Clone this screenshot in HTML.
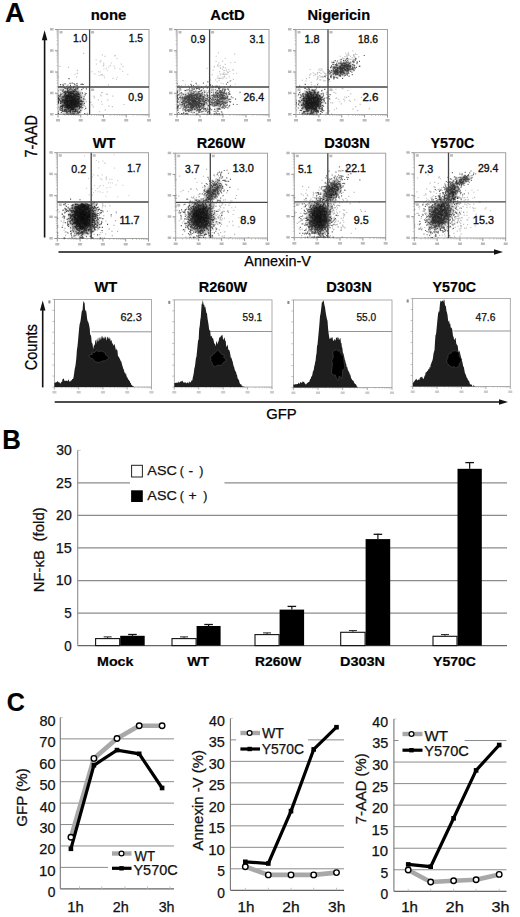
<!DOCTYPE html>
<html><head><meta charset="utf-8"><style>
html,body{margin:0;padding:0;background:#fff;}
body{width:520px;height:917px;overflow:hidden;}
svg{display:block;font-family:"Liberation Sans", sans-serif;}
</style></head><body>
<svg width="520" height="917" viewBox="0 0 520 917">
<defs><radialGradient id="cg"><stop offset="0" stop-color="#000" stop-opacity="1"/><stop offset="0.5" stop-color="#000" stop-opacity="0.85"/><stop offset="0.78" stop-color="#000" stop-opacity="0.35"/><stop offset="1" stop-color="#000" stop-opacity="0"/></radialGradient><clipPath id="c0"><rect x="58" y="29.5" width="91" height="85"/></clipPath><clipPath id="c1"><rect x="177" y="29.5" width="92" height="85"/></clipPath><clipPath id="c2"><rect x="296" y="29.5" width="91.5" height="85"/></clipPath><clipPath id="c3"><rect x="57.3" y="152.7" width="91.2" height="85.8"/></clipPath><clipPath id="c4"><rect x="57.3" y="203.5" width="91.2" height="35"/></clipPath><clipPath id="c5"><rect x="175.7" y="153.2" width="91.8" height="84.8"/></clipPath><clipPath id="c6"><rect x="294.3" y="153.2" width="91.4" height="84.4"/></clipPath><clipPath id="c7"><rect x="414.3" y="152.7" width="91.4" height="85.3"/></clipPath></defs>
<rect width="520" height="917" fill="#fff"/>
<text x="5.12" y="21.7" font-size="27.03" font-weight="bold" stroke="#000" stroke-width="0.2" fill="#000" textLength="19.59" lengthAdjust="spacingAndGlyphs">A</text>
<line x1="55" y1="114.5" x2="58" y2="114.5" stroke="#777" stroke-width="0.8"/>
<rect x="50" y="113" width="3.5" height="2.5" fill="#bbb"/>
<line x1="56.5" y1="108.1" x2="58" y2="108.1" stroke="#aaa" stroke-width="0.6"/>
<line x1="56.5" y1="104.36" x2="58" y2="104.36" stroke="#aaa" stroke-width="0.6"/>
<line x1="56.5" y1="101.71" x2="58" y2="101.71" stroke="#aaa" stroke-width="0.6"/>
<line x1="56.5" y1="99.65" x2="58" y2="99.65" stroke="#aaa" stroke-width="0.6"/>
<line x1="56.5" y1="97.96" x2="58" y2="97.96" stroke="#aaa" stroke-width="0.6"/>
<line x1="56.5" y1="96.54" x2="58" y2="96.54" stroke="#aaa" stroke-width="0.6"/>
<line x1="56.5" y1="95.31" x2="58" y2="95.31" stroke="#aaa" stroke-width="0.6"/>
<line x1="56.5" y1="94.22" x2="58" y2="94.22" stroke="#aaa" stroke-width="0.6"/>
<line x1="55" y1="93.25" x2="58" y2="93.25" stroke="#777" stroke-width="0.8"/>
<rect x="50" y="91.75" width="3.5" height="2.5" fill="#bbb"/>
<line x1="56.5" y1="86.85" x2="58" y2="86.85" stroke="#aaa" stroke-width="0.6"/>
<line x1="56.5" y1="83.11" x2="58" y2="83.11" stroke="#aaa" stroke-width="0.6"/>
<line x1="56.5" y1="80.46" x2="58" y2="80.46" stroke="#aaa" stroke-width="0.6"/>
<line x1="56.5" y1="78.4" x2="58" y2="78.4" stroke="#aaa" stroke-width="0.6"/>
<line x1="56.5" y1="76.71" x2="58" y2="76.71" stroke="#aaa" stroke-width="0.6"/>
<line x1="56.5" y1="75.29" x2="58" y2="75.29" stroke="#aaa" stroke-width="0.6"/>
<line x1="56.5" y1="74.06" x2="58" y2="74.06" stroke="#aaa" stroke-width="0.6"/>
<line x1="56.5" y1="72.97" x2="58" y2="72.97" stroke="#aaa" stroke-width="0.6"/>
<line x1="55" y1="72" x2="58" y2="72" stroke="#777" stroke-width="0.8"/>
<rect x="50" y="70.5" width="3.5" height="2.5" fill="#bbb"/>
<line x1="56.5" y1="65.6" x2="58" y2="65.6" stroke="#aaa" stroke-width="0.6"/>
<line x1="56.5" y1="61.86" x2="58" y2="61.86" stroke="#aaa" stroke-width="0.6"/>
<line x1="56.5" y1="59.21" x2="58" y2="59.21" stroke="#aaa" stroke-width="0.6"/>
<line x1="56.5" y1="57.15" x2="58" y2="57.15" stroke="#aaa" stroke-width="0.6"/>
<line x1="56.5" y1="55.46" x2="58" y2="55.46" stroke="#aaa" stroke-width="0.6"/>
<line x1="56.5" y1="54.04" x2="58" y2="54.04" stroke="#aaa" stroke-width="0.6"/>
<line x1="56.5" y1="52.81" x2="58" y2="52.81" stroke="#aaa" stroke-width="0.6"/>
<line x1="56.5" y1="51.72" x2="58" y2="51.72" stroke="#aaa" stroke-width="0.6"/>
<line x1="55" y1="50.75" x2="58" y2="50.75" stroke="#777" stroke-width="0.8"/>
<rect x="50" y="49.25" width="3.5" height="2.5" fill="#bbb"/>
<line x1="56.5" y1="44.35" x2="58" y2="44.35" stroke="#aaa" stroke-width="0.6"/>
<line x1="56.5" y1="40.61" x2="58" y2="40.61" stroke="#aaa" stroke-width="0.6"/>
<line x1="56.5" y1="37.96" x2="58" y2="37.96" stroke="#aaa" stroke-width="0.6"/>
<line x1="56.5" y1="35.9" x2="58" y2="35.9" stroke="#aaa" stroke-width="0.6"/>
<line x1="56.5" y1="34.21" x2="58" y2="34.21" stroke="#aaa" stroke-width="0.6"/>
<line x1="56.5" y1="32.79" x2="58" y2="32.79" stroke="#aaa" stroke-width="0.6"/>
<line x1="56.5" y1="31.56" x2="58" y2="31.56" stroke="#aaa" stroke-width="0.6"/>
<line x1="56.5" y1="30.47" x2="58" y2="30.47" stroke="#aaa" stroke-width="0.6"/>
<line x1="55" y1="29.5" x2="58" y2="29.5" stroke="#777" stroke-width="0.8"/>
<rect x="50" y="28" width="3.5" height="2.5" fill="#bbb"/>
<line x1="58" y1="114.5" x2="58" y2="117.5" stroke="#777" stroke-width="0.8"/>
<rect x="56" y="119" width="4" height="2.5" fill="#bbb"/>
<line x1="64.85" y1="114.5" x2="64.85" y2="116" stroke="#aaa" stroke-width="0.6"/>
<line x1="68.85" y1="114.5" x2="68.85" y2="116" stroke="#aaa" stroke-width="0.6"/>
<line x1="71.7" y1="114.5" x2="71.7" y2="116" stroke="#aaa" stroke-width="0.6"/>
<line x1="73.9" y1="114.5" x2="73.9" y2="116" stroke="#aaa" stroke-width="0.6"/>
<line x1="75.7" y1="114.5" x2="75.7" y2="116" stroke="#aaa" stroke-width="0.6"/>
<line x1="77.23" y1="114.5" x2="77.23" y2="116" stroke="#aaa" stroke-width="0.6"/>
<line x1="78.55" y1="114.5" x2="78.55" y2="116" stroke="#aaa" stroke-width="0.6"/>
<line x1="79.71" y1="114.5" x2="79.71" y2="116" stroke="#aaa" stroke-width="0.6"/>
<line x1="80.75" y1="114.5" x2="80.75" y2="117.5" stroke="#777" stroke-width="0.8"/>
<rect x="78.75" y="119" width="4" height="2.5" fill="#bbb"/>
<line x1="87.6" y1="114.5" x2="87.6" y2="116" stroke="#aaa" stroke-width="0.6"/>
<line x1="91.6" y1="114.5" x2="91.6" y2="116" stroke="#aaa" stroke-width="0.6"/>
<line x1="94.45" y1="114.5" x2="94.45" y2="116" stroke="#aaa" stroke-width="0.6"/>
<line x1="96.65" y1="114.5" x2="96.65" y2="116" stroke="#aaa" stroke-width="0.6"/>
<line x1="98.45" y1="114.5" x2="98.45" y2="116" stroke="#aaa" stroke-width="0.6"/>
<line x1="99.98" y1="114.5" x2="99.98" y2="116" stroke="#aaa" stroke-width="0.6"/>
<line x1="101.3" y1="114.5" x2="101.3" y2="116" stroke="#aaa" stroke-width="0.6"/>
<line x1="102.46" y1="114.5" x2="102.46" y2="116" stroke="#aaa" stroke-width="0.6"/>
<line x1="103.5" y1="114.5" x2="103.5" y2="117.5" stroke="#777" stroke-width="0.8"/>
<rect x="101.5" y="119" width="4" height="2.5" fill="#bbb"/>
<line x1="110.35" y1="114.5" x2="110.35" y2="116" stroke="#aaa" stroke-width="0.6"/>
<line x1="114.35" y1="114.5" x2="114.35" y2="116" stroke="#aaa" stroke-width="0.6"/>
<line x1="117.2" y1="114.5" x2="117.2" y2="116" stroke="#aaa" stroke-width="0.6"/>
<line x1="119.4" y1="114.5" x2="119.4" y2="116" stroke="#aaa" stroke-width="0.6"/>
<line x1="121.2" y1="114.5" x2="121.2" y2="116" stroke="#aaa" stroke-width="0.6"/>
<line x1="122.73" y1="114.5" x2="122.73" y2="116" stroke="#aaa" stroke-width="0.6"/>
<line x1="124.05" y1="114.5" x2="124.05" y2="116" stroke="#aaa" stroke-width="0.6"/>
<line x1="125.21" y1="114.5" x2="125.21" y2="116" stroke="#aaa" stroke-width="0.6"/>
<line x1="126.25" y1="114.5" x2="126.25" y2="117.5" stroke="#777" stroke-width="0.8"/>
<rect x="124.25" y="119" width="4" height="2.5" fill="#bbb"/>
<line x1="133.1" y1="114.5" x2="133.1" y2="116" stroke="#aaa" stroke-width="0.6"/>
<line x1="137.1" y1="114.5" x2="137.1" y2="116" stroke="#aaa" stroke-width="0.6"/>
<line x1="139.95" y1="114.5" x2="139.95" y2="116" stroke="#aaa" stroke-width="0.6"/>
<line x1="142.15" y1="114.5" x2="142.15" y2="116" stroke="#aaa" stroke-width="0.6"/>
<line x1="143.95" y1="114.5" x2="143.95" y2="116" stroke="#aaa" stroke-width="0.6"/>
<line x1="145.48" y1="114.5" x2="145.48" y2="116" stroke="#aaa" stroke-width="0.6"/>
<line x1="146.8" y1="114.5" x2="146.8" y2="116" stroke="#aaa" stroke-width="0.6"/>
<line x1="147.96" y1="114.5" x2="147.96" y2="116" stroke="#aaa" stroke-width="0.6"/>
<line x1="149" y1="114.5" x2="149" y2="117.5" stroke="#777" stroke-width="0.8"/>
<rect x="147" y="119" width="4" height="2.5" fill="#bbb"/>
<rect x="58" y="29.5" width="91" height="85" fill="none" stroke="#a2a2a2" stroke-width="1"/>
<ellipse cx="71.5" cy="101.5" rx="14" ry="16" transform="rotate(0 71.5 101.5)" fill="url(#cg)" opacity="0.722" clip-path="url(#c0)"/>
<path d="M69.0 104.3h1.15M69.2 99.0h1.15M65.3 99.6h1.15M76.5 103.8h1.15M76.1 102.6h1.15M72.6 102.2h1.15M61.3 106.6h1.15M73.2 104.2h1.15M61.1 89.7h1.15M65.5 98.0h1.15M72.1 100.7h1.15M73.3 96.8h1.15M72.1 103.6h1.15M66.8 112.2h1.15M73.5 108.8h1.15M67.0 96.2h1.15M68.5 100.3h1.15M73.9 102.6h1.15M68.0 94.8h1.15M67.6 108.9h1.15M66.0 102.6h1.15M72.8 91.3h1.15M70.7 109.5h1.15M59.3 98.9h1.15M69.8 95.7h1.15M73.2 100.6h1.15M62.4 106.4h1.15M74.1 107.1h1.15M78.3 103.4h1.15M71.1 92.6h1.15M73.8 97.0h1.15M67.9 92.8h1.15M65.1 97.5h1.15M77.5 87.8h1.15M62.4 102.6h1.15M78.4 104.8h1.15M60.0 84.6h1.15M72.4 96.2h1.15M64.3 107.4h1.15M76.5 102.0h1.15M71.8 103.8h1.15M79.2 105.0h1.15M73.3 104.6h1.15M61.8 109.3h1.15M75.7 104.4h1.15M59.6 96.9h1.15M75.1 89.2h1.15M69.4 107.6h1.15M63.2 111.5h1.15M73.5 100.0h1.15M72.2 105.2h1.15M71.1 108.4h1.15M66.8 98.3h1.15M76.2 101.2h1.15M65.6 107.2h1.15M78.5 98.1h1.15M62.8 100.1h1.15M69.6 99.1h1.15M78.2 94.3h1.15M77.4 92.8h1.15M66.1 105.1h1.15M76.6 106.6h1.15M72.3 101.9h1.15M71.3 104.7h1.15M69.5 102.8h1.15M73.6 101.0h1.15M74.6 104.7h1.15M81.5 103.1h1.15M68.1 98.6h1.15M70.4 107.0h1.15M68.6 103.5h1.15M80.5 84.3h1.15M64.2 102.6h1.15M72.6 102.6h1.15M68.1 105.3h1.15M72.0 97.6h1.15M83.8 103.3h1.15M67.4 100.4h1.15M69.2 100.6h1.15M57.9 97.8h1.15M76.0 93.4h1.15M70.1 107.2h1.15M75.1 110.7h1.15M61.1 98.7h1.15M68.5 105.1h1.15M76.4 83.6h1.15M76.4 91.6h1.15M74.2 91.3h1.15M71.4 108.8h1.15M69.6 102.2h1.15M74.8 101.9h1.15M69.9 111.0h1.15M76.2 99.1h1.15M85.5 93.5h1.15M75.5 99.3h1.15M71.2 105.6h1.15M71.6 105.2h1.15M62.0 91.2h1.15M73.8 94.7h1.15M64.8 91.4h1.15M77.4 105.9h1.15M78.5 94.9h1.15M70.4 93.6h1.15M74.6 111.3h1.15M65.5 111.1h1.15M75.9 99.8h1.15M59.6 110.1h1.15M69.9 97.1h1.15M72.6 103.7h1.15M78.7 94.4h1.15M76.7 110.7h1.15M78.4 99.8h1.15M66.3 107.6h1.15M71.1 101.8h1.15M78.3 99.3h1.15M57.9 98.5h1.15M60.2 106.3h1.15M72.2 97.0h1.15M70.4 106.4h1.15M70.9 109.6h1.15M70.1 107.8h1.15M78.6 111.5h1.15M66.7 106.7h1.15M60.1 94.0h1.15M59.6 107.9h1.15M63.6 100.9h1.15M69.4 100.8h1.15M67.2 102.5h1.15M80.3 101.3h1.15M73.3 107.5h1.15M69.3 92.8h1.15M67.4 108.0h1.15M61.4 97.1h1.15M76.0 106.2h1.15M70.5 106.2h1.15M71.3 93.3h1.15M61.8 96.8h1.15M75.5 97.3h1.15M65.5 96.0h1.15M62.0 100.2h1.15M63.9 103.4h1.15M57.9 103.1h1.15M66.9 88.4h1.15M74.4 99.2h1.15M58.2 95.3h1.15M72.0 98.0h1.15M74.7 105.9h1.15M74.1 103.1h1.15M77.8 105.3h1.15M72.9 87.5h1.15M75.4 109.5h1.15M68.8 97.9h1.15M81.1 89.6h1.15M73.0 114.0h1.15M65.3 105.5h1.15M80.8 100.2h1.15M73.5 106.9h1.15M65.4 100.4h1.15M72.0 106.4h1.15M70.2 99.7h1.15M64.8 98.7h1.15M75.3 101.7h1.15M65.7 95.5h1.15M85.1 108.4h1.15M73.9 84.1h1.15M73.8 104.1h1.15M79.7 103.8h1.15M70.1 104.4h1.15M59.7 107.7h1.15M72.2 96.4h1.15M77.7 112.8h1.15M62.7 96.7h1.15M72.0 102.2h1.15M68.2 94.7h1.15M82.1 107.7h1.15M63.9 92.3h1.15M79.8 107.4h1.15M80.4 106.3h1.15M65.6 102.7h1.15M58.5 96.1h1.15M70.1 104.4h1.15M66.4 100.2h1.15M72.9 103.4h1.15M73.9 102.4h1.15M68.6 106.1h1.15M70.7 95.6h1.15M67.0 101.0h1.15M69.8 102.0h1.15M70.4 102.1h1.15M69.7 92.8h1.15M72.7 107.8h1.15M72.8 99.8h1.15M72.9 94.7h1.15M60.0 101.4h1.15M65.3 105.8h1.15M64.5 83.9h1.15M64.7 111.3h1.15M68.3 92.1h1.15M66.2 104.4h1.15M73.2 102.1h1.15M78.6 105.6h1.15M70.3 104.9h1.15M79.5 107.3h1.15M76.1 94.0h1.15M69.6 105.7h1.15M68.8 107.9h1.15M73.7 106.9h1.15M69.3 114.0h1.15M77.2 99.6h1.15M70.9 114.0h1.15M68.5 106.7h1.15M75.8 101.0h1.15M64.0 102.2h1.15M72.4 108.3h1.15M74.7 101.2h1.15M75.1 104.5h1.15M71.6 101.4h1.15M69.1 105.5h1.15M64.6 96.9h1.15M70.5 91.5h1.15M68.0 87.9h1.15M66.7 104.7h1.15M73.5 100.6h1.15M69.1 91.8h1.15M80.5 104.4h1.15M76.4 95.3h1.15M69.4 89.2h1.15M74.7 107.1h1.15M60.0 100.7h1.15M73.9 89.5h1.15M60.4 94.1h1.15M67.0 91.9h1.15M70.6 102.6h1.15M73.9 105.6h1.15M78.7 108.6h1.15M63.2 97.7h1.15M64.6 94.0h1.15M70.0 101.0h1.15M73.1 90.7h1.15M63.6 100.8h1.15M69.3 99.0h1.15M70.1 96.1h1.15M74.3 103.3h1.15M69.9 96.6h1.15M69.5 83.3h1.15M65.0 101.2h1.15M62.2 102.3h1.15M71.2 92.0h1.15M69.0 99.0h1.15M73.0 105.0h1.15M70.2 95.5h1.15M69.6 100.6h1.15M74.5 102.9h1.15M66.5 92.2h1.15M68.4 96.2h1.15M64.3 100.2h1.15M67.7 101.7h1.15M73.3 98.3h1.15M83.2 98.9h1.15M76.5 101.8h1.15M76.6 85.6h1.15M66.3 102.6h1.15M73.7 114.0h1.15M72.2 109.3h1.15M74.6 107.2h1.15M73.2 100.0h1.15M73.2 94.0h1.15M76.9 94.4h1.15M71.8 114.0h1.15M69.2 101.1h1.15M76.8 101.2h1.15M66.0 102.7h1.15M73.6 105.6h1.15M66.2 112.4h1.15M79.6 101.1h1.15M71.9 98.2h1.15M78.2 96.4h1.15M74.1 97.9h1.15M66.6 105.7h1.15M77.8 100.9h1.15M66.7 106.3h1.15M70.2 103.0h1.15M78.8 108.4h1.15M67.6 114.0h1.15M70.4 106.1h1.15M66.9 100.7h1.15M60.8 112.6h1.15M77.9 93.1h1.15M62.1 90.5h1.15M76.9 98.0h1.15M70.1 99.0h1.15M69.8 93.9h1.15M70.6 91.7h1.15M70.0 103.0h1.15M73.0 99.5h1.15M65.5 102.0h1.15M67.8 111.2h1.15M74.6 100.3h1.15M67.8 96.4h1.15M65.3 98.7h1.15M72.0 104.4h1.15M73.6 114.0h1.15M66.5 101.1h1.15M85.8 88.9h1.15M67.6 102.1h1.15M71.3 103.7h1.15M69.1 103.4h1.15M70.7 106.0h1.15M60.0 95.2h1.15M70.4 94.3h1.15M64.7 105.1h1.15M66.9 105.1h1.15M74.5 103.0h1.15M73.2 100.3h1.15M62.7 100.8h1.15M72.9 97.6h1.15M69.9 105.9h1.15M65.6 105.2h1.15M80.7 97.4h1.15M71.2 100.0h1.15M78.9 103.1h1.15M75.4 96.5h1.15M70.3 100.9h1.15M60.7 110.4h1.15M75.4 89.6h1.15M74.5 100.1h1.15M72.9 103.4h1.15M62.2 99.6h1.15M78.6 97.3h1.15M64.8 92.2h1.15M63.7 103.2h1.15M79.7 103.8h1.15M71.8 114.0h1.15M67.6 96.6h1.15M73.3 104.6h1.15M64.8 93.4h1.15M72.0 102.6h1.15M63.2 99.7h1.15M67.4 104.0h1.15M69.8 100.4h1.15M68.5 107.8h1.15M78.1 98.6h1.15M75.1 96.1h1.15M70.8 105.9h1.15M78.8 98.5h1.15M70.0 102.3h1.15M62.2 101.1h1.15M66.7 103.4h1.15M64.2 88.2h1.15M70.6 102.7h1.15M67.4 106.8h1.15M68.9 97.1h1.15M73.1 90.8h1.15M66.7 100.9h1.15M75.1 99.9h1.15M72.1 96.7h1.15M72.1 111.8h1.15M66.6 114.0h1.15M66.9 101.1h1.15M71.4 107.7h1.15M63.6 87.3h1.15M73.8 106.2h1.15M73.9 114.0h1.15M71.6 102.7h1.15M75.5 103.4h1.15M79.6 93.0h1.15M68.4 78.6h1.15M74.9 98.6h1.15M75.5 114.0h1.15M70.4 99.3h1.15M67.7 95.6h1.15M67.0 105.2h1.15M70.6 101.4h1.15M69.5 106.9h1.15M73.1 100.1h1.15M74.1 100.0h1.15M64.1 110.5h1.15M73.0 94.8h1.15M76.4 103.2h1.15M61.8 111.5h1.15M72.3 106.8h1.15M71.5 100.0h1.15M61.9 107.3h1.15M70.6 99.1h1.15M72.4 101.5h1.15M74.1 98.6h1.15M70.2 87.1h1.15M68.1 105.4h1.15M77.8 98.6h1.15M69.8 111.3h1.15M68.6 105.8h1.15M79.7 101.3h1.15M77.2 96.4h1.15M71.6 100.5h1.15M71.1 108.3h1.15M83.6 96.7h1.15M67.3 104.2h1.15M64.6 104.2h1.15M73.6 99.2h1.15M73.3 90.9h1.15M74.6 91.0h1.15M66.6 97.4h1.15M68.2 106.6h1.15M70.9 98.4h1.15M73.4 111.3h1.15M70.5 103.4h1.15M77.2 102.7h1.15M63.4 114.0h1.15M82.6 88.1h1.15M70.2 103.7h1.15M75.7 105.3h1.15M68.9 94.2h1.15M71.0 107.7h1.15M64.4 94.3h1.15M70.3 88.4h1.15M69.0 98.2h1.15M72.9 96.4h1.15M65.6 98.4h1.15M70.2 96.7h1.15M70.5 105.9h1.15M76.9 112.1h1.15M66.1 98.3h1.15M57.9 113.3h1.15M66.4 100.8h1.15M73.3 92.2h1.15M73.0 100.8h1.15M60.4 102.9h1.15M77.0 88.9h1.15M74.9 102.4h1.15M73.0 103.9h1.15M77.6 99.5h1.15M75.2 98.3h1.15M74.4 95.7h1.15M69.8 112.3h1.15M72.9 100.0h1.15M64.1 95.9h1.15M71.5 107.1h1.15M72.8 104.4h1.15M70.2 109.8h1.15M68.3 97.4h1.15M75.3 101.4h1.15M68.9 97.3h1.15M69.0 105.1h1.15M72.4 93.1h1.15M72.8 102.2h1.15M64.9 106.0h1.15M68.9 98.8h1.15M74.8 109.6h1.15M66.6 103.8h1.15M65.6 114.0h1.15M67.7 108.8h1.15M66.9 106.3h1.15M82.6 84.5h1.15M68.0 104.3h1.15M69.9 96.7h1.15M82.3 101.5h1.15M61.4 106.6h1.15M61.0 108.5h1.15M67.2 101.9h1.15M77.4 101.8h1.15M62.8 90.0h1.15M76.9 105.8h1.15M65.9 106.6h1.15M73.2 105.2h1.15M58.0 99.0h1.15M75.4 105.8h1.15M75.3 85.0h1.15M71.4 104.2h1.15M84.5 94.8h1.15M68.6 101.2h1.15M75.3 98.1h1.15M76.7 95.9h1.15M71.9 97.6h1.15M71.3 96.5h1.15M61.6 108.1h1.15M72.1 97.4h1.15M71.5 107.4h1.15M65.0 100.3h1.15M73.4 104.4h1.15M68.6 87.3h1.15M77.3 103.1h1.15M70.5 99.2h1.15M71.9 98.2h1.15M64.8 96.2h1.15M67.1 97.0h1.15M64.1 105.1h1.15M63.2 105.3h1.15M64.8 103.3h1.15M78.0 102.3h1.15M66.4 101.3h1.15M71.2 89.7h1.15M67.1 102.1h1.15M67.8 101.5h1.15M74.5 106.0h1.15M75.4 104.8h1.15M68.8 100.9h1.15M68.9 99.0h1.15M69.4 89.8h1.15M68.6 100.8h1.15M65.1 100.8h1.15M73.3 99.9h1.15M81.8 84.1h1.15M69.3 89.1h1.15M75.8 114.0h1.15M57.9 101.8h1.15M73.3 99.0h1.15M73.5 86.4h1.15M75.1 103.4h1.15M70.6 97.2h1.15M73.9 97.8h1.15M71.7 97.7h1.15M58.1 100.8h1.15M71.5 105.9h1.15M65.6 100.8h1.15M73.8 101.9h1.15M77.3 113.9h1.15M65.4 88.5h1.15M75.1 110.9h1.15M75.5 106.3h1.15M67.0 96.4h1.15M75.3 95.1h1.15M60.5 94.5h1.15M84.1 113.5h1.15M66.6 96.3h1.15M71.7 96.1h1.15M77.6 100.5h1.15M64.5 109.5h1.15M67.2 102.4h1.15M70.4 99.0h1.15M72.2 96.5h1.15M60.3 86.6h1.15M63.5 96.1h1.15M70.3 101.4h1.15M73.5 101.8h1.15M66.1 96.4h1.15M58.8 99.9h1.15M73.1 104.4h1.15M69.8 99.9h1.15M75.6 101.1h1.15M74.5 104.8h1.15M71.6 109.5h1.15M67.3 98.7h1.15M66.0 95.8h1.15M79.0 112.4h1.15M70.6 104.7h1.15M76.9 106.2h1.15M77.1 92.8h1.15M66.9 103.9h1.15M78.3 101.7h1.15M65.7 98.7h1.15M66.8 95.4h1.15M78.7 96.9h1.15M70.5 114.0h1.15M76.9 103.2h1.15M67.1 103.7h1.15M79.3 105.0h1.15M77.4 101.6h1.15M73.3 99.7h1.15M72.8 109.5h1.15M62.6 100.6h1.15M71.7 97.3h1.15M68.7 106.1h1.15M81.4 105.1h1.15M72.2 90.9h1.15M81.0 101.5h1.15M70.2 93.7h1.15M70.1 93.9h1.15M70.8 104.0h1.15M70.6 102.8h1.15M65.7 110.3h1.15M66.8 89.2h1.15M69.4 96.0h1.15M64.9 98.7h1.15M72.0 93.3h1.15M69.7 110.3h1.15M74.2 100.0h1.15M71.1 100.2h1.15M70.2 105.8h1.15M69.9 85.4h1.15M70.3 95.2h1.15M74.0 97.0h1.15M71.2 114.0h1.15M64.7 93.7h1.15M62.7 85.4h1.15M60.1 103.4h1.15M66.9 88.9h1.15M62.3 105.0h1.15M66.2 98.6h1.15M72.2 109.8h1.15M81.1 107.7h1.15M71.2 102.2h1.15M80.3 110.3h1.15M68.7 104.0h1.15M72.0 101.3h1.15M67.7 92.4h1.15M67.5 91.0h1.15M77.2 104.5h1.15M63.8 110.1h1.15M75.3 88.6h1.15M80.6 106.3h1.15M81.8 93.0h1.15M73.3 103.8h1.15M71.5 102.1h1.15M76.2 91.3h1.15M63.6 91.9h1.15M67.4 97.1h1.15M72.4 102.7h1.15M70.6 96.6h1.15M68.0 107.2h1.15M74.6 101.7h1.15M68.7 111.1h1.15M67.2 105.2h1.15M76.8 99.3h1.15M75.0 93.7h1.15M76.0 102.3h1.15M61.7 105.4h1.15M65.5 109.3h1.15M66.7 99.9h1.15M72.0 98.8h1.15M71.9 97.4h1.15M74.1 101.0h1.15M71.6 83.1h1.15M76.8 101.2h1.15M60.6 101.6h1.15M73.0 108.0h1.15M64.5 111.1h1.15M69.5 114.0h1.15M69.6 105.4h1.15M68.4 93.7h1.15M76.5 106.9h1.15M78.9 106.6h1.15M67.3 90.2h1.15M66.8 96.6h1.15M65.9 104.8h1.15M72.2 99.2h1.15M71.4 100.1h1.15M71.6 105.9h1.15M75.7 96.5h1.15M62.1 110.3h1.15M71.1 108.2h1.15M61.4 98.9h1.15M70.6 91.6h1.15M67.6 105.7h1.15M76.4 111.4h1.15M65.7 91.9h1.15M73.3 107.1h1.15M71.5 92.5h1.15M74.7 106.2h1.15M73.5 97.8h1.15M72.1 106.1h1.15" stroke="#000" stroke-width="1.15" stroke-opacity="0.67" fill="none"/>
<path d="M66.0 86.3h1.15M73.1 104.8h1.15M70.5 108.1h1.15M65.7 100.3h1.15M68.0 105.6h1.15M83.2 99.0h1.15M86.9 113.2h1.15M76.8 105.7h1.15M84.6 99.6h1.15M69.5 92.5h1.15M74.2 111.8h1.15M74.7 104.4h1.15M68.8 102.4h1.15M59.0 109.4h1.15M67.1 92.2h1.15M64.4 94.4h1.15M77.3 109.5h1.15M59.6 108.4h1.15M77.5 96.4h1.15M58.5 95.0h1.15M65.4 103.7h1.15M67.6 84.8h1.15M72.3 88.7h1.15M77.7 91.3h1.15M64.9 94.2h1.15M66.1 111.4h1.15M77.2 105.8h1.15M73.0 88.6h1.15M66.3 96.6h1.15M62.6 105.1h1.15M64.5 95.3h1.15M62.1 84.5h1.15M75.2 111.6h1.15M71.8 93.2h1.15M57.9 102.4h1.15M80.2 103.4h1.15M77.8 112.8h1.15M79.4 97.5h1.15M78.8 107.2h1.15M58.1 97.8h1.15M59.0 100.1h1.15M75.1 92.5h1.15M57.9 111.4h1.15M73.4 112.8h1.15M59.8 109.5h1.15M87.0 114.0h1.15M68.7 103.2h1.15M69.2 109.0h1.15M78.7 101.7h1.15M59.6 106.9h1.15M66.7 106.0h1.15M72.5 114.0h1.15M79.5 97.4h1.15M73.2 114.0h1.15M66.1 104.5h1.15M80.0 111.1h1.15M74.6 90.4h1.15M60.3 103.0h1.15M73.5 114.0h1.15M63.5 110.1h1.15M76.6 87.6h1.15M63.9 102.3h1.15M66.5 99.8h1.15M74.2 94.5h1.15M74.2 95.9h1.15M66.1 105.3h1.15M65.8 103.3h1.15M83.2 101.2h1.15M69.3 106.9h1.15M67.5 109.7h1.15M60.2 105.9h1.15M66.3 94.6h1.15M84.6 94.2h1.15M84.5 106.3h1.15M82.0 93.2h1.15M80.0 112.7h1.15M69.5 100.0h1.15M90.1 102.4h1.15M67.0 96.0h1.15M74.0 103.6h1.15M71.8 114.0h1.15M67.8 104.8h1.15M82.1 93.0h1.15M78.7 114.0h1.15M59.6 92.2h1.15M62.1 86.2h1.15M74.0 86.2h1.15M74.4 112.6h1.15M57.9 98.5h1.15M57.9 107.2h1.15M64.5 98.9h1.15M70.9 105.4h1.15M67.7 101.1h1.15M66.1 101.9h1.15M61.0 101.5h1.15M57.9 97.1h1.15M85.7 101.6h1.15M60.3 103.1h1.15M62.6 87.8h1.15M64.5 106.9h1.15M73.5 100.2h1.15M63.0 92.4h1.15M81.2 103.0h1.15M62.8 84.1h1.15M59.5 114.0h1.15M61.2 100.4h1.15M72.1 99.7h1.15M68.2 90.0h1.15M62.0 114.0h1.15M64.4 107.8h1.15M57.9 98.8h1.15M72.5 109.3h1.15M61.4 105.8h1.15M73.5 95.1h1.15M74.2 93.8h1.15M64.1 100.8h1.15M57.9 100.1h1.15M62.4 89.3h1.15M67.0 107.1h1.15M67.2 111.1h1.15M61.1 90.5h1.15M82.8 104.2h1.15M78.0 94.4h1.15M76.9 103.1h1.15M75.6 101.2h1.15M80.1 95.8h1.15M62.7 89.2h1.15M79.7 95.1h1.15M62.1 93.5h1.15M66.9 90.8h1.15M68.1 96.0h1.15M66.0 93.3h1.15M70.7 97.3h1.15M71.3 103.0h1.15M73.1 83.5h1.15M66.1 94.6h1.15M76.6 88.4h1.15M64.7 98.6h1.15M67.7 108.9h1.15M66.9 108.7h1.15M58.7 86.5h1.15M80.2 104.5h1.15M74.3 102.0h1.15M74.3 91.3h1.15M78.0 96.7h1.15M78.3 101.7h1.15M57.9 90.7h1.15M79.4 99.9h1.15M67.3 102.9h1.15M67.0 96.6h1.15M71.2 102.2h1.15M82.6 101.4h1.15M85.5 114.0h1.15M84.2 109.5h1.15M71.5 102.1h1.15M69.3 95.2h1.15M69.9 95.9h1.15M83.5 105.3h1.15M66.9 85.7h1.15M70.0 97.7h1.15" stroke="#000" stroke-width="1.15" stroke-opacity="0.3" fill="none"/>
<path d="M100.3 60.6h1.15M91.5 71.7h1.15M107.9 84.8h1.15M108.2 67.0h1.15M119.3 68.9h1.15M109.7 65.6h1.15M103.9 77.7h1.15M115.9 79.2h1.15M105.8 68.2h1.15M101.8 74.3h1.15M98.0 71.7h1.15M116.6 77.2h1.15M101.4 75.1h1.15M103.1 63.1h1.15M98.5 75.5h1.15M120.8 64.1h1.15M102.7 65.8h1.15M127.2 74.5h1.15M104.4 56.3h1.15M103.4 75.7h1.15M122.4 66.3h1.15M103.2 64.7h1.15M94.3 73.9h1.15M100.3 74.9h1.15M95.6 59.7h1.15M110.6 63.0h1.15M114.3 68.1h1.15M99.6 72.0h1.15M114.7 55.6h1.15M122.1 71.2h1.15M114.1 55.9h1.15M103.0 65.7h1.15M116.5 58.5h1.15M101.8 54.8h1.15M106.6 70.2h1.15M95.8 64.2h1.15M112.3 78.3h1.15M113.4 66.0h1.15M99.6 61.9h1.15M103.4 69.0h1.15" stroke="#000" stroke-width="1.15" stroke-opacity="0.22" fill="none"/>
<path d="M99.0 111.7h1.15M101.7 92.5h1.15M111.8 106.6h1.15M100.2 95.0h1.15M84.5 92.8h1.15M106.7 94.4h1.15M88.9 101.4h1.15M101.4 104.2h1.15M104.7 109.9h1.15M92.7 106.9h1.15M91.5 104.9h1.15M100.9 101.7h1.15M107.2 99.9h1.15M108.3 106.1h1.15M100.5 96.0h1.15M93.4 96.3h1.15M97.8 99.8h1.15M123.3 104.5h1.15M105.6 94.0h1.15M93.7 97.8h1.15M101.0 92.7h1.15M112.3 96.1h1.15" stroke="#000" stroke-width="1.15" stroke-opacity="0.25" fill="none"/>
<path d="M83.1 53.3h1.15M74.4 74.2h1.15M76.0 76.8h1.15M76.7 73.3h1.15M59.3 66.3h1.15M57.9 77.0h1.15M76.9 70.4h1.15M67.9 67.3h1.15" stroke="#000" stroke-width="1.15" stroke-opacity="0.25" fill="none"/>
<line x1="89.6" y1="29.5" x2="89.6" y2="114.5" stroke="#454545" stroke-width="1.3"/>
<line x1="58" y1="87" x2="149" y2="87" stroke="#454545" stroke-width="1.3"/>
<rect x="59.5" y="31" width="3" height="2.5" fill="#bbb"/>
<rect x="91.1" y="31" width="3" height="2.5" fill="#bbb"/>
<rect x="59.5" y="88.5" width="3" height="2.5" fill="#bbb"/>
<rect x="91.1" y="88.5" width="3" height="2.5" fill="#bbb"/>
<text x="90.72" y="20.1" font-size="14.53" font-weight="bold" stroke="#000" stroke-width="0.2" fill="#000" textLength="35.59" lengthAdjust="spacingAndGlyphs">none</text>
<text x="72.96" y="42.4" font-size="10.32" stroke="#111" stroke-width="0.35" fill="#111" textLength="14.45" lengthAdjust="spacingAndGlyphs">1.0</text>
<text x="128.72" y="42.4" font-size="10.32" stroke="#111" stroke-width="0.35" fill="#111" textLength="14.21" lengthAdjust="spacingAndGlyphs">1.5</text>
<text x="128.39" y="101.1" font-size="10.32" stroke="#111" stroke-width="0.35" fill="#111" textLength="14.61" lengthAdjust="spacingAndGlyphs">0.9</text>
<line x1="174" y1="114.5" x2="177" y2="114.5" stroke="#777" stroke-width="0.8"/>
<rect x="169" y="113" width="3.5" height="2.5" fill="#bbb"/>
<line x1="175.5" y1="108.1" x2="177" y2="108.1" stroke="#aaa" stroke-width="0.6"/>
<line x1="175.5" y1="104.36" x2="177" y2="104.36" stroke="#aaa" stroke-width="0.6"/>
<line x1="175.5" y1="101.71" x2="177" y2="101.71" stroke="#aaa" stroke-width="0.6"/>
<line x1="175.5" y1="99.65" x2="177" y2="99.65" stroke="#aaa" stroke-width="0.6"/>
<line x1="175.5" y1="97.96" x2="177" y2="97.96" stroke="#aaa" stroke-width="0.6"/>
<line x1="175.5" y1="96.54" x2="177" y2="96.54" stroke="#aaa" stroke-width="0.6"/>
<line x1="175.5" y1="95.31" x2="177" y2="95.31" stroke="#aaa" stroke-width="0.6"/>
<line x1="175.5" y1="94.22" x2="177" y2="94.22" stroke="#aaa" stroke-width="0.6"/>
<line x1="174" y1="93.25" x2="177" y2="93.25" stroke="#777" stroke-width="0.8"/>
<rect x="169" y="91.75" width="3.5" height="2.5" fill="#bbb"/>
<line x1="175.5" y1="86.85" x2="177" y2="86.85" stroke="#aaa" stroke-width="0.6"/>
<line x1="175.5" y1="83.11" x2="177" y2="83.11" stroke="#aaa" stroke-width="0.6"/>
<line x1="175.5" y1="80.46" x2="177" y2="80.46" stroke="#aaa" stroke-width="0.6"/>
<line x1="175.5" y1="78.4" x2="177" y2="78.4" stroke="#aaa" stroke-width="0.6"/>
<line x1="175.5" y1="76.71" x2="177" y2="76.71" stroke="#aaa" stroke-width="0.6"/>
<line x1="175.5" y1="75.29" x2="177" y2="75.29" stroke="#aaa" stroke-width="0.6"/>
<line x1="175.5" y1="74.06" x2="177" y2="74.06" stroke="#aaa" stroke-width="0.6"/>
<line x1="175.5" y1="72.97" x2="177" y2="72.97" stroke="#aaa" stroke-width="0.6"/>
<line x1="174" y1="72" x2="177" y2="72" stroke="#777" stroke-width="0.8"/>
<rect x="169" y="70.5" width="3.5" height="2.5" fill="#bbb"/>
<line x1="175.5" y1="65.6" x2="177" y2="65.6" stroke="#aaa" stroke-width="0.6"/>
<line x1="175.5" y1="61.86" x2="177" y2="61.86" stroke="#aaa" stroke-width="0.6"/>
<line x1="175.5" y1="59.21" x2="177" y2="59.21" stroke="#aaa" stroke-width="0.6"/>
<line x1="175.5" y1="57.15" x2="177" y2="57.15" stroke="#aaa" stroke-width="0.6"/>
<line x1="175.5" y1="55.46" x2="177" y2="55.46" stroke="#aaa" stroke-width="0.6"/>
<line x1="175.5" y1="54.04" x2="177" y2="54.04" stroke="#aaa" stroke-width="0.6"/>
<line x1="175.5" y1="52.81" x2="177" y2="52.81" stroke="#aaa" stroke-width="0.6"/>
<line x1="175.5" y1="51.72" x2="177" y2="51.72" stroke="#aaa" stroke-width="0.6"/>
<line x1="174" y1="50.75" x2="177" y2="50.75" stroke="#777" stroke-width="0.8"/>
<rect x="169" y="49.25" width="3.5" height="2.5" fill="#bbb"/>
<line x1="175.5" y1="44.35" x2="177" y2="44.35" stroke="#aaa" stroke-width="0.6"/>
<line x1="175.5" y1="40.61" x2="177" y2="40.61" stroke="#aaa" stroke-width="0.6"/>
<line x1="175.5" y1="37.96" x2="177" y2="37.96" stroke="#aaa" stroke-width="0.6"/>
<line x1="175.5" y1="35.9" x2="177" y2="35.9" stroke="#aaa" stroke-width="0.6"/>
<line x1="175.5" y1="34.21" x2="177" y2="34.21" stroke="#aaa" stroke-width="0.6"/>
<line x1="175.5" y1="32.79" x2="177" y2="32.79" stroke="#aaa" stroke-width="0.6"/>
<line x1="175.5" y1="31.56" x2="177" y2="31.56" stroke="#aaa" stroke-width="0.6"/>
<line x1="175.5" y1="30.47" x2="177" y2="30.47" stroke="#aaa" stroke-width="0.6"/>
<line x1="174" y1="29.5" x2="177" y2="29.5" stroke="#777" stroke-width="0.8"/>
<rect x="169" y="28" width="3.5" height="2.5" fill="#bbb"/>
<line x1="177" y1="114.5" x2="177" y2="117.5" stroke="#777" stroke-width="0.8"/>
<rect x="175" y="119" width="4" height="2.5" fill="#bbb"/>
<line x1="183.92" y1="114.5" x2="183.92" y2="116" stroke="#aaa" stroke-width="0.6"/>
<line x1="187.97" y1="114.5" x2="187.97" y2="116" stroke="#aaa" stroke-width="0.6"/>
<line x1="190.85" y1="114.5" x2="190.85" y2="116" stroke="#aaa" stroke-width="0.6"/>
<line x1="193.08" y1="114.5" x2="193.08" y2="116" stroke="#aaa" stroke-width="0.6"/>
<line x1="194.9" y1="114.5" x2="194.9" y2="116" stroke="#aaa" stroke-width="0.6"/>
<line x1="196.44" y1="114.5" x2="196.44" y2="116" stroke="#aaa" stroke-width="0.6"/>
<line x1="197.77" y1="114.5" x2="197.77" y2="116" stroke="#aaa" stroke-width="0.6"/>
<line x1="198.95" y1="114.5" x2="198.95" y2="116" stroke="#aaa" stroke-width="0.6"/>
<line x1="200" y1="114.5" x2="200" y2="117.5" stroke="#777" stroke-width="0.8"/>
<rect x="198" y="119" width="4" height="2.5" fill="#bbb"/>
<line x1="206.92" y1="114.5" x2="206.92" y2="116" stroke="#aaa" stroke-width="0.6"/>
<line x1="210.97" y1="114.5" x2="210.97" y2="116" stroke="#aaa" stroke-width="0.6"/>
<line x1="213.85" y1="114.5" x2="213.85" y2="116" stroke="#aaa" stroke-width="0.6"/>
<line x1="216.08" y1="114.5" x2="216.08" y2="116" stroke="#aaa" stroke-width="0.6"/>
<line x1="217.9" y1="114.5" x2="217.9" y2="116" stroke="#aaa" stroke-width="0.6"/>
<line x1="219.44" y1="114.5" x2="219.44" y2="116" stroke="#aaa" stroke-width="0.6"/>
<line x1="220.77" y1="114.5" x2="220.77" y2="116" stroke="#aaa" stroke-width="0.6"/>
<line x1="221.95" y1="114.5" x2="221.95" y2="116" stroke="#aaa" stroke-width="0.6"/>
<line x1="223" y1="114.5" x2="223" y2="117.5" stroke="#777" stroke-width="0.8"/>
<rect x="221" y="119" width="4" height="2.5" fill="#bbb"/>
<line x1="229.92" y1="114.5" x2="229.92" y2="116" stroke="#aaa" stroke-width="0.6"/>
<line x1="233.97" y1="114.5" x2="233.97" y2="116" stroke="#aaa" stroke-width="0.6"/>
<line x1="236.85" y1="114.5" x2="236.85" y2="116" stroke="#aaa" stroke-width="0.6"/>
<line x1="239.08" y1="114.5" x2="239.08" y2="116" stroke="#aaa" stroke-width="0.6"/>
<line x1="240.9" y1="114.5" x2="240.9" y2="116" stroke="#aaa" stroke-width="0.6"/>
<line x1="242.44" y1="114.5" x2="242.44" y2="116" stroke="#aaa" stroke-width="0.6"/>
<line x1="243.77" y1="114.5" x2="243.77" y2="116" stroke="#aaa" stroke-width="0.6"/>
<line x1="244.95" y1="114.5" x2="244.95" y2="116" stroke="#aaa" stroke-width="0.6"/>
<line x1="246" y1="114.5" x2="246" y2="117.5" stroke="#777" stroke-width="0.8"/>
<rect x="244" y="119" width="4" height="2.5" fill="#bbb"/>
<line x1="252.92" y1="114.5" x2="252.92" y2="116" stroke="#aaa" stroke-width="0.6"/>
<line x1="256.97" y1="114.5" x2="256.97" y2="116" stroke="#aaa" stroke-width="0.6"/>
<line x1="259.85" y1="114.5" x2="259.85" y2="116" stroke="#aaa" stroke-width="0.6"/>
<line x1="262.08" y1="114.5" x2="262.08" y2="116" stroke="#aaa" stroke-width="0.6"/>
<line x1="263.9" y1="114.5" x2="263.9" y2="116" stroke="#aaa" stroke-width="0.6"/>
<line x1="265.44" y1="114.5" x2="265.44" y2="116" stroke="#aaa" stroke-width="0.6"/>
<line x1="266.77" y1="114.5" x2="266.77" y2="116" stroke="#aaa" stroke-width="0.6"/>
<line x1="267.95" y1="114.5" x2="267.95" y2="116" stroke="#aaa" stroke-width="0.6"/>
<line x1="269" y1="114.5" x2="269" y2="117.5" stroke="#777" stroke-width="0.8"/>
<rect x="267" y="119" width="4" height="2.5" fill="#bbb"/>
<rect x="177" y="29.5" width="92" height="85" fill="none" stroke="#a2a2a2" stroke-width="1"/>
<ellipse cx="193.5" cy="101.5" rx="16" ry="12" transform="rotate(0 193.5 101.5)" fill="url(#cg)" opacity="0.425" clip-path="url(#c1)"/>
<ellipse cx="220" cy="99" rx="9.5" ry="11.5" transform="rotate(15 220 99)" fill="url(#cg)" opacity="0.323" clip-path="url(#c1)"/>
<path d="M207.2 112.3h1.15M192.0 109.4h1.15M179.7 88.4h1.15M188.6 95.3h1.15M188.0 102.2h1.15M216.6 96.7h1.15M192.8 102.8h1.15M192.2 107.1h1.15M206.6 92.9h1.15M193.7 99.3h1.15M195.3 91.0h1.15M178.4 85.9h1.15M196.6 102.2h1.15M193.0 85.6h1.15M189.4 96.1h1.15M181.1 95.0h1.15M198.0 104.5h1.15M192.2 104.3h1.15M187.6 101.5h1.15M192.7 104.6h1.15M191.9 100.1h1.15M191.3 96.8h1.15M210.3 104.3h1.15M195.9 114.0h1.15M203.6 90.9h1.15M198.0 106.4h1.15M207.5 109.6h1.15M198.6 93.3h1.15M185.5 102.7h1.15M196.5 94.4h1.15M189.3 98.4h1.15M192.9 103.2h1.15M190.1 93.0h1.15M202.4 111.4h1.15M191.6 107.7h1.15M196.0 105.3h1.15M196.3 96.0h1.15M197.0 107.6h1.15M185.3 113.8h1.15M209.1 112.8h1.15M208.3 105.8h1.15M189.7 97.1h1.15M185.9 101.8h1.15M192.2 105.4h1.15M176.9 114.0h1.15M210.6 100.8h1.15M197.8 104.1h1.15M194.6 99.6h1.15M191.4 95.6h1.15M193.9 100.8h1.15M195.0 95.4h1.15M192.7 101.3h1.15M197.3 94.1h1.15M195.8 107.4h1.15M197.2 98.6h1.15M188.5 99.5h1.15M198.3 111.1h1.15M191.2 96.8h1.15M195.4 102.3h1.15M185.2 96.2h1.15M191.6 105.4h1.15M182.9 94.4h1.15M196.4 93.0h1.15M193.3 103.3h1.15M191.5 94.4h1.15M191.9 98.8h1.15M195.1 95.5h1.15M201.2 90.1h1.15M191.0 101.1h1.15M200.1 97.0h1.15M196.8 97.3h1.15M198.3 112.3h1.15M189.2 103.9h1.15M185.0 107.3h1.15M202.1 101.2h1.15M183.3 103.6h1.15M201.6 108.1h1.15M198.9 89.1h1.15M187.0 110.2h1.15M182.6 108.4h1.15M207.5 106.0h1.15M201.4 98.8h1.15M182.6 100.3h1.15M190.8 100.7h1.15M198.0 100.1h1.15M194.0 103.8h1.15M192.4 113.0h1.15M196.0 101.5h1.15M190.8 96.9h1.15M203.2 102.0h1.15M183.8 97.3h1.15M191.3 98.1h1.15M201.1 93.4h1.15M196.4 101.9h1.15M183.0 101.3h1.15M191.7 104.3h1.15M188.8 103.0h1.15M179.1 94.0h1.15M198.7 107.8h1.15M192.3 97.1h1.15M201.1 87.4h1.15M186.0 105.4h1.15M197.6 94.3h1.15M177.3 110.4h1.15M193.6 95.2h1.15M192.9 106.9h1.15M176.9 108.2h1.15M198.3 87.5h1.15M198.6 89.4h1.15M201.5 103.6h1.15M210.4 97.0h1.15M192.5 107.8h1.15M187.3 96.4h1.15M189.5 100.5h1.15M183.8 104.1h1.15M196.8 101.5h1.15M206.0 98.9h1.15M202.9 97.4h1.15M198.5 88.4h1.15M194.0 99.9h1.15M188.5 97.0h1.15M189.6 96.3h1.15M176.9 97.1h1.15M188.0 97.6h1.15M184.0 100.1h1.15M198.7 99.4h1.15M188.5 109.8h1.15M200.2 107.0h1.15M201.7 98.9h1.15M191.4 108.2h1.15M188.0 100.2h1.15M195.4 103.4h1.15M190.2 107.4h1.15M191.0 105.7h1.15M201.0 105.3h1.15M198.3 93.5h1.15M181.9 97.0h1.15M196.2 110.8h1.15M182.6 103.0h1.15M185.6 96.2h1.15M190.2 105.5h1.15M194.1 108.7h1.15M184.5 106.8h1.15M199.9 101.5h1.15M196.2 97.3h1.15M183.7 98.4h1.15M187.3 114.0h1.15M188.5 111.7h1.15M194.0 103.0h1.15M198.4 95.9h1.15M199.8 103.4h1.15M180.3 104.9h1.15M196.8 103.9h1.15M205.1 98.3h1.15M196.5 105.9h1.15M185.2 108.8h1.15M180.8 92.5h1.15M196.6 93.9h1.15M191.5 90.3h1.15M193.0 93.6h1.15M195.2 91.0h1.15M196.0 99.3h1.15M192.9 100.6h1.15M193.5 92.4h1.15M176.9 101.2h1.15M184.9 98.0h1.15M195.8 88.1h1.15M186.3 97.0h1.15M184.0 103.1h1.15M191.3 95.7h1.15M184.5 106.2h1.15M187.1 104.8h1.15M196.0 88.7h1.15M183.8 101.0h1.15M195.2 106.1h1.15M198.8 107.7h1.15M189.4 99.6h1.15M198.6 98.2h1.15M200.9 90.7h1.15M197.7 99.9h1.15M176.9 107.4h1.15M194.9 101.1h1.15M183.8 98.0h1.15M204.5 95.6h1.15M176.9 95.4h1.15M182.8 100.1h1.15M189.3 95.1h1.15M185.7 107.8h1.15M180.9 113.7h1.15M188.1 93.9h1.15M198.7 104.7h1.15M184.1 105.9h1.15M177.7 95.0h1.15M201.4 99.3h1.15M182.0 104.3h1.15M199.8 100.9h1.15M178.0 98.7h1.15M195.8 106.0h1.15M207.2 99.4h1.15M188.6 100.8h1.15M202.1 94.9h1.15M202.9 83.1h1.15M198.8 96.6h1.15M196.1 105.5h1.15M183.0 100.4h1.15M194.4 104.8h1.15M185.0 94.6h1.15M177.0 114.0h1.15M190.9 99.6h1.15M180.5 107.0h1.15M188.1 110.3h1.15M199.2 101.1h1.15M198.2 93.8h1.15M189.8 97.3h1.15M182.3 101.1h1.15M191.3 110.3h1.15M176.9 96.6h1.15M185.1 98.0h1.15M195.8 103.6h1.15M192.7 97.9h1.15M196.4 103.3h1.15M177.7 99.3h1.15M181.4 93.3h1.15M193.6 101.4h1.15M193.3 95.3h1.15M190.8 95.1h1.15M195.5 105.5h1.15M206.5 109.2h1.15M186.0 98.0h1.15M184.9 103.0h1.15M208.3 105.6h1.15M176.9 92.8h1.15M182.1 104.3h1.15M192.4 102.9h1.15M206.7 95.6h1.15M185.6 113.8h1.15M195.2 95.9h1.15M176.9 91.1h1.15M176.9 101.4h1.15M192.8 107.5h1.15M191.3 96.5h1.15M186.5 113.4h1.15M178.3 102.1h1.15M192.6 105.0h1.15M189.2 104.2h1.15M198.9 100.0h1.15M188.8 99.8h1.15M184.7 99.6h1.15M190.0 102.4h1.15M203.1 109.5h1.15M188.9 104.9h1.15M194.8 106.0h1.15M192.6 102.7h1.15M188.7 95.9h1.15M199.4 109.4h1.15M197.7 103.8h1.15M194.6 98.1h1.15M178.2 105.3h1.15M194.0 97.4h1.15M184.7 109.3h1.15M178.0 112.5h1.15M197.5 114.0h1.15M186.7 100.9h1.15M188.4 102.0h1.15M190.7 96.1h1.15M201.0 95.9h1.15M188.4 104.6h1.15M188.1 98.2h1.15M195.3 98.6h1.15M182.5 100.3h1.15M190.7 112.1h1.15M183.6 107.3h1.15M186.1 98.7h1.15M189.8 102.8h1.15M199.3 112.4h1.15M187.3 109.6h1.15M200.4 106.3h1.15M186.4 106.9h1.15M191.6 103.3h1.15M190.3 105.3h1.15M201.3 108.4h1.15M190.8 107.5h1.15M204.0 94.9h1.15M204.2 92.3h1.15M196.8 104.9h1.15M204.3 102.8h1.15M188.6 95.8h1.15M182.4 106.0h1.15M190.5 96.3h1.15M196.7 96.0h1.15M188.9 98.0h1.15M205.7 110.5h1.15M191.2 90.8h1.15M194.6 101.5h1.15M195.2 104.7h1.15M189.9 107.0h1.15M199.1 102.4h1.15M189.2 97.9h1.15M198.0 93.9h1.15M191.1 96.1h1.15M181.3 104.9h1.15M192.2 101.2h1.15M199.4 91.3h1.15M191.9 102.9h1.15M199.1 93.9h1.15M198.2 102.4h1.15M203.3 108.4h1.15M196.8 114.0h1.15M192.4 98.2h1.15M189.7 94.9h1.15M192.2 88.8h1.15M191.7 103.8h1.15M200.4 98.7h1.15M203.5 96.8h1.15M191.3 88.8h1.15M186.3 95.9h1.15M204.1 104.4h1.15M183.8 104.4h1.15M196.2 99.5h1.15M192.6 99.1h1.15M188.2 89.7h1.15M191.7 109.2h1.15M203.6 99.2h1.15M186.6 99.7h1.15M199.4 103.2h1.15M187.9 103.3h1.15M190.8 104.3h1.15M189.2 91.7h1.15M192.9 105.8h1.15M183.8 100.3h1.15M199.3 98.6h1.15M187.3 113.9h1.15M198.9 107.5h1.15M185.1 111.3h1.15M179.5 97.7h1.15M198.2 109.4h1.15M185.2 96.8h1.15M194.0 88.8h1.15M197.4 104.5h1.15M188.9 104.4h1.15M198.5 103.0h1.15M196.5 110.6h1.15M188.7 102.0h1.15M188.4 107.5h1.15M189.3 104.0h1.15M193.5 101.4h1.15M205.7 100.5h1.15M203.4 106.2h1.15M202.6 100.0h1.15M199.6 105.8h1.15M187.7 102.7h1.15M191.4 100.8h1.15M202.5 96.5h1.15M179.4 90.1h1.15M188.9 97.0h1.15M192.5 104.6h1.15M206.0 102.9h1.15M196.0 96.4h1.15M196.9 109.5h1.15M202.8 88.7h1.15M199.3 110.9h1.15M198.8 91.6h1.15M190.1 104.7h1.15M195.6 95.9h1.15M185.6 107.0h1.15M182.1 110.0h1.15M192.6 102.9h1.15M182.2 97.3h1.15M197.7 91.8h1.15M208.4 92.2h1.15M183.0 101.3h1.15M196.1 105.6h1.15M189.6 99.7h1.15M190.6 97.4h1.15M176.9 107.0h1.15M194.4 102.0h1.15M187.6 102.6h1.15M192.3 100.5h1.15M200.9 90.2h1.15M194.4 94.3h1.15M190.0 110.4h1.15M184.1 100.4h1.15M187.9 106.9h1.15M184.9 90.5h1.15M196.4 98.8h1.15M190.0 107.7h1.15M185.6 98.7h1.15M193.6 103.6h1.15M188.5 107.5h1.15M209.6 98.4h1.15M206.8 87.8h1.15M203.2 98.9h1.15M193.5 98.9h1.15M187.5 93.0h1.15M189.4 109.1h1.15M201.2 98.8h1.15M188.4 96.6h1.15M183.2 112.3h1.15M197.5 101.7h1.15M188.7 94.6h1.15M202.5 105.9h1.15M185.1 107.2h1.15M183.9 105.0h1.15M185.0 98.4h1.15M196.2 103.7h1.15M200.2 95.8h1.15M204.6 109.4h1.15M192.3 103.9h1.15M186.4 100.0h1.15M182.3 101.6h1.15M194.0 109.4h1.15M199.7 106.1h1.15M189.6 99.6h1.15M189.8 102.4h1.15M177.6 105.8h1.15M180.4 97.8h1.15M192.6 97.8h1.15M205.2 100.4h1.15M204.5 108.3h1.15M188.6 103.5h1.15M202.4 98.9h1.15M193.1 97.5h1.15M192.9 98.8h1.15M193.1 107.3h1.15M203.1 101.8h1.15M194.0 106.3h1.15M190.2 94.4h1.15M201.0 95.2h1.15M199.6 95.0h1.15M206.5 94.5h1.15M198.9 110.4h1.15M185.0 110.3h1.15M186.1 90.0h1.15M198.0 105.4h1.15M190.9 85.2h1.15M192.0 99.1h1.15M189.5 99.2h1.15M178.7 97.5h1.15M206.2 110.7h1.15M189.6 96.6h1.15M195.5 107.6h1.15M198.0 93.7h1.15M193.7 101.9h1.15M203.5 108.5h1.15M196.4 108.6h1.15M189.4 110.6h1.15M189.2 103.5h1.15M199.5 95.3h1.15M187.0 90.0h1.15M193.7 100.7h1.15M189.9 104.1h1.15M176.9 100.9h1.15M193.1 99.3h1.15M198.5 111.9h1.15M189.0 95.1h1.15M187.8 101.6h1.15M196.9 95.6h1.15M200.1 94.6h1.15M198.8 103.7h1.15M196.0 114.0h1.15M190.4 100.0h1.15M196.1 106.4h1.15M182.1 102.7h1.15M186.7 104.9h1.15M202.9 101.3h1.15M191.6 102.1h1.15M176.9 105.8h1.15M196.7 102.0h1.15M189.4 96.4h1.15M191.0 108.6h1.15M191.6 109.4h1.15M176.9 98.1h1.15M194.5 100.9h1.15M179.7 96.9h1.15M202.0 92.9h1.15M184.8 94.2h1.15M188.2 105.0h1.15M197.0 88.3h1.15M203.6 97.3h1.15M187.9 111.4h1.15M191.8 93.3h1.15M187.5 96.5h1.15M184.7 98.9h1.15M199.2 103.2h1.15M181.8 114.0h1.15M184.8 101.7h1.15M192.7 105.8h1.15M189.9 103.8h1.15M208.6 101.6h1.15M184.1 103.0h1.15M186.3 98.7h1.15M193.9 103.1h1.15M190.2 106.3h1.15M190.9 92.9h1.15M199.2 98.7h1.15M201.7 96.9h1.15M196.8 103.0h1.15M176.9 91.7h1.15M183.8 109.8h1.15M177.9 106.7h1.15M200.8 104.1h1.15M197.6 97.9h1.15M192.3 102.4h1.15M195.7 105.4h1.15M190.8 96.6h1.15M188.1 103.6h1.15M179.7 93.2h1.15M189.3 97.5h1.15M190.3 84.4h1.15M189.8 99.4h1.15M198.4 88.6h1.15M190.1 104.0h1.15M196.2 108.5h1.15M200.5 94.4h1.15M197.3 98.9h1.15M186.3 110.6h1.15M187.6 95.7h1.15M189.3 95.7h1.15M200.2 103.4h1.15M203.2 103.6h1.15M187.7 107.5h1.15M187.4 98.1h1.15M191.1 101.2h1.15M201.6 97.2h1.15M195.1 100.8h1.15M182.7 94.2h1.15M190.7 103.5h1.15M194.9 104.0h1.15M192.8 98.2h1.15M195.7 94.7h1.15M182.1 98.9h1.15M181.4 97.8h1.15M186.7 97.5h1.15M192.1 96.0h1.15M189.2 90.3h1.15M193.5 95.5h1.15M195.5 83.3h1.15M186.2 102.5h1.15M176.9 98.7h1.15M193.2 101.6h1.15M180.9 102.4h1.15M193.6 94.9h1.15M198.2 100.7h1.15M192.6 98.2h1.15M196.7 101.6h1.15M201.2 103.8h1.15M187.7 99.6h1.15M199.5 98.7h1.15M195.4 104.3h1.15M191.0 86.4h1.15M193.4 102.3h1.15M193.5 96.2h1.15M201.8 100.2h1.15M187.6 96.5h1.15M195.2 94.1h1.15M184.7 113.6h1.15M202.6 107.6h1.15M203.0 104.7h1.15M179.4 108.5h1.15M202.0 104.1h1.15M177.3 108.8h1.15M203.0 97.9h1.15M193.4 105.9h1.15M191.8 107.9h1.15M193.1 105.4h1.15M193.1 91.7h1.15M184.7 114.0h1.15M194.6 109.3h1.15M201.2 111.8h1.15M196.7 97.2h1.15M192.6 88.9h1.15M191.0 106.7h1.15M176.9 102.2h1.15M198.8 109.4h1.15M185.2 96.9h1.15M177.9 94.6h1.15M196.6 114.0h1.15M183.5 109.7h1.15M195.7 97.9h1.15M209.5 85.1h1.15M191.9 102.4h1.15M209.0 112.3h1.15M210.0 101.8h1.15M200.0 109.6h1.15M196.4 103.3h1.15M191.0 98.4h1.15M182.9 113.3h1.15M189.0 87.9h1.15M194.5 100.8h1.15M193.8 112.5h1.15M191.6 99.3h1.15M186.6 100.9h1.15M189.0 102.3h1.15M216.7 103.5h1.15M185.8 113.2h1.15M199.1 106.2h1.15M198.0 106.2h1.15M197.7 109.9h1.15M200.3 109.5h1.15M188.5 101.0h1.15" stroke="#000" stroke-width="1.15" stroke-opacity="0.5700000000000001" fill="none"/>
<path d="M213.5 104.6h1.15M225.0 97.0h1.15M217.8 114.0h1.15M228.5 93.0h1.15M217.7 103.3h1.15M218.5 101.7h1.15M225.5 103.1h1.15M211.9 102.4h1.15M218.7 99.7h1.15M218.8 88.4h1.15M213.1 94.6h1.15M218.5 78.2h1.15M228.1 92.5h1.15M214.3 101.7h1.15M203.3 104.8h1.15M213.8 102.5h1.15M216.1 100.4h1.15M220.0 99.2h1.15M211.9 85.9h1.15M216.5 108.9h1.15M215.3 101.9h1.15M219.4 102.7h1.15M227.9 89.9h1.15M221.3 98.2h1.15M219.3 92.5h1.15M216.9 90.5h1.15M208.5 114.0h1.15M229.0 101.6h1.15M225.5 93.2h1.15M207.2 81.9h1.15M217.5 109.4h1.15M221.1 91.9h1.15M219.9 91.6h1.15M212.0 95.3h1.15M218.7 92.7h1.15M216.2 91.1h1.15M218.1 109.2h1.15M214.0 114.0h1.15M209.8 98.5h1.15M213.2 96.1h1.15M218.9 103.1h1.15M226.9 96.8h1.15M212.8 95.8h1.15M222.4 94.5h1.15M221.3 112.2h1.15M210.7 99.4h1.15M228.8 87.0h1.15M221.0 97.7h1.15M208.9 106.1h1.15M221.6 95.9h1.15M220.7 104.2h1.15M222.7 104.3h1.15M224.0 91.3h1.15M216.8 99.3h1.15M199.8 109.9h1.15M219.3 91.0h1.15M208.7 98.0h1.15M220.7 94.9h1.15M218.8 92.1h1.15M215.4 97.2h1.15M214.5 102.8h1.15M218.4 99.7h1.15M219.3 108.6h1.15M222.4 101.5h1.15M220.0 93.1h1.15M216.2 103.3h1.15M221.4 96.6h1.15M214.8 86.2h1.15M219.3 106.7h1.15M224.1 89.9h1.15M217.8 100.2h1.15M213.6 100.1h1.15M219.9 92.8h1.15M210.9 102.8h1.15M223.1 93.3h1.15M212.0 103.7h1.15M223.4 97.8h1.15M229.0 99.4h1.15M211.4 105.1h1.15M217.7 101.2h1.15M221.5 92.0h1.15M213.1 95.8h1.15M229.3 94.0h1.15M226.7 102.6h1.15M212.6 99.2h1.15M224.3 93.5h1.15M206.7 98.3h1.15M212.3 100.4h1.15M208.9 95.1h1.15M217.7 87.3h1.15M217.7 99.8h1.15M218.5 89.8h1.15M223.9 87.0h1.15M221.5 103.3h1.15M227.2 107.8h1.15M220.9 101.4h1.15M222.1 89.7h1.15M226.7 104.9h1.15M220.0 90.5h1.15M226.8 105.0h1.15M211.5 101.9h1.15M230.1 101.7h1.15M222.5 96.7h1.15M213.9 105.6h1.15M236.5 104.5h1.15M217.2 104.4h1.15M216.3 103.7h1.15M226.0 93.1h1.15M213.5 96.9h1.15M223.6 102.2h1.15M229.0 91.2h1.15M223.4 95.4h1.15M219.4 101.4h1.15M214.4 95.9h1.15M212.4 99.1h1.15M215.6 94.2h1.15M221.9 94.7h1.15M227.1 96.3h1.15M223.7 102.3h1.15M214.0 95.9h1.15M215.4 95.2h1.15M214.5 111.4h1.15M214.1 109.4h1.15M224.4 90.5h1.15M205.2 100.3h1.15M206.9 101.0h1.15M224.5 103.3h1.15M218.7 96.9h1.15M221.5 97.3h1.15M217.1 95.6h1.15M227.2 96.4h1.15M223.7 91.5h1.15M218.0 88.3h1.15M217.0 103.5h1.15M222.1 96.0h1.15M223.5 97.5h1.15M221.0 101.5h1.15M227.1 82.4h1.15M210.7 102.5h1.15M214.6 114.0h1.15M219.1 94.8h1.15M226.8 105.1h1.15M229.1 105.4h1.15M216.9 103.8h1.15M215.8 94.7h1.15M216.7 96.6h1.15M224.7 96.8h1.15M222.2 96.0h1.15M229.6 81.0h1.15M217.9 99.9h1.15M211.5 104.5h1.15M218.2 108.3h1.15M223.6 104.9h1.15M220.6 91.2h1.15M219.1 95.4h1.15M221.7 96.1h1.15M239.5 92.4h1.15M226.9 97.5h1.15M216.3 105.1h1.15M221.7 90.5h1.15M222.1 98.3h1.15M207.5 97.3h1.15M214.9 92.2h1.15M221.6 101.8h1.15M213.7 113.7h1.15M222.9 95.3h1.15M221.0 98.5h1.15M210.0 84.7h1.15M207.8 111.4h1.15M218.9 96.8h1.15M214.4 105.0h1.15M216.4 111.0h1.15M220.8 111.7h1.15M218.1 101.4h1.15M217.3 97.2h1.15M210.8 92.3h1.15M215.3 93.0h1.15M225.7 102.7h1.15M224.7 106.8h1.15M222.7 107.4h1.15M214.5 103.7h1.15M218.6 94.8h1.15M222.1 114.0h1.15M210.7 109.7h1.15M225.7 94.3h1.15M220.3 102.0h1.15M222.2 97.1h1.15M212.2 97.3h1.15M222.8 105.8h1.15M221.1 107.7h1.15M214.0 97.2h1.15M219.5 106.5h1.15M219.3 102.9h1.15M216.2 113.8h1.15M207.3 95.6h1.15M232.8 104.3h1.15M208.9 97.2h1.15M212.7 92.1h1.15M217.5 111.3h1.15M220.8 104.4h1.15M224.7 101.9h1.15M214.8 97.0h1.15M221.8 97.6h1.15M216.4 95.5h1.15M213.0 89.6h1.15M219.6 96.3h1.15M217.0 108.8h1.15M221.2 99.2h1.15M214.9 89.7h1.15M223.2 93.5h1.15M223.8 92.2h1.15M220.3 98.7h1.15M225.7 97.8h1.15M216.9 100.2h1.15M216.6 110.9h1.15M219.0 94.9h1.15M216.8 101.8h1.15M219.4 104.2h1.15M207.1 114.0h1.15M229.7 101.5h1.15M212.4 98.3h1.15M225.9 84.1h1.15M222.3 88.7h1.15M219.4 109.3h1.15M228.0 90.0h1.15M225.4 107.4h1.15M216.5 102.0h1.15M228.5 99.0h1.15M220.4 95.1h1.15M229.9 85.7h1.15M229.1 94.4h1.15M227.6 89.1h1.15M215.3 93.4h1.15M227.1 88.9h1.15M224.0 95.5h1.15M226.9 98.7h1.15M222.5 98.5h1.15M230.1 99.2h1.15M215.6 112.8h1.15M218.6 103.9h1.15M214.9 99.3h1.15M206.6 96.3h1.15M218.6 87.6h1.15M209.4 104.8h1.15M224.6 89.1h1.15M230.8 96.9h1.15M216.9 100.2h1.15M216.1 86.0h1.15M213.1 106.1h1.15M227.7 89.4h1.15M226.1 101.0h1.15M222.1 100.1h1.15M223.6 92.6h1.15M215.7 92.7h1.15M216.2 102.8h1.15M209.7 108.3h1.15M217.0 94.0h1.15M222.5 103.1h1.15M219.5 91.0h1.15M216.8 86.4h1.15M223.8 108.3h1.15M228.9 105.3h1.15M219.9 104.8h1.15M225.2 98.6h1.15M217.4 114.0h1.15M212.6 86.7h1.15M212.6 102.8h1.15M226.7 98.4h1.15M223.3 99.7h1.15M222.1 95.7h1.15M219.3 98.9h1.15M221.6 114.0h1.15M208.3 100.0h1.15M217.6 105.7h1.15M223.9 106.0h1.15M225.7 93.6h1.15M206.8 108.1h1.15M227.9 94.2h1.15M225.4 105.6h1.15M204.1 101.6h1.15M211.7 105.7h1.15M217.0 92.8h1.15M211.2 95.2h1.15M226.4 95.8h1.15M205.0 111.2h1.15M228.4 106.6h1.15M218.7 89.7h1.15M209.2 100.4h1.15M228.7 93.5h1.15M219.9 97.1h1.15M217.1 102.1h1.15M232.3 97.7h1.15M222.1 107.9h1.15M218.1 97.5h1.15M209.9 104.5h1.15M217.7 93.6h1.15M221.4 93.1h1.15M214.2 95.4h1.15M228.1 99.8h1.15M225.1 89.5h1.15M205.1 108.8h1.15M220.1 87.7h1.15M217.7 103.1h1.15M211.4 90.3h1.15M222.6 92.9h1.15M222.1 106.9h1.15M222.7 96.7h1.15M220.3 94.5h1.15M218.1 101.0h1.15M215.9 105.4h1.15M235.0 99.1h1.15M219.8 105.3h1.15M223.5 98.3h1.15M214.9 105.3h1.15M222.0 103.5h1.15M213.7 102.2h1.15M224.2 98.9h1.15M219.0 114.0h1.15M207.8 100.4h1.15M215.4 87.7h1.15" stroke="#000" stroke-width="1.15" stroke-opacity="0.5700000000000001" fill="none"/>
<path d="M196.2 104.2h1.15M200.1 91.0h1.15M180.0 95.7h1.15M199.6 93.6h1.15M179.1 113.6h1.15M188.1 98.8h1.15M192.0 95.5h1.15M200.0 97.7h1.15M207.8 90.8h1.15M179.3 114.0h1.15M198.4 105.9h1.15M215.4 104.3h1.15M199.9 88.0h1.15M177.7 107.6h1.15M208.6 104.4h1.15M176.9 83.5h1.15M185.1 90.8h1.15M201.6 92.1h1.15M220.9 95.2h1.15M191.8 106.7h1.15M203.9 93.0h1.15M210.6 114.0h1.15M182.8 98.1h1.15M184.8 84.9h1.15M207.9 105.4h1.15M212.7 103.3h1.15M176.9 99.8h1.15M190.3 90.9h1.15M184.4 105.9h1.15M195.4 114.0h1.15M205.8 85.2h1.15M211.6 109.7h1.15M199.9 90.6h1.15M223.5 89.8h1.15M198.3 85.2h1.15M182.4 86.8h1.15M214.3 109.2h1.15M193.9 89.4h1.15M198.6 102.9h1.15M178.6 91.0h1.15M198.0 105.5h1.15M200.4 103.5h1.15M182.4 80.6h1.15M203.7 92.8h1.15M197.7 97.1h1.15M206.0 94.0h1.15M219.1 100.2h1.15M206.6 104.9h1.15M213.6 103.2h1.15M176.9 95.1h1.15M224.9 103.7h1.15M207.1 103.7h1.15M190.7 94.7h1.15M190.6 109.1h1.15M204.4 113.9h1.15M206.2 114.0h1.15M205.7 90.7h1.15M223.3 102.6h1.15M215.8 101.7h1.15M194.9 101.3h1.15M184.0 90.6h1.15M187.2 95.9h1.15M180.8 99.2h1.15M203.6 114.0h1.15M224.7 99.6h1.15M211.6 98.3h1.15M204.8 99.7h1.15M192.0 100.6h1.15M179.1 103.5h1.15M195.4 91.5h1.15M194.5 104.4h1.15M190.1 103.7h1.15M207.3 112.3h1.15M184.5 99.1h1.15M206.5 111.8h1.15M203.0 105.9h1.15M179.2 95.4h1.15M222.3 97.8h1.15M229.2 94.3h1.15M195.6 87.4h1.15M208.2 102.1h1.15M227.3 101.3h1.15M196.0 88.9h1.15M198.3 107.5h1.15M209.6 109.7h1.15M211.4 99.6h1.15M207.8 101.4h1.15M181.0 113.5h1.15M204.6 91.7h1.15M204.8 102.3h1.15M213.2 111.4h1.15M176.9 104.4h1.15M220.6 92.5h1.15M176.9 102.2h1.15M204.1 102.8h1.15M184.1 96.3h1.15M202.1 105.9h1.15M229.8 102.3h1.15M191.1 81.3h1.15M214.3 99.0h1.15M197.9 92.2h1.15M209.6 85.8h1.15M200.9 101.0h1.15M203.6 110.3h1.15M198.1 100.7h1.15M211.3 87.7h1.15M195.4 100.5h1.15M212.7 93.6h1.15M210.6 103.1h1.15M178.8 88.3h1.15M179.5 101.1h1.15M202.3 105.7h1.15M210.8 95.6h1.15M214.3 106.5h1.15M206.0 103.8h1.15M181.5 102.9h1.15M185.1 90.5h1.15M194.6 101.1h1.15M198.7 97.4h1.15M185.5 101.5h1.15M189.1 88.8h1.15M200.7 111.6h1.15M193.8 91.6h1.15M218.7 113.6h1.15M195.3 98.3h1.15M202.4 114.0h1.15M201.3 107.9h1.15M205.6 85.5h1.15M184.1 90.2h1.15M205.5 100.8h1.15M224.4 97.8h1.15M203.7 100.6h1.15M201.4 114.0h1.15M203.4 111.7h1.15M217.5 95.2h1.15M209.0 97.0h1.15M201.0 101.3h1.15M199.7 96.3h1.15M221.1 97.9h1.15M209.2 113.4h1.15M208.2 108.2h1.15M218.8 108.7h1.15M223.4 88.6h1.15M226.8 100.2h1.15M176.9 94.9h1.15M180.0 99.8h1.15M178.6 92.0h1.15M203.6 101.3h1.15M188.3 98.1h1.15M198.0 100.6h1.15M199.3 98.2h1.15M211.7 87.2h1.15M192.5 101.1h1.15M193.8 95.6h1.15M193.3 101.7h1.15M216.8 98.5h1.15M195.7 102.8h1.15M196.0 84.5h1.15M203.2 97.0h1.15M191.4 105.0h1.15M200.0 95.5h1.15M176.9 86.2h1.15M199.6 99.1h1.15M205.6 101.8h1.15M192.7 89.9h1.15M184.1 98.9h1.15M183.4 106.0h1.15M180.9 85.7h1.15M196.7 85.8h1.15M222.2 92.1h1.15M198.7 98.0h1.15M187.9 85.9h1.15M176.9 106.9h1.15M213.7 114.0h1.15M179.0 104.5h1.15M199.2 106.8h1.15M192.2 105.8h1.15M212.0 104.9h1.15M219.7 98.6h1.15M221.0 94.4h1.15" stroke="#000" stroke-width="1.15" stroke-opacity="0.28" fill="none"/>
<path d="M234.1 54.1h1.15M222.5 66.8h1.15M222.4 78.7h1.15M227.5 72.6h1.15M234.3 62.4h1.15M216.7 81.8h1.15M224.7 58.5h1.15M224.8 64.3h1.15M232.8 79.4h1.15M218.6 80.4h1.15M216.6 78.0h1.15M226.5 71.2h1.15M212.5 70.2h1.15M206.4 68.3h1.15M209.5 79.9h1.15M215.7 56.2h1.15M226.5 74.4h1.15M218.9 85.8h1.15M227.8 72.4h1.15M217.9 52.8h1.15M225.8 78.2h1.15M218.3 62.8h1.15M222.1 61.1h1.15M222.5 77.0h1.15M233.0 73.7h1.15M223.8 76.9h1.15M232.2 69.9h1.15M213.8 66.9h1.15M213.6 66.2h1.15M221.6 74.2h1.15M223.5 72.5h1.15M219.9 74.8h1.15M228.6 76.9h1.15M232.9 70.1h1.15M220.7 83.0h1.15M223.8 74.7h1.15M220.1 78.3h1.15M219.6 65.5h1.15M222.0 69.1h1.15M228.3 69.5h1.15M223.3 70.6h1.15M224.8 67.9h1.15M230.2 62.7h1.15M219.7 67.4h1.15M227.0 72.3h1.15M225.8 69.9h1.15M217.4 64.7h1.15M220.1 68.5h1.15M224.4 74.3h1.15M229.3 71.3h1.15M217.2 65.1h1.15M222.9 74.3h1.15M236.1 73.2h1.15M234.7 84.2h1.15M215.1 79.9h1.15M230.4 80.7h1.15M222.4 78.2h1.15M219.1 71.5h1.15M222.6 83.6h1.15M220.9 78.2h1.15M222.9 67.4h1.15M224.1 76.3h1.15M217.4 76.1h1.15M217.4 66.3h1.15M224.0 70.5h1.15M215.5 61.4h1.15M222.6 73.6h1.15M219.2 73.2h1.15M211.7 74.6h1.15M225.3 73.8h1.15" stroke="#000" stroke-width="1.15" stroke-opacity="0.22" fill="none"/>
<line x1="209.6" y1="29.5" x2="209.6" y2="114.5" stroke="#454545" stroke-width="1.3"/>
<line x1="177" y1="87" x2="269" y2="87" stroke="#454545" stroke-width="1.3"/>
<rect x="178.5" y="31" width="3" height="2.5" fill="#bbb"/>
<rect x="211.1" y="31" width="3" height="2.5" fill="#bbb"/>
<rect x="178.5" y="88.5" width="3" height="2.5" fill="#bbb"/>
<rect x="211.1" y="88.5" width="3" height="2.5" fill="#bbb"/>
<text x="210.23" y="19.8" font-size="14.53" font-weight="bold" stroke="#000" stroke-width="0.2" fill="#000" textLength="34.49" lengthAdjust="spacingAndGlyphs">ActD</text>
<text x="190.79" y="42.5" font-size="10.32" stroke="#111" stroke-width="0.35" fill="#111" textLength="14.71" lengthAdjust="spacingAndGlyphs">0.9</text>
<text x="249.59" y="42.5" font-size="10.32" stroke="#111" stroke-width="0.35" fill="#111" textLength="14.83" lengthAdjust="spacingAndGlyphs">3.1</text>
<text x="243.47" y="101" font-size="10.32" stroke="#111" stroke-width="0.35" fill="#111" textLength="20.54" lengthAdjust="spacingAndGlyphs">26.4</text>
<line x1="293" y1="114.5" x2="296" y2="114.5" stroke="#777" stroke-width="0.8"/>
<rect x="288" y="113" width="3.5" height="2.5" fill="#bbb"/>
<line x1="294.5" y1="108.1" x2="296" y2="108.1" stroke="#aaa" stroke-width="0.6"/>
<line x1="294.5" y1="104.36" x2="296" y2="104.36" stroke="#aaa" stroke-width="0.6"/>
<line x1="294.5" y1="101.71" x2="296" y2="101.71" stroke="#aaa" stroke-width="0.6"/>
<line x1="294.5" y1="99.65" x2="296" y2="99.65" stroke="#aaa" stroke-width="0.6"/>
<line x1="294.5" y1="97.96" x2="296" y2="97.96" stroke="#aaa" stroke-width="0.6"/>
<line x1="294.5" y1="96.54" x2="296" y2="96.54" stroke="#aaa" stroke-width="0.6"/>
<line x1="294.5" y1="95.31" x2="296" y2="95.31" stroke="#aaa" stroke-width="0.6"/>
<line x1="294.5" y1="94.22" x2="296" y2="94.22" stroke="#aaa" stroke-width="0.6"/>
<line x1="293" y1="93.25" x2="296" y2="93.25" stroke="#777" stroke-width="0.8"/>
<rect x="288" y="91.75" width="3.5" height="2.5" fill="#bbb"/>
<line x1="294.5" y1="86.85" x2="296" y2="86.85" stroke="#aaa" stroke-width="0.6"/>
<line x1="294.5" y1="83.11" x2="296" y2="83.11" stroke="#aaa" stroke-width="0.6"/>
<line x1="294.5" y1="80.46" x2="296" y2="80.46" stroke="#aaa" stroke-width="0.6"/>
<line x1="294.5" y1="78.4" x2="296" y2="78.4" stroke="#aaa" stroke-width="0.6"/>
<line x1="294.5" y1="76.71" x2="296" y2="76.71" stroke="#aaa" stroke-width="0.6"/>
<line x1="294.5" y1="75.29" x2="296" y2="75.29" stroke="#aaa" stroke-width="0.6"/>
<line x1="294.5" y1="74.06" x2="296" y2="74.06" stroke="#aaa" stroke-width="0.6"/>
<line x1="294.5" y1="72.97" x2="296" y2="72.97" stroke="#aaa" stroke-width="0.6"/>
<line x1="293" y1="72" x2="296" y2="72" stroke="#777" stroke-width="0.8"/>
<rect x="288" y="70.5" width="3.5" height="2.5" fill="#bbb"/>
<line x1="294.5" y1="65.6" x2="296" y2="65.6" stroke="#aaa" stroke-width="0.6"/>
<line x1="294.5" y1="61.86" x2="296" y2="61.86" stroke="#aaa" stroke-width="0.6"/>
<line x1="294.5" y1="59.21" x2="296" y2="59.21" stroke="#aaa" stroke-width="0.6"/>
<line x1="294.5" y1="57.15" x2="296" y2="57.15" stroke="#aaa" stroke-width="0.6"/>
<line x1="294.5" y1="55.46" x2="296" y2="55.46" stroke="#aaa" stroke-width="0.6"/>
<line x1="294.5" y1="54.04" x2="296" y2="54.04" stroke="#aaa" stroke-width="0.6"/>
<line x1="294.5" y1="52.81" x2="296" y2="52.81" stroke="#aaa" stroke-width="0.6"/>
<line x1="294.5" y1="51.72" x2="296" y2="51.72" stroke="#aaa" stroke-width="0.6"/>
<line x1="293" y1="50.75" x2="296" y2="50.75" stroke="#777" stroke-width="0.8"/>
<rect x="288" y="49.25" width="3.5" height="2.5" fill="#bbb"/>
<line x1="294.5" y1="44.35" x2="296" y2="44.35" stroke="#aaa" stroke-width="0.6"/>
<line x1="294.5" y1="40.61" x2="296" y2="40.61" stroke="#aaa" stroke-width="0.6"/>
<line x1="294.5" y1="37.96" x2="296" y2="37.96" stroke="#aaa" stroke-width="0.6"/>
<line x1="294.5" y1="35.9" x2="296" y2="35.9" stroke="#aaa" stroke-width="0.6"/>
<line x1="294.5" y1="34.21" x2="296" y2="34.21" stroke="#aaa" stroke-width="0.6"/>
<line x1="294.5" y1="32.79" x2="296" y2="32.79" stroke="#aaa" stroke-width="0.6"/>
<line x1="294.5" y1="31.56" x2="296" y2="31.56" stroke="#aaa" stroke-width="0.6"/>
<line x1="294.5" y1="30.47" x2="296" y2="30.47" stroke="#aaa" stroke-width="0.6"/>
<line x1="293" y1="29.5" x2="296" y2="29.5" stroke="#777" stroke-width="0.8"/>
<rect x="288" y="28" width="3.5" height="2.5" fill="#bbb"/>
<line x1="296" y1="114.5" x2="296" y2="117.5" stroke="#777" stroke-width="0.8"/>
<rect x="294" y="119" width="4" height="2.5" fill="#bbb"/>
<line x1="302.89" y1="114.5" x2="302.89" y2="116" stroke="#aaa" stroke-width="0.6"/>
<line x1="306.91" y1="114.5" x2="306.91" y2="116" stroke="#aaa" stroke-width="0.6"/>
<line x1="309.77" y1="114.5" x2="309.77" y2="116" stroke="#aaa" stroke-width="0.6"/>
<line x1="311.99" y1="114.5" x2="311.99" y2="116" stroke="#aaa" stroke-width="0.6"/>
<line x1="313.8" y1="114.5" x2="313.8" y2="116" stroke="#aaa" stroke-width="0.6"/>
<line x1="315.33" y1="114.5" x2="315.33" y2="116" stroke="#aaa" stroke-width="0.6"/>
<line x1="316.66" y1="114.5" x2="316.66" y2="116" stroke="#aaa" stroke-width="0.6"/>
<line x1="317.83" y1="114.5" x2="317.83" y2="116" stroke="#aaa" stroke-width="0.6"/>
<line x1="318.88" y1="114.5" x2="318.88" y2="117.5" stroke="#777" stroke-width="0.8"/>
<rect x="316.88" y="119" width="4" height="2.5" fill="#bbb"/>
<line x1="325.76" y1="114.5" x2="325.76" y2="116" stroke="#aaa" stroke-width="0.6"/>
<line x1="329.79" y1="114.5" x2="329.79" y2="116" stroke="#aaa" stroke-width="0.6"/>
<line x1="332.65" y1="114.5" x2="332.65" y2="116" stroke="#aaa" stroke-width="0.6"/>
<line x1="334.86" y1="114.5" x2="334.86" y2="116" stroke="#aaa" stroke-width="0.6"/>
<line x1="336.68" y1="114.5" x2="336.68" y2="116" stroke="#aaa" stroke-width="0.6"/>
<line x1="338.21" y1="114.5" x2="338.21" y2="116" stroke="#aaa" stroke-width="0.6"/>
<line x1="339.53" y1="114.5" x2="339.53" y2="116" stroke="#aaa" stroke-width="0.6"/>
<line x1="340.7" y1="114.5" x2="340.7" y2="116" stroke="#aaa" stroke-width="0.6"/>
<line x1="341.75" y1="114.5" x2="341.75" y2="117.5" stroke="#777" stroke-width="0.8"/>
<rect x="339.75" y="119" width="4" height="2.5" fill="#bbb"/>
<line x1="348.64" y1="114.5" x2="348.64" y2="116" stroke="#aaa" stroke-width="0.6"/>
<line x1="352.66" y1="114.5" x2="352.66" y2="116" stroke="#aaa" stroke-width="0.6"/>
<line x1="355.52" y1="114.5" x2="355.52" y2="116" stroke="#aaa" stroke-width="0.6"/>
<line x1="357.74" y1="114.5" x2="357.74" y2="116" stroke="#aaa" stroke-width="0.6"/>
<line x1="359.55" y1="114.5" x2="359.55" y2="116" stroke="#aaa" stroke-width="0.6"/>
<line x1="361.08" y1="114.5" x2="361.08" y2="116" stroke="#aaa" stroke-width="0.6"/>
<line x1="362.41" y1="114.5" x2="362.41" y2="116" stroke="#aaa" stroke-width="0.6"/>
<line x1="363.58" y1="114.5" x2="363.58" y2="116" stroke="#aaa" stroke-width="0.6"/>
<line x1="364.62" y1="114.5" x2="364.62" y2="117.5" stroke="#777" stroke-width="0.8"/>
<rect x="362.62" y="119" width="4" height="2.5" fill="#bbb"/>
<line x1="371.51" y1="114.5" x2="371.51" y2="116" stroke="#aaa" stroke-width="0.6"/>
<line x1="375.54" y1="114.5" x2="375.54" y2="116" stroke="#aaa" stroke-width="0.6"/>
<line x1="378.4" y1="114.5" x2="378.4" y2="116" stroke="#aaa" stroke-width="0.6"/>
<line x1="380.61" y1="114.5" x2="380.61" y2="116" stroke="#aaa" stroke-width="0.6"/>
<line x1="382.43" y1="114.5" x2="382.43" y2="116" stroke="#aaa" stroke-width="0.6"/>
<line x1="383.96" y1="114.5" x2="383.96" y2="116" stroke="#aaa" stroke-width="0.6"/>
<line x1="385.28" y1="114.5" x2="385.28" y2="116" stroke="#aaa" stroke-width="0.6"/>
<line x1="386.45" y1="114.5" x2="386.45" y2="116" stroke="#aaa" stroke-width="0.6"/>
<line x1="387.5" y1="114.5" x2="387.5" y2="117.5" stroke="#777" stroke-width="0.8"/>
<rect x="385.5" y="119" width="4" height="2.5" fill="#bbb"/>
<rect x="296" y="29.5" width="91.5" height="85" fill="none" stroke="#a2a2a2" stroke-width="1"/>
<ellipse cx="311.5" cy="102" rx="13" ry="14" transform="rotate(0 311.5 102)" fill="url(#cg)" opacity="0.697" clip-path="url(#c2)"/>
<ellipse cx="342" cy="69" rx="14" ry="7.5" transform="rotate(-22 342 69)" fill="url(#cg)" opacity="0.468" clip-path="url(#c2)"/>
<path d="M308.1 102.5h1.15M312.1 108.4h1.15M312.9 103.5h1.15M307.4 107.2h1.15M317.9 99.0h1.15M314.9 103.8h1.15M311.2 94.3h1.15M321.1 90.8h1.15M313.1 99.7h1.15M317.7 99.5h1.15M311.6 105.7h1.15M313.9 98.9h1.15M315.2 104.3h1.15M316.9 98.9h1.15M311.2 99.7h1.15M306.8 103.5h1.15M313.7 110.5h1.15M309.6 104.3h1.15M317.7 101.3h1.15M311.8 102.8h1.15M307.6 96.1h1.15M317.6 103.0h1.15M311.0 94.6h1.15M312.1 109.0h1.15M305.1 96.7h1.15M317.5 110.6h1.15M319.9 98.7h1.15M314.7 97.5h1.15M314.3 99.8h1.15M312.5 110.0h1.15M313.3 100.6h1.15M311.7 103.6h1.15M308.6 103.2h1.15M314.7 111.3h1.15M300.1 94.9h1.15M304.7 107.2h1.15M324.8 103.2h1.15M312.1 108.8h1.15M298.1 100.9h1.15M295.9 102.9h1.15M308.6 99.1h1.15M313.3 98.5h1.15M317.5 102.0h1.15M313.5 114.0h1.15M309.0 107.5h1.15M306.9 109.4h1.15M316.7 102.8h1.15M316.8 111.6h1.15M318.9 102.0h1.15M311.1 108.6h1.15M303.4 98.4h1.15M314.1 105.4h1.15M321.6 112.5h1.15M313.2 104.6h1.15M304.2 100.9h1.15M312.8 100.7h1.15M311.8 105.6h1.15M306.2 98.6h1.15M301.7 108.8h1.15M305.7 91.9h1.15M315.6 100.7h1.15M316.7 99.8h1.15M323.0 106.2h1.15M312.2 102.7h1.15M310.3 106.8h1.15M322.3 99.5h1.15M305.5 105.5h1.15M317.2 93.1h1.15M307.7 96.1h1.15M314.5 105.0h1.15M307.4 95.3h1.15M315.1 89.8h1.15M314.9 101.1h1.15M321.9 107.9h1.15M308.3 100.4h1.15M309.9 97.7h1.15M311.9 107.7h1.15M303.2 100.7h1.15M319.5 106.4h1.15M307.0 97.2h1.15M306.8 92.5h1.15M317.7 102.4h1.15M307.6 93.5h1.15M309.3 99.0h1.15M320.8 99.3h1.15M312.1 108.3h1.15M315.0 100.9h1.15M299.6 110.3h1.15M314.7 99.4h1.15M310.9 96.4h1.15M306.6 93.2h1.15M314.1 105.1h1.15M312.4 106.6h1.15M314.3 102.7h1.15M306.6 105.5h1.15M317.8 105.7h1.15M318.2 99.2h1.15M306.1 109.4h1.15M308.3 103.4h1.15M310.4 102.1h1.15M310.0 98.8h1.15M301.8 113.2h1.15M312.5 90.7h1.15M306.5 95.4h1.15M307.4 87.0h1.15M314.5 111.7h1.15M310.1 106.4h1.15M314.7 94.7h1.15M318.0 92.1h1.15M308.3 99.9h1.15M318.2 102.7h1.15M310.8 97.3h1.15M311.9 102.2h1.15M315.4 110.2h1.15M315.4 102.1h1.15M310.6 111.4h1.15M312.5 101.9h1.15M321.1 111.2h1.15M314.5 101.4h1.15M308.0 108.3h1.15M309.0 107.6h1.15M307.2 102.6h1.15M313.6 102.9h1.15M312.7 104.2h1.15M305.4 95.5h1.15M310.6 112.6h1.15M310.8 96.6h1.15M307.9 102.2h1.15M317.8 98.7h1.15M314.4 103.1h1.15M309.5 96.5h1.15M310.6 97.8h1.15M314.3 91.7h1.15M317.5 106.4h1.15M314.5 110.8h1.15M314.7 92.0h1.15M311.7 104.6h1.15M307.8 95.4h1.15M313.8 105.0h1.15M309.1 100.6h1.15M308.7 98.7h1.15M311.1 108.3h1.15M302.8 100.0h1.15M320.1 103.9h1.15M312.3 106.9h1.15M306.0 94.9h1.15M302.5 93.5h1.15M312.8 107.0h1.15M309.2 98.0h1.15M313.6 105.6h1.15M312.8 90.9h1.15M308.5 87.2h1.15M312.7 97.0h1.15M307.9 110.8h1.15M318.5 104.8h1.15M312.9 103.0h1.15M308.3 101.7h1.15M321.7 96.9h1.15M307.9 102.9h1.15M316.2 106.9h1.15M306.2 101.2h1.15M310.0 94.8h1.15M311.8 99.2h1.15M316.3 104.5h1.15M307.3 102.5h1.15M309.5 98.3h1.15M308.8 108.2h1.15M309.2 92.0h1.15M307.3 106.7h1.15M322.9 95.9h1.15M309.5 100.1h1.15M303.9 104.3h1.15M311.2 103.6h1.15M323.4 100.4h1.15M315.7 106.9h1.15M308.0 98.5h1.15M319.8 106.2h1.15M312.2 95.6h1.15M316.1 105.1h1.15M323.2 110.6h1.15M315.7 103.6h1.15M311.8 98.8h1.15M313.1 103.4h1.15M314.9 108.3h1.15M313.1 98.8h1.15M315.7 111.1h1.15M307.0 104.5h1.15M314.4 105.1h1.15M314.1 101.5h1.15M310.9 111.8h1.15M320.7 93.8h1.15M297.9 104.6h1.15M307.8 99.0h1.15M302.9 104.1h1.15M311.1 98.9h1.15M316.2 114.0h1.15M319.3 108.8h1.15M309.2 105.8h1.15M311.2 108.7h1.15M314.5 101.8h1.15M314.4 97.8h1.15M315.7 110.8h1.15M309.5 105.2h1.15M302.5 107.5h1.15M316.1 96.1h1.15M320.7 102.7h1.15M302.2 94.0h1.15M316.1 100.4h1.15M317.3 93.0h1.15M310.9 107.7h1.15M307.8 106.0h1.15M309.5 104.0h1.15M313.2 114.0h1.15M304.8 106.5h1.15M318.4 95.4h1.15M311.9 114.0h1.15M317.0 84.7h1.15M310.2 92.0h1.15M313.0 97.8h1.15M308.4 97.1h1.15M313.0 99.3h1.15M306.6 100.7h1.15M313.6 97.0h1.15M317.4 92.3h1.15M313.6 99.7h1.15M319.8 98.3h1.15M307.9 94.2h1.15M322.0 105.6h1.15M305.6 100.0h1.15M306.3 110.9h1.15M313.7 90.1h1.15M312.5 107.3h1.15M311.4 104.8h1.15M310.8 103.2h1.15M312.6 97.9h1.15M313.3 103.0h1.15M311.2 98.0h1.15M306.0 103.4h1.15M315.8 87.9h1.15M308.6 109.9h1.15M316.3 97.8h1.15M318.7 96.2h1.15M307.2 113.3h1.15M309.1 100.7h1.15M302.6 96.1h1.15M305.1 101.2h1.15M301.6 108.2h1.15M309.5 98.5h1.15M308.0 106.3h1.15M319.6 99.6h1.15M320.1 111.4h1.15M318.6 103.7h1.15M303.5 105.9h1.15M309.2 103.1h1.15M301.3 100.4h1.15M312.7 96.5h1.15M313.0 111.8h1.15M312.7 98.0h1.15M324.2 89.4h1.15M306.5 104.4h1.15M308.3 88.6h1.15M312.8 106.9h1.15M307.2 110.6h1.15M314.1 109.0h1.15M303.3 102.0h1.15M320.0 113.8h1.15M318.5 102.0h1.15M312.4 98.3h1.15M317.3 97.9h1.15M312.1 89.9h1.15M303.4 112.4h1.15M311.7 103.3h1.15M299.7 101.8h1.15M322.5 93.3h1.15M298.7 101.1h1.15M308.6 100.8h1.15M304.7 94.1h1.15M304.8 105.8h1.15M311.2 106.8h1.15M305.6 105.5h1.15M309.1 102.5h1.15M316.4 102.2h1.15M309.5 92.2h1.15M311.8 106.6h1.15M308.0 101.6h1.15M301.9 94.2h1.15M313.6 109.6h1.15M309.8 92.2h1.15M309.4 92.8h1.15M309.9 113.3h1.15M313.0 101.1h1.15M317.0 99.8h1.15M313.2 103.2h1.15M313.8 93.4h1.15M315.3 107.2h1.15M299.1 86.0h1.15M306.6 110.8h1.15M311.5 106.0h1.15M314.4 107.2h1.15M308.0 98.6h1.15M313.5 105.6h1.15M314.5 104.0h1.15M308.8 108.5h1.15M314.0 108.3h1.15M297.7 108.0h1.15M298.2 103.2h1.15M307.8 102.7h1.15M308.8 100.2h1.15M312.5 104.0h1.15M307.1 87.1h1.15M307.2 105.2h1.15M306.9 104.5h1.15M309.4 96.4h1.15M317.8 111.8h1.15M310.9 101.7h1.15M316.6 94.1h1.15M306.7 108.7h1.15M316.3 99.1h1.15M307.2 104.1h1.15M303.8 99.0h1.15M310.2 87.4h1.15M314.6 106.5h1.15M317.2 93.5h1.15M304.4 97.2h1.15M304.3 114.0h1.15M306.1 100.1h1.15M312.5 104.7h1.15M319.3 95.5h1.15M316.2 102.9h1.15M305.0 102.9h1.15M303.8 111.6h1.15M307.4 108.0h1.15M318.5 98.3h1.15M306.5 102.8h1.15M305.7 107.4h1.15M312.4 97.5h1.15M307.7 106.3h1.15M303.5 112.1h1.15M307.1 100.8h1.15M306.4 111.7h1.15M315.9 109.8h1.15M315.0 102.5h1.15M320.7 106.0h1.15M313.8 105.4h1.15M315.5 103.7h1.15M310.5 92.5h1.15M322.7 94.2h1.15M299.6 97.7h1.15M322.0 109.3h1.15M308.1 103.6h1.15M311.3 90.1h1.15M309.6 103.7h1.15M317.8 94.8h1.15M299.1 92.6h1.15M313.2 102.5h1.15M312.2 102.9h1.15M309.4 93.8h1.15M313.9 104.3h1.15M314.6 109.5h1.15M304.6 88.0h1.15M301.6 114.0h1.15M306.4 104.4h1.15M311.3 106.4h1.15M329.1 98.9h1.15M310.5 98.4h1.15M312.8 105.1h1.15M306.1 109.9h1.15M317.7 104.7h1.15M310.8 100.6h1.15M302.4 105.9h1.15M306.1 99.0h1.15M316.9 96.5h1.15M308.6 107.1h1.15M321.6 97.9h1.15M317.5 98.1h1.15M313.6 104.9h1.15M305.2 108.2h1.15M321.3 102.3h1.15M312.9 95.0h1.15M321.3 102.4h1.15M304.4 106.6h1.15M303.4 97.9h1.15M299.7 110.3h1.15M323.6 98.2h1.15M307.8 98.5h1.15M308.3 105.3h1.15M319.4 96.0h1.15M313.8 91.2h1.15M319.8 101.5h1.15M307.6 111.2h1.15M310.8 110.2h1.15M317.3 111.9h1.15M307.0 102.3h1.15M313.5 100.8h1.15M319.8 97.7h1.15M316.9 110.2h1.15M300.7 96.2h1.15M306.5 98.7h1.15M313.6 101.0h1.15M311.9 99.2h1.15M311.0 104.9h1.15M315.5 97.3h1.15M310.8 97.4h1.15M310.4 93.4h1.15M316.7 106.0h1.15M310.8 97.9h1.15M308.9 98.0h1.15M302.9 111.8h1.15M329.5 94.6h1.15M305.0 105.5h1.15M314.8 92.6h1.15M300.9 105.3h1.15M300.5 110.5h1.15M308.7 102.5h1.15M311.4 98.6h1.15M310.6 100.2h1.15M318.3 101.4h1.15M311.2 98.8h1.15M307.9 97.6h1.15M311.5 113.0h1.15M317.6 103.4h1.15M320.6 108.1h1.15M312.6 101.0h1.15M305.4 103.5h1.15M309.7 92.5h1.15M304.4 113.6h1.15M312.6 105.0h1.15M312.5 99.2h1.15M314.0 108.5h1.15M309.7 105.1h1.15M317.1 99.1h1.15M312.4 97.6h1.15M314.7 99.8h1.15M317.7 97.4h1.15M320.7 100.1h1.15M306.8 96.6h1.15M315.1 96.9h1.15M321.3 109.7h1.15M314.3 93.5h1.15M311.3 97.6h1.15M301.5 104.6h1.15M323.5 98.8h1.15M315.9 109.7h1.15M306.1 100.0h1.15M312.9 104.8h1.15M305.1 103.3h1.15M310.8 107.7h1.15M302.6 98.6h1.15M308.7 100.1h1.15M315.4 98.2h1.15M326.5 97.8h1.15M316.0 108.1h1.15M316.7 100.8h1.15M306.9 100.5h1.15M315.1 102.7h1.15M314.6 105.4h1.15M306.6 96.4h1.15M319.4 99.1h1.15M302.7 113.2h1.15M306.8 96.4h1.15M316.7 95.2h1.15M306.6 108.3h1.15M306.9 114.0h1.15M312.0 114.0h1.15M312.1 102.3h1.15M307.9 100.7h1.15M308.7 101.9h1.15M315.7 94.4h1.15M306.4 89.4h1.15M319.7 101.6h1.15M311.3 101.7h1.15M316.9 103.9h1.15M316.1 101.0h1.15M310.8 101.7h1.15M301.2 108.5h1.15M302.7 96.0h1.15M315.1 102.3h1.15M315.9 112.2h1.15M321.7 110.3h1.15M310.2 114.0h1.15M306.6 101.5h1.15M316.9 100.7h1.15M310.8 99.9h1.15M318.9 87.2h1.15M318.4 108.4h1.15M311.0 105.4h1.15M306.1 108.7h1.15M328.3 96.5h1.15M319.1 101.7h1.15M309.6 99.1h1.15M310.4 94.5h1.15M304.0 112.0h1.15M311.3 105.3h1.15M313.1 104.9h1.15M303.0 96.3h1.15M314.9 108.0h1.15M305.1 98.5h1.15M305.5 105.9h1.15M313.3 102.2h1.15M307.9 104.1h1.15M311.6 97.5h1.15M313.3 98.0h1.15M316.7 105.8h1.15M307.6 105.5h1.15M311.8 97.8h1.15M306.4 92.0h1.15M305.2 104.1h1.15M318.1 98.2h1.15M312.3 104.1h1.15M315.7 104.7h1.15M318.2 106.6h1.15M307.2 104.4h1.15M298.5 100.9h1.15M311.5 105.5h1.15M309.8 107.0h1.15M318.7 97.0h1.15M308.4 103.6h1.15M314.1 102.9h1.15M316.0 94.9h1.15M315.7 109.0h1.15M317.5 104.6h1.15M310.1 104.4h1.15M311.0 92.5h1.15M308.1 101.8h1.15M308.6 96.4h1.15M310.1 99.8h1.15M311.8 101.7h1.15M312.4 108.0h1.15M312.2 104.4h1.15M304.7 84.3h1.15M309.2 106.1h1.15M309.6 98.3h1.15M304.6 107.4h1.15M308.5 103.5h1.15M317.6 105.2h1.15M323.8 101.2h1.15M316.7 106.2h1.15M307.8 102.3h1.15M308.3 95.9h1.15M313.1 97.4h1.15M320.7 97.6h1.15M308.4 102.5h1.15M308.6 102.3h1.15M308.1 93.5h1.15M298.2 94.3h1.15M319.8 104.7h1.15M312.3 99.2h1.15M310.6 103.8h1.15M303.8 97.2h1.15M306.5 109.6h1.15M305.6 109.0h1.15M308.9 114.0h1.15M311.0 102.2h1.15M318.9 107.2h1.15M316.6 95.6h1.15M317.7 112.1h1.15M310.9 99.1h1.15M305.4 108.1h1.15M313.0 102.0h1.15M304.6 111.7h1.15M316.2 101.9h1.15M319.5 96.3h1.15M316.3 96.0h1.15M319.2 100.3h1.15M318.2 99.5h1.15M313.6 108.9h1.15M306.5 102.6h1.15M306.8 107.1h1.15M308.1 99.8h1.15M310.3 109.0h1.15M305.7 101.8h1.15M309.6 98.7h1.15M307.1 101.0h1.15M312.5 92.7h1.15M312.7 94.9h1.15M311.5 114.0h1.15M306.1 101.6h1.15M310.0 107.9h1.15M308.8 91.3h1.15M302.6 103.1h1.15M312.8 108.4h1.15M308.5 106.0h1.15M305.6 109.8h1.15M311.0 97.9h1.15M312.4 112.5h1.15M306.8 94.6h1.15M305.8 95.1h1.15M311.1 104.1h1.15M310.5 103.2h1.15M317.9 100.3h1.15M304.5 88.3h1.15M312.8 97.9h1.15M310.1 104.5h1.15M314.0 92.6h1.15M306.2 102.4h1.15M310.6 108.9h1.15M308.7 89.6h1.15M317.9 92.2h1.15M306.1 104.3h1.15M305.6 114.0h1.15" stroke="#000" stroke-width="1.15" stroke-opacity="0.67" fill="none"/>
<path d="M313.6 105.3h1.15M307.5 114.0h1.15M316.3 95.3h1.15M322.7 87.5h1.15M306.1 103.3h1.15M312.7 93.3h1.15M325.6 112.8h1.15M303.0 104.0h1.15M305.7 97.5h1.15M320.3 102.0h1.15M310.4 101.8h1.15M300.9 110.8h1.15M304.7 111.5h1.15M307.3 97.4h1.15M324.8 102.5h1.15M305.7 96.7h1.15M316.9 114.0h1.15M316.9 97.9h1.15M301.3 95.6h1.15M310.4 103.0h1.15M305.5 111.2h1.15M302.8 95.3h1.15M315.9 104.8h1.15M307.9 108.7h1.15M298.8 114.0h1.15M331.1 114.0h1.15M312.5 114.0h1.15M311.9 111.6h1.15M309.6 102.6h1.15M316.1 87.0h1.15M309.6 114.0h1.15M295.9 104.1h1.15M319.7 103.6h1.15M313.2 112.1h1.15M314.4 85.9h1.15M302.9 98.6h1.15M312.7 97.4h1.15M310.5 114.0h1.15M295.9 110.2h1.15M319.9 105.8h1.15M311.6 101.5h1.15M314.7 102.9h1.15M304.9 107.2h1.15M304.0 100.7h1.15M308.2 91.8h1.15M316.9 100.4h1.15M300.9 100.4h1.15M299.0 112.5h1.15M316.1 114.0h1.15M306.3 106.6h1.15M302.7 94.2h1.15M310.6 104.3h1.15M319.7 98.9h1.15M321.3 108.7h1.15M303.6 99.6h1.15M303.2 114.0h1.15M306.5 108.1h1.15M319.6 99.0h1.15M307.1 103.7h1.15M304.5 90.9h1.15M302.8 103.7h1.15M313.1 114.0h1.15M295.9 105.0h1.15M301.1 110.2h1.15M317.7 102.0h1.15M324.6 98.0h1.15M306.7 92.6h1.15M305.5 101.9h1.15M317.5 111.2h1.15M309.0 95.2h1.15M308.4 97.6h1.15M307.2 97.8h1.15M303.6 100.6h1.15M306.8 99.7h1.15M299.0 102.2h1.15M316.5 106.1h1.15M306.5 91.9h1.15M299.8 91.7h1.15M305.7 98.5h1.15M295.9 106.3h1.15M297.7 95.6h1.15M305.0 107.6h1.15M327.9 98.2h1.15M309.0 97.9h1.15M309.6 99.7h1.15M333.5 92.4h1.15M310.5 94.7h1.15M314.6 96.9h1.15M316.6 92.4h1.15M330.3 102.7h1.15M295.9 106.5h1.15M307.2 91.9h1.15M315.4 96.9h1.15M318.0 96.7h1.15M319.5 102.2h1.15M314.6 102.2h1.15M308.2 98.1h1.15M315.5 106.6h1.15M307.8 114.0h1.15M326.5 91.9h1.15M321.1 100.4h1.15M313.5 94.8h1.15M326.1 94.5h1.15M310.7 95.3h1.15M328.6 110.9h1.15M299.7 97.5h1.15M314.7 97.6h1.15M308.3 92.5h1.15M313.7 92.4h1.15M318.8 114.0h1.15M308.5 114.0h1.15M314.7 95.7h1.15M308.4 93.4h1.15M312.4 106.5h1.15M319.7 98.8h1.15M300.8 100.4h1.15M326.3 103.2h1.15M310.9 84.7h1.15M307.6 105.3h1.15M303.0 111.6h1.15M306.4 94.2h1.15M306.3 100.3h1.15M320.3 96.6h1.15M295.9 100.4h1.15M316.1 113.1h1.15M301.5 112.7h1.15M317.4 104.6h1.15M304.6 94.1h1.15M303.0 108.3h1.15M313.4 109.4h1.15M327.5 101.2h1.15M311.0 114.0h1.15M299.9 97.5h1.15M308.2 98.1h1.15M312.7 94.4h1.15M321.7 90.3h1.15M304.2 87.8h1.15M299.0 105.6h1.15M317.0 99.5h1.15M318.9 105.9h1.15M306.3 100.7h1.15M314.7 114.0h1.15M307.5 103.9h1.15M316.3 110.6h1.15M315.2 109.4h1.15M302.0 99.0h1.15M295.9 100.6h1.15M332.1 102.9h1.15M312.2 103.1h1.15M312.7 90.7h1.15" stroke="#000" stroke-width="1.15" stroke-opacity="0.28" fill="none"/>
<path d="M336.1 70.4h1.15M341.4 65.4h1.15M339.6 66.7h1.15M330.8 70.5h1.15M336.8 74.4h1.15M352.1 67.2h1.15M339.1 67.6h1.15M329.2 71.7h1.15M354.5 68.6h1.15M342.7 67.5h1.15M342.1 70.5h1.15M342.0 70.6h1.15M335.9 71.5h1.15M340.5 74.0h1.15M334.3 77.4h1.15M340.1 67.5h1.15M341.8 69.4h1.15M340.4 71.2h1.15M334.7 64.6h1.15M346.5 66.9h1.15M354.1 65.5h1.15M328.7 79.4h1.15M337.2 73.0h1.15M359.2 66.4h1.15M333.3 71.9h1.15M330.7 76.2h1.15M344.0 63.7h1.15M346.1 71.1h1.15M346.3 64.2h1.15M334.8 67.0h1.15M332.5 74.0h1.15M343.6 73.6h1.15M343.0 67.1h1.15M333.3 78.8h1.15M342.6 68.4h1.15M332.6 68.2h1.15M344.6 63.7h1.15M346.6 69.6h1.15M336.3 64.3h1.15M346.5 72.9h1.15M333.6 66.9h1.15M349.6 66.3h1.15M338.7 75.3h1.15M340.1 71.5h1.15M337.4 67.5h1.15M341.8 65.3h1.15M327.7 72.3h1.15M352.0 69.4h1.15M358.7 66.2h1.15M353.6 65.2h1.15M338.9 72.0h1.15M335.6 74.5h1.15M338.6 71.3h1.15M335.0 71.1h1.15M348.3 65.4h1.15M336.9 72.0h1.15M347.6 65.8h1.15M330.7 66.9h1.15M333.2 76.8h1.15M341.5 71.0h1.15M349.7 66.9h1.15M344.2 65.8h1.15M330.6 76.0h1.15M341.6 71.4h1.15M333.5 71.7h1.15M354.9 60.1h1.15M344.1 73.5h1.15M339.9 70.2h1.15M327.1 78.1h1.15M340.1 75.0h1.15M340.2 68.0h1.15M344.3 66.9h1.15M339.9 76.1h1.15M348.7 66.5h1.15M348.5 69.6h1.15M345.7 67.5h1.15M342.6 70.3h1.15M346.1 68.7h1.15M337.3 70.4h1.15M343.4 64.2h1.15M342.5 71.8h1.15M342.3 67.5h1.15M340.6 67.4h1.15M348.0 64.8h1.15M327.6 69.6h1.15M343.9 68.9h1.15M336.1 65.8h1.15M339.2 66.5h1.15M336.7 71.0h1.15M336.3 72.4h1.15M335.4 69.6h1.15M341.9 74.9h1.15M354.3 67.8h1.15M336.1 71.2h1.15M349.2 69.2h1.15M329.5 73.6h1.15M337.2 73.9h1.15M345.3 65.3h1.15M356.6 61.8h1.15M358.9 61.3h1.15M343.6 76.0h1.15M336.9 68.9h1.15M352.1 64.6h1.15M343.1 63.2h1.15M355.8 67.3h1.15M345.1 70.5h1.15M337.1 68.8h1.15M330.6 75.0h1.15M351.7 68.5h1.15M349.1 68.9h1.15M332.9 67.1h1.15M346.3 67.8h1.15M348.2 65.2h1.15M335.7 73.2h1.15M335.1 64.9h1.15M335.8 67.7h1.15M332.6 70.4h1.15M351.7 74.6h1.15M353.4 62.5h1.15M349.6 65.5h1.15M343.4 65.5h1.15M338.5 63.3h1.15M353.4 61.1h1.15M344.9 65.3h1.15M341.7 64.1h1.15M340.0 73.4h1.15M343.0 60.5h1.15M345.8 61.9h1.15M344.3 70.1h1.15M336.3 69.8h1.15M340.2 71.2h1.15M350.0 71.2h1.15M346.7 75.1h1.15M337.1 78.1h1.15M340.6 72.5h1.15M340.7 69.7h1.15M335.3 73.1h1.15M356.4 63.6h1.15M341.3 69.1h1.15M346.3 66.3h1.15M341.7 69.8h1.15M352.3 68.6h1.15M332.9 69.9h1.15M342.8 72.0h1.15M348.2 65.5h1.15M356.7 62.2h1.15M353.7 70.0h1.15M353.3 65.1h1.15M343.5 62.0h1.15M327.7 72.1h1.15M348.2 70.7h1.15M342.2 73.0h1.15M347.8 72.7h1.15M328.7 70.8h1.15M333.0 68.2h1.15M352.1 61.0h1.15M334.9 70.1h1.15M347.2 64.8h1.15M347.6 68.8h1.15M333.4 62.6h1.15M333.0 67.4h1.15M352.3 61.7h1.15M334.2 73.5h1.15M340.5 65.6h1.15M350.7 69.1h1.15M342.4 65.6h1.15M332.2 64.4h1.15M344.8 69.3h1.15M334.8 71.8h1.15M363.7 55.5h1.15M329.9 76.2h1.15M337.6 68.6h1.15M345.8 66.8h1.15M349.4 67.9h1.15M350.1 66.1h1.15M327.7 80.2h1.15M330.6 77.7h1.15M341.3 63.4h1.15M343.2 72.0h1.15M334.1 72.2h1.15M334.6 67.7h1.15M338.8 75.4h1.15M346.4 66.9h1.15M341.0 69.7h1.15M343.8 68.9h1.15M330.3 77.3h1.15M331.5 62.4h1.15M344.8 62.7h1.15M340.3 69.1h1.15M337.9 72.7h1.15M339.1 68.9h1.15M334.1 70.9h1.15M334.0 72.2h1.15M352.5 68.7h1.15M342.6 63.0h1.15M350.3 69.3h1.15M353.2 55.0h1.15M341.1 67.8h1.15M347.8 62.0h1.15M342.0 78.3h1.15M345.8 59.1h1.15M343.5 73.8h1.15M337.8 73.0h1.15M340.1 63.6h1.15M338.5 74.9h1.15M349.2 63.4h1.15M348.6 63.2h1.15M343.2 68.2h1.15M332.8 73.8h1.15M334.7 60.5h1.15M334.2 68.5h1.15M334.0 68.0h1.15M332.9 62.4h1.15M348.0 66.7h1.15M342.9 67.3h1.15M341.5 67.9h1.15M331.3 66.9h1.15M343.4 72.4h1.15M345.5 74.0h1.15M331.1 72.1h1.15M338.7 75.2h1.15M353.1 62.2h1.15M346.4 66.0h1.15M334.0 71.6h1.15M336.1 77.6h1.15M347.4 71.5h1.15M340.6 59.4h1.15M347.4 67.0h1.15M324.2 76.4h1.15M351.3 72.1h1.15M335.1 74.8h1.15M343.6 67.4h1.15M340.1 71.7h1.15M346.6 69.7h1.15M336.6 65.5h1.15M352.9 69.7h1.15M337.3 70.6h1.15M344.8 60.4h1.15M348.5 76.1h1.15M342.4 65.7h1.15M356.4 63.0h1.15M342.4 66.9h1.15M340.2 62.1h1.15M330.0 67.6h1.15M347.9 66.0h1.15M346.9 58.4h1.15M339.1 76.0h1.15M333.0 64.7h1.15M335.5 70.0h1.15M343.2 73.7h1.15M353.4 70.6h1.15M344.9 65.5h1.15M335.7 65.2h1.15M352.5 69.7h1.15M340.8 65.6h1.15M347.1 68.8h1.15M340.9 64.4h1.15M342.4 66.3h1.15M347.7 69.0h1.15M344.0 66.2h1.15M353.6 67.3h1.15M351.9 68.3h1.15M346.8 68.4h1.15M331.0 65.7h1.15M335.5 73.9h1.15M348.3 67.0h1.15M344.7 75.3h1.15M336.0 63.8h1.15M329.7 72.4h1.15M347.6 69.6h1.15M341.0 72.6h1.15M340.0 66.6h1.15M339.8 72.8h1.15M346.8 62.2h1.15M334.4 72.3h1.15M355.2 58.6h1.15M332.9 74.2h1.15M344.3 65.3h1.15M341.9 70.8h1.15M328.7 74.0h1.15M347.1 70.5h1.15M349.8 65.3h1.15M332.9 78.0h1.15M346.1 64.5h1.15M350.5 69.7h1.15M337.0 61.0h1.15M336.9 67.7h1.15M335.2 71.2h1.15M334.1 73.6h1.15M353.5 59.2h1.15M348.2 64.1h1.15M345.2 67.0h1.15M349.7 62.7h1.15M345.6 64.1h1.15M343.1 68.3h1.15M347.1 60.2h1.15M333.6 77.9h1.15M346.7 73.9h1.15M334.2 72.8h1.15M348.3 73.5h1.15" stroke="#000" stroke-width="1.15" stroke-opacity="0.62" fill="none"/>
<path d="M346.2 58.2h1.15M351.7 57.5h1.15M344.3 65.5h1.15M333.5 61.1h1.15M354.9 53.9h1.15M346.2 62.6h1.15M355.5 59.0h1.15M340.3 60.3h1.15M353.7 56.4h1.15M345.3 65.6h1.15M358.9 66.1h1.15M339.3 60.0h1.15M343.8 63.5h1.15M346.7 66.2h1.15M332.7 72.0h1.15M342.9 60.7h1.15M351.4 59.2h1.15M344.2 69.4h1.15M350.0 56.2h1.15M346.5 54.6h1.15M339.2 62.2h1.15M349.9 59.4h1.15M339.8 56.2h1.15M340.3 71.8h1.15M348.1 55.5h1.15M355.9 58.9h1.15M343.6 58.5h1.15M355.1 58.1h1.15M358.3 56.9h1.15M342.6 59.1h1.15M343.6 63.1h1.15M350.2 61.9h1.15M348.1 54.1h1.15M344.3 56.5h1.15M347.7 52.9h1.15M342.1 57.9h1.15M343.1 60.7h1.15M356.3 54.5h1.15M337.9 62.8h1.15M353.2 60.2h1.15M352.9 68.0h1.15M354.5 57.2h1.15M352.2 50.7h1.15M344.6 56.7h1.15M351.8 66.5h1.15M347.6 68.4h1.15M344.0 69.1h1.15M335.2 61.2h1.15M353.4 56.7h1.15M348.3 59.5h1.15M348.2 58.7h1.15M340.8 61.6h1.15M346.3 55.8h1.15M353.9 66.3h1.15M336.2 62.4h1.15M345.7 60.9h1.15M346.5 56.6h1.15M347.2 60.1h1.15M350.0 66.9h1.15M345.2 53.2h1.15" stroke="#000" stroke-width="1.15" stroke-opacity="0.25" fill="none"/>
<path d="M308.8 77.3h1.15M317.1 72.6h1.15M310.2 73.8h1.15M318.8 72.4h1.15M317.0 78.4h1.15M324.8 77.1h1.15M318.2 69.8h1.15M324.7 80.7h1.15M328.1 79.5h1.15M321.3 76.4h1.15M319.3 79.8h1.15M317.6 83.2h1.15M324.7 73.8h1.15M319.4 68.8h1.15M314.4 73.8h1.15M336.1 71.9h1.15M325.7 75.3h1.15M317.4 77.4h1.15M305.9 78.6h1.15M332.6 76.1h1.15M319.0 75.6h1.15M323.9 73.1h1.15M320.2 76.9h1.15M317.1 76.5h1.15M321.7 77.7h1.15M312.7 72.9h1.15M316.5 79.6h1.15M321.1 68.7h1.15M310.7 82.4h1.15M321.7 70.0h1.15M313.2 75.5h1.15M329.1 81.2h1.15M316.9 73.9h1.15M332.5 71.2h1.15M330.1 76.3h1.15M320.1 79.9h1.15M322.7 71.8h1.15M309.1 75.1h1.15M322.9 80.2h1.15M301.7 80.2h1.15M323.6 80.8h1.15M324.8 75.8h1.15M322.4 76.5h1.15M315.2 74.6h1.15M320.3 73.3h1.15M309.5 69.5h1.15M322.9 77.0h1.15M320.2 70.5h1.15M325.2 73.5h1.15M305.3 81.0h1.15" stroke="#000" stroke-width="1.15" stroke-opacity="0.25" fill="none"/>
<path d="M326.4 114.0h1.15M344.1 97.0h1.15M318.9 95.3h1.15M352.4 109.1h1.15M341.7 88.5h1.15M336.1 98.1h1.15M343.5 99.2h1.15M342.4 89.0h1.15M333.8 109.7h1.15M326.7 106.2h1.15M359.6 104.4h1.15M327.3 108.4h1.15M323.2 102.3h1.15M335.9 108.3h1.15M349.7 101.3h1.15M355.1 106.6h1.15M335.2 93.4h1.15M360.9 97.3h1.15M343.0 99.2h1.15M335.3 89.2h1.15M338.2 99.2h1.15M348.0 96.5h1.15M325.8 92.8h1.15M339.1 101.7h1.15M345.8 97.4h1.15M344.1 101.0h1.15M354.2 99.6h1.15M340.7 103.8h1.15M350.1 93.8h1.15M335.3 98.2h1.15M320.8 108.8h1.15M348.8 100.2h1.15M368.8 108.6h1.15M357.1 110.6h1.15M347.3 90.5h1.15" stroke="#000" stroke-width="1.15" stroke-opacity="0.25" fill="none"/>
<line x1="328" y1="29.5" x2="328" y2="114.5" stroke="#454545" stroke-width="1.3"/>
<line x1="296" y1="87" x2="387.5" y2="87" stroke="#454545" stroke-width="1.3"/>
<rect x="297.5" y="31" width="3" height="2.5" fill="#bbb"/>
<rect x="329.5" y="31" width="3" height="2.5" fill="#bbb"/>
<rect x="297.5" y="88.5" width="3" height="2.5" fill="#bbb"/>
<rect x="329.5" y="88.5" width="3" height="2.5" fill="#bbb"/>
<text x="307.52" y="20" font-size="14.53" font-weight="bold" stroke="#000" stroke-width="0.2" fill="#000" textLength="62.59" lengthAdjust="spacingAndGlyphs">Nigericin</text>
<text x="304.57" y="42.5" font-size="10.32" stroke="#111" stroke-width="0.35" fill="#111" textLength="15.1" lengthAdjust="spacingAndGlyphs">1.8</text>
<text x="357.97" y="42.6" font-size="10.32" stroke="#111" stroke-width="0.35" fill="#111" textLength="19.98" lengthAdjust="spacingAndGlyphs">18.6</text>
<text x="362.42" y="101.1" font-size="10.32" stroke="#111" stroke-width="0.35" fill="#111" textLength="16.09" lengthAdjust="spacingAndGlyphs">2.6</text>
<line x1="54.3" y1="238.5" x2="57.3" y2="238.5" stroke="#777" stroke-width="0.8"/>
<rect x="49.3" y="237" width="3.5" height="2.5" fill="#bbb"/>
<line x1="55.8" y1="232.04" x2="57.3" y2="232.04" stroke="#aaa" stroke-width="0.6"/>
<line x1="55.8" y1="228.27" x2="57.3" y2="228.27" stroke="#aaa" stroke-width="0.6"/>
<line x1="55.8" y1="225.59" x2="57.3" y2="225.59" stroke="#aaa" stroke-width="0.6"/>
<line x1="55.8" y1="223.51" x2="57.3" y2="223.51" stroke="#aaa" stroke-width="0.6"/>
<line x1="55.8" y1="221.81" x2="57.3" y2="221.81" stroke="#aaa" stroke-width="0.6"/>
<line x1="55.8" y1="220.37" x2="57.3" y2="220.37" stroke="#aaa" stroke-width="0.6"/>
<line x1="55.8" y1="219.13" x2="57.3" y2="219.13" stroke="#aaa" stroke-width="0.6"/>
<line x1="55.8" y1="218.03" x2="57.3" y2="218.03" stroke="#aaa" stroke-width="0.6"/>
<line x1="54.3" y1="217.05" x2="57.3" y2="217.05" stroke="#777" stroke-width="0.8"/>
<rect x="49.3" y="215.55" width="3.5" height="2.5" fill="#bbb"/>
<line x1="55.8" y1="210.59" x2="57.3" y2="210.59" stroke="#aaa" stroke-width="0.6"/>
<line x1="55.8" y1="206.82" x2="57.3" y2="206.82" stroke="#aaa" stroke-width="0.6"/>
<line x1="55.8" y1="204.14" x2="57.3" y2="204.14" stroke="#aaa" stroke-width="0.6"/>
<line x1="55.8" y1="202.06" x2="57.3" y2="202.06" stroke="#aaa" stroke-width="0.6"/>
<line x1="55.8" y1="200.36" x2="57.3" y2="200.36" stroke="#aaa" stroke-width="0.6"/>
<line x1="55.8" y1="198.92" x2="57.3" y2="198.92" stroke="#aaa" stroke-width="0.6"/>
<line x1="55.8" y1="197.68" x2="57.3" y2="197.68" stroke="#aaa" stroke-width="0.6"/>
<line x1="55.8" y1="196.58" x2="57.3" y2="196.58" stroke="#aaa" stroke-width="0.6"/>
<line x1="54.3" y1="195.6" x2="57.3" y2="195.6" stroke="#777" stroke-width="0.8"/>
<rect x="49.3" y="194.1" width="3.5" height="2.5" fill="#bbb"/>
<line x1="55.8" y1="189.14" x2="57.3" y2="189.14" stroke="#aaa" stroke-width="0.6"/>
<line x1="55.8" y1="185.37" x2="57.3" y2="185.37" stroke="#aaa" stroke-width="0.6"/>
<line x1="55.8" y1="182.69" x2="57.3" y2="182.69" stroke="#aaa" stroke-width="0.6"/>
<line x1="55.8" y1="180.61" x2="57.3" y2="180.61" stroke="#aaa" stroke-width="0.6"/>
<line x1="55.8" y1="178.91" x2="57.3" y2="178.91" stroke="#aaa" stroke-width="0.6"/>
<line x1="55.8" y1="177.47" x2="57.3" y2="177.47" stroke="#aaa" stroke-width="0.6"/>
<line x1="55.8" y1="176.23" x2="57.3" y2="176.23" stroke="#aaa" stroke-width="0.6"/>
<line x1="55.8" y1="175.13" x2="57.3" y2="175.13" stroke="#aaa" stroke-width="0.6"/>
<line x1="54.3" y1="174.15" x2="57.3" y2="174.15" stroke="#777" stroke-width="0.8"/>
<rect x="49.3" y="172.65" width="3.5" height="2.5" fill="#bbb"/>
<line x1="55.8" y1="167.69" x2="57.3" y2="167.69" stroke="#aaa" stroke-width="0.6"/>
<line x1="55.8" y1="163.92" x2="57.3" y2="163.92" stroke="#aaa" stroke-width="0.6"/>
<line x1="55.8" y1="161.24" x2="57.3" y2="161.24" stroke="#aaa" stroke-width="0.6"/>
<line x1="55.8" y1="159.16" x2="57.3" y2="159.16" stroke="#aaa" stroke-width="0.6"/>
<line x1="55.8" y1="157.46" x2="57.3" y2="157.46" stroke="#aaa" stroke-width="0.6"/>
<line x1="55.8" y1="156.02" x2="57.3" y2="156.02" stroke="#aaa" stroke-width="0.6"/>
<line x1="55.8" y1="154.78" x2="57.3" y2="154.78" stroke="#aaa" stroke-width="0.6"/>
<line x1="55.8" y1="153.68" x2="57.3" y2="153.68" stroke="#aaa" stroke-width="0.6"/>
<line x1="54.3" y1="152.7" x2="57.3" y2="152.7" stroke="#777" stroke-width="0.8"/>
<rect x="49.3" y="151.2" width="3.5" height="2.5" fill="#bbb"/>
<line x1="57.3" y1="238.5" x2="57.3" y2="241.5" stroke="#777" stroke-width="0.8"/>
<rect x="55.3" y="243" width="4" height="2.5" fill="#bbb"/>
<line x1="64.16" y1="238.5" x2="64.16" y2="240" stroke="#aaa" stroke-width="0.6"/>
<line x1="68.18" y1="238.5" x2="68.18" y2="240" stroke="#aaa" stroke-width="0.6"/>
<line x1="71.03" y1="238.5" x2="71.03" y2="240" stroke="#aaa" stroke-width="0.6"/>
<line x1="73.24" y1="238.5" x2="73.24" y2="240" stroke="#aaa" stroke-width="0.6"/>
<line x1="75.04" y1="238.5" x2="75.04" y2="240" stroke="#aaa" stroke-width="0.6"/>
<line x1="76.57" y1="238.5" x2="76.57" y2="240" stroke="#aaa" stroke-width="0.6"/>
<line x1="77.89" y1="238.5" x2="77.89" y2="240" stroke="#aaa" stroke-width="0.6"/>
<line x1="79.06" y1="238.5" x2="79.06" y2="240" stroke="#aaa" stroke-width="0.6"/>
<line x1="80.1" y1="238.5" x2="80.1" y2="241.5" stroke="#777" stroke-width="0.8"/>
<rect x="78.1" y="243" width="4" height="2.5" fill="#bbb"/>
<line x1="86.96" y1="238.5" x2="86.96" y2="240" stroke="#aaa" stroke-width="0.6"/>
<line x1="90.98" y1="238.5" x2="90.98" y2="240" stroke="#aaa" stroke-width="0.6"/>
<line x1="93.83" y1="238.5" x2="93.83" y2="240" stroke="#aaa" stroke-width="0.6"/>
<line x1="96.04" y1="238.5" x2="96.04" y2="240" stroke="#aaa" stroke-width="0.6"/>
<line x1="97.84" y1="238.5" x2="97.84" y2="240" stroke="#aaa" stroke-width="0.6"/>
<line x1="99.37" y1="238.5" x2="99.37" y2="240" stroke="#aaa" stroke-width="0.6"/>
<line x1="100.69" y1="238.5" x2="100.69" y2="240" stroke="#aaa" stroke-width="0.6"/>
<line x1="101.86" y1="238.5" x2="101.86" y2="240" stroke="#aaa" stroke-width="0.6"/>
<line x1="102.9" y1="238.5" x2="102.9" y2="241.5" stroke="#777" stroke-width="0.8"/>
<rect x="100.9" y="243" width="4" height="2.5" fill="#bbb"/>
<line x1="109.76" y1="238.5" x2="109.76" y2="240" stroke="#aaa" stroke-width="0.6"/>
<line x1="113.78" y1="238.5" x2="113.78" y2="240" stroke="#aaa" stroke-width="0.6"/>
<line x1="116.63" y1="238.5" x2="116.63" y2="240" stroke="#aaa" stroke-width="0.6"/>
<line x1="118.84" y1="238.5" x2="118.84" y2="240" stroke="#aaa" stroke-width="0.6"/>
<line x1="120.64" y1="238.5" x2="120.64" y2="240" stroke="#aaa" stroke-width="0.6"/>
<line x1="122.17" y1="238.5" x2="122.17" y2="240" stroke="#aaa" stroke-width="0.6"/>
<line x1="123.49" y1="238.5" x2="123.49" y2="240" stroke="#aaa" stroke-width="0.6"/>
<line x1="124.66" y1="238.5" x2="124.66" y2="240" stroke="#aaa" stroke-width="0.6"/>
<line x1="125.7" y1="238.5" x2="125.7" y2="241.5" stroke="#777" stroke-width="0.8"/>
<rect x="123.7" y="243" width="4" height="2.5" fill="#bbb"/>
<line x1="132.56" y1="238.5" x2="132.56" y2="240" stroke="#aaa" stroke-width="0.6"/>
<line x1="136.58" y1="238.5" x2="136.58" y2="240" stroke="#aaa" stroke-width="0.6"/>
<line x1="139.43" y1="238.5" x2="139.43" y2="240" stroke="#aaa" stroke-width="0.6"/>
<line x1="141.64" y1="238.5" x2="141.64" y2="240" stroke="#aaa" stroke-width="0.6"/>
<line x1="143.44" y1="238.5" x2="143.44" y2="240" stroke="#aaa" stroke-width="0.6"/>
<line x1="144.97" y1="238.5" x2="144.97" y2="240" stroke="#aaa" stroke-width="0.6"/>
<line x1="146.29" y1="238.5" x2="146.29" y2="240" stroke="#aaa" stroke-width="0.6"/>
<line x1="147.46" y1="238.5" x2="147.46" y2="240" stroke="#aaa" stroke-width="0.6"/>
<line x1="148.5" y1="238.5" x2="148.5" y2="241.5" stroke="#777" stroke-width="0.8"/>
<rect x="146.5" y="243" width="4" height="2.5" fill="#bbb"/>
<rect x="57.3" y="152.7" width="91.2" height="85.8" fill="none" stroke="#a2a2a2" stroke-width="1"/>
<ellipse cx="83" cy="216.5" rx="16" ry="21" transform="rotate(0 83 216.5)" fill="url(#cg)" opacity="0.85" clip-path="url(#c4)"/>
<path d="M94.1 220.6h1.15M74.2 217.5h1.15M88.4 225.5h1.15M84.2 212.5h1.15M88.5 210.4h1.15M82.4 223.6h1.15M72.4 220.3h1.15M68.7 209.0h1.15M74.0 216.2h1.15M88.1 216.6h1.15M89.6 217.8h1.15M81.4 221.3h1.15M81.2 218.2h1.15M90.5 212.1h1.15M91.3 207.4h1.15M79.1 230.8h1.15M85.5 228.0h1.15M72.2 208.2h1.15M86.3 224.2h1.15M86.7 216.4h1.15M83.8 221.1h1.15M75.1 204.4h1.15M73.3 215.8h1.15M92.5 210.8h1.15M77.4 207.0h1.15M70.3 217.6h1.15M79.4 214.9h1.15M75.9 221.2h1.15M74.2 221.8h1.15M78.1 223.8h1.15M76.4 220.8h1.15M86.1 216.3h1.15M94.8 218.5h1.15M76.4 223.0h1.15M76.9 212.3h1.15M83.0 218.6h1.15M81.0 226.8h1.15M81.8 219.8h1.15M94.1 206.3h1.15M83.2 223.9h1.15M75.6 218.7h1.15M84.3 233.0h1.15M92.6 203.6h1.15M90.5 225.0h1.15M94.8 215.7h1.15M78.9 218.3h1.15M94.2 222.4h1.15M95.3 223.8h1.15M78.6 208.2h1.15M96.5 203.8h1.15M80.4 214.2h1.15M76.3 212.0h1.15M83.0 237.7h1.15M82.5 212.4h1.15M83.8 225.2h1.15M77.0 213.5h1.15M70.2 223.1h1.15M87.9 230.1h1.15M74.2 235.9h1.15M89.3 214.6h1.15M80.1 214.3h1.15M74.1 223.7h1.15M78.5 210.7h1.15M86.7 218.0h1.15M78.7 215.0h1.15M79.3 228.7h1.15M90.3 210.7h1.15M82.6 228.9h1.15M80.8 232.5h1.15M86.2 222.8h1.15M67.7 224.4h1.15M85.4 222.1h1.15M86.4 221.6h1.15M79.2 224.8h1.15M83.4 207.9h1.15M75.5 218.4h1.15M67.8 226.2h1.15M82.8 238.0h1.15M71.7 214.8h1.15M78.5 221.9h1.15M93.2 231.1h1.15M75.5 227.8h1.15M74.0 219.7h1.15M84.2 222.4h1.15M77.1 228.7h1.15M82.4 216.8h1.15M81.0 207.7h1.15M88.2 219.9h1.15M86.3 233.3h1.15M76.6 214.5h1.15M83.0 224.5h1.15M81.6 225.2h1.15M80.8 213.4h1.15M87.2 218.5h1.15M82.5 228.0h1.15M87.3 206.3h1.15M77.9 219.9h1.15M95.4 215.3h1.15M81.7 219.3h1.15M88.7 216.2h1.15M85.1 213.3h1.15M78.9 210.1h1.15M87.7 212.1h1.15M87.0 220.5h1.15M75.9 206.3h1.15M81.7 224.0h1.15M101.5 230.5h1.15M92.9 220.3h1.15M80.1 221.7h1.15M67.0 225.1h1.15M83.0 222.4h1.15M75.4 207.4h1.15M78.2 216.6h1.15M85.5 213.9h1.15M85.5 222.9h1.15M74.4 216.1h1.15M71.5 212.2h1.15M89.6 210.8h1.15M96.6 221.4h1.15M89.4 217.9h1.15M89.3 226.6h1.15M83.7 212.4h1.15M78.9 233.9h1.15M81.6 213.0h1.15M79.3 219.8h1.15M79.4 210.4h1.15M85.9 221.0h1.15M79.7 219.7h1.15M75.8 224.5h1.15M75.7 214.1h1.15M83.9 213.3h1.15M74.5 235.4h1.15M83.8 205.9h1.15M85.2 205.6h1.15M87.2 221.7h1.15M95.4 227.5h1.15M79.6 225.3h1.15M79.6 216.0h1.15M81.2 221.6h1.15M78.2 223.0h1.15M91.0 231.0h1.15M69.6 221.0h1.15M79.4 223.7h1.15M70.6 215.8h1.15M88.1 211.4h1.15M80.3 208.4h1.15M91.1 205.4h1.15M76.2 214.1h1.15M80.6 235.5h1.15M84.9 209.7h1.15M87.2 220.0h1.15M85.0 216.4h1.15M86.3 206.7h1.15M74.1 213.3h1.15M74.8 223.1h1.15M97.2 227.8h1.15M86.2 220.0h1.15M77.9 205.6h1.15M86.9 204.0h1.15M85.1 215.8h1.15M88.4 217.4h1.15M83.7 211.9h1.15M70.3 214.0h1.15M88.0 226.2h1.15M93.0 208.3h1.15M76.1 223.1h1.15M79.6 238.0h1.15M85.2 203.7h1.15M78.9 230.8h1.15M69.6 218.3h1.15M72.8 231.0h1.15M79.6 208.0h1.15M70.4 210.8h1.15M64.2 212.8h1.15M98.9 217.9h1.15M81.0 206.8h1.15M85.4 212.9h1.15M76.7 229.1h1.15M86.1 209.2h1.15M93.8 216.5h1.15M86.6 218.3h1.15M91.6 222.4h1.15M80.4 223.3h1.15M80.1 218.2h1.15M95.0 207.7h1.15M75.3 213.5h1.15M79.3 228.4h1.15M71.3 237.1h1.15M94.5 213.1h1.15M84.3 213.8h1.15M87.8 222.8h1.15M88.4 223.7h1.15M97.1 215.5h1.15M88.1 215.4h1.15M83.2 218.9h1.15M82.5 220.0h1.15M76.7 215.7h1.15M78.5 206.8h1.15M77.7 212.6h1.15M81.0 207.1h1.15M76.9 218.7h1.15M91.1 219.5h1.15M79.3 213.1h1.15M91.3 203.8h1.15M78.3 217.4h1.15M81.3 231.6h1.15M86.6 216.6h1.15M89.9 217.3h1.15M77.0 226.9h1.15M93.9 228.2h1.15M74.3 233.7h1.15M79.9 223.7h1.15M91.7 237.9h1.15M71.1 208.0h1.15M91.6 221.3h1.15M86.2 215.4h1.15M63.8 238.0h1.15M64.6 212.1h1.15M82.9 219.0h1.15M88.5 214.7h1.15M76.3 213.8h1.15M67.5 207.2h1.15M97.4 211.0h1.15M82.3 233.7h1.15M90.7 218.1h1.15M88.3 214.6h1.15M76.3 225.8h1.15M83.9 231.1h1.15M81.0 213.7h1.15M85.5 215.3h1.15M80.6 209.1h1.15M84.8 219.8h1.15M96.4 216.8h1.15M70.0 221.1h1.15M99.7 213.1h1.15M77.0 215.5h1.15M61.9 214.1h1.15M81.5 203.7h1.15M87.2 209.3h1.15M69.3 210.7h1.15M87.6 233.9h1.15M92.1 218.7h1.15M79.2 214.7h1.15M90.0 212.4h1.15M86.0 225.5h1.15M76.3 211.8h1.15M86.2 217.1h1.15M82.0 212.3h1.15M82.5 233.3h1.15M83.3 217.8h1.15M83.2 204.8h1.15M82.0 218.3h1.15M77.9 219.8h1.15M65.0 203.7h1.15M83.7 220.4h1.15M81.7 213.0h1.15M84.3 226.5h1.15M89.5 216.3h1.15M79.5 226.4h1.15M86.9 224.8h1.15M80.9 209.4h1.15M84.3 211.5h1.15M91.4 224.5h1.15M66.9 222.9h1.15M92.7 226.1h1.15M79.4 209.4h1.15M90.1 225.9h1.15M83.4 206.8h1.15M71.7 219.4h1.15M76.8 211.0h1.15M86.2 226.2h1.15M67.7 211.1h1.15M92.5 216.6h1.15M80.4 222.6h1.15M74.5 206.2h1.15M83.1 230.8h1.15M90.4 217.0h1.15M90.4 213.4h1.15M84.9 224.9h1.15M85.7 216.7h1.15M80.0 226.6h1.15M82.6 204.3h1.15M93.0 211.3h1.15M85.8 217.0h1.15M90.7 219.2h1.15M92.0 218.9h1.15M79.5 212.5h1.15M87.7 209.7h1.15M89.8 214.9h1.15M76.1 209.3h1.15M81.9 232.6h1.15M88.6 217.2h1.15M76.3 233.8h1.15M80.9 217.0h1.15M79.8 228.8h1.15M84.2 213.0h1.15M84.3 208.2h1.15M75.2 215.6h1.15M61.7 227.4h1.15M97.6 207.2h1.15M84.2 218.9h1.15M88.4 205.2h1.15M78.5 211.3h1.15M81.1 237.2h1.15M81.5 216.6h1.15M79.2 224.0h1.15M101.8 227.3h1.15M94.2 207.5h1.15M90.7 217.2h1.15M92.1 226.3h1.15M83.9 212.6h1.15M86.2 217.3h1.15M77.5 216.3h1.15M85.3 213.4h1.15M82.7 217.5h1.15M90.6 216.0h1.15M63.6 204.1h1.15M85.9 216.2h1.15M82.9 210.6h1.15M79.8 224.3h1.15M85.6 216.8h1.15M79.3 218.9h1.15M91.7 216.8h1.15M80.2 206.6h1.15M83.7 208.9h1.15M72.3 224.7h1.15M77.6 233.3h1.15M82.1 205.3h1.15M74.8 223.4h1.15M85.9 218.9h1.15M81.5 221.3h1.15M94.3 221.3h1.15M81.7 204.6h1.15M86.2 230.9h1.15M87.7 205.9h1.15M84.3 228.5h1.15M78.2 221.4h1.15M91.9 231.5h1.15M85.7 223.2h1.15M80.3 216.8h1.15M79.9 227.6h1.15M66.6 219.3h1.15M73.5 211.0h1.15M71.6 209.0h1.15M82.7 217.2h1.15M96.1 215.0h1.15M85.5 220.1h1.15M84.8 230.0h1.15M83.9 218.3h1.15M82.1 217.0h1.15M82.5 225.8h1.15M83.1 217.6h1.15M82.6 223.7h1.15M79.4 225.3h1.15M78.7 223.1h1.15M97.1 219.1h1.15M82.3 206.5h1.15M88.4 217.1h1.15M89.7 211.2h1.15M86.8 233.0h1.15M85.9 214.1h1.15M73.3 216.9h1.15M87.8 222.3h1.15M74.7 207.9h1.15M75.7 208.0h1.15M80.9 219.4h1.15M97.2 218.7h1.15M93.7 202.3h1.15M94.3 224.1h1.15M86.2 224.3h1.15M87.5 234.0h1.15M70.0 231.3h1.15M82.3 228.7h1.15M80.4 211.2h1.15M80.4 219.8h1.15M84.3 211.5h1.15M86.9 222.5h1.15M76.1 207.1h1.15M68.4 214.3h1.15M83.0 210.8h1.15M78.5 215.8h1.15M83.1 222.1h1.15M89.1 220.9h1.15M91.2 208.4h1.15M87.4 220.3h1.15M75.2 211.0h1.15M86.2 217.7h1.15M73.6 212.1h1.15M94.2 224.5h1.15M83.5 229.0h1.15M76.2 215.5h1.15M90.0 214.0h1.15M74.6 222.2h1.15M84.1 205.9h1.15M80.7 204.4h1.15M102.2 211.0h1.15M83.3 210.7h1.15M75.6 213.0h1.15M84.5 232.6h1.15M85.1 230.9h1.15M75.0 217.6h1.15M110.6 214.8h1.15M84.7 210.3h1.15M78.7 207.8h1.15M90.5 213.4h1.15M81.9 218.6h1.15M73.8 219.1h1.15M81.7 221.0h1.15M80.1 217.3h1.15M86.8 225.6h1.15M77.8 225.6h1.15M75.6 215.3h1.15M83.9 218.3h1.15M64.4 208.3h1.15M81.6 225.2h1.15M77.7 230.4h1.15M69.6 217.7h1.15M86.9 217.2h1.15M84.9 225.3h1.15M77.0 222.2h1.15M90.8 214.9h1.15M65.8 206.4h1.15M76.6 207.6h1.15M86.1 209.8h1.15M101.3 222.1h1.15M73.2 214.5h1.15M94.3 223.0h1.15M75.4 226.2h1.15M79.4 236.7h1.15M78.8 222.3h1.15M87.1 213.0h1.15M81.8 227.3h1.15M86.6 216.5h1.15M86.2 232.5h1.15M89.8 221.2h1.15M83.9 212.7h1.15M88.4 211.6h1.15M86.3 207.6h1.15M89.6 210.5h1.15M82.7 222.1h1.15M80.5 217.1h1.15M90.8 232.7h1.15M69.5 209.0h1.15M87.9 225.4h1.15M79.4 217.8h1.15M81.5 237.2h1.15M81.4 206.4h1.15M71.4 205.6h1.15M92.6 213.5h1.15M97.4 222.7h1.15M85.8 222.7h1.15M88.8 225.2h1.15M75.7 212.0h1.15M78.9 217.9h1.15M81.1 206.0h1.15M77.8 232.9h1.15M98.7 209.4h1.15M85.7 216.7h1.15M76.7 223.3h1.15M82.4 231.8h1.15M86.3 214.2h1.15M63.3 216.1h1.15M89.2 210.7h1.15M89.5 223.1h1.15M69.8 215.3h1.15M85.3 223.7h1.15M84.1 216.9h1.15M80.4 214.4h1.15M83.0 207.6h1.15M87.7 214.1h1.15M86.8 212.5h1.15M86.0 218.1h1.15M89.5 221.1h1.15M89.8 215.5h1.15M82.5 214.7h1.15M73.6 215.9h1.15M91.0 223.8h1.15M76.6 219.7h1.15M88.5 204.9h1.15M85.5 219.9h1.15M88.5 219.3h1.15M70.0 199.1h1.15M97.6 213.5h1.15M92.4 228.2h1.15M83.6 206.8h1.15M93.1 216.7h1.15M86.8 221.2h1.15M90.0 226.0h1.15M72.4 204.5h1.15M84.0 217.1h1.15M88.7 215.8h1.15M81.6 235.0h1.15M93.1 227.3h1.15M90.6 210.0h1.15M82.3 216.4h1.15M74.8 209.3h1.15M84.1 206.2h1.15M86.9 221.2h1.15M81.2 214.0h1.15M87.4 221.3h1.15M85.6 206.2h1.15M70.9 235.2h1.15M78.1 213.8h1.15M69.4 209.9h1.15M77.5 224.1h1.15M63.3 204.6h1.15M79.9 212.6h1.15M77.2 213.1h1.15M71.2 219.4h1.15M91.8 218.4h1.15M79.0 228.2h1.15M86.5 207.9h1.15M78.7 211.6h1.15M82.6 227.7h1.15M77.7 215.7h1.15M83.8 206.5h1.15M79.4 222.4h1.15M88.2 214.4h1.15M92.5 222.5h1.15M97.5 219.7h1.15M80.0 209.6h1.15M72.3 221.9h1.15M86.7 224.2h1.15M85.5 203.8h1.15M79.9 214.9h1.15M84.1 223.8h1.15M93.4 219.5h1.15M67.6 208.0h1.15M67.1 210.2h1.15M74.0 219.1h1.15M81.3 226.9h1.15M90.9 213.0h1.15M89.9 217.1h1.15M86.3 228.9h1.15M74.4 216.4h1.15M94.3 210.3h1.15M84.5 218.2h1.15M79.8 205.4h1.15M77.8 208.3h1.15M90.9 219.2h1.15M88.1 206.5h1.15M86.6 218.3h1.15M90.7 210.6h1.15M88.9 229.1h1.15M96.3 208.8h1.15M74.6 204.1h1.15M90.1 222.3h1.15M85.5 209.4h1.15M92.2 231.2h1.15M82.7 215.9h1.15M91.7 221.5h1.15M92.9 213.4h1.15M85.4 214.0h1.15M78.7 214.4h1.15M80.8 221.5h1.15M80.7 217.6h1.15M76.9 206.2h1.15M93.5 208.3h1.15M96.4 225.3h1.15M66.0 211.4h1.15M79.8 217.2h1.15M81.6 211.7h1.15M92.2 215.9h1.15M90.1 211.0h1.15M77.8 228.8h1.15M80.8 207.3h1.15M81.7 226.3h1.15M81.7 210.7h1.15M87.6 225.7h1.15M81.4 214.2h1.15M80.2 238.0h1.15M81.5 232.4h1.15M81.8 220.6h1.15M67.8 218.6h1.15M83.3 214.2h1.15M79.9 205.0h1.15M71.9 218.5h1.15M78.2 216.2h1.15M81.6 212.5h1.15M77.5 233.4h1.15M74.8 212.5h1.15M80.8 206.8h1.15M75.8 224.6h1.15M89.8 218.2h1.15M107.0 224.3h1.15M92.1 209.8h1.15M91.0 231.8h1.15M80.1 232.9h1.15M77.0 207.0h1.15M82.6 209.9h1.15M87.7 207.3h1.15M82.7 226.3h1.15M81.0 219.8h1.15M91.0 207.4h1.15M73.5 217.7h1.15M85.0 214.7h1.15M75.8 227.7h1.15M74.3 214.7h1.15M82.6 223.4h1.15M79.6 209.8h1.15M97.9 209.6h1.15M88.9 215.7h1.15M79.4 216.6h1.15M81.1 219.7h1.15M64.1 216.8h1.15M83.5 208.5h1.15M80.1 237.6h1.15M96.6 222.6h1.15M84.7 214.3h1.15M93.2 213.1h1.15M76.9 223.1h1.15M75.8 210.1h1.15M82.5 218.1h1.15M84.9 204.2h1.15M81.3 214.1h1.15M97.2 225.8h1.15M77.4 224.7h1.15M87.8 216.0h1.15M81.2 214.6h1.15M71.5 211.5h1.15M89.9 229.7h1.15M96.7 213.7h1.15M81.0 205.9h1.15M75.2 207.3h1.15M85.9 224.4h1.15M76.2 232.8h1.15M84.1 209.7h1.15M85.5 216.9h1.15M89.1 220.0h1.15M99.2 227.3h1.15M78.2 223.9h1.15M88.6 208.2h1.15M77.4 209.9h1.15M64.7 222.6h1.15M81.4 227.8h1.15M78.8 217.7h1.15M88.3 225.5h1.15M85.3 207.9h1.15M99.3 224.6h1.15M93.0 231.2h1.15M93.4 220.7h1.15M86.5 222.6h1.15M71.8 224.1h1.15M75.8 220.7h1.15M75.5 223.3h1.15M79.4 238.0h1.15M84.4 221.5h1.15M76.3 214.5h1.15M82.5 214.5h1.15M79.7 209.3h1.15M88.6 213.6h1.15M76.9 220.2h1.15M77.0 215.5h1.15M79.2 208.9h1.15M81.3 209.8h1.15M73.7 220.1h1.15M80.8 204.2h1.15M80.1 218.6h1.15M86.1 220.3h1.15M84.9 222.2h1.15M79.3 210.0h1.15M87.5 213.4h1.15M83.1 222.7h1.15M89.9 227.7h1.15M77.9 213.8h1.15M87.1 204.5h1.15M73.7 222.3h1.15M78.4 208.9h1.15M88.9 221.7h1.15M89.8 214.1h1.15M80.9 214.0h1.15M77.9 223.2h1.15M77.2 216.4h1.15M83.9 221.6h1.15M79.5 207.1h1.15M101.4 210.7h1.15M83.8 215.3h1.15M97.0 234.9h1.15M90.2 208.1h1.15M77.1 210.4h1.15M79.2 219.3h1.15M77.2 214.9h1.15M93.9 229.6h1.15M69.3 208.7h1.15M80.2 228.4h1.15M80.6 233.7h1.15M85.7 229.6h1.15M76.7 214.3h1.15M90.5 222.0h1.15M69.2 214.6h1.15M84.3 222.5h1.15M78.3 232.2h1.15M84.1 229.7h1.15M86.0 217.7h1.15M80.6 206.8h1.15M89.4 223.6h1.15M89.9 213.7h1.15M75.6 213.7h1.15M80.7 216.9h1.15M90.2 209.0h1.15M79.4 223.0h1.15M89.7 236.3h1.15M86.9 209.6h1.15M75.3 210.1h1.15M83.5 219.2h1.15M82.5 211.7h1.15M81.6 216.3h1.15M87.4 217.7h1.15M77.0 206.8h1.15M93.9 216.3h1.15M81.7 216.8h1.15M91.3 214.3h1.15M84.3 214.9h1.15M87.3 208.2h1.15M84.5 226.0h1.15M91.7 222.4h1.15M85.2 230.7h1.15M88.2 229.2h1.15M74.2 207.4h1.15M88.9 214.7h1.15M79.8 208.7h1.15M93.9 206.6h1.15M83.8 204.9h1.15M81.7 236.6h1.15M100.9 212.7h1.15M75.6 231.2h1.15M85.6 207.6h1.15M72.4 226.8h1.15M77.7 207.7h1.15M84.3 215.4h1.15M91.3 217.8h1.15M94.7 226.9h1.15M96.1 226.8h1.15M83.6 221.8h1.15M74.4 223.5h1.15M65.7 209.8h1.15M73.6 216.5h1.15M75.4 219.2h1.15M81.6 212.9h1.15M83.6 205.8h1.15M80.9 220.2h1.15M90.7 223.1h1.15M93.9 204.7h1.15M88.0 230.7h1.15M85.9 207.4h1.15M86.0 212.5h1.15M78.3 226.3h1.15M81.7 207.3h1.15M78.1 234.1h1.15M76.8 222.9h1.15M84.3 227.2h1.15M81.0 208.8h1.15M78.3 208.1h1.15M102.1 218.7h1.15M80.7 228.0h1.15M87.9 215.4h1.15M87.6 219.4h1.15M91.3 231.4h1.15M80.7 216.7h1.15M81.7 227.7h1.15M85.9 223.8h1.15M89.6 211.5h1.15M84.0 229.1h1.15M89.8 224.1h1.15M81.0 213.9h1.15M76.8 214.7h1.15M82.6 204.6h1.15M91.6 210.4h1.15M84.9 222.3h1.15M90.1 220.6h1.15M81.2 226.9h1.15M89.6 208.7h1.15M81.1 229.3h1.15M76.9 224.2h1.15M72.0 214.5h1.15M89.9 232.0h1.15M86.4 223.6h1.15M70.5 233.5h1.15M101.1 222.2h1.15M83.5 219.3h1.15M83.3 211.7h1.15M82.9 215.9h1.15M87.9 222.9h1.15M90.2 222.1h1.15M76.0 229.1h1.15M63.5 218.0h1.15M85.5 212.4h1.15M96.7 207.5h1.15M74.5 212.6h1.15M86.1 223.9h1.15M83.9 222.8h1.15M77.9 211.8h1.15M84.0 205.3h1.15M84.4 213.6h1.15M88.0 208.2h1.15M79.2 212.1h1.15M80.4 208.3h1.15M81.2 205.3h1.15M87.0 222.9h1.15M82.9 215.4h1.15M76.6 208.7h1.15M81.5 209.2h1.15M74.5 218.5h1.15M82.9 213.5h1.15M77.1 216.6h1.15M78.0 213.3h1.15M84.4 223.3h1.15M88.6 211.7h1.15M91.8 207.0h1.15M81.8 228.4h1.15M100.3 218.1h1.15M80.4 213.8h1.15M74.2 215.8h1.15M80.0 210.5h1.15M91.8 210.3h1.15M95.4 224.3h1.15M87.7 211.9h1.15M79.4 199.7h1.15M85.0 214.7h1.15M85.9 211.2h1.15M86.6 204.0h1.15M67.1 221.2h1.15M92.4 214.0h1.15M81.9 203.6h1.15M75.8 223.2h1.15M77.7 216.7h1.15M81.9 234.3h1.15M89.5 205.5h1.15M79.6 207.0h1.15M73.0 211.1h1.15M91.0 217.4h1.15M87.9 215.8h1.15M80.0 217.7h1.15M82.5 233.8h1.15M96.1 220.3h1.15M82.1 237.8h1.15M77.2 224.1h1.15M91.9 213.6h1.15M81.4 213.1h1.15M88.8 217.2h1.15M93.9 227.3h1.15M83.0 238.0h1.15M80.8 211.7h1.15M81.3 209.4h1.15M80.0 216.4h1.15M72.9 210.3h1.15M80.8 221.0h1.15M77.3 230.2h1.15M79.2 215.1h1.15M83.4 227.2h1.15M85.2 217.2h1.15M79.1 218.5h1.15M85.9 214.0h1.15M79.2 227.3h1.15M93.3 216.4h1.15M67.4 233.0h1.15M81.8 238.0h1.15M80.0 225.8h1.15M78.6 229.0h1.15M91.4 207.7h1.15M92.4 238.0h1.15M81.4 206.5h1.15M85.0 213.5h1.15M72.2 207.9h1.15M84.8 203.7h1.15M90.8 220.9h1.15M81.7 229.2h1.15M76.3 223.0h1.15M73.2 214.2h1.15M87.6 212.3h1.15M82.2 222.7h1.15M94.0 228.4h1.15M86.3 214.7h1.15M72.6 232.0h1.15M89.3 216.6h1.15M88.1 219.8h1.15M81.6 217.0h1.15M82.7 227.2h1.15M81.1 212.3h1.15M87.7 222.6h1.15M86.1 219.5h1.15M93.6 226.7h1.15M84.5 215.2h1.15M79.2 210.8h1.15M84.2 213.6h1.15M100.8 223.5h1.15M85.9 236.7h1.15M83.0 214.2h1.15M91.9 224.3h1.15M89.7 227.6h1.15M80.4 211.2h1.15M77.8 217.9h1.15M90.2 207.8h1.15M79.1 205.3h1.15M97.4 224.0h1.15M84.6 206.4h1.15M75.6 211.4h1.15M83.2 205.9h1.15M81.4 227.7h1.15M83.1 217.9h1.15M67.9 214.6h1.15M81.9 210.9h1.15M73.0 216.4h1.15M75.6 212.2h1.15M71.5 216.2h1.15M89.6 209.6h1.15M85.3 203.7h1.15M87.2 221.8h1.15M80.2 224.8h1.15M76.7 217.4h1.15M95.1 216.8h1.15M74.9 227.1h1.15M86.9 214.6h1.15M72.0 230.0h1.15M85.1 209.5h1.15M91.3 229.8h1.15M76.9 221.2h1.15M71.1 220.3h1.15M96.1 204.6h1.15M83.4 211.4h1.15M82.3 217.8h1.15M85.0 224.8h1.15M86.7 226.2h1.15M90.3 226.6h1.15M78.1 220.6h1.15M80.3 209.6h1.15M97.1 219.6h1.15M81.3 223.8h1.15M81.5 212.2h1.15M93.6 214.3h1.15M80.6 216.1h1.15M81.3 226.2h1.15M87.1 216.4h1.15M80.4 215.0h1.15M95.2 214.3h1.15M85.3 223.0h1.15M92.1 219.8h1.15M87.2 219.8h1.15M90.7 235.0h1.15M84.4 209.8h1.15M87.3 216.0h1.15M87.6 223.8h1.15M84.1 213.1h1.15M85.2 206.1h1.15M85.0 209.2h1.15M86.2 218.1h1.15M81.4 206.4h1.15M83.4 211.0h1.15M82.0 223.1h1.15M89.8 205.7h1.15M89.7 229.0h1.15M91.1 219.4h1.15M82.4 232.3h1.15M80.7 203.6h1.15M83.6 219.5h1.15M75.6 206.3h1.15M97.2 218.0h1.15M88.6 211.9h1.15M72.1 215.4h1.15M92.6 211.1h1.15M70.2 215.5h1.15M81.0 217.1h1.15M75.5 214.3h1.15M79.1 224.8h1.15M84.1 224.7h1.15M69.0 221.7h1.15M89.3 224.7h1.15M79.5 220.6h1.15M92.9 214.0h1.15M79.0 210.2h1.15M90.3 224.6h1.15M69.9 227.7h1.15M76.4 204.1h1.15M71.6 210.6h1.15M99.6 238.0h1.15M74.1 211.1h1.15M84.1 220.7h1.15M80.0 211.0h1.15M70.1 218.3h1.15M93.9 225.3h1.15M93.4 218.0h1.15M80.0 216.2h1.15M73.2 223.5h1.15M84.9 214.3h1.15M69.6 216.0h1.15M94.7 229.7h1.15M89.3 213.9h1.15M84.0 221.9h1.15M84.4 226.2h1.15M65.6 209.0h1.15M73.1 222.8h1.15M90.7 217.0h1.15M86.9 217.7h1.15M84.3 212.9h1.15M80.1 227.5h1.15M81.1 216.6h1.15M91.6 225.7h1.15M80.2 219.2h1.15M75.8 218.2h1.15M85.3 217.0h1.15M84.2 220.2h1.15M64.8 209.8h1.15M83.6 212.7h1.15M76.1 214.9h1.15M94.6 215.0h1.15M78.3 212.8h1.15M74.5 221.3h1.15M75.9 225.0h1.15M89.5 222.0h1.15M90.5 216.3h1.15M70.4 216.4h1.15M74.2 226.6h1.15M86.2 228.9h1.15M87.8 217.6h1.15M86.1 224.5h1.15M82.8 215.2h1.15M85.3 214.2h1.15M100.3 210.3h1.15M72.1 205.6h1.15M90.5 213.4h1.15M84.2 215.1h1.15M85.0 204.2h1.15M83.6 212.0h1.15M90.8 222.5h1.15M73.9 208.5h1.15M87.1 227.5h1.15M88.5 215.7h1.15M79.2 208.4h1.15M75.6 222.0h1.15M85.0 219.5h1.15M82.1 222.5h1.15M88.7 212.0h1.15M89.8 208.8h1.15M95.7 205.5h1.15M81.0 207.5h1.15M83.3 228.6h1.15M77.6 232.6h1.15M93.2 220.4h1.15M78.8 225.0h1.15M62.4 210.3h1.15M90.0 216.7h1.15" stroke="#000" stroke-width="1.15" stroke-opacity="0.67" fill="none"/>
<path d="M81.2 238.0h1.15M69.2 238.0h1.15M92.2 220.0h1.15M74.9 238.0h1.15M97.8 228.9h1.15M84.8 215.7h1.15M75.1 219.8h1.15M89.9 224.7h1.15M82.0 204.7h1.15M90.1 225.6h1.15M108.5 229.1h1.15M83.8 206.6h1.15M115.6 211.7h1.15M85.9 227.1h1.15M89.5 233.4h1.15M71.4 211.5h1.15M85.6 205.6h1.15M76.4 234.0h1.15M87.1 217.9h1.15M76.9 219.5h1.15M83.2 207.3h1.15M92.9 205.1h1.15M98.7 215.3h1.15M87.0 209.6h1.15M105.0 234.0h1.15M108.5 228.7h1.15M99.6 212.4h1.15M99.0 214.3h1.15M83.0 204.2h1.15M84.3 223.4h1.15M82.9 207.0h1.15M94.3 228.9h1.15M82.5 227.5h1.15M95.3 208.3h1.15M71.3 223.7h1.15M73.2 223.3h1.15M77.8 235.6h1.15M83.8 220.4h1.15M64.7 238.0h1.15M81.4 209.5h1.15M100.2 237.7h1.15M74.6 222.5h1.15M72.8 228.4h1.15M73.6 217.4h1.15M99.2 224.7h1.15M64.6 232.2h1.15M89.7 219.6h1.15M98.6 220.6h1.15M74.9 217.9h1.15M82.4 218.9h1.15M113.4 225.3h1.15M86.9 216.3h1.15M75.4 208.1h1.15M61.1 214.0h1.15M100.0 232.7h1.15M72.0 238.0h1.15M83.8 208.1h1.15M62.7 216.1h1.15M97.4 223.9h1.15M66.1 211.7h1.15M74.5 231.6h1.15M82.4 208.3h1.15M73.4 228.8h1.15M60.6 221.1h1.15M82.2 228.0h1.15M69.8 229.0h1.15M102.2 238.0h1.15M64.0 218.7h1.15M81.0 220.4h1.15M71.7 228.4h1.15M111.7 235.6h1.15M72.1 212.7h1.15M92.3 220.5h1.15M74.4 232.6h1.15M89.8 230.3h1.15M81.4 233.1h1.15M77.9 206.7h1.15M83.4 203.6h1.15M98.6 227.1h1.15M63.3 220.9h1.15M93.7 215.1h1.15M88.5 212.6h1.15M82.7 218.1h1.15M89.3 208.3h1.15M69.9 222.6h1.15M77.4 224.7h1.15M77.4 204.6h1.15M92.4 221.9h1.15M92.3 215.3h1.15M79.2 232.9h1.15M63.1 238.0h1.15M89.7 218.4h1.15M84.6 225.7h1.15M74.2 222.1h1.15M85.9 220.1h1.15M91.3 225.1h1.15M91.9 227.7h1.15M70.8 232.4h1.15M115.8 212.8h1.15M68.3 226.6h1.15M94.5 230.2h1.15M102.0 203.7h1.15M88.0 224.1h1.15M98.6 209.2h1.15M83.8 214.9h1.15M81.5 217.4h1.15M83.0 219.7h1.15M75.1 211.8h1.15M73.0 236.7h1.15M94.6 217.0h1.15M90.7 238.0h1.15M71.8 224.2h1.15M76.2 235.4h1.15M96.8 217.6h1.15M90.9 210.2h1.15M64.4 228.3h1.15M103.2 215.6h1.15M109.4 205.8h1.15M71.8 216.9h1.15M98.1 219.6h1.15M83.2 219.2h1.15M93.7 218.6h1.15M85.4 218.2h1.15M70.1 233.8h1.15M75.1 204.4h1.15M78.2 219.4h1.15M93.4 202.8h1.15M68.2 221.0h1.15M88.1 206.9h1.15M69.8 220.9h1.15M72.9 235.4h1.15M70.7 230.6h1.15M65.0 235.4h1.15M102.8 212.0h1.15M75.2 225.9h1.15M68.5 225.1h1.15M98.2 221.9h1.15M87.4 217.3h1.15M95.6 210.0h1.15M102.6 218.7h1.15M78.1 221.6h1.15M81.9 211.4h1.15M69.0 219.1h1.15M74.3 228.6h1.15M57.2 227.1h1.15M89.7 215.3h1.15M85.0 208.3h1.15M70.8 210.9h1.15M82.8 209.7h1.15M78.4 209.5h1.15M86.3 206.4h1.15M83.2 220.1h1.15M95.0 210.8h1.15M92.6 212.1h1.15M95.3 218.1h1.15M75.3 227.7h1.15M76.1 226.5h1.15M63.6 230.2h1.15M117.0 231.3h1.15M87.3 205.4h1.15M77.1 211.8h1.15M73.0 227.7h1.15M85.2 227.2h1.15M93.7 206.4h1.15M67.2 224.1h1.15M83.8 219.9h1.15M73.6 230.2h1.15M89.4 231.6h1.15M79.2 226.6h1.15M82.7 208.6h1.15M81.3 221.0h1.15M91.8 207.4h1.15M67.4 210.9h1.15M58.5 211.8h1.15M114.9 220.6h1.15M74.3 211.5h1.15M104.7 206.1h1.15M82.1 218.1h1.15M74.6 211.1h1.15M63.2 209.7h1.15M99.1 234.6h1.15M80.0 226.8h1.15M89.0 220.2h1.15M81.8 232.4h1.15M90.3 216.5h1.15M80.6 229.3h1.15M76.3 211.1h1.15M80.1 213.5h1.15M98.6 222.9h1.15M82.4 213.2h1.15M100.5 223.9h1.15M108.5 229.0h1.15M80.8 212.9h1.15M80.0 221.0h1.15M92.9 224.4h1.15M71.0 212.4h1.15M75.6 208.3h1.15M65.1 231.6h1.15M79.6 229.7h1.15M76.3 228.7h1.15M76.7 223.4h1.15M70.5 234.4h1.15M88.6 230.6h1.15M80.1 233.1h1.15M84.3 213.6h1.15M75.7 219.6h1.15M72.5 205.8h1.15M85.0 226.8h1.15M79.9 228.3h1.15M102.5 205.0h1.15M86.5 208.4h1.15M75.7 221.0h1.15M57.2 225.7h1.15M93.5 225.0h1.15M91.2 238.0h1.15M79.0 231.1h1.15M100.8 224.4h1.15M61.9 217.3h1.15M82.7 227.3h1.15M80.3 217.0h1.15M101.1 212.2h1.15M72.1 219.4h1.15M96.9 225.5h1.15M84.3 213.6h1.15M98.3 228.8h1.15M62.6 222.7h1.15M57.2 235.5h1.15M90.8 212.0h1.15M67.9 215.7h1.15M62.3 225.2h1.15M83.2 232.0h1.15M68.1 215.1h1.15M105.3 221.0h1.15M76.7 221.1h1.15M92.8 207.9h1.15M93.6 222.4h1.15M92.2 232.4h1.15M84.0 221.6h1.15M88.3 224.1h1.15M70.6 216.0h1.15M81.6 219.4h1.15M74.4 217.5h1.15M86.9 221.0h1.15M90.5 228.0h1.15M90.1 229.6h1.15M93.5 234.4h1.15M91.0 212.2h1.15M111.4 231.4h1.15M98.4 227.0h1.15M84.0 206.4h1.15M88.7 215.1h1.15M102.1 206.1h1.15M70.2 224.1h1.15M90.2 210.2h1.15M83.3 221.8h1.15M85.3 224.8h1.15M92.7 214.9h1.15M63.9 238.0h1.15M78.8 208.1h1.15M92.4 225.5h1.15M76.0 238.0h1.15M57.2 233.1h1.15M83.0 222.4h1.15M87.2 216.4h1.15M87.2 204.6h1.15M78.6 238.0h1.15M57.2 232.6h1.15M57.2 209.6h1.15M94.0 214.5h1.15M82.0 217.0h1.15M85.3 223.6h1.15M97.1 224.7h1.15M101.7 232.2h1.15M57.2 237.4h1.15M82.2 207.4h1.15M88.6 229.6h1.15M64.8 205.4h1.15M91.7 212.9h1.15M101.0 221.4h1.15M76.8 204.3h1.15M67.7 204.5h1.15M103.9 237.8h1.15M80.7 214.8h1.15M91.8 232.7h1.15M73.7 238.0h1.15M80.9 231.5h1.15M57.2 218.4h1.15M75.0 238.0h1.15M80.8 204.9h1.15M106.9 211.4h1.15M83.4 205.2h1.15M91.6 221.1h1.15M79.9 214.5h1.15M76.5 211.0h1.15M66.5 232.3h1.15M94.2 203.6h1.15M69.4 223.5h1.15M110.7 216.7h1.15M79.6 216.2h1.15M86.4 217.1h1.15M96.5 229.8h1.15M90.1 236.4h1.15M80.6 212.9h1.15M87.7 207.2h1.15M81.8 214.7h1.15M70.4 231.3h1.15M78.6 224.0h1.15M77.1 220.6h1.15M78.0 219.8h1.15M82.2 211.5h1.15M88.7 216.9h1.15M71.7 207.4h1.15" stroke="#000" stroke-width="1.15" stroke-opacity="0.3" fill="none"/>
<path d="M105.6 179.6h1.15M128.3 195.5h1.15M94.9 190.5h1.15M100.1 178.6h1.15M99.5 191.9h1.15M102.4 161.1h1.15M101.7 174.9h1.15M86.1 188.4h1.15M106.8 191.9h1.15M83.9 155.9h1.15M115.5 184.9h1.15M93.9 185.5h1.15M105.4 177.5h1.15M97.7 175.9h1.15M103.9 163.0h1.15M99.5 185.5h1.15M104.6 163.4h1.15M91.2 174.3h1.15M109.1 179.2h1.15M98.1 161.8h1.15M101.7 207.8h1.15M95.6 209.6h1.15M84.8 166.1h1.15M113.9 168.1h1.15M97.3 191.7h1.15M91.1 170.7h1.15M88.6 194.9h1.15M105.4 196.2h1.15M106.4 187.8h1.15M102.8 185.6h1.15M93.3 174.9h1.15M92.1 195.1h1.15M91.8 176.8h1.15M109.6 187.5h1.15M108.1 182.9h1.15M106.0 176.8h1.15M97.0 175.4h1.15M95.8 160.5h1.15M113.4 154.7h1.15M111.3 179.4h1.15M117.0 180.5h1.15M102.2 192.5h1.15M88.1 178.6h1.15M117.1 196.7h1.15M98.3 167.9h1.15M96.9 188.5h1.15M92.9 192.6h1.15M91.6 188.7h1.15M105.9 178.4h1.15M122.3 185.4h1.15M108.5 202.6h1.15M98.7 186.8h1.15M111.9 183.0h1.15M101.3 179.6h1.15M110.0 182.7h1.15" stroke="#000" stroke-width="1.15" stroke-opacity="0.18" fill="none"/>
<line x1="91.2" y1="152.7" x2="91.2" y2="238.5" stroke="#454545" stroke-width="1.3"/>
<line x1="57.3" y1="202" x2="148.5" y2="202" stroke="#454545" stroke-width="1.3"/>
<rect x="58.8" y="154.2" width="3" height="2.5" fill="#bbb"/>
<rect x="92.7" y="154.2" width="3" height="2.5" fill="#bbb"/>
<rect x="58.8" y="203.5" width="3" height="2.5" fill="#bbb"/>
<rect x="92.7" y="203.5" width="3" height="2.5" fill="#bbb"/>
<text x="92.79" y="148.4" font-size="14.53" font-weight="bold" stroke="#000" stroke-width="0.2" fill="#000" textLength="22.67" lengthAdjust="spacingAndGlyphs">WT</text>
<text x="71.38" y="172.6" font-size="10.32" stroke="#111" stroke-width="0.35" fill="#111" textLength="14.85" lengthAdjust="spacingAndGlyphs">0.2</text>
<text x="127.25" y="171.6" font-size="10.32" stroke="#111" stroke-width="0.35" fill="#111" textLength="13.64" lengthAdjust="spacingAndGlyphs">1.7</text>
<text x="119.41" y="223.8" font-size="10.32" stroke="#111" stroke-width="0.35" fill="#111" textLength="20.11" lengthAdjust="spacingAndGlyphs">11.7</text>
<line x1="172.7" y1="238" x2="175.7" y2="238" stroke="#777" stroke-width="0.8"/>
<rect x="167.7" y="236.5" width="3.5" height="2.5" fill="#bbb"/>
<line x1="174.2" y1="231.62" x2="175.7" y2="231.62" stroke="#aaa" stroke-width="0.6"/>
<line x1="174.2" y1="227.89" x2="175.7" y2="227.89" stroke="#aaa" stroke-width="0.6"/>
<line x1="174.2" y1="225.24" x2="175.7" y2="225.24" stroke="#aaa" stroke-width="0.6"/>
<line x1="174.2" y1="223.18" x2="175.7" y2="223.18" stroke="#aaa" stroke-width="0.6"/>
<line x1="174.2" y1="221.5" x2="175.7" y2="221.5" stroke="#aaa" stroke-width="0.6"/>
<line x1="174.2" y1="220.08" x2="175.7" y2="220.08" stroke="#aaa" stroke-width="0.6"/>
<line x1="174.2" y1="218.85" x2="175.7" y2="218.85" stroke="#aaa" stroke-width="0.6"/>
<line x1="174.2" y1="217.77" x2="175.7" y2="217.77" stroke="#aaa" stroke-width="0.6"/>
<line x1="172.7" y1="216.8" x2="175.7" y2="216.8" stroke="#777" stroke-width="0.8"/>
<rect x="167.7" y="215.3" width="3.5" height="2.5" fill="#bbb"/>
<line x1="174.2" y1="210.42" x2="175.7" y2="210.42" stroke="#aaa" stroke-width="0.6"/>
<line x1="174.2" y1="206.69" x2="175.7" y2="206.69" stroke="#aaa" stroke-width="0.6"/>
<line x1="174.2" y1="204.04" x2="175.7" y2="204.04" stroke="#aaa" stroke-width="0.6"/>
<line x1="174.2" y1="201.98" x2="175.7" y2="201.98" stroke="#aaa" stroke-width="0.6"/>
<line x1="174.2" y1="200.3" x2="175.7" y2="200.3" stroke="#aaa" stroke-width="0.6"/>
<line x1="174.2" y1="198.88" x2="175.7" y2="198.88" stroke="#aaa" stroke-width="0.6"/>
<line x1="174.2" y1="197.65" x2="175.7" y2="197.65" stroke="#aaa" stroke-width="0.6"/>
<line x1="174.2" y1="196.57" x2="175.7" y2="196.57" stroke="#aaa" stroke-width="0.6"/>
<line x1="172.7" y1="195.6" x2="175.7" y2="195.6" stroke="#777" stroke-width="0.8"/>
<rect x="167.7" y="194.1" width="3.5" height="2.5" fill="#bbb"/>
<line x1="174.2" y1="189.22" x2="175.7" y2="189.22" stroke="#aaa" stroke-width="0.6"/>
<line x1="174.2" y1="185.49" x2="175.7" y2="185.49" stroke="#aaa" stroke-width="0.6"/>
<line x1="174.2" y1="182.84" x2="175.7" y2="182.84" stroke="#aaa" stroke-width="0.6"/>
<line x1="174.2" y1="180.78" x2="175.7" y2="180.78" stroke="#aaa" stroke-width="0.6"/>
<line x1="174.2" y1="179.1" x2="175.7" y2="179.1" stroke="#aaa" stroke-width="0.6"/>
<line x1="174.2" y1="177.68" x2="175.7" y2="177.68" stroke="#aaa" stroke-width="0.6"/>
<line x1="174.2" y1="176.45" x2="175.7" y2="176.45" stroke="#aaa" stroke-width="0.6"/>
<line x1="174.2" y1="175.37" x2="175.7" y2="175.37" stroke="#aaa" stroke-width="0.6"/>
<line x1="172.7" y1="174.4" x2="175.7" y2="174.4" stroke="#777" stroke-width="0.8"/>
<rect x="167.7" y="172.9" width="3.5" height="2.5" fill="#bbb"/>
<line x1="174.2" y1="168.02" x2="175.7" y2="168.02" stroke="#aaa" stroke-width="0.6"/>
<line x1="174.2" y1="164.29" x2="175.7" y2="164.29" stroke="#aaa" stroke-width="0.6"/>
<line x1="174.2" y1="161.64" x2="175.7" y2="161.64" stroke="#aaa" stroke-width="0.6"/>
<line x1="174.2" y1="159.58" x2="175.7" y2="159.58" stroke="#aaa" stroke-width="0.6"/>
<line x1="174.2" y1="157.9" x2="175.7" y2="157.9" stroke="#aaa" stroke-width="0.6"/>
<line x1="174.2" y1="156.48" x2="175.7" y2="156.48" stroke="#aaa" stroke-width="0.6"/>
<line x1="174.2" y1="155.25" x2="175.7" y2="155.25" stroke="#aaa" stroke-width="0.6"/>
<line x1="174.2" y1="154.17" x2="175.7" y2="154.17" stroke="#aaa" stroke-width="0.6"/>
<line x1="172.7" y1="153.2" x2="175.7" y2="153.2" stroke="#777" stroke-width="0.8"/>
<rect x="167.7" y="151.7" width="3.5" height="2.5" fill="#bbb"/>
<line x1="175.7" y1="238" x2="175.7" y2="241" stroke="#777" stroke-width="0.8"/>
<rect x="173.7" y="242.5" width="4" height="2.5" fill="#bbb"/>
<line x1="182.61" y1="238" x2="182.61" y2="239.5" stroke="#aaa" stroke-width="0.6"/>
<line x1="186.65" y1="238" x2="186.65" y2="239.5" stroke="#aaa" stroke-width="0.6"/>
<line x1="189.52" y1="238" x2="189.52" y2="239.5" stroke="#aaa" stroke-width="0.6"/>
<line x1="191.74" y1="238" x2="191.74" y2="239.5" stroke="#aaa" stroke-width="0.6"/>
<line x1="193.56" y1="238" x2="193.56" y2="239.5" stroke="#aaa" stroke-width="0.6"/>
<line x1="195.1" y1="238" x2="195.1" y2="239.5" stroke="#aaa" stroke-width="0.6"/>
<line x1="196.43" y1="238" x2="196.43" y2="239.5" stroke="#aaa" stroke-width="0.6"/>
<line x1="197.6" y1="238" x2="197.6" y2="239.5" stroke="#aaa" stroke-width="0.6"/>
<line x1="198.65" y1="238" x2="198.65" y2="241" stroke="#777" stroke-width="0.8"/>
<rect x="196.65" y="242.5" width="4" height="2.5" fill="#bbb"/>
<line x1="205.56" y1="238" x2="205.56" y2="239.5" stroke="#aaa" stroke-width="0.6"/>
<line x1="209.6" y1="238" x2="209.6" y2="239.5" stroke="#aaa" stroke-width="0.6"/>
<line x1="212.47" y1="238" x2="212.47" y2="239.5" stroke="#aaa" stroke-width="0.6"/>
<line x1="214.69" y1="238" x2="214.69" y2="239.5" stroke="#aaa" stroke-width="0.6"/>
<line x1="216.51" y1="238" x2="216.51" y2="239.5" stroke="#aaa" stroke-width="0.6"/>
<line x1="218.05" y1="238" x2="218.05" y2="239.5" stroke="#aaa" stroke-width="0.6"/>
<line x1="219.38" y1="238" x2="219.38" y2="239.5" stroke="#aaa" stroke-width="0.6"/>
<line x1="220.55" y1="238" x2="220.55" y2="239.5" stroke="#aaa" stroke-width="0.6"/>
<line x1="221.6" y1="238" x2="221.6" y2="241" stroke="#777" stroke-width="0.8"/>
<rect x="219.6" y="242.5" width="4" height="2.5" fill="#bbb"/>
<line x1="228.51" y1="238" x2="228.51" y2="239.5" stroke="#aaa" stroke-width="0.6"/>
<line x1="232.55" y1="238" x2="232.55" y2="239.5" stroke="#aaa" stroke-width="0.6"/>
<line x1="235.42" y1="238" x2="235.42" y2="239.5" stroke="#aaa" stroke-width="0.6"/>
<line x1="237.64" y1="238" x2="237.64" y2="239.5" stroke="#aaa" stroke-width="0.6"/>
<line x1="239.46" y1="238" x2="239.46" y2="239.5" stroke="#aaa" stroke-width="0.6"/>
<line x1="241" y1="238" x2="241" y2="239.5" stroke="#aaa" stroke-width="0.6"/>
<line x1="242.33" y1="238" x2="242.33" y2="239.5" stroke="#aaa" stroke-width="0.6"/>
<line x1="243.5" y1="238" x2="243.5" y2="239.5" stroke="#aaa" stroke-width="0.6"/>
<line x1="244.55" y1="238" x2="244.55" y2="241" stroke="#777" stroke-width="0.8"/>
<rect x="242.55" y="242.5" width="4" height="2.5" fill="#bbb"/>
<line x1="251.46" y1="238" x2="251.46" y2="239.5" stroke="#aaa" stroke-width="0.6"/>
<line x1="255.5" y1="238" x2="255.5" y2="239.5" stroke="#aaa" stroke-width="0.6"/>
<line x1="258.37" y1="238" x2="258.37" y2="239.5" stroke="#aaa" stroke-width="0.6"/>
<line x1="260.59" y1="238" x2="260.59" y2="239.5" stroke="#aaa" stroke-width="0.6"/>
<line x1="262.41" y1="238" x2="262.41" y2="239.5" stroke="#aaa" stroke-width="0.6"/>
<line x1="263.95" y1="238" x2="263.95" y2="239.5" stroke="#aaa" stroke-width="0.6"/>
<line x1="265.28" y1="238" x2="265.28" y2="239.5" stroke="#aaa" stroke-width="0.6"/>
<line x1="266.45" y1="238" x2="266.45" y2="239.5" stroke="#aaa" stroke-width="0.6"/>
<line x1="267.5" y1="238" x2="267.5" y2="241" stroke="#777" stroke-width="0.8"/>
<rect x="265.5" y="242.5" width="4" height="2.5" fill="#bbb"/>
<rect x="175.7" y="153.2" width="91.8" height="84.8" fill="none" stroke="#a2a2a2" stroke-width="1"/>
<ellipse cx="201" cy="217" rx="15" ry="19" transform="rotate(0 201 217)" fill="url(#cg)" opacity="0.807" clip-path="url(#c5)"/>
<ellipse cx="213" cy="191" rx="8" ry="14" transform="rotate(35 213 191)" fill="url(#cg)" opacity="0.468" clip-path="url(#c5)"/>
<path d="M208.0 208.4h1.15M199.1 226.6h1.15M189.9 224.7h1.15M198.0 225.8h1.15M194.3 217.9h1.15M188.9 224.1h1.15M197.1 217.9h1.15M194.1 227.0h1.15M200.2 226.4h1.15M193.2 215.0h1.15M205.3 233.8h1.15M213.4 225.4h1.15M206.8 224.1h1.15M192.5 215.6h1.15M189.2 205.5h1.15M198.4 220.7h1.15M203.9 234.6h1.15M189.9 209.7h1.15M194.7 222.8h1.15M196.1 207.8h1.15M203.0 215.4h1.15M193.5 228.9h1.15M206.0 212.7h1.15M200.2 214.0h1.15M195.4 212.2h1.15M197.4 211.3h1.15M201.6 224.2h1.15M197.6 204.8h1.15M205.6 213.4h1.15M211.1 224.2h1.15M199.0 231.5h1.15M191.9 218.6h1.15M204.4 219.2h1.15M199.3 208.6h1.15M208.8 207.6h1.15M179.9 212.9h1.15M206.5 218.1h1.15M197.1 217.4h1.15M202.2 214.5h1.15M194.6 214.7h1.15M193.7 224.4h1.15M198.4 223.1h1.15M194.5 207.7h1.15M215.9 229.1h1.15M203.3 221.7h1.15M198.1 225.9h1.15M184.3 219.1h1.15M206.8 224.6h1.15M195.6 213.4h1.15M194.8 225.3h1.15M208.6 208.4h1.15M196.8 218.4h1.15M191.3 230.2h1.15M193.0 221.4h1.15M198.1 216.1h1.15M193.1 207.6h1.15M204.9 223.7h1.15M202.8 212.8h1.15M193.1 216.5h1.15M192.8 215.3h1.15M190.5 234.0h1.15M190.4 189.0h1.15M195.4 226.2h1.15M190.1 230.8h1.15M192.3 227.5h1.15M203.3 227.5h1.15M197.5 236.7h1.15M187.9 233.6h1.15M193.6 214.8h1.15M184.1 211.8h1.15M194.9 203.1h1.15M190.5 213.2h1.15M207.9 230.4h1.15M193.0 208.5h1.15M195.5 231.6h1.15M193.4 216.7h1.15M211.5 217.2h1.15M193.6 203.3h1.15M197.1 210.1h1.15M214.0 212.9h1.15M195.9 210.0h1.15M197.3 218.0h1.15M209.5 207.7h1.15M192.9 212.7h1.15M199.9 216.3h1.15M195.1 221.8h1.15M194.3 213.0h1.15M187.7 206.7h1.15M196.5 220.2h1.15M212.7 219.3h1.15M192.0 219.8h1.15M202.6 218.7h1.15M214.3 218.1h1.15M205.3 220.2h1.15M190.4 219.9h1.15M201.2 230.1h1.15M186.4 199.1h1.15M204.3 222.0h1.15M204.0 222.2h1.15M199.8 220.1h1.15M201.4 211.6h1.15M199.0 202.4h1.15M199.9 216.2h1.15M187.7 209.4h1.15M193.0 209.5h1.15M187.8 225.1h1.15M193.1 216.3h1.15M191.5 218.2h1.15M203.4 229.7h1.15M204.6 207.3h1.15M206.5 218.6h1.15M199.8 213.5h1.15M188.8 217.6h1.15M193.3 216.4h1.15M210.3 219.4h1.15M204.2 228.0h1.15M188.3 215.9h1.15M213.8 232.8h1.15M199.2 200.7h1.15M203.9 230.4h1.15M191.6 227.1h1.15M197.1 209.7h1.15M206.5 215.0h1.15M188.6 220.8h1.15M208.1 232.7h1.15M192.2 233.5h1.15M201.6 221.5h1.15M195.0 214.6h1.15M195.1 220.1h1.15M197.6 204.3h1.15M198.0 213.8h1.15M208.3 221.3h1.15M209.1 224.6h1.15M183.9 212.2h1.15M203.7 206.7h1.15M203.3 209.1h1.15M198.8 220.9h1.15M196.4 205.9h1.15M193.8 210.5h1.15M184.3 223.3h1.15M196.7 221.3h1.15M210.7 213.7h1.15M215.6 203.0h1.15M195.7 219.9h1.15M191.3 218.4h1.15M190.1 227.7h1.15M199.4 237.5h1.15M200.8 224.8h1.15M201.9 212.6h1.15M198.5 211.3h1.15M192.8 223.2h1.15M199.7 233.8h1.15M214.3 211.0h1.15M200.3 219.6h1.15M188.7 223.1h1.15M182.4 211.7h1.15M210.0 217.0h1.15M198.9 226.6h1.15M205.8 221.4h1.15M199.5 210.6h1.15M202.9 227.7h1.15M207.4 210.6h1.15M205.2 223.8h1.15M201.1 233.4h1.15M192.8 222.5h1.15M203.6 213.0h1.15M180.8 225.6h1.15M196.4 227.9h1.15M195.7 211.8h1.15M194.4 211.6h1.15M203.8 208.5h1.15M198.1 207.0h1.15M197.2 210.0h1.15M203.4 224.5h1.15M198.9 219.3h1.15M200.4 207.7h1.15M188.6 219.7h1.15M202.7 219.8h1.15M199.0 215.6h1.15M205.1 210.6h1.15M213.0 214.5h1.15M194.0 222.3h1.15M188.5 223.9h1.15M188.6 221.2h1.15M211.0 217.2h1.15M187.9 216.8h1.15M190.2 218.4h1.15M185.1 227.5h1.15M208.5 217.1h1.15M196.4 216.6h1.15M184.7 210.2h1.15M200.0 232.7h1.15M199.1 231.4h1.15M197.5 229.2h1.15M199.7 215.8h1.15M204.0 209.3h1.15M199.6 225.3h1.15M188.6 213.3h1.15M200.6 220.9h1.15M200.6 230.0h1.15M189.7 226.3h1.15M198.5 209.9h1.15M196.1 215.5h1.15M191.6 210.2h1.15M200.3 230.6h1.15M211.5 235.4h1.15M184.3 212.3h1.15M197.0 212.8h1.15M198.4 206.3h1.15M191.7 227.0h1.15M200.1 205.2h1.15M203.0 237.5h1.15M205.7 213.1h1.15M219.3 206.0h1.15M196.9 222.6h1.15M199.7 227.9h1.15M202.6 222.9h1.15M199.3 216.4h1.15M194.0 212.4h1.15M198.1 211.6h1.15M194.6 218.8h1.15M213.3 219.7h1.15M195.5 223.3h1.15M205.6 214.7h1.15M195.7 216.8h1.15M187.3 227.1h1.15M205.3 204.0h1.15M203.8 214.9h1.15M202.9 219.5h1.15M194.3 209.3h1.15M191.9 227.8h1.15M201.2 229.4h1.15M196.1 220.3h1.15M200.1 212.6h1.15M203.1 204.3h1.15M192.3 221.6h1.15M200.5 222.5h1.15M197.2 210.3h1.15M193.2 214.9h1.15M199.0 223.0h1.15M200.0 209.0h1.15M207.6 232.1h1.15M202.3 223.1h1.15M204.4 227.1h1.15M199.7 215.9h1.15M209.1 212.0h1.15M203.0 210.2h1.15M196.6 219.5h1.15M198.3 235.1h1.15M196.1 235.8h1.15M207.3 201.4h1.15M204.1 224.9h1.15M202.5 211.6h1.15M199.5 219.7h1.15M190.8 215.8h1.15M200.7 224.4h1.15M196.5 214.1h1.15M202.6 201.2h1.15M196.2 220.2h1.15M194.1 214.9h1.15M208.1 226.2h1.15M194.2 215.5h1.15M199.6 231.6h1.15M205.1 214.0h1.15M195.2 214.9h1.15M190.4 220.4h1.15M196.2 228.9h1.15M197.4 217.3h1.15M204.7 224.0h1.15M204.7 226.6h1.15M191.3 211.4h1.15M206.6 210.3h1.15M199.9 213.8h1.15M210.7 204.0h1.15M188.4 209.3h1.15M192.3 215.2h1.15M203.7 226.2h1.15M196.6 203.3h1.15M206.1 211.6h1.15M205.8 215.2h1.15M206.8 219.0h1.15M187.8 214.3h1.15M199.6 219.9h1.15M198.6 212.5h1.15M204.8 209.2h1.15M205.0 225.8h1.15M200.1 212.0h1.15M201.7 217.2h1.15M205.0 227.2h1.15M195.2 207.7h1.15M203.6 215.4h1.15M207.8 221.0h1.15M195.2 224.9h1.15M188.0 228.7h1.15M197.1 230.7h1.15M194.2 215.1h1.15M204.0 214.6h1.15M198.0 223.3h1.15M196.2 205.6h1.15M197.1 221.2h1.15M194.2 213.6h1.15M189.7 214.1h1.15M201.6 218.0h1.15M205.3 202.5h1.15M203.7 221.2h1.15M187.6 225.2h1.15M193.1 237.5h1.15M212.2 228.0h1.15M208.3 222.0h1.15M210.4 215.6h1.15M205.0 213.9h1.15M214.0 212.9h1.15M197.6 232.4h1.15M203.6 215.1h1.15M190.1 227.2h1.15M185.4 209.5h1.15M192.5 221.8h1.15M202.2 223.9h1.15M203.3 213.3h1.15M209.5 208.7h1.15M194.1 214.9h1.15M202.9 218.0h1.15M207.8 199.1h1.15M204.9 216.4h1.15M206.4 214.5h1.15M189.1 231.7h1.15M203.9 206.4h1.15M198.7 221.9h1.15M201.7 224.1h1.15M202.7 228.3h1.15M197.5 223.4h1.15M204.2 212.3h1.15M200.4 218.0h1.15M197.8 217.3h1.15M197.9 217.3h1.15M189.9 220.3h1.15M194.7 216.5h1.15M209.3 198.7h1.15M205.8 199.9h1.15M206.0 216.6h1.15M192.5 215.6h1.15M200.4 213.0h1.15M200.6 227.2h1.15M178.8 210.8h1.15M199.1 218.6h1.15M188.5 229.3h1.15M206.4 223.8h1.15M188.6 208.5h1.15M195.0 228.3h1.15M217.3 211.3h1.15M193.6 214.9h1.15M192.8 206.9h1.15M195.0 206.5h1.15M191.1 226.9h1.15M196.4 223.0h1.15M206.6 224.3h1.15M202.2 224.1h1.15M197.4 225.8h1.15M183.0 229.5h1.15M190.7 216.2h1.15M192.3 224.3h1.15M202.8 208.5h1.15M192.9 217.4h1.15M201.3 223.4h1.15M204.3 221.7h1.15M206.4 220.2h1.15M196.3 216.1h1.15M199.7 208.7h1.15M194.1 211.7h1.15M202.3 205.7h1.15M205.8 225.4h1.15M198.4 232.0h1.15M196.0 222.4h1.15M219.4 223.2h1.15M203.3 222.4h1.15M201.5 216.8h1.15M193.1 222.8h1.15M194.2 204.6h1.15M205.5 216.8h1.15M203.6 221.0h1.15M205.0 218.2h1.15M188.6 205.6h1.15M203.9 221.9h1.15M206.6 210.8h1.15M197.2 219.9h1.15M204.0 220.1h1.15M197.6 216.0h1.15M186.5 217.7h1.15M205.2 218.1h1.15M191.2 224.0h1.15M198.5 205.2h1.15M193.6 221.1h1.15M194.0 211.3h1.15M207.2 213.5h1.15M190.5 211.6h1.15M191.3 219.1h1.15M194.5 208.2h1.15M205.4 217.9h1.15M180.5 218.8h1.15M202.9 208.1h1.15M198.0 223.0h1.15M193.1 222.5h1.15M194.5 220.7h1.15M190.4 219.4h1.15M207.7 225.5h1.15M198.3 212.6h1.15M199.4 220.4h1.15M189.1 220.3h1.15M191.5 224.0h1.15M197.8 216.4h1.15M207.3 221.3h1.15M209.2 211.9h1.15M194.3 220.2h1.15M206.2 227.0h1.15M200.1 209.5h1.15M204.3 221.5h1.15M196.2 203.9h1.15M187.6 228.4h1.15M198.2 219.2h1.15M203.6 235.1h1.15M198.6 214.5h1.15M197.8 226.3h1.15M197.9 218.2h1.15M207.0 213.1h1.15M199.3 220.1h1.15M184.8 209.5h1.15M196.7 201.5h1.15M206.7 209.0h1.15M205.1 220.6h1.15M193.1 213.7h1.15M200.0 221.1h1.15M206.3 208.6h1.15M197.0 227.1h1.15M202.1 214.6h1.15M195.9 213.5h1.15M209.8 209.4h1.15M205.9 215.3h1.15M193.3 217.6h1.15M189.1 234.9h1.15M221.5 212.8h1.15M206.2 212.6h1.15M191.3 202.3h1.15M185.2 226.0h1.15M201.1 211.4h1.15M192.6 228.1h1.15M202.2 223.6h1.15M200.6 221.8h1.15M219.8 201.9h1.15M203.0 208.9h1.15M199.2 205.0h1.15M191.5 221.7h1.15M203.0 222.5h1.15M195.8 224.6h1.15M196.6 212.7h1.15M200.5 235.3h1.15M202.7 198.7h1.15M200.3 212.5h1.15M186.2 219.2h1.15M201.2 212.3h1.15M190.1 219.2h1.15M204.6 218.4h1.15M198.9 205.4h1.15M190.8 221.6h1.15M193.1 216.6h1.15M209.3 225.1h1.15M200.5 209.0h1.15M201.0 202.2h1.15M194.9 203.6h1.15M201.4 217.5h1.15M206.6 214.7h1.15M201.4 204.3h1.15M207.0 224.6h1.15M209.0 225.3h1.15M195.8 225.0h1.15M197.6 233.3h1.15M195.7 212.5h1.15M199.2 212.6h1.15M202.5 207.0h1.15M200.4 206.3h1.15M210.2 216.8h1.15M190.3 220.6h1.15M194.2 215.2h1.15M195.1 232.3h1.15M206.9 197.9h1.15M196.2 208.7h1.15M190.8 226.1h1.15M189.5 201.6h1.15M199.3 209.6h1.15M199.0 220.5h1.15M200.8 209.2h1.15M197.6 219.7h1.15M184.5 218.5h1.15M197.5 231.8h1.15M200.0 205.5h1.15M195.1 214.3h1.15M195.2 208.0h1.15M207.7 215.9h1.15M190.1 232.6h1.15M194.9 212.5h1.15M197.1 214.0h1.15M204.9 234.4h1.15M187.2 221.5h1.15M201.2 227.4h1.15M200.4 233.3h1.15M193.7 213.1h1.15M195.8 221.9h1.15M202.1 230.6h1.15M198.2 221.7h1.15M193.6 224.1h1.15M206.3 217.4h1.15M184.1 231.0h1.15M198.0 208.7h1.15M195.4 221.6h1.15M204.0 225.9h1.15M197.3 214.9h1.15M195.2 218.8h1.15M194.3 213.3h1.15M193.3 205.2h1.15M193.8 222.7h1.15M203.7 220.8h1.15M190.3 207.3h1.15M211.7 235.8h1.15M205.2 213.8h1.15M189.3 214.9h1.15M196.2 225.1h1.15M198.0 208.4h1.15M191.1 222.2h1.15M205.3 224.4h1.15M198.3 222.9h1.15M188.7 216.0h1.15M191.3 216.4h1.15M195.9 210.2h1.15M204.3 217.3h1.15M208.5 218.6h1.15M197.1 210.1h1.15M194.3 222.6h1.15M200.0 233.0h1.15M203.1 212.8h1.15M192.3 214.3h1.15M207.1 228.2h1.15M178.5 212.8h1.15M212.2 208.1h1.15M199.2 222.1h1.15M200.7 214.2h1.15M197.8 213.1h1.15M198.8 215.3h1.15M211.4 226.9h1.15M191.8 217.1h1.15M211.5 215.4h1.15M201.1 231.1h1.15M193.5 224.3h1.15M197.5 223.6h1.15M197.6 224.4h1.15M204.8 234.0h1.15M192.9 225.5h1.15M203.4 206.1h1.15M209.0 235.5h1.15M211.6 211.2h1.15M193.1 232.1h1.15M198.3 216.3h1.15M191.6 227.2h1.15M183.1 212.3h1.15M202.8 202.4h1.15M205.8 217.0h1.15M199.8 217.7h1.15M200.3 214.5h1.15M191.9 218.0h1.15M208.4 223.3h1.15M200.6 212.1h1.15M199.8 232.6h1.15M198.1 217.7h1.15M193.6 237.1h1.15M198.5 224.9h1.15M185.5 223.4h1.15M201.9 210.2h1.15M198.6 216.3h1.15M205.6 221.3h1.15M196.9 214.5h1.15M212.6 222.4h1.15M200.3 220.6h1.15M201.9 219.8h1.15M197.4 228.9h1.15M196.2 212.2h1.15M193.2 217.3h1.15M196.5 216.0h1.15M199.3 217.9h1.15M203.7 215.3h1.15M195.2 216.2h1.15M194.3 220.3h1.15M191.7 206.6h1.15M210.0 199.0h1.15M190.9 221.0h1.15M196.0 223.6h1.15M180.6 216.8h1.15M210.3 222.8h1.15M195.3 228.3h1.15M198.3 231.5h1.15M193.4 218.2h1.15M198.8 218.3h1.15M211.9 228.7h1.15M205.5 222.2h1.15M198.5 216.0h1.15M203.7 215.6h1.15M206.7 215.9h1.15M191.3 212.0h1.15M206.5 223.4h1.15M199.4 203.0h1.15M198.4 205.2h1.15M204.4 224.3h1.15M197.4 217.9h1.15M199.7 214.1h1.15M194.4 215.4h1.15M208.4 235.9h1.15M191.1 208.5h1.15M192.3 211.2h1.15M201.2 215.8h1.15M195.9 222.1h1.15M193.7 213.2h1.15M203.9 215.0h1.15M197.5 236.8h1.15M198.1 209.1h1.15M191.5 227.9h1.15M206.1 228.9h1.15M201.3 233.2h1.15M213.3 226.4h1.15M200.4 216.6h1.15M207.8 233.9h1.15M201.9 211.6h1.15M202.3 207.4h1.15M199.6 231.0h1.15M196.1 220.4h1.15M206.0 207.1h1.15M199.7 227.0h1.15M196.7 210.5h1.15M199.0 228.4h1.15M202.4 216.8h1.15M199.3 227.8h1.15M221.3 215.4h1.15M209.4 218.6h1.15M202.5 222.4h1.15M204.8 225.5h1.15M217.6 217.1h1.15M189.4 231.5h1.15M198.4 214.9h1.15M204.0 214.0h1.15M203.1 217.4h1.15M206.2 212.0h1.15M195.0 217.5h1.15M187.6 219.1h1.15M181.0 209.8h1.15M184.6 214.0h1.15M207.1 228.3h1.15M187.7 207.7h1.15M195.4 226.1h1.15M201.5 212.0h1.15M190.0 229.9h1.15M194.6 210.1h1.15M211.3 219.4h1.15M195.0 221.2h1.15M196.6 221.0h1.15M206.2 205.2h1.15M209.7 215.3h1.15M203.3 225.6h1.15M199.7 218.0h1.15M197.2 222.0h1.15M202.1 224.0h1.15M197.5 215.8h1.15M204.4 211.3h1.15M200.9 221.5h1.15M193.0 216.8h1.15M196.1 218.0h1.15M194.3 226.0h1.15M206.6 223.1h1.15M204.5 208.4h1.15M206.2 226.7h1.15M202.8 220.3h1.15M208.0 218.6h1.15M201.9 224.2h1.15M210.2 230.4h1.15M205.8 228.1h1.15M202.1 209.3h1.15M194.0 214.2h1.15M203.9 206.3h1.15M209.1 224.2h1.15M204.5 225.5h1.15M202.7 226.9h1.15M193.0 206.6h1.15M198.4 220.5h1.15M184.7 223.8h1.15M190.2 214.2h1.15M200.4 205.9h1.15M215.9 211.3h1.15M198.5 202.6h1.15M202.9 223.2h1.15M197.2 207.1h1.15M207.2 206.8h1.15M197.3 222.5h1.15M197.6 214.6h1.15M193.8 218.2h1.15M191.1 225.2h1.15M192.9 209.2h1.15M213.2 224.7h1.15M195.2 200.2h1.15M191.8 210.0h1.15M208.3 208.9h1.15M198.1 216.2h1.15M210.4 220.0h1.15M203.4 211.1h1.15M201.3 226.9h1.15M205.8 206.0h1.15M202.6 222.2h1.15M202.5 231.6h1.15M199.3 235.8h1.15M195.5 220.9h1.15M196.1 220.4h1.15M200.5 216.7h1.15M193.5 222.1h1.15M204.2 219.4h1.15M213.2 216.8h1.15M186.9 226.3h1.15M211.0 208.8h1.15M198.1 207.1h1.15M188.3 217.0h1.15M184.3 204.4h1.15M205.8 234.5h1.15M199.7 208.8h1.15M202.7 212.3h1.15M192.3 225.0h1.15M204.5 216.8h1.15M205.3 207.8h1.15M204.6 214.5h1.15M191.8 202.8h1.15M207.5 209.2h1.15M204.7 207.8h1.15M195.1 216.2h1.15M180.3 215.3h1.15M201.4 217.2h1.15M197.7 223.9h1.15M201.9 213.5h1.15M199.9 212.4h1.15M189.4 237.2h1.15M205.9 226.0h1.15M197.6 232.1h1.15M209.0 223.2h1.15M198.6 237.5h1.15M194.5 229.1h1.15M215.7 221.6h1.15M189.1 204.0h1.15M199.3 215.0h1.15M199.2 209.7h1.15M203.9 235.0h1.15M196.1 211.2h1.15M208.5 223.4h1.15M204.2 220.3h1.15M203.5 219.6h1.15M199.3 211.3h1.15M205.1 217.4h1.15M202.9 204.8h1.15M193.5 208.9h1.15M207.8 230.3h1.15M207.0 213.1h1.15M200.6 221.3h1.15M198.7 237.5h1.15M197.1 224.3h1.15M197.6 217.6h1.15M202.4 203.7h1.15M198.8 220.0h1.15M209.7 208.9h1.15M199.8 212.2h1.15M209.0 214.5h1.15M218.8 222.8h1.15M198.0 212.9h1.15M206.7 210.7h1.15M198.3 216.5h1.15M202.2 232.7h1.15M204.0 218.5h1.15M207.8 222.8h1.15M207.4 229.3h1.15M187.8 222.4h1.15M215.4 206.2h1.15M201.8 225.6h1.15M201.1 210.6h1.15M205.3 215.1h1.15M195.7 213.3h1.15M198.5 211.2h1.15M189.5 224.4h1.15M201.2 213.9h1.15M201.7 223.2h1.15M200.6 205.3h1.15M196.8 202.9h1.15M200.3 227.9h1.15M205.9 218.2h1.15M195.0 214.1h1.15M200.8 212.4h1.15M189.5 222.6h1.15M201.3 230.4h1.15M197.6 219.6h1.15M207.4 225.6h1.15M204.1 206.5h1.15M206.2 208.5h1.15M201.8 202.0h1.15M192.3 212.1h1.15M202.1 223.3h1.15M202.3 220.1h1.15M194.9 222.4h1.15M187.3 211.9h1.15M197.7 235.9h1.15M201.7 213.2h1.15M195.5 215.0h1.15M204.0 220.4h1.15M199.7 219.0h1.15M212.0 220.5h1.15M208.7 205.3h1.15M200.8 218.8h1.15M203.7 211.6h1.15M193.3 228.9h1.15M193.3 216.5h1.15M201.5 221.4h1.15M195.8 200.1h1.15M204.3 219.4h1.15M194.0 217.0h1.15M191.2 218.7h1.15M199.1 222.2h1.15M188.3 225.6h1.15M205.0 226.1h1.15M202.8 207.7h1.15M190.2 234.0h1.15M204.1 189.7h1.15M196.9 227.3h1.15M186.7 223.0h1.15M193.0 210.7h1.15M184.8 216.4h1.15M197.2 221.6h1.15M201.8 223.7h1.15M215.2 231.2h1.15M187.7 212.8h1.15M191.3 220.9h1.15M201.7 235.7h1.15M193.2 222.2h1.15M198.7 200.9h1.15M207.4 217.8h1.15M187.8 225.3h1.15M195.2 220.6h1.15M193.5 219.0h1.15M198.9 232.6h1.15M193.7 227.7h1.15M198.3 222.0h1.15M201.8 203.6h1.15M196.7 206.8h1.15M203.2 226.9h1.15" stroke="#000" stroke-width="1.15" stroke-opacity="0.62" fill="none"/>
<path d="M224.5 181.1h1.15M213.0 181.3h1.15M212.5 192.6h1.15M214.6 189.1h1.15M208.1 197.4h1.15M219.3 177.9h1.15M228.0 181.4h1.15M209.2 195.3h1.15M212.6 196.2h1.15M213.0 206.6h1.15M212.3 183.4h1.15M217.0 201.1h1.15M204.8 202.8h1.15M210.3 196.2h1.15M211.5 199.0h1.15M205.8 198.7h1.15M216.5 184.4h1.15M211.9 198.6h1.15M206.9 192.5h1.15M209.6 192.2h1.15M211.9 201.3h1.15M215.6 179.0h1.15M215.3 181.2h1.15M205.3 207.3h1.15M210.6 185.5h1.15M208.2 197.0h1.15M217.8 191.7h1.15M216.6 186.9h1.15M213.4 184.9h1.15M209.4 196.5h1.15M204.7 193.5h1.15M201.7 193.8h1.15M209.1 204.8h1.15M203.8 190.9h1.15M208.7 191.9h1.15M222.1 186.4h1.15M218.8 180.6h1.15M223.7 170.5h1.15M226.4 170.2h1.15M208.1 193.8h1.15M225.2 184.3h1.15M220.0 187.0h1.15M199.3 193.9h1.15M211.1 194.7h1.15M211.0 196.6h1.15M207.8 191.4h1.15M212.1 189.8h1.15M205.9 195.7h1.15M215.4 195.6h1.15M222.1 187.1h1.15M223.7 190.0h1.15M212.6 189.5h1.15M215.4 196.7h1.15M219.1 185.7h1.15M211.2 202.1h1.15M210.8 185.2h1.15M212.0 199.0h1.15M211.9 181.2h1.15M215.8 189.1h1.15M219.0 185.4h1.15M208.1 191.4h1.15M220.0 183.5h1.15M214.7 196.3h1.15M213.1 191.3h1.15M215.3 194.7h1.15M213.2 190.0h1.15M210.2 205.7h1.15M207.4 177.4h1.15M208.0 179.0h1.15M216.9 182.3h1.15M214.5 192.7h1.15M222.2 180.5h1.15M209.8 193.8h1.15M217.2 173.1h1.15M196.0 215.2h1.15M211.7 187.2h1.15M208.4 202.3h1.15M217.2 189.4h1.15M210.7 194.2h1.15M210.5 195.6h1.15M209.2 191.0h1.15M215.3 184.3h1.15M207.7 197.4h1.15M212.5 192.5h1.15M213.5 190.6h1.15M214.3 187.5h1.15M204.4 186.6h1.15M214.0 184.2h1.15M207.1 192.3h1.15M211.3 191.8h1.15M212.2 194.2h1.15M209.8 197.0h1.15M213.2 199.0h1.15M208.9 199.3h1.15M217.6 180.8h1.15M222.0 176.9h1.15M209.9 190.0h1.15M216.8 196.8h1.15M208.2 193.1h1.15M213.8 193.7h1.15M220.3 187.0h1.15M225.7 181.2h1.15M209.8 195.3h1.15M218.0 187.9h1.15M213.4 175.0h1.15M208.5 189.0h1.15M223.2 191.1h1.15M222.2 188.5h1.15M212.0 192.4h1.15M220.1 198.1h1.15M208.9 180.8h1.15M217.0 190.4h1.15M217.1 190.9h1.15M211.0 196.2h1.15M222.5 195.6h1.15M206.2 195.0h1.15M224.7 180.2h1.15M219.2 187.8h1.15M207.8 199.1h1.15M220.9 189.2h1.15M217.6 187.7h1.15M205.7 183.5h1.15M211.5 180.2h1.15M220.1 183.5h1.15M218.7 178.0h1.15M207.0 190.4h1.15M226.1 177.8h1.15M217.4 191.9h1.15M217.2 180.2h1.15M218.1 186.8h1.15M209.8 189.2h1.15M223.0 180.4h1.15M215.1 191.4h1.15M211.2 199.8h1.15M218.6 183.7h1.15M214.4 197.7h1.15M214.1 182.8h1.15M208.3 196.4h1.15M204.8 203.9h1.15M203.6 194.9h1.15M212.0 186.6h1.15M204.8 200.1h1.15M227.5 181.3h1.15M211.8 195.8h1.15M213.4 194.1h1.15M203.6 194.6h1.15M221.2 188.0h1.15M211.6 197.2h1.15M212.0 196.0h1.15M212.3 183.4h1.15M211.2 196.2h1.15M222.0 186.6h1.15M213.5 184.3h1.15M203.2 200.6h1.15M218.1 194.8h1.15M220.5 190.7h1.15M213.9 191.2h1.15M217.2 185.8h1.15M205.2 191.7h1.15M215.8 183.6h1.15M220.5 172.8h1.15M208.8 188.9h1.15M220.1 174.2h1.15M221.1 172.1h1.15M227.9 173.2h1.15M205.7 201.0h1.15M211.4 193.9h1.15M198.1 201.5h1.15M208.3 195.5h1.15M229.3 187.3h1.15M218.4 183.2h1.15M215.7 188.0h1.15M214.6 191.1h1.15M208.7 193.7h1.15M220.3 185.6h1.15M220.8 184.9h1.15M207.7 193.2h1.15M215.6 195.1h1.15M227.0 190.6h1.15M215.9 189.7h1.15M203.4 190.4h1.15M212.6 192.8h1.15M211.8 193.3h1.15M221.2 178.1h1.15M214.7 190.7h1.15M220.3 176.1h1.15M212.2 193.2h1.15M221.0 192.9h1.15M214.2 193.5h1.15M214.9 185.4h1.15M210.3 190.3h1.15M213.8 197.1h1.15M209.2 181.4h1.15M216.8 192.6h1.15M214.8 197.0h1.15M211.1 196.9h1.15M220.1 191.6h1.15M217.1 179.5h1.15M207.6 201.9h1.15M215.4 190.5h1.15M219.2 185.5h1.15M207.9 201.4h1.15M217.3 187.3h1.15M209.1 199.2h1.15M208.8 199.3h1.15M214.3 190.5h1.15M209.7 190.6h1.15M209.9 200.2h1.15M219.2 190.1h1.15M211.0 182.2h1.15M229.9 179.4h1.15M209.5 193.2h1.15M221.3 188.0h1.15M216.9 188.3h1.15M216.4 186.7h1.15M212.8 193.6h1.15M206.9 194.1h1.15M218.8 172.1h1.15M206.1 191.1h1.15M207.7 191.7h1.15M212.9 190.7h1.15M204.9 201.7h1.15M222.6 180.5h1.15M208.0 190.3h1.15M210.9 195.8h1.15M218.4 193.3h1.15M206.0 192.5h1.15M210.2 188.1h1.15M207.3 191.5h1.15M226.1 185.1h1.15M206.9 197.2h1.15M202.5 209.0h1.15M211.7 198.3h1.15M217.1 193.5h1.15M212.6 189.9h1.15M211.0 198.8h1.15M209.6 188.9h1.15M215.0 194.3h1.15M210.5 192.1h1.15M213.4 185.5h1.15M209.4 183.7h1.15M217.2 193.8h1.15M216.6 174.6h1.15M220.0 175.1h1.15M215.2 184.6h1.15M223.8 180.3h1.15M204.1 185.5h1.15M217.7 200.2h1.15M205.5 195.2h1.15M217.1 186.2h1.15M212.8 189.6h1.15M219.5 200.4h1.15M208.8 198.2h1.15M211.4 206.1h1.15M206.6 184.3h1.15M207.2 197.7h1.15M206.6 199.9h1.15M218.6 179.8h1.15M212.9 184.9h1.15M214.4 190.1h1.15" stroke="#000" stroke-width="1.15" stroke-opacity="0.5700000000000001" fill="none"/>
<path d="M214.8 228.7h1.15M231.2 207.7h1.15M205.2 237.5h1.15M186.9 216.5h1.15M192.8 197.6h1.15M226.2 192.9h1.15M192.5 237.1h1.15M195.9 230.1h1.15M215.3 227.5h1.15M190.3 237.5h1.15M197.4 200.9h1.15M211.2 210.5h1.15M204.0 193.2h1.15M219.9 213.5h1.15M247.7 237.5h1.15M220.5 222.8h1.15M197.4 210.2h1.15M221.2 205.2h1.15M196.4 205.1h1.15M211.5 221.5h1.15M213.6 213.9h1.15M190.5 212.3h1.15M204.9 204.8h1.15M209.0 227.2h1.15M199.7 201.6h1.15M206.4 218.5h1.15M195.5 221.6h1.15M207.4 202.8h1.15M192.0 230.1h1.15M205.5 215.5h1.15M235.0 207.0h1.15M199.8 221.7h1.15M195.1 214.2h1.15M211.1 185.7h1.15M201.1 199.2h1.15M222.0 186.2h1.15M212.8 229.7h1.15M223.6 237.5h1.15M208.5 199.2h1.15M203.8 201.2h1.15M219.9 218.1h1.15M218.2 218.5h1.15M215.5 198.4h1.15M203.5 220.9h1.15M188.8 206.5h1.15M211.5 207.5h1.15M189.5 215.0h1.15M198.0 217.8h1.15M191.4 222.9h1.15M208.7 222.7h1.15M175.6 206.8h1.15M191.6 213.3h1.15M220.9 215.4h1.15M200.6 217.4h1.15M185.3 214.9h1.15M190.9 229.0h1.15M201.0 208.6h1.15M220.7 216.8h1.15M190.3 201.8h1.15M206.1 223.8h1.15M201.6 199.2h1.15M194.5 210.3h1.15M193.4 201.2h1.15M227.9 212.4h1.15M217.9 175.8h1.15M224.8 204.8h1.15M193.7 214.1h1.15M200.2 199.0h1.15M201.3 217.8h1.15M187.1 199.4h1.15M205.4 204.6h1.15M210.0 229.8h1.15M224.5 231.7h1.15M222.2 203.9h1.15M203.1 228.7h1.15M205.7 200.1h1.15M193.2 197.8h1.15M224.8 199.8h1.15M195.9 197.7h1.15M219.1 200.7h1.15M199.9 201.6h1.15M218.4 222.4h1.15M210.8 237.5h1.15M209.8 237.5h1.15M199.9 219.3h1.15M193.5 206.7h1.15M223.8 211.3h1.15M214.1 218.6h1.15M216.9 221.8h1.15M192.4 210.0h1.15M197.3 199.5h1.15M213.4 194.3h1.15M203.0 236.4h1.15M214.5 213.8h1.15M238.3 217.7h1.15M178.2 206.5h1.15M210.5 211.6h1.15M206.7 210.4h1.15M196.9 190.0h1.15M182.4 230.1h1.15M206.1 196.8h1.15M202.8 219.5h1.15M219.9 219.5h1.15M195.5 210.7h1.15M198.8 211.0h1.15M197.7 230.3h1.15M214.3 224.9h1.15M223.7 232.0h1.15M212.2 237.5h1.15M236.0 195.5h1.15M200.2 231.3h1.15M238.3 226.8h1.15M203.1 208.7h1.15M208.7 216.7h1.15M185.4 237.0h1.15M207.4 200.8h1.15M205.2 210.2h1.15M191.1 208.4h1.15M232.4 225.3h1.15M179.1 176.1h1.15M192.0 198.0h1.15M215.5 222.6h1.15M218.7 202.0h1.15M194.4 201.0h1.15M203.1 213.6h1.15M206.2 220.2h1.15M208.3 214.4h1.15M206.0 169.4h1.15M195.9 188.8h1.15M211.3 236.5h1.15M184.3 229.4h1.15M205.3 222.9h1.15M194.6 210.5h1.15M203.2 232.9h1.15M214.2 176.0h1.15M197.1 202.0h1.15M186.2 215.3h1.15M178.3 196.1h1.15M175.6 198.4h1.15M189.4 214.0h1.15M216.6 214.1h1.15M202.3 212.2h1.15M198.0 214.4h1.15M201.2 237.5h1.15M210.4 208.8h1.15M190.7 204.1h1.15M215.5 215.6h1.15M190.0 209.1h1.15M199.7 210.0h1.15M189.8 200.3h1.15M211.1 227.6h1.15M231.4 201.0h1.15M191.8 201.4h1.15M204.4 197.7h1.15M200.8 199.9h1.15M183.0 204.8h1.15M188.1 203.0h1.15M194.7 220.0h1.15M195.9 200.3h1.15M191.7 216.6h1.15M199.5 229.6h1.15M211.1 206.1h1.15M194.3 199.1h1.15M191.0 197.4h1.15M202.8 213.1h1.15M193.3 223.9h1.15M182.4 190.4h1.15M193.2 196.2h1.15M189.7 230.7h1.15M224.4 231.7h1.15M189.1 212.9h1.15M198.2 196.8h1.15M211.5 211.8h1.15M221.8 218.8h1.15M205.9 221.2h1.15M221.6 211.8h1.15M200.9 223.9h1.15M206.1 221.8h1.15M229.8 237.5h1.15M203.2 199.8h1.15M234.0 234.4h1.15M209.2 208.3h1.15M216.5 199.9h1.15M219.4 210.7h1.15M202.8 212.7h1.15M195.2 207.6h1.15M211.7 205.7h1.15M213.8 204.1h1.15M212.1 192.7h1.15M221.2 205.1h1.15M197.4 219.8h1.15M205.0 218.0h1.15M200.7 222.8h1.15M205.2 210.6h1.15M187.8 211.8h1.15M216.2 228.8h1.15M210.5 232.7h1.15M218.4 235.3h1.15M202.1 217.4h1.15M210.0 219.1h1.15M212.6 220.3h1.15M217.8 209.7h1.15M186.0 225.5h1.15M209.8 214.5h1.15M213.0 203.6h1.15M208.5 219.4h1.15M202.9 176.2h1.15M186.7 224.2h1.15M195.2 214.1h1.15M199.4 222.9h1.15M204.4 235.1h1.15M216.1 218.9h1.15M204.1 208.6h1.15M223.3 207.9h1.15M199.2 205.1h1.15M212.2 236.0h1.15M206.8 211.7h1.15M208.3 204.1h1.15M221.1 220.2h1.15M226.6 226.0h1.15M210.8 203.1h1.15M214.7 224.3h1.15M204.4 208.4h1.15M202.4 205.6h1.15M198.4 217.4h1.15M219.5 219.8h1.15M195.0 237.5h1.15M223.0 200.1h1.15M184.3 210.6h1.15M196.6 224.7h1.15M190.4 208.0h1.15M178.7 220.7h1.15M227.2 210.5h1.15M212.0 203.4h1.15M213.3 216.2h1.15M180.6 212.0h1.15M201.3 183.3h1.15M206.6 201.2h1.15M219.5 217.1h1.15M190.8 235.0h1.15M218.9 203.0h1.15M207.8 191.3h1.15M189.4 210.3h1.15M228.4 205.3h1.15M175.6 195.4h1.15M218.7 229.9h1.15M192.7 208.5h1.15M217.3 224.3h1.15M210.3 206.1h1.15M237.5 189.2h1.15M210.5 227.5h1.15M191.8 213.1h1.15M212.5 219.0h1.15M229.4 203.1h1.15M220.1 207.4h1.15M199.4 212.0h1.15M187.9 219.6h1.15M209.5 211.8h1.15M202.0 208.6h1.15M213.7 210.5h1.15M197.6 194.7h1.15M208.7 225.9h1.15M196.6 215.8h1.15M200.4 214.9h1.15M194.6 178.6h1.15M190.8 208.6h1.15M196.6 211.4h1.15M202.9 192.1h1.15M215.3 219.7h1.15M220.0 226.1h1.15M232.6 214.5h1.15M228.8 221.8h1.15M210.6 226.9h1.15M196.5 182.2h1.15M210.1 206.7h1.15M201.2 198.5h1.15M212.2 224.6h1.15M207.0 211.0h1.15M198.9 196.6h1.15M216.2 202.1h1.15M204.6 237.4h1.15M221.0 224.5h1.15M203.2 216.2h1.15M217.9 234.0h1.15M221.7 236.3h1.15M223.7 235.9h1.15M223.9 218.2h1.15M186.0 208.3h1.15M213.4 207.8h1.15M222.6 211.3h1.15M208.3 202.8h1.15M226.8 211.6h1.15M194.8 213.6h1.15M217.4 200.5h1.15M233.4 210.2h1.15M204.2 191.2h1.15M217.4 233.3h1.15M203.0 206.2h1.15M210.3 214.5h1.15M209.0 233.7h1.15M206.8 192.1h1.15M182.0 234.5h1.15M210.3 219.6h1.15M194.3 215.7h1.15M202.1 187.4h1.15M203.9 200.5h1.15M193.8 206.5h1.15M188.0 207.2h1.15M220.0 232.6h1.15M213.7 191.2h1.15M213.0 217.2h1.15M204.3 188.4h1.15M180.4 191.7h1.15M195.4 216.2h1.15M192.7 213.8h1.15M186.5 227.5h1.15M194.6 230.4h1.15M202.0 210.5h1.15M176.4 210.3h1.15M188.0 191.7h1.15M175.6 179.7h1.15M218.7 215.3h1.15M212.0 232.7h1.15M198.8 230.5h1.15M203.0 210.0h1.15M195.0 204.4h1.15M204.1 230.7h1.15M197.9 205.4h1.15M203.1 207.0h1.15M232.0 221.2h1.15M235.0 198.3h1.15M227.4 211.3h1.15M188.8 205.3h1.15M175.6 205.2h1.15M219.1 209.1h1.15M209.6 227.4h1.15M181.9 223.0h1.15M221.6 203.5h1.15M219.5 219.9h1.15M216.4 223.7h1.15M213.2 194.3h1.15M196.4 213.5h1.15M230.2 201.0h1.15M199.8 212.3h1.15M198.1 200.2h1.15M193.5 219.6h1.15M203.2 219.1h1.15M194.5 199.3h1.15M183.3 221.1h1.15M196.1 211.9h1.15" stroke="#000" stroke-width="1.15" stroke-opacity="0.28" fill="none"/>
<line x1="210.3" y1="153.2" x2="210.3" y2="238" stroke="#454545" stroke-width="1.3"/>
<line x1="175.7" y1="202.3" x2="267.5" y2="202.3" stroke="#454545" stroke-width="1.3"/>
<rect x="177.2" y="154.7" width="3" height="2.5" fill="#bbb"/>
<rect x="211.8" y="154.7" width="3" height="2.5" fill="#bbb"/>
<rect x="177.2" y="203.8" width="3" height="2.5" fill="#bbb"/>
<rect x="211.8" y="203.8" width="3" height="2.5" fill="#bbb"/>
<text x="196.83" y="148.2" font-size="14.53" font-weight="bold" stroke="#000" stroke-width="0.2" fill="#000" textLength="48.38" lengthAdjust="spacingAndGlyphs">R260W</text>
<text x="185.11" y="172.7" font-size="10.32" stroke="#111" stroke-width="0.35" fill="#111" textLength="14.42" lengthAdjust="spacingAndGlyphs">3.7</text>
<text x="232.56" y="171.8" font-size="10.32" stroke="#111" stroke-width="0.35" fill="#111" textLength="21.36" lengthAdjust="spacingAndGlyphs">13.0</text>
<text x="240.33" y="223.9" font-size="10.32" stroke="#111" stroke-width="0.35" fill="#111" textLength="15.19" lengthAdjust="spacingAndGlyphs">8.9</text>
<line x1="291.3" y1="237.6" x2="294.3" y2="237.6" stroke="#777" stroke-width="0.8"/>
<rect x="286.3" y="236.1" width="3.5" height="2.5" fill="#bbb"/>
<line x1="292.8" y1="231.25" x2="294.3" y2="231.25" stroke="#aaa" stroke-width="0.6"/>
<line x1="292.8" y1="227.53" x2="294.3" y2="227.53" stroke="#aaa" stroke-width="0.6"/>
<line x1="292.8" y1="224.9" x2="294.3" y2="224.9" stroke="#aaa" stroke-width="0.6"/>
<line x1="292.8" y1="222.85" x2="294.3" y2="222.85" stroke="#aaa" stroke-width="0.6"/>
<line x1="292.8" y1="221.18" x2="294.3" y2="221.18" stroke="#aaa" stroke-width="0.6"/>
<line x1="292.8" y1="219.77" x2="294.3" y2="219.77" stroke="#aaa" stroke-width="0.6"/>
<line x1="292.8" y1="218.54" x2="294.3" y2="218.54" stroke="#aaa" stroke-width="0.6"/>
<line x1="292.8" y1="217.47" x2="294.3" y2="217.47" stroke="#aaa" stroke-width="0.6"/>
<line x1="291.3" y1="216.5" x2="294.3" y2="216.5" stroke="#777" stroke-width="0.8"/>
<rect x="286.3" y="215" width="3.5" height="2.5" fill="#bbb"/>
<line x1="292.8" y1="210.15" x2="294.3" y2="210.15" stroke="#aaa" stroke-width="0.6"/>
<line x1="292.8" y1="206.43" x2="294.3" y2="206.43" stroke="#aaa" stroke-width="0.6"/>
<line x1="292.8" y1="203.8" x2="294.3" y2="203.8" stroke="#aaa" stroke-width="0.6"/>
<line x1="292.8" y1="201.75" x2="294.3" y2="201.75" stroke="#aaa" stroke-width="0.6"/>
<line x1="292.8" y1="200.08" x2="294.3" y2="200.08" stroke="#aaa" stroke-width="0.6"/>
<line x1="292.8" y1="198.67" x2="294.3" y2="198.67" stroke="#aaa" stroke-width="0.6"/>
<line x1="292.8" y1="197.44" x2="294.3" y2="197.44" stroke="#aaa" stroke-width="0.6"/>
<line x1="292.8" y1="196.37" x2="294.3" y2="196.37" stroke="#aaa" stroke-width="0.6"/>
<line x1="291.3" y1="195.4" x2="294.3" y2="195.4" stroke="#777" stroke-width="0.8"/>
<rect x="286.3" y="193.9" width="3.5" height="2.5" fill="#bbb"/>
<line x1="292.8" y1="189.05" x2="294.3" y2="189.05" stroke="#aaa" stroke-width="0.6"/>
<line x1="292.8" y1="185.33" x2="294.3" y2="185.33" stroke="#aaa" stroke-width="0.6"/>
<line x1="292.8" y1="182.7" x2="294.3" y2="182.7" stroke="#aaa" stroke-width="0.6"/>
<line x1="292.8" y1="180.65" x2="294.3" y2="180.65" stroke="#aaa" stroke-width="0.6"/>
<line x1="292.8" y1="178.98" x2="294.3" y2="178.98" stroke="#aaa" stroke-width="0.6"/>
<line x1="292.8" y1="177.57" x2="294.3" y2="177.57" stroke="#aaa" stroke-width="0.6"/>
<line x1="292.8" y1="176.34" x2="294.3" y2="176.34" stroke="#aaa" stroke-width="0.6"/>
<line x1="292.8" y1="175.27" x2="294.3" y2="175.27" stroke="#aaa" stroke-width="0.6"/>
<line x1="291.3" y1="174.3" x2="294.3" y2="174.3" stroke="#777" stroke-width="0.8"/>
<rect x="286.3" y="172.8" width="3.5" height="2.5" fill="#bbb"/>
<line x1="292.8" y1="167.95" x2="294.3" y2="167.95" stroke="#aaa" stroke-width="0.6"/>
<line x1="292.8" y1="164.23" x2="294.3" y2="164.23" stroke="#aaa" stroke-width="0.6"/>
<line x1="292.8" y1="161.6" x2="294.3" y2="161.6" stroke="#aaa" stroke-width="0.6"/>
<line x1="292.8" y1="159.55" x2="294.3" y2="159.55" stroke="#aaa" stroke-width="0.6"/>
<line x1="292.8" y1="157.88" x2="294.3" y2="157.88" stroke="#aaa" stroke-width="0.6"/>
<line x1="292.8" y1="156.47" x2="294.3" y2="156.47" stroke="#aaa" stroke-width="0.6"/>
<line x1="292.8" y1="155.24" x2="294.3" y2="155.24" stroke="#aaa" stroke-width="0.6"/>
<line x1="292.8" y1="154.17" x2="294.3" y2="154.17" stroke="#aaa" stroke-width="0.6"/>
<line x1="291.3" y1="153.2" x2="294.3" y2="153.2" stroke="#777" stroke-width="0.8"/>
<rect x="286.3" y="151.7" width="3.5" height="2.5" fill="#bbb"/>
<line x1="294.3" y1="237.6" x2="294.3" y2="240.6" stroke="#777" stroke-width="0.8"/>
<rect x="292.3" y="242.1" width="4" height="2.5" fill="#bbb"/>
<line x1="301.18" y1="237.6" x2="301.18" y2="239.1" stroke="#aaa" stroke-width="0.6"/>
<line x1="305.2" y1="237.6" x2="305.2" y2="239.1" stroke="#aaa" stroke-width="0.6"/>
<line x1="308.06" y1="237.6" x2="308.06" y2="239.1" stroke="#aaa" stroke-width="0.6"/>
<line x1="310.27" y1="237.6" x2="310.27" y2="239.1" stroke="#aaa" stroke-width="0.6"/>
<line x1="312.08" y1="237.6" x2="312.08" y2="239.1" stroke="#aaa" stroke-width="0.6"/>
<line x1="313.61" y1="237.6" x2="313.61" y2="239.1" stroke="#aaa" stroke-width="0.6"/>
<line x1="314.94" y1="237.6" x2="314.94" y2="239.1" stroke="#aaa" stroke-width="0.6"/>
<line x1="316.1" y1="237.6" x2="316.1" y2="239.1" stroke="#aaa" stroke-width="0.6"/>
<line x1="317.15" y1="237.6" x2="317.15" y2="240.6" stroke="#777" stroke-width="0.8"/>
<rect x="315.15" y="242.1" width="4" height="2.5" fill="#bbb"/>
<line x1="324.03" y1="237.6" x2="324.03" y2="239.1" stroke="#aaa" stroke-width="0.6"/>
<line x1="328.05" y1="237.6" x2="328.05" y2="239.1" stroke="#aaa" stroke-width="0.6"/>
<line x1="330.91" y1="237.6" x2="330.91" y2="239.1" stroke="#aaa" stroke-width="0.6"/>
<line x1="333.12" y1="237.6" x2="333.12" y2="239.1" stroke="#aaa" stroke-width="0.6"/>
<line x1="334.93" y1="237.6" x2="334.93" y2="239.1" stroke="#aaa" stroke-width="0.6"/>
<line x1="336.46" y1="237.6" x2="336.46" y2="239.1" stroke="#aaa" stroke-width="0.6"/>
<line x1="337.79" y1="237.6" x2="337.79" y2="239.1" stroke="#aaa" stroke-width="0.6"/>
<line x1="338.95" y1="237.6" x2="338.95" y2="239.1" stroke="#aaa" stroke-width="0.6"/>
<line x1="340" y1="237.6" x2="340" y2="240.6" stroke="#777" stroke-width="0.8"/>
<rect x="338" y="242.1" width="4" height="2.5" fill="#bbb"/>
<line x1="346.88" y1="237.6" x2="346.88" y2="239.1" stroke="#aaa" stroke-width="0.6"/>
<line x1="350.9" y1="237.6" x2="350.9" y2="239.1" stroke="#aaa" stroke-width="0.6"/>
<line x1="353.76" y1="237.6" x2="353.76" y2="239.1" stroke="#aaa" stroke-width="0.6"/>
<line x1="355.97" y1="237.6" x2="355.97" y2="239.1" stroke="#aaa" stroke-width="0.6"/>
<line x1="357.78" y1="237.6" x2="357.78" y2="239.1" stroke="#aaa" stroke-width="0.6"/>
<line x1="359.31" y1="237.6" x2="359.31" y2="239.1" stroke="#aaa" stroke-width="0.6"/>
<line x1="360.64" y1="237.6" x2="360.64" y2="239.1" stroke="#aaa" stroke-width="0.6"/>
<line x1="361.8" y1="237.6" x2="361.8" y2="239.1" stroke="#aaa" stroke-width="0.6"/>
<line x1="362.85" y1="237.6" x2="362.85" y2="240.6" stroke="#777" stroke-width="0.8"/>
<rect x="360.85" y="242.1" width="4" height="2.5" fill="#bbb"/>
<line x1="369.73" y1="237.6" x2="369.73" y2="239.1" stroke="#aaa" stroke-width="0.6"/>
<line x1="373.75" y1="237.6" x2="373.75" y2="239.1" stroke="#aaa" stroke-width="0.6"/>
<line x1="376.61" y1="237.6" x2="376.61" y2="239.1" stroke="#aaa" stroke-width="0.6"/>
<line x1="378.82" y1="237.6" x2="378.82" y2="239.1" stroke="#aaa" stroke-width="0.6"/>
<line x1="380.63" y1="237.6" x2="380.63" y2="239.1" stroke="#aaa" stroke-width="0.6"/>
<line x1="382.16" y1="237.6" x2="382.16" y2="239.1" stroke="#aaa" stroke-width="0.6"/>
<line x1="383.49" y1="237.6" x2="383.49" y2="239.1" stroke="#aaa" stroke-width="0.6"/>
<line x1="384.65" y1="237.6" x2="384.65" y2="239.1" stroke="#aaa" stroke-width="0.6"/>
<line x1="385.7" y1="237.6" x2="385.7" y2="240.6" stroke="#777" stroke-width="0.8"/>
<rect x="383.7" y="242.1" width="4" height="2.5" fill="#bbb"/>
<rect x="294.3" y="153.2" width="91.4" height="84.4" fill="none" stroke="#a2a2a2" stroke-width="1"/>
<ellipse cx="319" cy="217" rx="13.5" ry="19" transform="rotate(0 319 217)" fill="url(#cg)" opacity="0.807" clip-path="url(#c6)"/>
<ellipse cx="332" cy="191" rx="9" ry="14" transform="rotate(35 332 191)" fill="url(#cg)" opacity="0.612" clip-path="url(#c6)"/>
<path d="M317.5 229.8h1.15M313.8 208.6h1.15M318.3 211.0h1.15M319.3 207.8h1.15M318.3 223.4h1.15M309.6 207.3h1.15M329.8 214.2h1.15M322.3 208.8h1.15M318.6 226.1h1.15M321.8 213.8h1.15M310.3 220.1h1.15M321.6 219.5h1.15M322.0 233.4h1.15M319.0 215.5h1.15M328.4 237.1h1.15M324.3 232.2h1.15M307.1 210.1h1.15M318.2 215.2h1.15M319.7 205.6h1.15M333.4 224.3h1.15M316.5 228.2h1.15M310.2 217.3h1.15M316.3 217.7h1.15M323.2 210.8h1.15M324.7 224.8h1.15M321.0 227.4h1.15M316.3 205.0h1.15M321.2 224.9h1.15M327.4 216.6h1.15M321.9 229.7h1.15M318.5 222.3h1.15M316.7 215.5h1.15M324.6 228.9h1.15M320.8 218.3h1.15M318.4 214.3h1.15M319.5 219.6h1.15M328.9 220.7h1.15M319.3 218.2h1.15M319.6 221.1h1.15M313.6 223.1h1.15M322.7 233.6h1.15M325.7 226.3h1.15M324.3 228.7h1.15M321.4 223.1h1.15M323.5 218.5h1.15M309.3 222.8h1.15M326.6 218.9h1.15M325.6 227.4h1.15M314.9 208.7h1.15M309.4 229.4h1.15M326.0 223.1h1.15M304.4 213.8h1.15M319.3 212.8h1.15M311.9 226.7h1.15M316.7 221.1h1.15M325.6 218.6h1.15M320.8 222.8h1.15M332.7 220.8h1.15M323.8 227.4h1.15M328.9 214.1h1.15M314.0 215.2h1.15M313.0 205.3h1.15M319.7 224.9h1.15M311.0 225.1h1.15M325.1 211.7h1.15M317.3 232.6h1.15M320.2 222.3h1.15M326.9 219.7h1.15M312.0 214.5h1.15M314.5 217.2h1.15M320.6 229.9h1.15M312.1 224.7h1.15M324.7 214.1h1.15M318.3 216.0h1.15M316.3 219.2h1.15M319.8 224.2h1.15M315.6 222.3h1.15M323.5 216.1h1.15M317.6 222.1h1.15M310.7 229.9h1.15M305.2 213.8h1.15M311.5 210.8h1.15M307.4 226.1h1.15M315.0 220.4h1.15M320.3 234.0h1.15M322.3 220.9h1.15M311.6 209.8h1.15M309.2 221.6h1.15M310.8 224.5h1.15M324.9 221.1h1.15M326.8 217.2h1.15M313.5 229.0h1.15M325.6 217.6h1.15M308.0 226.9h1.15M321.2 214.1h1.15M315.7 212.8h1.15M311.3 231.2h1.15M309.1 233.3h1.15M305.4 220.5h1.15M323.0 225.3h1.15M331.0 222.5h1.15M324.2 212.7h1.15M301.6 223.9h1.15M314.2 223.7h1.15M327.9 233.5h1.15M321.0 209.2h1.15M316.8 203.0h1.15M316.9 215.4h1.15M310.6 205.2h1.15M311.6 220.4h1.15M315.8 214.6h1.15M319.9 231.7h1.15M321.6 218.8h1.15M314.5 210.3h1.15M322.2 220.2h1.15M315.0 231.3h1.15M322.6 225.1h1.15M310.5 209.2h1.15M330.8 218.6h1.15M321.4 229.1h1.15M311.9 212.3h1.15M313.2 214.2h1.15M319.1 231.6h1.15M325.3 209.8h1.15M309.5 201.1h1.15M318.2 230.1h1.15M322.8 208.1h1.15M326.2 219.1h1.15M320.2 213.8h1.15M303.9 234.0h1.15M310.6 222.0h1.15M308.1 209.5h1.15M305.1 224.0h1.15M316.6 210.7h1.15M314.3 214.2h1.15M325.5 222.1h1.15M323.7 221.0h1.15M328.0 200.2h1.15M319.7 223.8h1.15M314.1 226.4h1.15M325.8 231.0h1.15M322.9 227.8h1.15M317.1 231.1h1.15M324.1 225.6h1.15M319.1 217.7h1.15M319.3 222.1h1.15M323.4 208.1h1.15M319.1 237.1h1.15M321.9 227.7h1.15M317.3 207.6h1.15M320.3 220.1h1.15M324.7 237.1h1.15M322.8 214.7h1.15M327.2 222.6h1.15M322.8 236.0h1.15M328.3 211.7h1.15M320.3 204.5h1.15M321.6 211.8h1.15M318.2 217.7h1.15M316.0 210.3h1.15M329.8 217.5h1.15M308.7 222.9h1.15M310.7 213.0h1.15M323.1 219.3h1.15M317.9 232.2h1.15M326.3 213.0h1.15M318.9 206.9h1.15M321.5 224.2h1.15M308.9 212.0h1.15M309.7 225.4h1.15M315.6 225.4h1.15M321.7 226.7h1.15M315.7 217.0h1.15M319.2 218.5h1.15M317.7 211.2h1.15M323.4 216.3h1.15M328.3 221.1h1.15M309.8 229.9h1.15M314.9 211.1h1.15M313.2 208.1h1.15M316.4 223.9h1.15M313.6 209.9h1.15M322.1 220.5h1.15M315.9 220.6h1.15M312.0 217.7h1.15M315.4 232.6h1.15M318.2 215.8h1.15M301.7 203.8h1.15M303.7 203.7h1.15M318.9 225.0h1.15M316.2 224.5h1.15M321.1 224.5h1.15M306.5 218.9h1.15M318.7 216.6h1.15M319.4 206.9h1.15M318.3 220.0h1.15M320.6 215.5h1.15M318.3 226.2h1.15M322.9 199.4h1.15M329.3 210.6h1.15M322.6 211.1h1.15M322.9 221.1h1.15M320.5 222.3h1.15M322.2 224.6h1.15M323.6 221.2h1.15M321.4 214.0h1.15M305.8 218.1h1.15M328.9 220.3h1.15M316.9 218.4h1.15M327.4 209.4h1.15M331.7 231.9h1.15M310.3 213.4h1.15M318.8 221.1h1.15M315.6 206.1h1.15M319.1 221.0h1.15M313.4 215.7h1.15M311.1 233.2h1.15M315.4 217.3h1.15M315.2 206.1h1.15M303.8 210.3h1.15M309.1 220.9h1.15M323.6 221.5h1.15M316.3 227.6h1.15M315.2 218.7h1.15M317.6 216.3h1.15M318.3 230.3h1.15M324.2 220.1h1.15M322.3 206.2h1.15M315.6 222.6h1.15M318.4 201.9h1.15M324.3 223.3h1.15M308.9 215.1h1.15M322.0 234.1h1.15M309.4 209.4h1.15M327.8 214.9h1.15M315.8 212.7h1.15M317.5 227.1h1.15M321.7 208.4h1.15M315.9 237.1h1.15M300.5 216.5h1.15M312.4 207.6h1.15M307.1 237.1h1.15M308.8 220.6h1.15M311.9 224.9h1.15M321.2 226.3h1.15M309.3 226.3h1.15M320.8 223.7h1.15M313.9 211.4h1.15M319.4 217.9h1.15M307.0 224.7h1.15M318.6 211.1h1.15M311.9 218.1h1.15M321.1 219.1h1.15M320.2 236.1h1.15M320.3 225.5h1.15M309.0 214.3h1.15M315.1 213.1h1.15M317.9 220.2h1.15M320.2 211.0h1.15M317.3 224.6h1.15M314.7 219.2h1.15M317.0 222.6h1.15M321.3 228.7h1.15M317.0 222.6h1.15M320.0 216.9h1.15M313.8 222.7h1.15M323.5 221.5h1.15M309.2 223.7h1.15M318.1 227.3h1.15M325.9 211.9h1.15M314.2 221.0h1.15M321.8 199.9h1.15M319.2 235.5h1.15M313.2 225.9h1.15M323.2 220.0h1.15M318.7 224.7h1.15M325.8 200.5h1.15M313.5 232.9h1.15M315.7 229.6h1.15M323.3 236.5h1.15M309.8 217.9h1.15M320.6 209.0h1.15M308.2 219.8h1.15M310.0 220.8h1.15M317.3 223.7h1.15M321.3 237.1h1.15M317.4 218.1h1.15M321.7 229.4h1.15M298.9 217.2h1.15M320.5 217.1h1.15M324.8 196.2h1.15M318.0 198.0h1.15M311.7 227.1h1.15M313.8 205.1h1.15M315.9 203.6h1.15M312.4 231.9h1.15M304.8 206.6h1.15M314.4 229.6h1.15M325.5 208.0h1.15M317.2 214.5h1.15M321.6 225.2h1.15M317.5 217.2h1.15M316.7 215.4h1.15M320.2 225.4h1.15M308.6 214.9h1.15M322.8 217.0h1.15M329.4 227.6h1.15M306.1 208.8h1.15M317.7 214.6h1.15M315.5 223.6h1.15M313.4 221.1h1.15M327.3 205.2h1.15M328.3 237.1h1.15M324.7 217.0h1.15M329.5 204.4h1.15M317.8 211.0h1.15M310.8 208.5h1.15M314.5 227.2h1.15M321.6 221.6h1.15M320.0 212.0h1.15M316.4 210.4h1.15M317.1 212.2h1.15M326.7 225.5h1.15M318.2 224.7h1.15M311.0 221.3h1.15M326.2 210.7h1.15M312.0 222.6h1.15M315.7 216.4h1.15M315.8 230.0h1.15M326.6 214.7h1.15M322.7 237.1h1.15M319.7 213.2h1.15M317.3 220.6h1.15M318.8 213.1h1.15M323.2 207.0h1.15M319.8 208.2h1.15M318.5 221.3h1.15M317.5 218.2h1.15M307.3 217.2h1.15M322.9 226.0h1.15M314.8 217.8h1.15M321.1 230.1h1.15M320.2 223.3h1.15M321.2 237.1h1.15M320.9 216.5h1.15M312.4 215.1h1.15M323.3 220.2h1.15M317.7 217.6h1.15M323.6 217.2h1.15M309.3 235.9h1.15M320.6 222.5h1.15M312.9 220.3h1.15M314.8 229.2h1.15M324.8 216.3h1.15M324.5 221.2h1.15M322.6 211.8h1.15M323.0 221.4h1.15M319.3 226.8h1.15M314.4 230.5h1.15M318.0 216.5h1.15M325.8 231.5h1.15M326.6 208.4h1.15M322.8 230.7h1.15M327.1 224.8h1.15M320.6 235.0h1.15M322.5 211.1h1.15M316.0 198.8h1.15M325.8 211.4h1.15M313.9 213.7h1.15M317.0 214.7h1.15M315.8 219.9h1.15M326.5 225.9h1.15M314.5 221.6h1.15M323.5 216.8h1.15M311.1 216.6h1.15M326.7 237.1h1.15M319.2 201.1h1.15M314.0 236.8h1.15M331.5 208.1h1.15M320.1 223.4h1.15M320.9 220.8h1.15M317.8 216.4h1.15M312.5 220.8h1.15M318.2 216.4h1.15M315.4 198.0h1.15M316.5 227.3h1.15M318.1 211.8h1.15M330.8 195.6h1.15M319.7 228.4h1.15M323.5 227.6h1.15M304.8 233.1h1.15M315.5 192.8h1.15M322.9 204.3h1.15M311.3 227.5h1.15M323.0 224.1h1.15M334.4 207.7h1.15M321.9 227.8h1.15M310.9 225.7h1.15M314.2 215.3h1.15M323.6 212.6h1.15M320.1 205.6h1.15M326.2 217.7h1.15M308.9 211.3h1.15M318.7 221.6h1.15M322.3 206.9h1.15M318.4 203.7h1.15M322.5 235.6h1.15M308.5 203.2h1.15M306.2 213.1h1.15M322.1 220.8h1.15M309.3 214.9h1.15M316.5 221.2h1.15M320.3 216.8h1.15M322.1 215.0h1.15M316.0 208.0h1.15M318.9 226.6h1.15M318.9 229.5h1.15M317.0 229.5h1.15M317.8 223.2h1.15M316.8 212.7h1.15M324.7 216.3h1.15M317.6 232.5h1.15M323.5 214.2h1.15M317.8 211.4h1.15M323.9 218.7h1.15M319.0 219.2h1.15M309.7 215.8h1.15M316.9 227.6h1.15M313.2 223.4h1.15M321.5 228.9h1.15M317.7 217.3h1.15M322.1 214.5h1.15M313.9 219.9h1.15M315.3 211.3h1.15M312.6 214.7h1.15M315.7 218.8h1.15M325.2 218.0h1.15M312.3 233.4h1.15M315.3 233.5h1.15M315.5 220.9h1.15M313.7 215.9h1.15M324.3 237.1h1.15M325.2 215.3h1.15M321.8 207.2h1.15M317.3 223.2h1.15M314.7 216.3h1.15M318.7 207.6h1.15M320.5 233.5h1.15M325.7 217.0h1.15M325.4 217.3h1.15M325.6 220.0h1.15M309.7 234.2h1.15M302.0 216.0h1.15M321.8 226.1h1.15M320.5 219.2h1.15M318.0 216.9h1.15M319.6 227.9h1.15M322.6 216.0h1.15M328.5 219.4h1.15M317.3 214.6h1.15M330.1 211.6h1.15M329.6 212.8h1.15M308.8 215.2h1.15M325.1 227.6h1.15M314.8 225.1h1.15M317.4 222.2h1.15M322.5 205.6h1.15M326.2 219.6h1.15M326.5 220.5h1.15M326.7 237.1h1.15M315.1 228.4h1.15M317.3 237.1h1.15M323.9 219.4h1.15M320.1 232.9h1.15M309.5 231.2h1.15M316.8 222.9h1.15M315.8 220.0h1.15M323.0 227.5h1.15M314.4 216.3h1.15M321.8 228.3h1.15M311.4 222.3h1.15M316.7 214.9h1.15M320.8 219.2h1.15M321.2 206.3h1.15M321.7 225.3h1.15M313.2 237.0h1.15M309.7 226.0h1.15M320.0 220.3h1.15M319.9 231.0h1.15M306.0 224.6h1.15M322.6 207.7h1.15M334.9 218.6h1.15M320.5 216.5h1.15M315.5 221.8h1.15M312.5 212.5h1.15M320.6 220.9h1.15M309.5 221.6h1.15M312.3 224.3h1.15M311.7 209.2h1.15M316.7 210.5h1.15M324.6 234.1h1.15M322.7 220.5h1.15M321.6 229.6h1.15M316.3 216.3h1.15M310.0 218.0h1.15M317.4 215.9h1.15M317.7 212.3h1.15M315.9 221.9h1.15M323.4 209.1h1.15M321.4 209.6h1.15M323.5 224.5h1.15M321.0 220.8h1.15M318.4 219.0h1.15M317.0 220.6h1.15M320.2 193.1h1.15M324.5 220.7h1.15M323.3 218.0h1.15M311.4 237.1h1.15M324.1 215.0h1.15M312.9 205.7h1.15M318.2 219.5h1.15M311.4 228.3h1.15M325.3 217.0h1.15M313.0 223.4h1.15M317.3 217.9h1.15M332.2 208.0h1.15M319.1 219.2h1.15M317.0 223.4h1.15M320.0 202.0h1.15M303.5 213.2h1.15M319.0 224.6h1.15M313.1 225.2h1.15M323.1 237.1h1.15M318.5 212.0h1.15M319.2 225.9h1.15M310.9 226.6h1.15M321.0 198.5h1.15M322.2 221.7h1.15M306.8 233.4h1.15M308.4 222.6h1.15M321.9 210.7h1.15M310.4 229.3h1.15M305.4 198.4h1.15M316.3 237.1h1.15M305.4 220.5h1.15M313.1 210.5h1.15M320.1 216.3h1.15M317.0 228.6h1.15M320.2 214.1h1.15M318.9 215.4h1.15M314.2 226.7h1.15M316.7 208.9h1.15M324.3 208.4h1.15M312.5 225.9h1.15M308.3 230.1h1.15M317.1 224.1h1.15M318.6 225.5h1.15M322.0 206.9h1.15M318.6 227.9h1.15M331.5 205.7h1.15M321.1 237.1h1.15M340.5 230.1h1.15M311.5 237.1h1.15M328.2 221.5h1.15M329.1 211.8h1.15M315.0 216.8h1.15M319.7 237.1h1.15M321.5 214.5h1.15M313.4 228.7h1.15M316.9 224.6h1.15M320.6 216.0h1.15M314.0 212.6h1.15M305.5 222.2h1.15M318.1 204.3h1.15M330.2 220.6h1.15M318.5 218.7h1.15M320.0 232.6h1.15M323.9 211.3h1.15M320.6 216.7h1.15M317.7 234.7h1.15M319.7 213.2h1.15M312.1 215.2h1.15M318.0 210.5h1.15M313.8 232.1h1.15M316.4 211.4h1.15M317.3 212.5h1.15M314.2 219.0h1.15M314.7 226.4h1.15M323.2 222.9h1.15M315.0 225.1h1.15M304.5 218.2h1.15M321.6 213.2h1.15M320.3 221.7h1.15M326.7 209.5h1.15M317.4 200.5h1.15M315.2 222.0h1.15M323.9 223.6h1.15M318.7 215.4h1.15M315.9 220.3h1.15M320.3 229.5h1.15M309.3 202.6h1.15M316.4 224.6h1.15M322.3 221.1h1.15M318.7 219.1h1.15M324.5 226.0h1.15M304.8 224.0h1.15M315.7 219.3h1.15M324.6 229.5h1.15M329.2 217.2h1.15M319.0 226.8h1.15M312.0 222.5h1.15M317.7 223.8h1.15M331.6 221.9h1.15M336.2 215.4h1.15M311.2 227.9h1.15M319.3 223.0h1.15M324.3 219.1h1.15M320.8 209.1h1.15M319.2 228.7h1.15M314.3 217.6h1.15M304.3 225.3h1.15M299.7 227.3h1.15M317.9 214.6h1.15M327.1 212.6h1.15M314.5 220.9h1.15M316.1 214.4h1.15M314.8 220.2h1.15M303.9 230.5h1.15M312.1 213.1h1.15M311.5 210.6h1.15M314.2 214.8h1.15M320.5 230.3h1.15M330.3 211.6h1.15M313.0 219.5h1.15M316.7 217.6h1.15M307.1 219.3h1.15M321.2 218.2h1.15M320.7 228.2h1.15M305.4 205.2h1.15M321.1 221.8h1.15M306.9 220.5h1.15M324.7 220.5h1.15M316.8 210.4h1.15M319.5 221.9h1.15M319.0 208.9h1.15M308.8 215.9h1.15M319.0 210.4h1.15M308.8 233.3h1.15M328.4 225.8h1.15M310.6 221.5h1.15M318.4 237.1h1.15M316.5 226.0h1.15M331.2 225.5h1.15M319.4 216.6h1.15M321.6 224.6h1.15M325.9 220.8h1.15M324.4 207.9h1.15M300.3 218.6h1.15M316.5 226.0h1.15M317.5 230.5h1.15M315.1 219.9h1.15M301.5 220.1h1.15M324.9 210.7h1.15M323.3 211.5h1.15M308.4 219.3h1.15M321.0 229.9h1.15M313.0 218.9h1.15M314.4 219.1h1.15M316.4 215.7h1.15M316.3 219.9h1.15M315.6 218.0h1.15M319.0 217.5h1.15M320.3 212.3h1.15M324.0 216.9h1.15M324.4 229.0h1.15M318.9 234.6h1.15M313.3 219.9h1.15M314.5 215.7h1.15M318.2 222.5h1.15M318.8 225.0h1.15M322.1 226.4h1.15M310.1 222.6h1.15M309.1 214.9h1.15M312.9 212.7h1.15M320.6 215.3h1.15M318.3 220.3h1.15M329.7 209.6h1.15M308.0 228.0h1.15M304.5 211.5h1.15M323.2 214.6h1.15M317.2 227.7h1.15M325.5 216.4h1.15M317.5 220.4h1.15M307.3 231.8h1.15M308.3 226.4h1.15M330.6 206.9h1.15M317.6 209.1h1.15M313.7 237.1h1.15M322.1 205.8h1.15M327.2 223.2h1.15M317.1 214.7h1.15M315.1 227.3h1.15M318.4 223.0h1.15M322.6 226.7h1.15M329.9 220.3h1.15M313.9 222.4h1.15M318.4 226.4h1.15M310.0 211.2h1.15M309.1 224.7h1.15M307.8 212.1h1.15M317.0 204.7h1.15M324.4 220.2h1.15M327.6 229.6h1.15M326.0 235.5h1.15M316.4 223.1h1.15M317.1 213.9h1.15M313.9 225.9h1.15M313.2 211.4h1.15M312.5 206.1h1.15M327.3 216.6h1.15M311.6 223.4h1.15M311.3 232.2h1.15M308.8 215.2h1.15M322.6 207.1h1.15M323.8 212.9h1.15M314.0 202.3h1.15M306.4 220.2h1.15M317.7 223.9h1.15M323.4 210.4h1.15M327.0 216.3h1.15M318.3 223.3h1.15M322.4 215.1h1.15M322.5 228.0h1.15M316.7 208.1h1.15M329.3 223.4h1.15M315.8 212.3h1.15M325.1 214.3h1.15M318.7 215.3h1.15M314.6 232.4h1.15M314.4 206.9h1.15M317.9 217.1h1.15M319.6 217.0h1.15M318.7 226.2h1.15M315.5 219.0h1.15M315.2 221.0h1.15M315.4 225.7h1.15M327.3 229.0h1.15M322.7 220.1h1.15M323.6 213.6h1.15M323.7 216.6h1.15M310.5 217.8h1.15M302.2 233.4h1.15M308.9 227.8h1.15M312.4 218.7h1.15M326.8 203.1h1.15M327.2 220.1h1.15M318.6 208.9h1.15M309.9 226.7h1.15M322.5 227.0h1.15M322.4 235.2h1.15M319.9 210.7h1.15M320.3 208.6h1.15M315.7 213.8h1.15M319.7 206.8h1.15M323.5 218.9h1.15M309.2 227.5h1.15M317.8 233.5h1.15M320.7 214.8h1.15M317.7 212.0h1.15M317.6 226.8h1.15M320.1 207.1h1.15M311.1 227.6h1.15M320.0 213.8h1.15M323.6 211.3h1.15M309.9 206.3h1.15M320.1 228.3h1.15M318.1 217.5h1.15M312.1 225.7h1.15M311.1 222.2h1.15M320.1 215.4h1.15M317.4 212.2h1.15M324.7 223.8h1.15M323.4 225.8h1.15M321.9 227.0h1.15M332.6 237.1h1.15M320.2 227.9h1.15M310.7 211.3h1.15M327.1 231.0h1.15M316.6 221.5h1.15M310.2 224.0h1.15M311.7 229.5h1.15M313.9 233.5h1.15M329.3 212.6h1.15M324.7 222.4h1.15M312.2 217.3h1.15M321.8 229.4h1.15M321.3 222.5h1.15M299.2 233.2h1.15M305.9 233.8h1.15M314.1 208.1h1.15M325.8 213.2h1.15M317.9 209.4h1.15M322.2 202.4h1.15M333.6 219.1h1.15M327.5 221.4h1.15M328.2 225.3h1.15M315.2 220.9h1.15M321.1 213.7h1.15M323.6 214.1h1.15M311.8 215.7h1.15M318.9 211.1h1.15M313.7 218.5h1.15M316.8 222.5h1.15M318.1 225.8h1.15M317.1 214.6h1.15M328.3 237.1h1.15M316.7 216.2h1.15M325.7 208.2h1.15M305.6 205.2h1.15M314.9 218.0h1.15M321.2 219.3h1.15M310.4 221.4h1.15M319.7 216.2h1.15M321.1 220.6h1.15M308.5 234.1h1.15M318.8 216.5h1.15M315.0 216.1h1.15M319.3 226.4h1.15M318.5 226.1h1.15M319.4 226.7h1.15M311.4 213.1h1.15M317.7 212.2h1.15M326.8 220.9h1.15M316.7 224.4h1.15M305.2 230.1h1.15M310.0 211.1h1.15M326.3 221.9h1.15M314.4 202.8h1.15M318.6 216.3h1.15M319.6 218.9h1.15M319.3 209.5h1.15M332.6 210.1h1.15M318.4 215.5h1.15M316.5 215.6h1.15M315.4 221.0h1.15M317.7 221.6h1.15M315.7 218.1h1.15M318.9 233.7h1.15M316.1 229.8h1.15M324.5 209.9h1.15" stroke="#000" stroke-width="1.15" stroke-opacity="0.62" fill="none"/>
<path d="M346.3 177.3h1.15M328.2 194.8h1.15M341.0 195.8h1.15M316.7 202.3h1.15M332.0 194.5h1.15M334.5 188.3h1.15M336.1 187.3h1.15M334.4 186.4h1.15M326.1 186.2h1.15M327.5 179.4h1.15M335.9 196.9h1.15M339.4 184.9h1.15M322.9 203.6h1.15M326.8 190.4h1.15M341.1 178.3h1.15M339.0 183.8h1.15M332.2 190.8h1.15M330.8 188.6h1.15M331.8 186.2h1.15M332.6 188.6h1.15M333.8 184.4h1.15M336.1 193.2h1.15M324.6 182.9h1.15M315.7 207.6h1.15M329.8 191.7h1.15M325.8 196.4h1.15M331.3 187.6h1.15M342.3 186.9h1.15M346.5 167.8h1.15M334.8 197.8h1.15M335.6 187.5h1.15M327.3 191.0h1.15M338.2 189.1h1.15M336.4 186.1h1.15M331.1 178.9h1.15M326.2 193.6h1.15M332.7 198.7h1.15M327.3 191.0h1.15M325.8 194.8h1.15M330.4 199.7h1.15M330.1 195.4h1.15M311.7 201.4h1.15M334.2 184.6h1.15M347.0 179.3h1.15M319.8 199.1h1.15M332.6 180.7h1.15M340.8 187.3h1.15M335.4 172.1h1.15M328.9 189.7h1.15M337.6 195.1h1.15M321.2 187.1h1.15M335.2 191.2h1.15M326.7 200.3h1.15M333.0 191.8h1.15M332.6 194.9h1.15M327.7 190.0h1.15M336.8 176.7h1.15M339.6 183.7h1.15M340.8 177.0h1.15M335.4 183.3h1.15M329.0 179.0h1.15M326.6 197.0h1.15M336.5 194.6h1.15M331.1 197.6h1.15M329.8 193.9h1.15M337.2 187.7h1.15M340.1 191.4h1.15M330.5 182.7h1.15M334.6 176.1h1.15M327.3 199.9h1.15M327.8 194.5h1.15M323.9 203.7h1.15M337.6 189.6h1.15M329.7 194.9h1.15M325.4 195.7h1.15M339.4 186.6h1.15M325.3 186.6h1.15M328.7 197.6h1.15M329.3 190.0h1.15M323.3 197.7h1.15M331.3 184.7h1.15M333.3 197.6h1.15M331.2 190.7h1.15M339.8 191.8h1.15M336.5 189.8h1.15M342.4 176.4h1.15M331.7 188.1h1.15M325.9 196.6h1.15M323.9 190.2h1.15M329.2 195.6h1.15M334.8 193.9h1.15M331.1 195.2h1.15M338.1 197.1h1.15M326.0 199.2h1.15M331.1 188.3h1.15M327.0 181.3h1.15M324.6 200.7h1.15M337.1 180.1h1.15M323.5 194.7h1.15M334.1 181.6h1.15M339.4 177.4h1.15M337.0 182.2h1.15M330.4 194.7h1.15M323.6 198.0h1.15M333.1 194.6h1.15M329.4 199.4h1.15M324.6 204.7h1.15M333.1 195.2h1.15M341.1 175.9h1.15M316.0 195.8h1.15M339.8 186.1h1.15M327.2 193.3h1.15M332.6 187.2h1.15M332.7 184.5h1.15M327.0 200.9h1.15M329.2 190.8h1.15M328.4 203.5h1.15M320.2 194.4h1.15M331.5 189.4h1.15M322.5 196.2h1.15M328.8 194.0h1.15M335.1 192.5h1.15M333.7 181.6h1.15M334.6 191.7h1.15M335.8 196.2h1.15M337.9 175.0h1.15M331.3 194.3h1.15M327.5 188.7h1.15M330.9 194.0h1.15M334.1 195.0h1.15M331.1 191.8h1.15M332.2 200.2h1.15M332.9 183.0h1.15M333.3 188.2h1.15M317.2 192.6h1.15M332.7 192.9h1.15M327.0 188.2h1.15M334.5 200.8h1.15M339.4 181.5h1.15M323.6 191.5h1.15M326.1 186.3h1.15M319.6 200.0h1.15M328.9 187.2h1.15M329.9 179.2h1.15M327.8 187.5h1.15M327.6 182.7h1.15M325.1 206.5h1.15M324.9 191.6h1.15M325.6 183.7h1.15M329.8 195.0h1.15M330.6 189.6h1.15M328.4 190.2h1.15M328.0 197.5h1.15M340.2 187.0h1.15M323.1 199.6h1.15M331.2 189.8h1.15M322.5 190.1h1.15M347.7 174.7h1.15M335.7 194.4h1.15M324.4 193.2h1.15M338.3 184.1h1.15M327.1 182.0h1.15M340.1 185.4h1.15M330.0 188.1h1.15M327.2 192.0h1.15M339.9 179.7h1.15M329.8 199.8h1.15M344.1 183.7h1.15M325.2 193.0h1.15M328.3 185.6h1.15M340.9 193.2h1.15M359.3 179.9h1.15M331.5 206.4h1.15M326.3 193.0h1.15M331.2 183.3h1.15M320.7 211.3h1.15M330.2 193.3h1.15M319.4 194.4h1.15M338.3 183.4h1.15M328.0 191.0h1.15M341.8 179.6h1.15M325.1 201.6h1.15M337.5 187.8h1.15M323.7 202.6h1.15M332.1 182.8h1.15M334.9 192.7h1.15M333.9 184.9h1.15M323.4 186.6h1.15M328.0 192.3h1.15M335.6 178.0h1.15M331.6 175.0h1.15M323.6 194.0h1.15M320.7 188.9h1.15M326.6 193.8h1.15M319.2 196.5h1.15M334.6 185.2h1.15M350.3 173.6h1.15M319.9 198.5h1.15M336.1 179.1h1.15M331.2 190.3h1.15M337.3 186.9h1.15M344.1 179.5h1.15M342.1 183.5h1.15M339.7 175.7h1.15M344.1 190.1h1.15M337.2 187.4h1.15M334.1 189.6h1.15M325.2 205.9h1.15M325.4 177.9h1.15M329.0 191.9h1.15M327.8 205.8h1.15M338.1 183.8h1.15M331.9 187.9h1.15M336.1 189.8h1.15M327.2 199.1h1.15M325.9 187.9h1.15M334.1 185.0h1.15M336.8 184.4h1.15M317.9 194.4h1.15M339.3 177.8h1.15M337.8 183.4h1.15M323.4 195.4h1.15M335.5 187.3h1.15M335.6 181.0h1.15M340.3 190.3h1.15M337.7 189.0h1.15M327.5 189.2h1.15M328.0 196.8h1.15M325.7 201.0h1.15M328.9 180.7h1.15M345.2 170.5h1.15M327.1 184.3h1.15M327.9 185.3h1.15M325.8 194.0h1.15M323.7 196.0h1.15M324.4 189.8h1.15M338.9 166.8h1.15M328.4 171.1h1.15M322.7 197.6h1.15M330.3 183.3h1.15M327.6 189.3h1.15M333.3 190.8h1.15M338.6 183.2h1.15M325.8 193.8h1.15M336.5 190.2h1.15M330.2 183.8h1.15M334.3 180.1h1.15M330.0 188.0h1.15M336.0 195.9h1.15M336.3 193.6h1.15M321.8 201.1h1.15M329.4 191.7h1.15M329.5 197.0h1.15M333.9 178.1h1.15M347.7 177.5h1.15M330.8 188.4h1.15M333.7 182.7h1.15M331.4 185.8h1.15M326.7 191.6h1.15M338.4 170.9h1.15M323.6 194.2h1.15M333.5 177.3h1.15M326.2 193.1h1.15M333.1 183.4h1.15M325.5 186.1h1.15M325.9 175.9h1.15M326.9 193.0h1.15M318.0 193.6h1.15M333.7 188.6h1.15M329.5 195.8h1.15M340.4 179.7h1.15M327.2 203.8h1.15M343.5 183.3h1.15M319.3 198.1h1.15M318.9 206.6h1.15M330.0 197.5h1.15M319.9 201.1h1.15M338.2 181.3h1.15M329.1 186.3h1.15M331.2 188.0h1.15M342.3 170.6h1.15M325.5 189.1h1.15M330.6 183.9h1.15M335.5 189.6h1.15M324.5 186.5h1.15M335.8 183.6h1.15M330.5 201.0h1.15M330.0 203.5h1.15M338.5 197.7h1.15M339.0 183.3h1.15M342.6 185.7h1.15M333.5 183.9h1.15M331.8 193.2h1.15M332.1 199.8h1.15M340.3 171.0h1.15M325.2 192.7h1.15M343.1 183.2h1.15M332.1 190.3h1.15M337.0 190.7h1.15M335.6 185.8h1.15M327.0 182.2h1.15M338.1 178.0h1.15M333.1 204.1h1.15M335.3 199.6h1.15M329.1 182.2h1.15M323.7 203.7h1.15M335.5 184.6h1.15M337.5 189.4h1.15M336.2 187.2h1.15M326.9 192.2h1.15M333.0 192.4h1.15M329.1 199.3h1.15M329.2 189.0h1.15M340.1 188.3h1.15M328.6 187.1h1.15M318.0 192.5h1.15M324.3 191.0h1.15M337.5 189.1h1.15M333.9 188.4h1.15M333.4 186.0h1.15" stroke="#000" stroke-width="1.15" stroke-opacity="0.5700000000000001" fill="none"/>
<path d="M321.6 216.4h1.15M342.6 192.3h1.15M326.5 196.3h1.15M334.5 221.2h1.15M339.2 198.7h1.15M360.9 211.4h1.15M338.8 205.5h1.15M342.8 213.8h1.15M321.6 210.2h1.15M320.1 211.8h1.15M340.6 218.4h1.15M323.5 199.5h1.15M328.2 219.7h1.15M324.7 227.4h1.15M318.2 237.1h1.15M331.8 211.9h1.15M312.4 201.0h1.15M333.6 217.4h1.15M317.9 233.8h1.15M323.6 229.5h1.15M316.3 199.0h1.15M337.9 215.5h1.15M329.9 217.1h1.15M329.6 207.3h1.15M329.8 209.0h1.15M325.6 211.6h1.15M337.1 187.6h1.15M320.8 222.8h1.15M312.5 226.5h1.15M317.6 224.8h1.15M316.4 202.5h1.15M335.0 225.1h1.15M321.8 210.1h1.15M299.5 221.3h1.15M306.2 200.2h1.15M331.1 209.7h1.15M316.6 215.5h1.15M336.3 200.7h1.15M335.8 197.4h1.15M311.5 228.3h1.15M320.4 226.3h1.15M306.7 194.9h1.15M323.0 232.8h1.15M304.8 206.1h1.15M335.5 220.0h1.15M337.7 221.1h1.15M325.8 198.7h1.15M305.8 218.4h1.15M294.2 197.9h1.15M333.3 194.5h1.15M319.9 214.6h1.15M318.3 202.7h1.15M317.1 192.9h1.15M325.3 207.5h1.15M310.6 212.3h1.15M317.0 219.4h1.15M329.5 198.6h1.15M316.2 209.0h1.15M305.1 204.6h1.15M330.8 219.3h1.15M320.7 227.4h1.15M355.0 228.8h1.15M299.7 230.0h1.15M343.6 215.6h1.15M333.7 202.7h1.15M309.6 223.9h1.15M319.1 220.2h1.15M338.4 201.4h1.15M308.0 211.1h1.15M328.4 190.5h1.15M320.2 222.0h1.15M318.7 213.4h1.15M316.8 214.1h1.15M316.5 200.9h1.15M318.2 219.1h1.15M322.4 220.4h1.15M333.2 201.6h1.15M311.5 207.7h1.15M339.2 205.9h1.15M331.9 228.2h1.15M364.8 211.3h1.15M321.9 202.0h1.15M296.7 223.3h1.15M325.8 188.4h1.15M314.9 206.8h1.15M312.5 197.1h1.15M325.0 214.6h1.15M294.2 206.3h1.15M313.7 227.3h1.15M343.6 227.2h1.15M330.8 203.9h1.15M318.3 190.1h1.15M298.1 222.2h1.15M332.7 214.1h1.15M340.5 227.3h1.15M321.7 201.6h1.15M314.0 197.9h1.15M310.1 205.4h1.15M307.2 204.3h1.15M317.2 222.3h1.15M331.9 226.7h1.15M326.4 202.5h1.15M311.5 204.2h1.15M324.4 215.2h1.15M343.3 215.9h1.15M329.5 218.9h1.15M313.8 210.5h1.15M309.5 203.8h1.15M325.7 230.3h1.15M302.0 186.4h1.15M310.9 230.3h1.15M310.3 199.1h1.15M333.3 213.5h1.15M318.8 212.7h1.15M342.1 225.1h1.15M335.2 221.7h1.15M323.6 226.9h1.15M314.5 217.4h1.15M312.3 213.8h1.15M336.0 206.1h1.15M337.4 226.3h1.15M333.4 229.4h1.15M327.0 181.9h1.15M301.0 208.5h1.15M328.6 187.9h1.15M300.7 194.1h1.15M322.0 198.2h1.15M305.5 229.3h1.15M333.8 205.4h1.15M342.9 200.3h1.15M318.5 199.9h1.15M320.7 221.6h1.15M316.8 197.7h1.15M323.7 218.2h1.15M325.5 203.1h1.15M330.0 225.1h1.15M334.9 215.4h1.15M329.9 235.6h1.15M308.1 205.9h1.15M320.0 211.5h1.15M339.8 185.0h1.15M339.2 211.9h1.15M328.1 186.5h1.15M349.6 203.6h1.15M327.9 206.2h1.15M360.0 209.7h1.15M306.0 190.0h1.15M321.5 224.8h1.15M333.8 220.3h1.15M342.7 209.9h1.15M311.5 213.8h1.15M325.7 224.4h1.15M318.8 225.6h1.15M310.5 205.3h1.15M311.2 203.6h1.15M307.4 211.2h1.15M337.6 188.0h1.15M303.6 199.9h1.15M319.9 218.3h1.15M319.6 217.5h1.15M325.2 182.2h1.15M316.7 203.9h1.15M337.6 227.4h1.15M315.9 207.7h1.15M344.1 210.1h1.15M358.6 202.4h1.15M328.8 181.8h1.15M329.6 208.3h1.15M313.2 224.2h1.15M317.6 205.3h1.15M319.4 233.2h1.15M336.9 207.9h1.15M346.6 200.1h1.15M329.3 206.1h1.15M308.1 223.7h1.15M331.8 188.3h1.15M336.7 224.4h1.15M333.5 212.8h1.15M337.2 216.0h1.15M335.8 224.6h1.15M302.6 223.9h1.15M304.7 237.1h1.15M326.4 214.6h1.15M307.1 211.0h1.15M324.1 208.5h1.15M326.5 219.8h1.15M300.4 220.7h1.15M317.5 202.8h1.15M305.5 225.4h1.15M316.6 208.9h1.15M320.6 213.2h1.15M313.4 213.6h1.15M318.7 222.2h1.15M326.0 206.9h1.15M328.3 214.7h1.15M309.9 217.1h1.15M341.4 202.2h1.15M321.6 217.9h1.15M299.0 203.7h1.15M325.9 232.8h1.15M301.0 235.6h1.15M330.2 208.8h1.15M328.4 194.7h1.15M310.5 221.2h1.15M334.8 202.7h1.15M308.5 205.0h1.15M344.1 214.4h1.15M344.5 228.0h1.15M339.2 211.8h1.15M321.8 230.7h1.15M307.2 195.7h1.15M338.8 176.0h1.15M329.4 217.3h1.15M294.2 213.9h1.15M315.4 216.4h1.15M311.2 209.3h1.15M343.2 222.2h1.15M298.4 217.9h1.15M331.8 218.2h1.15M341.0 227.9h1.15M305.7 216.8h1.15M335.7 215.4h1.15M306.9 224.1h1.15M325.7 237.1h1.15M315.0 224.7h1.15M310.7 213.2h1.15M325.9 212.3h1.15M353.5 192.3h1.15M317.2 206.4h1.15M326.4 221.7h1.15M334.0 213.5h1.15M320.1 222.3h1.15M331.1 196.8h1.15M333.6 211.0h1.15M342.4 220.4h1.15M319.1 187.3h1.15M305.9 228.2h1.15M339.3 223.2h1.15M316.5 195.3h1.15M311.5 201.4h1.15M309.1 217.3h1.15M302.8 195.2h1.15M313.9 225.2h1.15M316.3 216.1h1.15M322.0 209.6h1.15M325.4 208.1h1.15M332.9 229.8h1.15M312.4 215.4h1.15M294.2 213.2h1.15M315.0 201.2h1.15M331.6 207.9h1.15M340.0 222.9h1.15M330.0 189.1h1.15M306.7 222.9h1.15M325.0 220.9h1.15M346.1 202.0h1.15M337.9 205.4h1.15M319.4 199.1h1.15M298.7 228.9h1.15M321.5 180.2h1.15M330.2 221.9h1.15M348.3 196.3h1.15M333.8 186.4h1.15M320.6 231.5h1.15M333.8 219.9h1.15M336.2 212.0h1.15M327.0 223.5h1.15M313.1 193.9h1.15M344.8 190.5h1.15M318.4 222.0h1.15M313.7 215.8h1.15M335.2 191.8h1.15M312.7 194.9h1.15M319.6 221.1h1.15M322.8 205.3h1.15M329.7 210.6h1.15M328.1 232.2h1.15M328.9 207.0h1.15M336.8 205.2h1.15M334.0 222.5h1.15M324.6 229.6h1.15M305.3 193.2h1.15M345.1 198.5h1.15M312.8 192.3h1.15M339.2 192.8h1.15M294.2 211.8h1.15M330.8 208.9h1.15M326.7 228.4h1.15M309.4 207.2h1.15M313.5 211.1h1.15M307.3 219.6h1.15M322.8 190.7h1.15M329.6 216.4h1.15M300.2 213.4h1.15M318.9 232.0h1.15M323.9 222.0h1.15M327.5 204.1h1.15M331.3 197.2h1.15M336.9 213.4h1.15M315.9 209.3h1.15M312.0 221.7h1.15M294.2 215.9h1.15M301.5 229.1h1.15M316.7 231.7h1.15M332.1 225.3h1.15M322.0 186.6h1.15M342.8 217.9h1.15M341.6 237.1h1.15M313.9 235.0h1.15M341.9 237.1h1.15M313.5 208.8h1.15M342.2 199.3h1.15M320.2 197.4h1.15M324.6 229.4h1.15M334.8 193.7h1.15M321.3 206.5h1.15M311.9 213.5h1.15M303.5 206.9h1.15M321.6 210.4h1.15M318.7 221.0h1.15M313.0 216.0h1.15M325.7 219.6h1.15M295.6 212.5h1.15M329.3 237.1h1.15M308.1 187.3h1.15M338.7 196.6h1.15M329.8 206.7h1.15M314.1 202.0h1.15M327.6 220.0h1.15M318.2 205.5h1.15M342.4 226.3h1.15M323.7 208.0h1.15M322.8 212.0h1.15M294.2 203.4h1.15M332.3 224.9h1.15M302.9 218.7h1.15M304.6 199.8h1.15M350.6 233.2h1.15M323.8 204.9h1.15M346.1 212.5h1.15M324.5 198.5h1.15M339.0 203.0h1.15M318.7 210.7h1.15M309.8 212.2h1.15M311.4 215.7h1.15M329.7 200.9h1.15M330.5 216.6h1.15M330.5 197.6h1.15M306.7 232.4h1.15M335.9 209.7h1.15" stroke="#000" stroke-width="1.15" stroke-opacity="0.28" fill="none"/>
<line x1="327.8" y1="153.2" x2="327.8" y2="237.6" stroke="#454545" stroke-width="1.3"/>
<line x1="294.3" y1="201.9" x2="385.7" y2="201.9" stroke="#454545" stroke-width="1.3"/>
<rect x="295.8" y="154.7" width="3" height="2.5" fill="#bbb"/>
<rect x="329.3" y="154.7" width="3" height="2.5" fill="#bbb"/>
<rect x="295.8" y="203.4" width="3" height="2.5" fill="#bbb"/>
<rect x="329.3" y="203.4" width="3" height="2.5" fill="#bbb"/>
<text x="324.22" y="148.2" font-size="14.53" font-weight="bold" stroke="#000" stroke-width="0.2" fill="#000" textLength="45.57" lengthAdjust="spacingAndGlyphs">D303N</text>
<text x="298.09" y="172.6" font-size="10.32" stroke="#111" stroke-width="0.35" fill="#111" textLength="14.21" lengthAdjust="spacingAndGlyphs">5.1</text>
<text x="345.27" y="171.8" font-size="10.32" stroke="#111" stroke-width="0.35" fill="#111" textLength="20.65" lengthAdjust="spacingAndGlyphs">22.1</text>
<text x="353.8" y="223.9" font-size="10.32" stroke="#111" stroke-width="0.35" fill="#111" textLength="14.85" lengthAdjust="spacingAndGlyphs">9.5</text>
<line x1="411.3" y1="238" x2="414.3" y2="238" stroke="#777" stroke-width="0.8"/>
<rect x="406.3" y="236.5" width="3.5" height="2.5" fill="#bbb"/>
<line x1="412.8" y1="231.58" x2="414.3" y2="231.58" stroke="#aaa" stroke-width="0.6"/>
<line x1="412.8" y1="227.83" x2="414.3" y2="227.83" stroke="#aaa" stroke-width="0.6"/>
<line x1="412.8" y1="225.16" x2="414.3" y2="225.16" stroke="#aaa" stroke-width="0.6"/>
<line x1="412.8" y1="223.09" x2="414.3" y2="223.09" stroke="#aaa" stroke-width="0.6"/>
<line x1="412.8" y1="221.41" x2="414.3" y2="221.41" stroke="#aaa" stroke-width="0.6"/>
<line x1="412.8" y1="219.98" x2="414.3" y2="219.98" stroke="#aaa" stroke-width="0.6"/>
<line x1="412.8" y1="218.74" x2="414.3" y2="218.74" stroke="#aaa" stroke-width="0.6"/>
<line x1="412.8" y1="217.65" x2="414.3" y2="217.65" stroke="#aaa" stroke-width="0.6"/>
<line x1="411.3" y1="216.68" x2="414.3" y2="216.68" stroke="#777" stroke-width="0.8"/>
<rect x="406.3" y="215.18" width="3.5" height="2.5" fill="#bbb"/>
<line x1="412.8" y1="210.26" x2="414.3" y2="210.26" stroke="#aaa" stroke-width="0.6"/>
<line x1="412.8" y1="206.5" x2="414.3" y2="206.5" stroke="#aaa" stroke-width="0.6"/>
<line x1="412.8" y1="203.84" x2="414.3" y2="203.84" stroke="#aaa" stroke-width="0.6"/>
<line x1="412.8" y1="201.77" x2="414.3" y2="201.77" stroke="#aaa" stroke-width="0.6"/>
<line x1="412.8" y1="200.08" x2="414.3" y2="200.08" stroke="#aaa" stroke-width="0.6"/>
<line x1="412.8" y1="198.65" x2="414.3" y2="198.65" stroke="#aaa" stroke-width="0.6"/>
<line x1="412.8" y1="197.42" x2="414.3" y2="197.42" stroke="#aaa" stroke-width="0.6"/>
<line x1="412.8" y1="196.33" x2="414.3" y2="196.33" stroke="#aaa" stroke-width="0.6"/>
<line x1="411.3" y1="195.35" x2="414.3" y2="195.35" stroke="#777" stroke-width="0.8"/>
<rect x="406.3" y="193.85" width="3.5" height="2.5" fill="#bbb"/>
<line x1="412.8" y1="188.93" x2="414.3" y2="188.93" stroke="#aaa" stroke-width="0.6"/>
<line x1="412.8" y1="185.18" x2="414.3" y2="185.18" stroke="#aaa" stroke-width="0.6"/>
<line x1="412.8" y1="182.51" x2="414.3" y2="182.51" stroke="#aaa" stroke-width="0.6"/>
<line x1="412.8" y1="180.44" x2="414.3" y2="180.44" stroke="#aaa" stroke-width="0.6"/>
<line x1="412.8" y1="178.76" x2="414.3" y2="178.76" stroke="#aaa" stroke-width="0.6"/>
<line x1="412.8" y1="177.33" x2="414.3" y2="177.33" stroke="#aaa" stroke-width="0.6"/>
<line x1="412.8" y1="176.09" x2="414.3" y2="176.09" stroke="#aaa" stroke-width="0.6"/>
<line x1="412.8" y1="175" x2="414.3" y2="175" stroke="#aaa" stroke-width="0.6"/>
<line x1="411.3" y1="174.02" x2="414.3" y2="174.02" stroke="#777" stroke-width="0.8"/>
<rect x="406.3" y="172.52" width="3.5" height="2.5" fill="#bbb"/>
<line x1="412.8" y1="167.61" x2="414.3" y2="167.61" stroke="#aaa" stroke-width="0.6"/>
<line x1="412.8" y1="163.85" x2="414.3" y2="163.85" stroke="#aaa" stroke-width="0.6"/>
<line x1="412.8" y1="161.19" x2="414.3" y2="161.19" stroke="#aaa" stroke-width="0.6"/>
<line x1="412.8" y1="159.12" x2="414.3" y2="159.12" stroke="#aaa" stroke-width="0.6"/>
<line x1="412.8" y1="157.43" x2="414.3" y2="157.43" stroke="#aaa" stroke-width="0.6"/>
<line x1="412.8" y1="156" x2="414.3" y2="156" stroke="#aaa" stroke-width="0.6"/>
<line x1="412.8" y1="154.77" x2="414.3" y2="154.77" stroke="#aaa" stroke-width="0.6"/>
<line x1="412.8" y1="153.68" x2="414.3" y2="153.68" stroke="#aaa" stroke-width="0.6"/>
<line x1="411.3" y1="152.7" x2="414.3" y2="152.7" stroke="#777" stroke-width="0.8"/>
<rect x="406.3" y="151.2" width="3.5" height="2.5" fill="#bbb"/>
<line x1="414.3" y1="238" x2="414.3" y2="241" stroke="#777" stroke-width="0.8"/>
<rect x="412.3" y="242.5" width="4" height="2.5" fill="#bbb"/>
<line x1="421.18" y1="238" x2="421.18" y2="239.5" stroke="#aaa" stroke-width="0.6"/>
<line x1="425.2" y1="238" x2="425.2" y2="239.5" stroke="#aaa" stroke-width="0.6"/>
<line x1="428.06" y1="238" x2="428.06" y2="239.5" stroke="#aaa" stroke-width="0.6"/>
<line x1="430.27" y1="238" x2="430.27" y2="239.5" stroke="#aaa" stroke-width="0.6"/>
<line x1="432.08" y1="238" x2="432.08" y2="239.5" stroke="#aaa" stroke-width="0.6"/>
<line x1="433.61" y1="238" x2="433.61" y2="239.5" stroke="#aaa" stroke-width="0.6"/>
<line x1="434.94" y1="238" x2="434.94" y2="239.5" stroke="#aaa" stroke-width="0.6"/>
<line x1="436.1" y1="238" x2="436.1" y2="239.5" stroke="#aaa" stroke-width="0.6"/>
<line x1="437.15" y1="238" x2="437.15" y2="241" stroke="#777" stroke-width="0.8"/>
<rect x="435.15" y="242.5" width="4" height="2.5" fill="#bbb"/>
<line x1="444.03" y1="238" x2="444.03" y2="239.5" stroke="#aaa" stroke-width="0.6"/>
<line x1="448.05" y1="238" x2="448.05" y2="239.5" stroke="#aaa" stroke-width="0.6"/>
<line x1="450.91" y1="238" x2="450.91" y2="239.5" stroke="#aaa" stroke-width="0.6"/>
<line x1="453.12" y1="238" x2="453.12" y2="239.5" stroke="#aaa" stroke-width="0.6"/>
<line x1="454.93" y1="238" x2="454.93" y2="239.5" stroke="#aaa" stroke-width="0.6"/>
<line x1="456.46" y1="238" x2="456.46" y2="239.5" stroke="#aaa" stroke-width="0.6"/>
<line x1="457.79" y1="238" x2="457.79" y2="239.5" stroke="#aaa" stroke-width="0.6"/>
<line x1="458.95" y1="238" x2="458.95" y2="239.5" stroke="#aaa" stroke-width="0.6"/>
<line x1="460" y1="238" x2="460" y2="241" stroke="#777" stroke-width="0.8"/>
<rect x="458" y="242.5" width="4" height="2.5" fill="#bbb"/>
<line x1="466.88" y1="238" x2="466.88" y2="239.5" stroke="#aaa" stroke-width="0.6"/>
<line x1="470.9" y1="238" x2="470.9" y2="239.5" stroke="#aaa" stroke-width="0.6"/>
<line x1="473.76" y1="238" x2="473.76" y2="239.5" stroke="#aaa" stroke-width="0.6"/>
<line x1="475.97" y1="238" x2="475.97" y2="239.5" stroke="#aaa" stroke-width="0.6"/>
<line x1="477.78" y1="238" x2="477.78" y2="239.5" stroke="#aaa" stroke-width="0.6"/>
<line x1="479.31" y1="238" x2="479.31" y2="239.5" stroke="#aaa" stroke-width="0.6"/>
<line x1="480.64" y1="238" x2="480.64" y2="239.5" stroke="#aaa" stroke-width="0.6"/>
<line x1="481.8" y1="238" x2="481.8" y2="239.5" stroke="#aaa" stroke-width="0.6"/>
<line x1="482.85" y1="238" x2="482.85" y2="241" stroke="#777" stroke-width="0.8"/>
<rect x="480.85" y="242.5" width="4" height="2.5" fill="#bbb"/>
<line x1="489.73" y1="238" x2="489.73" y2="239.5" stroke="#aaa" stroke-width="0.6"/>
<line x1="493.75" y1="238" x2="493.75" y2="239.5" stroke="#aaa" stroke-width="0.6"/>
<line x1="496.61" y1="238" x2="496.61" y2="239.5" stroke="#aaa" stroke-width="0.6"/>
<line x1="498.82" y1="238" x2="498.82" y2="239.5" stroke="#aaa" stroke-width="0.6"/>
<line x1="500.63" y1="238" x2="500.63" y2="239.5" stroke="#aaa" stroke-width="0.6"/>
<line x1="502.16" y1="238" x2="502.16" y2="239.5" stroke="#aaa" stroke-width="0.6"/>
<line x1="503.49" y1="238" x2="503.49" y2="239.5" stroke="#aaa" stroke-width="0.6"/>
<line x1="504.65" y1="238" x2="504.65" y2="239.5" stroke="#aaa" stroke-width="0.6"/>
<line x1="505.7" y1="238" x2="505.7" y2="241" stroke="#777" stroke-width="0.8"/>
<rect x="503.7" y="242.5" width="4" height="2.5" fill="#bbb"/>
<rect x="414.3" y="152.7" width="91.4" height="85.3" fill="none" stroke="#a2a2a2" stroke-width="1"/>
<ellipse cx="440" cy="214" rx="13" ry="19" transform="rotate(25 440 214)" fill="url(#cg)" opacity="0.637" clip-path="url(#c7)"/>
<ellipse cx="452" cy="192" rx="7" ry="11" transform="rotate(20 452 192)" fill="url(#cg)" opacity="0.552" clip-path="url(#c7)"/>
<ellipse cx="463" cy="180" rx="10" ry="4" transform="rotate(-28 463 180)" fill="url(#cg)" opacity="0.425" clip-path="url(#c7)"/>
<path d="M440.2 222.8h1.15M443.7 231.5h1.15M441.7 206.6h1.15M438.7 197.4h1.15M443.4 216.6h1.15M429.0 214.2h1.15M430.3 215.5h1.15M432.0 214.6h1.15M435.6 208.3h1.15M433.3 223.1h1.15M442.5 210.2h1.15M434.4 214.0h1.15M440.4 214.8h1.15M421.1 229.7h1.15M441.3 208.0h1.15M443.7 204.0h1.15M440.8 218.5h1.15M443.5 219.4h1.15M419.2 221.3h1.15M449.0 210.5h1.15M440.1 202.0h1.15M445.5 208.0h1.15M439.2 208.7h1.15M436.8 222.4h1.15M433.0 217.3h1.15M438.6 212.8h1.15M430.7 224.7h1.15M449.7 201.1h1.15M428.9 216.6h1.15M452.1 224.9h1.15M440.2 198.5h1.15M441.9 223.2h1.15M428.0 229.9h1.15M442.1 209.8h1.15M444.2 215.8h1.15M440.8 226.2h1.15M420.9 216.7h1.15M450.0 226.8h1.15M441.8 206.7h1.15M439.8 229.2h1.15M443.9 218.9h1.15M442.6 221.5h1.15M452.0 220.0h1.15M432.7 206.9h1.15M437.3 199.8h1.15M456.9 198.3h1.15M446.2 214.7h1.15M445.0 215.0h1.15M442.4 226.9h1.15M449.3 226.2h1.15M451.8 218.1h1.15M433.9 225.9h1.15M444.4 221.3h1.15M443.8 210.5h1.15M439.4 223.6h1.15M433.0 220.0h1.15M436.9 217.6h1.15M438.6 204.6h1.15M437.6 207.8h1.15M452.6 210.3h1.15M435.0 209.2h1.15M447.1 209.1h1.15M429.6 217.5h1.15M444.7 222.0h1.15M447.0 230.9h1.15M442.3 210.9h1.15M435.6 229.1h1.15M434.4 209.6h1.15M434.0 216.8h1.15M437.0 215.8h1.15M442.4 219.7h1.15M443.5 218.3h1.15M437.6 223.9h1.15M430.2 192.0h1.15M443.6 197.3h1.15M432.0 204.8h1.15M439.3 213.9h1.15M435.5 217.5h1.15M440.8 206.0h1.15M435.1 215.6h1.15M445.1 216.0h1.15M440.2 223.5h1.15M435.2 219.6h1.15M441.4 204.9h1.15M454.1 223.8h1.15M442.8 231.9h1.15M447.8 217.8h1.15M439.9 214.1h1.15M435.7 231.9h1.15M440.3 210.2h1.15M437.5 218.5h1.15M447.6 203.6h1.15M430.2 222.2h1.15M434.5 212.7h1.15M438.8 214.4h1.15M446.7 191.2h1.15M439.0 224.9h1.15M435.0 203.6h1.15M444.0 207.4h1.15M443.5 206.5h1.15M445.7 205.0h1.15M431.4 200.8h1.15M438.3 226.1h1.15M436.9 217.1h1.15M442.9 209.5h1.15M439.2 220.0h1.15M447.7 201.9h1.15M431.6 222.6h1.15M431.0 221.1h1.15M443.7 219.1h1.15M445.8 215.4h1.15M442.3 201.7h1.15M429.5 213.7h1.15M441.9 202.5h1.15M444.1 208.1h1.15M435.7 225.4h1.15M446.0 205.5h1.15M446.3 218.6h1.15M444.0 213.1h1.15M436.3 209.6h1.15M430.9 206.1h1.15M435.3 219.0h1.15M418.4 215.3h1.15M444.1 218.8h1.15M436.2 225.7h1.15M446.6 204.5h1.15M437.2 209.8h1.15M430.5 207.1h1.15M438.1 216.3h1.15M447.8 216.4h1.15M449.2 216.3h1.15M435.1 218.8h1.15M452.2 213.3h1.15M438.7 213.7h1.15M433.1 223.0h1.15M442.8 223.4h1.15M434.7 214.2h1.15M425.7 204.3h1.15M453.3 206.8h1.15M435.0 220.5h1.15M423.5 211.1h1.15M438.4 218.7h1.15M440.5 214.2h1.15M422.1 204.8h1.15M438.9 214.1h1.15M429.3 227.6h1.15M439.9 211.0h1.15M431.2 214.2h1.15M439.2 219.9h1.15M433.1 222.4h1.15M445.9 215.2h1.15M441.0 214.3h1.15M435.4 214.4h1.15M443.0 220.0h1.15M441.9 202.0h1.15M430.4 228.1h1.15M443.9 195.9h1.15M440.1 210.9h1.15M452.9 194.4h1.15M450.4 208.9h1.15M442.3 232.1h1.15M428.9 210.8h1.15M444.7 214.0h1.15M452.7 225.0h1.15M442.6 213.5h1.15M425.1 214.1h1.15M437.0 205.0h1.15M441.0 215.7h1.15M435.1 217.6h1.15M448.9 216.0h1.15M430.0 232.8h1.15M448.2 212.6h1.15M444.5 215.0h1.15M444.6 184.9h1.15M434.1 229.6h1.15M452.9 201.9h1.15M434.6 223.6h1.15M441.8 224.7h1.15M445.6 210.8h1.15M445.3 211.9h1.15M429.1 213.3h1.15M454.5 197.7h1.15M432.2 220.3h1.15M447.6 199.2h1.15M443.9 208.6h1.15M451.9 206.6h1.15M436.7 208.3h1.15M440.6 211.4h1.15M443.4 205.4h1.15M445.6 203.2h1.15M433.1 219.5h1.15M436.0 213.3h1.15M432.9 227.7h1.15M435.3 236.4h1.15M434.6 211.0h1.15M438.7 222.6h1.15M435.3 216.7h1.15M423.4 234.0h1.15M455.9 213.3h1.15M450.9 214.9h1.15M449.6 216.4h1.15M434.8 216.4h1.15M438.9 191.4h1.15M459.6 213.2h1.15M428.1 215.7h1.15M449.6 219.7h1.15M454.0 204.3h1.15M430.3 203.0h1.15M426.0 225.1h1.15M434.2 215.7h1.15M451.3 203.2h1.15M438.3 205.1h1.15M430.4 231.9h1.15M440.1 201.1h1.15M441.0 213.4h1.15M450.8 199.5h1.15M439.7 217.8h1.15M445.2 211.2h1.15M427.2 203.9h1.15M437.4 226.1h1.15M448.2 227.4h1.15M447.3 209.6h1.15M442.7 210.5h1.15M450.7 201.5h1.15M440.3 212.6h1.15M430.7 226.4h1.15M447.4 207.6h1.15M441.0 204.5h1.15M436.6 209.2h1.15M435.2 234.3h1.15M435.4 209.9h1.15M434.1 222.1h1.15M436.0 212.7h1.15M432.6 214.9h1.15M432.2 218.5h1.15M449.6 226.2h1.15M429.4 227.6h1.15M446.7 214.7h1.15M428.7 223.5h1.15M448.6 214.5h1.15M439.2 210.7h1.15M432.5 223.0h1.15M439.3 206.1h1.15M446.5 197.3h1.15M434.4 226.1h1.15M441.7 221.8h1.15M432.7 202.1h1.15M436.3 232.1h1.15M439.8 197.8h1.15M444.4 222.7h1.15M440.4 230.5h1.15M440.2 208.2h1.15M453.5 220.1h1.15M434.1 217.4h1.15M444.1 207.3h1.15M445.3 210.9h1.15M446.1 209.9h1.15M436.7 208.6h1.15M438.8 212.1h1.15M432.6 219.6h1.15M433.9 201.7h1.15M423.4 208.6h1.15M439.6 229.9h1.15M434.2 217.1h1.15M432.8 221.1h1.15M431.7 212.4h1.15M449.6 200.9h1.15M426.4 220.0h1.15M438.7 213.0h1.15M453.4 201.3h1.15M438.5 204.5h1.15M460.8 208.2h1.15M438.3 212.6h1.15M435.5 212.4h1.15M429.8 213.6h1.15M438.3 218.5h1.15M429.6 211.0h1.15M429.1 207.1h1.15M456.6 222.7h1.15M431.9 221.8h1.15M436.9 210.2h1.15M452.2 214.0h1.15M446.5 215.9h1.15M431.8 211.3h1.15M441.4 221.0h1.15M439.4 194.0h1.15M443.2 220.6h1.15M433.2 211.4h1.15M436.5 220.4h1.15M437.3 217.5h1.15M437.5 218.0h1.15M450.2 209.2h1.15M433.7 212.6h1.15M440.4 206.4h1.15M452.8 203.1h1.15M435.1 226.2h1.15M418.4 229.1h1.15M438.4 217.6h1.15M432.0 237.5h1.15M436.6 201.4h1.15M429.1 211.3h1.15M430.2 216.5h1.15M438.9 198.8h1.15M450.0 214.3h1.15M443.4 211.0h1.15M434.5 236.0h1.15M444.0 222.0h1.15M434.5 226.5h1.15M426.3 231.5h1.15M444.2 229.6h1.15M446.8 215.4h1.15M447.9 204.6h1.15M435.5 226.4h1.15M440.6 222.3h1.15M441.8 219.2h1.15M448.4 210.5h1.15M447.6 209.6h1.15M432.2 223.6h1.15M419.6 228.7h1.15M442.9 218.3h1.15M435.9 226.3h1.15M435.6 216.8h1.15M434.9 198.3h1.15M435.0 210.1h1.15M434.6 212.8h1.15M443.7 219.5h1.15M426.4 221.8h1.15M423.9 219.9h1.15M441.0 222.2h1.15M437.7 231.6h1.15M438.8 227.0h1.15M429.3 209.7h1.15M434.8 211.4h1.15M447.9 214.9h1.15M439.0 226.7h1.15M436.8 213.3h1.15M445.4 221.0h1.15M442.1 206.0h1.15M438.9 208.1h1.15M445.2 198.3h1.15M427.5 204.2h1.15M432.0 217.4h1.15M445.3 218.4h1.15M447.6 199.9h1.15M431.2 216.3h1.15M438.6 212.3h1.15M428.4 206.9h1.15M440.0 218.4h1.15M430.6 211.2h1.15M431.6 219.3h1.15M463.1 212.2h1.15M443.6 216.1h1.15M434.3 220.4h1.15M450.0 211.5h1.15M437.5 212.5h1.15M455.4 193.5h1.15M436.6 222.8h1.15M451.0 222.0h1.15M437.2 220.7h1.15M450.6 208.2h1.15M433.9 215.3h1.15M446.1 215.3h1.15M444.8 201.8h1.15M419.0 224.7h1.15M433.5 216.6h1.15M438.5 217.5h1.15M422.5 214.8h1.15M442.5 206.3h1.15M428.5 228.7h1.15M445.1 209.1h1.15M436.1 222.1h1.15M446.6 206.7h1.15M440.7 200.8h1.15M446.9 205.3h1.15M447.7 221.4h1.15M431.8 233.1h1.15M434.3 204.1h1.15M442.2 196.4h1.15M453.8 199.2h1.15M444.5 209.9h1.15M443.2 206.5h1.15M445.0 203.5h1.15M437.8 212.0h1.15M438.8 220.0h1.15M444.9 230.4h1.15M446.5 212.8h1.15M429.9 214.6h1.15M440.2 211.0h1.15M441.2 215.3h1.15M442.7 228.1h1.15M429.8 224.4h1.15M434.4 208.1h1.15M428.7 207.7h1.15M426.4 219.5h1.15M432.9 199.8h1.15M441.4 221.6h1.15M440.8 216.0h1.15M433.9 209.2h1.15M438.7 220.5h1.15M435.1 235.1h1.15M435.0 208.6h1.15M435.2 208.1h1.15M436.9 214.0h1.15M448.4 217.7h1.15M446.2 194.8h1.15M440.4 217.7h1.15M437.5 220.8h1.15M437.6 224.5h1.15M448.5 206.3h1.15M443.0 203.9h1.15M455.0 212.0h1.15M441.3 227.9h1.15M453.0 215.2h1.15M434.7 209.3h1.15M441.9 220.8h1.15M440.6 217.8h1.15M445.7 205.0h1.15M427.8 222.5h1.15M425.0 230.5h1.15M437.1 221.2h1.15M432.0 237.5h1.15M444.5 212.4h1.15M441.4 214.7h1.15M441.6 204.4h1.15M435.0 227.6h1.15M435.6 226.5h1.15M443.6 205.4h1.15M455.6 209.0h1.15M438.6 221.5h1.15M445.1 218.3h1.15M442.6 220.7h1.15M441.4 224.6h1.15M429.1 235.4h1.15M444.9 207.7h1.15M437.2 212.9h1.15M447.4 226.4h1.15M442.5 222.0h1.15M436.9 221.4h1.15M437.4 221.7h1.15M445.0 214.3h1.15M439.2 208.3h1.15M455.4 212.6h1.15M424.8 206.5h1.15M446.2 194.9h1.15M437.1 213.3h1.15M446.5 228.0h1.15M446.9 215.7h1.15M455.9 207.1h1.15M428.6 227.1h1.15M447.3 202.5h1.15M438.3 218.1h1.15M434.0 220.1h1.15M434.1 211.1h1.15M432.8 217.5h1.15M440.2 222.1h1.15M439.8 207.4h1.15M454.8 208.3h1.15M433.4 214.5h1.15M439.2 195.9h1.15M443.9 210.1h1.15M438.6 218.0h1.15M445.4 214.6h1.15M426.5 220.7h1.15M430.3 227.8h1.15M445.4 219.0h1.15M449.7 223.3h1.15M429.3 230.0h1.15M441.6 210.7h1.15M428.8 228.7h1.15M440.8 205.1h1.15M440.1 220.3h1.15M431.1 221.6h1.15M439.1 196.6h1.15M441.5 202.9h1.15M431.9 208.8h1.15M440.8 216.7h1.15M434.2 209.4h1.15M444.8 211.5h1.15M434.0 219.3h1.15M439.2 198.5h1.15M442.0 222.6h1.15M441.3 199.5h1.15M442.4 209.8h1.15M442.7 204.7h1.15M444.4 212.6h1.15M454.9 201.4h1.15M438.0 210.1h1.15M432.6 220.5h1.15M444.1 212.6h1.15M432.1 217.0h1.15M430.7 207.4h1.15M443.4 218.4h1.15M443.4 223.2h1.15M438.7 199.2h1.15M441.3 209.4h1.15M440.6 215.5h1.15M436.9 228.4h1.15M438.9 206.1h1.15M440.7 204.6h1.15M433.9 221.3h1.15M435.8 215.6h1.15M441.1 209.2h1.15M431.3 199.1h1.15M451.1 201.7h1.15M436.9 232.2h1.15M443.7 217.6h1.15M431.6 227.8h1.15M444.1 216.3h1.15M434.2 212.6h1.15M439.9 213.6h1.15M445.9 212.8h1.15M437.5 232.7h1.15M445.3 198.5h1.15M447.7 210.5h1.15M426.1 217.1h1.15M434.6 213.0h1.15M437.3 206.2h1.15M449.0 197.2h1.15M441.6 212.0h1.15M434.4 208.8h1.15M443.4 219.5h1.15M449.1 220.2h1.15M437.8 220.9h1.15M445.3 211.2h1.15M441.5 201.0h1.15M439.0 211.5h1.15M434.2 232.7h1.15M433.0 218.0h1.15M437.7 214.3h1.15M443.8 198.6h1.15M445.6 215.9h1.15M443.2 192.6h1.15M447.6 209.3h1.15M448.5 215.4h1.15M434.0 206.8h1.15M438.0 224.5h1.15M428.4 209.4h1.15M435.5 209.3h1.15M442.3 215.5h1.15M438.5 223.7h1.15M447.1 217.0h1.15M425.2 220.4h1.15M433.2 231.8h1.15M444.4 224.1h1.15M449.6 214.2h1.15M436.7 221.4h1.15M444.2 209.1h1.15M447.4 213.8h1.15M443.7 227.5h1.15M445.0 201.2h1.15M445.3 218.4h1.15M424.8 209.7h1.15M442.5 223.0h1.15M429.4 222.8h1.15M433.0 214.9h1.15M431.0 212.5h1.15M443.9 219.5h1.15M435.9 222.3h1.15M433.6 219.2h1.15M428.2 222.2h1.15M430.6 237.5h1.15M442.4 220.7h1.15M444.1 201.3h1.15M434.4 221.1h1.15M442.1 205.8h1.15M452.8 198.6h1.15M439.8 228.6h1.15M434.9 227.0h1.15M450.2 210.5h1.15M446.2 211.1h1.15M432.6 225.3h1.15M430.5 221.2h1.15M436.5 221.1h1.15M438.3 211.1h1.15M437.9 219.1h1.15M440.3 209.4h1.15M429.3 231.8h1.15M433.0 210.3h1.15M431.3 223.0h1.15M444.4 207.0h1.15M440.0 220.6h1.15M441.8 204.1h1.15M444.7 214.2h1.15M442.1 205.6h1.15M430.8 228.2h1.15M434.8 219.9h1.15M431.7 215.1h1.15M449.1 235.7h1.15M432.2 217.9h1.15M440.2 219.8h1.15M438.9 218.6h1.15M432.5 207.0h1.15M445.0 210.7h1.15M449.6 202.5h1.15M442.4 219.0h1.15M435.1 234.3h1.15M440.9 211.7h1.15M437.1 220.5h1.15M438.0 205.9h1.15M453.6 214.3h1.15M435.0 221.5h1.15M433.0 211.9h1.15M443.2 209.8h1.15M449.3 208.7h1.15M419.6 223.6h1.15M427.2 224.7h1.15M454.5 216.7h1.15M446.7 217.2h1.15M449.2 198.9h1.15M432.9 223.5h1.15M452.7 211.9h1.15M428.8 228.0h1.15M441.3 223.2h1.15M436.2 209.3h1.15M447.3 219.6h1.15M436.5 202.9h1.15M439.2 218.6h1.15M445.6 221.7h1.15M442.9 218.4h1.15M433.2 212.2h1.15M440.2 209.9h1.15M433.3 210.9h1.15M435.4 235.9h1.15M458.9 212.3h1.15M438.5 217.0h1.15M443.6 194.5h1.15M433.4 219.8h1.15M447.2 205.5h1.15M434.7 203.3h1.15M428.8 207.3h1.15M432.1 205.3h1.15M446.4 219.1h1.15M448.2 211.9h1.15M441.5 203.3h1.15M442.4 214.6h1.15M436.2 220.0h1.15M459.6 202.6h1.15M438.1 222.8h1.15M433.9 227.4h1.15M441.3 207.7h1.15M446.8 207.7h1.15M433.3 212.3h1.15M437.5 214.9h1.15M452.8 228.3h1.15M434.2 222.5h1.15M445.3 216.5h1.15M445.4 230.0h1.15M428.4 219.3h1.15M436.3 219.0h1.15M434.4 231.1h1.15M431.9 207.5h1.15M443.8 202.8h1.15M440.2 208.8h1.15M438.0 225.2h1.15M444.4 210.7h1.15M449.3 199.3h1.15M441.2 210.5h1.15M441.8 230.6h1.15M438.8 217.0h1.15M434.2 204.0h1.15M449.9 204.2h1.15M436.8 207.8h1.15M445.4 213.9h1.15M435.9 214.9h1.15M433.8 204.7h1.15M433.7 211.3h1.15M446.4 222.6h1.15M447.9 223.9h1.15M435.8 198.5h1.15M439.8 199.3h1.15M426.6 234.7h1.15M435.3 205.9h1.15M424.9 222.4h1.15M437.9 204.0h1.15M435.8 200.7h1.15M443.8 216.5h1.15M445.3 215.6h1.15M427.2 216.5h1.15M445.2 208.4h1.15M431.8 224.1h1.15M432.5 213.2h1.15M438.5 216.2h1.15M446.4 214.0h1.15M450.1 212.0h1.15M440.8 220.0h1.15M434.5 217.9h1.15M443.6 228.4h1.15M435.7 213.6h1.15M430.5 209.2h1.15M446.8 208.3h1.15M438.7 217.6h1.15M435.6 206.0h1.15M444.3 217.0h1.15M445.1 222.1h1.15M440.8 208.0h1.15M436.1 220.5h1.15M448.7 207.4h1.15M434.6 223.0h1.15M438.5 216.9h1.15M451.0 203.9h1.15" stroke="#000" stroke-width="1.15" stroke-opacity="0.5700000000000001" fill="none"/>
<path d="M447.9 197.0h1.15M455.2 190.9h1.15M453.7 177.0h1.15M445.0 202.0h1.15M440.5 207.0h1.15M451.9 195.8h1.15M452.2 185.8h1.15M442.1 192.6h1.15M451.6 196.6h1.15M450.3 187.9h1.15M448.1 192.3h1.15M450.0 183.3h1.15M457.3 198.1h1.15M455.5 191.1h1.15M454.3 186.8h1.15M463.5 185.4h1.15M452.6 185.1h1.15M448.6 194.9h1.15M462.4 184.3h1.15M454.1 176.9h1.15M449.7 194.0h1.15M434.7 189.5h1.15M447.3 182.5h1.15M450.8 185.6h1.15M448.2 191.2h1.15M439.3 199.6h1.15M458.1 189.6h1.15M452.5 186.0h1.15M449.9 178.8h1.15M458.6 204.0h1.15M451.4 194.0h1.15M455.3 194.5h1.15M453.0 187.0h1.15M459.6 190.5h1.15M453.0 202.5h1.15M449.3 202.7h1.15M457.3 198.3h1.15M444.7 198.8h1.15M454.7 196.9h1.15M448.7 193.8h1.15M438.4 196.6h1.15M460.6 199.6h1.15M443.6 200.5h1.15M456.5 184.8h1.15M447.4 177.3h1.15M442.7 193.5h1.15M447.5 191.3h1.15M453.8 192.8h1.15M459.3 191.2h1.15M450.9 205.8h1.15M457.0 197.0h1.15M459.4 191.9h1.15M458.9 189.1h1.15M455.4 177.4h1.15M456.1 190.6h1.15M451.2 198.4h1.15M455.5 203.3h1.15M438.1 195.9h1.15M453.4 197.9h1.15M449.6 187.0h1.15M452.4 186.7h1.15M459.2 197.7h1.15M448.3 189.3h1.15M453.0 189.2h1.15M447.2 198.6h1.15M457.4 186.5h1.15M444.9 192.1h1.15M456.1 190.7h1.15M450.7 200.3h1.15M452.2 196.4h1.15M451.1 185.0h1.15M451.4 192.4h1.15M460.2 192.7h1.15M450.2 184.4h1.15M439.5 190.3h1.15M462.0 194.8h1.15M450.5 182.9h1.15M454.9 190.9h1.15M445.8 190.3h1.15M446.0 198.9h1.15M445.8 181.5h1.15M446.6 192.0h1.15M451.2 191.7h1.15M452.3 192.7h1.15M460.9 185.1h1.15M453.4 187.0h1.15M450.5 188.9h1.15M447.1 188.2h1.15M451.6 188.7h1.15M457.9 190.0h1.15M453.3 192.7h1.15M454.6 179.6h1.15M454.6 192.9h1.15M442.8 202.8h1.15M451.9 188.7h1.15M449.9 187.6h1.15M453.1 189.3h1.15M453.1 185.2h1.15M451.6 196.9h1.15M460.1 178.0h1.15M452.7 192.0h1.15M458.1 187.4h1.15M450.1 192.8h1.15M453.2 183.6h1.15M449.6 200.4h1.15M457.5 202.8h1.15M458.5 184.6h1.15M454.1 192.8h1.15M440.4 189.8h1.15M458.3 188.4h1.15M453.4 198.3h1.15M447.4 187.5h1.15M449.1 196.3h1.15M448.7 196.3h1.15M454.3 192.0h1.15M448.1 211.2h1.15M451.7 193.5h1.15M445.3 195.7h1.15M450.8 179.2h1.15M452.3 191.7h1.15M454.0 188.0h1.15M448.2 182.0h1.15M453.2 199.1h1.15M456.4 190.6h1.15M450.0 181.7h1.15M449.2 193.9h1.15M451.6 190.6h1.15M457.0 190.3h1.15M449.7 190.0h1.15M447.6 188.8h1.15M451.2 189.2h1.15M447.3 199.5h1.15M455.8 182.7h1.15M460.4 198.2h1.15M444.6 196.0h1.15M459.9 193.7h1.15M447.9 195.2h1.15M446.6 189.8h1.15M452.8 200.1h1.15M454.1 189.1h1.15M449.5 185.1h1.15M448.8 205.3h1.15M453.0 202.4h1.15M457.1 201.1h1.15M446.9 201.7h1.15M451.3 182.4h1.15M453.8 187.0h1.15M445.0 193.3h1.15M452.8 185.1h1.15M445.2 198.0h1.15M454.2 198.1h1.15M444.1 195.9h1.15M450.0 193.7h1.15M452.2 186.1h1.15M452.3 193.3h1.15M457.1 191.3h1.15M451.7 194.2h1.15M448.1 188.0h1.15M455.6 196.2h1.15M446.0 189.5h1.15M451.6 192.6h1.15M451.3 191.6h1.15M447.4 190.1h1.15M457.1 187.2h1.15M451.8 195.5h1.15M454.3 188.2h1.15M449.4 187.4h1.15M447.9 197.4h1.15M450.0 186.7h1.15M447.4 196.6h1.15M463.5 179.9h1.15M456.0 181.1h1.15M443.8 197.4h1.15M451.8 172.6h1.15M451.3 192.4h1.15M445.1 188.8h1.15M440.9 206.4h1.15M450.1 201.6h1.15M464.3 179.4h1.15M443.7 197.1h1.15M452.3 199.2h1.15M453.1 202.3h1.15M450.2 191.0h1.15M456.7 192.6h1.15M461.4 182.4h1.15M448.9 186.9h1.15M451.8 184.2h1.15M451.4 192.3h1.15M457.6 177.7h1.15M453.2 183.7h1.15M455.3 187.7h1.15M445.9 202.8h1.15M457.5 187.9h1.15M446.3 188.3h1.15M446.4 195.2h1.15M455.2 197.6h1.15M454.9 186.7h1.15M453.1 181.1h1.15M451.8 187.9h1.15M444.9 193.0h1.15M452.4 191.3h1.15M452.7 195.4h1.15M453.4 188.5h1.15M448.4 189.5h1.15M452.2 184.9h1.15M447.8 199.7h1.15M461.0 186.2h1.15M445.7 187.4h1.15M459.1 189.4h1.15M448.8 182.5h1.15M453.5 199.1h1.15M448.3 199.6h1.15M453.4 195.8h1.15M444.2 187.9h1.15M463.7 193.9h1.15M448.9 181.7h1.15M449.0 193.5h1.15M445.8 200.4h1.15M450.0 190.1h1.15M449.2 202.3h1.15M456.6 191.0h1.15M443.1 187.1h1.15M454.6 182.0h1.15M445.1 186.1h1.15M450.1 193.7h1.15M457.1 183.6h1.15M456.2 204.1h1.15M446.3 192.0h1.15M452.9 194.5h1.15M457.3 183.2h1.15M448.0 186.8h1.15M443.5 199.4h1.15M453.4 192.3h1.15M446.6 203.0h1.15M452.6 180.3h1.15M452.4 198.1h1.15M450.4 191.9h1.15M449.7 189.5h1.15M444.2 189.4h1.15M456.7 203.5h1.15M453.6 185.7h1.15M454.7 199.6h1.15M435.2 196.5h1.15M445.1 191.6h1.15M449.0 194.7h1.15M448.0 193.6h1.15M448.3 190.7h1.15M454.8 178.7h1.15M451.7 186.6h1.15M456.8 198.1h1.15" stroke="#000" stroke-width="1.15" stroke-opacity="0.5700000000000001" fill="none"/>
<path d="M453.6 189.3h1.15M468.4 179.5h1.15M464.3 177.1h1.15M460.0 182.6h1.15M475.1 174.0h1.15M456.3 186.3h1.15M472.9 174.6h1.15M453.4 185.1h1.15M462.0 182.2h1.15M457.9 183.1h1.15M461.6 182.0h1.15M463.4 179.6h1.15M465.1 180.1h1.15M464.5 175.3h1.15M460.5 180.6h1.15M460.4 187.5h1.15M469.1 172.8h1.15M459.2 184.8h1.15M464.1 183.2h1.15M455.8 182.8h1.15M466.0 178.8h1.15M462.6 183.2h1.15M461.7 182.9h1.15M456.2 183.4h1.15M460.5 183.1h1.15M455.6 181.9h1.15M460.4 177.1h1.15M466.5 179.7h1.15M456.1 179.9h1.15M467.9 174.5h1.15M456.1 181.1h1.15M463.2 183.3h1.15M460.3 183.0h1.15M467.5 184.3h1.15M466.3 177.5h1.15M460.6 180.9h1.15M463.4 177.5h1.15M463.9 177.6h1.15M454.9 183.7h1.15M452.3 181.9h1.15M460.5 177.8h1.15M459.4 183.4h1.15M454.3 185.8h1.15M466.7 178.2h1.15M461.2 179.4h1.15M462.8 177.3h1.15M464.5 177.5h1.15M461.5 175.0h1.15M460.9 184.1h1.15M461.5 173.8h1.15M452.1 182.8h1.15M470.4 171.0h1.15M465.2 181.5h1.15M456.3 180.7h1.15M468.4 179.0h1.15M467.0 175.9h1.15M465.1 180.8h1.15M466.0 176.5h1.15M466.4 179.1h1.15M459.5 180.8h1.15M456.9 183.1h1.15M459.6 179.5h1.15M465.7 181.2h1.15M466.4 181.2h1.15M456.4 186.6h1.15M466.1 181.2h1.15M462.6 181.4h1.15M467.7 179.9h1.15M455.5 183.2h1.15M461.2 179.6h1.15M473.2 173.1h1.15M463.0 181.4h1.15M462.5 178.8h1.15M459.0 179.9h1.15M464.8 178.4h1.15M459.9 181.4h1.15M469.1 179.7h1.15M462.4 178.4h1.15M465.2 178.5h1.15M462.2 182.2h1.15M463.8 183.1h1.15M471.4 175.6h1.15M464.6 172.4h1.15M460.4 179.9h1.15M462.4 181.5h1.15M467.8 175.6h1.15M458.7 177.3h1.15M459.4 174.2h1.15M465.3 180.9h1.15M456.1 184.0h1.15M458.7 182.0h1.15M461.1 184.6h1.15M471.5 177.6h1.15M467.4 178.9h1.15M464.1 177.8h1.15M459.0 181.6h1.15M468.5 179.3h1.15M465.7 176.5h1.15M465.6 177.0h1.15M456.1 178.2h1.15M467.6 181.4h1.15M462.6 182.7h1.15M470.8 180.3h1.15M462.4 182.8h1.15M464.3 176.6h1.15M456.0 181.7h1.15M462.5 177.0h1.15M464.5 177.6h1.15M463.1 179.6h1.15M463.4 176.3h1.15M464.0 178.0h1.15M470.5 178.3h1.15M459.6 182.7h1.15M464.8 175.6h1.15M465.5 181.9h1.15M461.0 180.3h1.15M455.7 183.0h1.15M468.7 182.2h1.15M459.1 184.3h1.15M461.5 183.3h1.15" stroke="#000" stroke-width="1.15" stroke-opacity="0.5700000000000001" fill="none"/>
<path d="M459.0 208.3h1.15M433.1 212.2h1.15M434.2 216.3h1.15M478.5 202.1h1.15M460.3 228.9h1.15M462.0 197.1h1.15M455.5 205.9h1.15M466.8 197.4h1.15M437.4 195.9h1.15M438.6 176.7h1.15M446.0 213.0h1.15M440.8 206.1h1.15M468.0 193.7h1.15M452.4 209.8h1.15M439.5 212.2h1.15M442.2 203.4h1.15M452.2 216.1h1.15M460.5 234.1h1.15M464.9 199.6h1.15M439.5 195.8h1.15M447.3 218.8h1.15M450.1 213.0h1.15M440.6 227.4h1.15M461.8 217.7h1.15M431.6 210.1h1.15M457.8 216.7h1.15M459.0 191.5h1.15M441.3 198.5h1.15M456.7 231.1h1.15M458.8 218.0h1.15M438.2 217.0h1.15M456.5 213.7h1.15M428.5 202.8h1.15M452.8 191.6h1.15M454.9 207.7h1.15M439.8 222.3h1.15M452.0 218.9h1.15M429.6 210.0h1.15M437.7 233.4h1.15M439.9 178.7h1.15M425.4 205.0h1.15M416.5 191.8h1.15M430.4 234.1h1.15M418.8 209.0h1.15M447.1 198.7h1.15M430.7 201.5h1.15M452.0 221.8h1.15M457.5 206.4h1.15M460.0 225.6h1.15M424.1 213.3h1.15M457.1 222.2h1.15M425.9 215.8h1.15M425.6 212.8h1.15M451.8 209.5h1.15M457.6 214.3h1.15M447.3 212.5h1.15M444.2 183.4h1.15M454.1 210.3h1.15M447.9 223.3h1.15M450.5 209.7h1.15M430.4 221.0h1.15M448.5 222.1h1.15M438.0 189.7h1.15M451.0 189.2h1.15M440.3 216.5h1.15M466.5 212.2h1.15M451.1 189.1h1.15M432.2 201.3h1.15M460.1 214.5h1.15M454.0 217.6h1.15M446.4 191.5h1.15M467.8 192.7h1.15M438.2 177.7h1.15M458.6 228.8h1.15M431.7 196.9h1.15M457.2 221.4h1.15M464.1 197.5h1.15M468.0 199.7h1.15M458.3 215.7h1.15M457.9 191.5h1.15M427.9 211.0h1.15M433.2 218.4h1.15M434.1 222.5h1.15M437.1 205.6h1.15M454.7 227.3h1.15M428.9 202.7h1.15M430.5 208.3h1.15M457.0 209.8h1.15M432.0 207.6h1.15M434.2 202.9h1.15M440.2 212.0h1.15M435.6 223.0h1.15M425.2 193.9h1.15M457.0 213.9h1.15M445.2 225.5h1.15M473.3 192.2h1.15M438.7 177.7h1.15M423.6 209.9h1.15M460.4 226.8h1.15M442.6 227.7h1.15M446.5 226.7h1.15M420.0 227.5h1.15M419.1 206.6h1.15M443.6 226.6h1.15M431.7 207.9h1.15M441.8 211.5h1.15M452.3 220.2h1.15M436.0 193.3h1.15M442.9 204.1h1.15M451.3 237.5h1.15M450.5 216.5h1.15M428.8 204.6h1.15M465.0 190.2h1.15M430.2 202.3h1.15M414.2 224.2h1.15M457.6 220.3h1.15M446.3 189.2h1.15M467.1 224.5h1.15M466.8 199.9h1.15M459.4 236.4h1.15M446.1 212.0h1.15M437.5 189.5h1.15M447.9 193.1h1.15M448.2 211.7h1.15M429.0 191.2h1.15M429.9 229.6h1.15M432.4 220.7h1.15M435.5 190.3h1.15M439.5 203.9h1.15M434.7 187.4h1.15M444.6 190.3h1.15M435.1 204.2h1.15M484.5 209.0h1.15M443.2 230.4h1.15M444.7 194.2h1.15M441.0 222.6h1.15M459.5 230.9h1.15M414.2 203.7h1.15M454.3 237.5h1.15M433.2 195.8h1.15M448.8 213.2h1.15M436.8 210.1h1.15M437.1 202.4h1.15M463.5 200.4h1.15M472.8 218.4h1.15M440.1 201.1h1.15M428.6 224.9h1.15M456.3 201.2h1.15M457.2 179.0h1.15M464.3 204.3h1.15M447.0 205.0h1.15M437.7 183.3h1.15M427.7 232.3h1.15M427.7 231.5h1.15M435.2 225.6h1.15M439.0 205.1h1.15M456.4 216.5h1.15M425.0 218.3h1.15M479.1 202.0h1.15M460.9 225.7h1.15M448.5 213.5h1.15M470.2 227.5h1.15M439.8 193.6h1.15M425.9 200.8h1.15M457.9 219.7h1.15M447.6 208.1h1.15M443.0 204.7h1.15M435.3 208.1h1.15M449.3 212.3h1.15M414.2 226.6h1.15M454.3 222.0h1.15M439.5 222.5h1.15M447.3 223.8h1.15M452.6 209.0h1.15M457.4 188.2h1.15M422.2 215.4h1.15M414.2 196.4h1.15M468.3 217.7h1.15M453.8 191.6h1.15M449.3 209.2h1.15M425.5 195.0h1.15M461.1 217.6h1.15M453.7 191.0h1.15M424.1 227.5h1.15M453.7 204.9h1.15M444.5 236.0h1.15M444.9 195.2h1.15M485.5 207.9h1.15M432.3 202.3h1.15M446.5 211.2h1.15M432.0 219.3h1.15M453.6 215.1h1.15M460.9 192.6h1.15M439.9 215.1h1.15M474.0 197.4h1.15M446.3 188.9h1.15M439.6 199.8h1.15M443.5 209.7h1.15M440.3 218.1h1.15M463.0 224.4h1.15M432.2 214.3h1.15M448.7 190.4h1.15M429.6 183.1h1.15M450.9 224.1h1.15M466.5 219.8h1.15M444.4 206.5h1.15M441.3 214.5h1.15M452.8 192.6h1.15M444.9 231.7h1.15M472.3 198.2h1.15M442.0 212.0h1.15M436.5 218.0h1.15M440.8 197.9h1.15M451.4 200.7h1.15M471.4 190.0h1.15M440.5 209.0h1.15M451.5 183.2h1.15M460.5 226.9h1.15M455.4 216.7h1.15M442.3 217.9h1.15M417.0 178.0h1.15M414.2 209.3h1.15M443.7 217.3h1.15M438.9 235.4h1.15M438.0 221.5h1.15M458.6 196.1h1.15M420.3 227.2h1.15M450.7 217.3h1.15M431.5 199.0h1.15M433.4 186.5h1.15M440.7 202.0h1.15M442.6 199.9h1.15M454.8 216.6h1.15M431.1 221.0h1.15M460.2 223.3h1.15M414.2 237.5h1.15M416.4 213.3h1.15M451.7 192.2h1.15M441.1 204.9h1.15M477.4 190.2h1.15M449.9 207.2h1.15M447.3 221.9h1.15M449.7 219.6h1.15M460.7 220.7h1.15M453.9 200.9h1.15M459.8 185.8h1.15M417.7 197.5h1.15M444.0 229.2h1.15M443.6 209.0h1.15M456.0 209.1h1.15M418.1 207.2h1.15M436.7 211.0h1.15M474.6 208.2h1.15M431.2 210.5h1.15M457.4 210.4h1.15M469.4 207.0h1.15M457.5 226.2h1.15M459.4 218.4h1.15M447.8 209.0h1.15M414.2 209.7h1.15M457.8 218.8h1.15M453.5 184.4h1.15M425.2 206.0h1.15M422.7 204.6h1.15M466.3 207.3h1.15M446.2 220.1h1.15M422.2 211.2h1.15M447.7 199.2h1.15M446.8 215.7h1.15M444.7 206.5h1.15M460.6 211.0h1.15M459.1 173.0h1.15M443.0 222.9h1.15M450.6 214.7h1.15M453.3 233.4h1.15M438.6 189.0h1.15M446.0 200.7h1.15M462.5 206.6h1.15M441.8 235.2h1.15M444.5 212.6h1.15M444.9 202.7h1.15M473.1 208.5h1.15M424.5 237.5h1.15M428.6 200.5h1.15M437.6 237.5h1.15M435.0 202.5h1.15M439.6 220.9h1.15M427.8 237.5h1.15M425.8 200.8h1.15M444.2 205.0h1.15M423.6 195.2h1.15M474.7 225.8h1.15M441.6 210.1h1.15M459.6 207.7h1.15M463.7 175.4h1.15M456.2 212.4h1.15M431.8 210.7h1.15M441.0 197.1h1.15M429.1 212.0h1.15M447.7 192.8h1.15M421.5 228.6h1.15M414.2 226.2h1.15M449.0 214.5h1.15M434.1 182.3h1.15M457.5 214.0h1.15M441.2 187.8h1.15M422.9 202.8h1.15M458.1 196.7h1.15M437.0 216.6h1.15M430.5 232.3h1.15M453.3 199.6h1.15M448.3 237.5h1.15M458.4 214.7h1.15M425.0 221.9h1.15M466.4 215.3h1.15M454.3 212.3h1.15M420.5 218.5h1.15M452.1 229.1h1.15M453.1 211.2h1.15M442.3 215.2h1.15M451.3 192.8h1.15M452.4 196.2h1.15M441.1 208.8h1.15M456.3 205.1h1.15M426.1 188.8h1.15M432.9 217.1h1.15M446.7 184.8h1.15M457.3 202.4h1.15M435.0 224.1h1.15M425.9 198.2h1.15M454.5 192.6h1.15M444.1 234.1h1.15M449.0 183.7h1.15M456.7 218.3h1.15M453.4 198.9h1.15M446.6 213.3h1.15M443.4 206.7h1.15M435.0 222.8h1.15M452.4 223.6h1.15M443.9 204.6h1.15M434.4 228.6h1.15M430.3 197.7h1.15M441.5 222.8h1.15M460.1 203.5h1.15M440.4 225.3h1.15M459.0 222.1h1.15M464.7 202.7h1.15M473.3 210.7h1.15M445.7 213.6h1.15M441.2 227.0h1.15M489.8 210.7h1.15M442.7 211.1h1.15M427.4 174.8h1.15M453.2 211.2h1.15M455.1 218.9h1.15M441.7 212.4h1.15M469.3 204.4h1.15M440.0 229.3h1.15M417.7 213.3h1.15M446.7 237.5h1.15M442.0 190.5h1.15M424.5 201.8h1.15M475.6 214.2h1.15M434.5 210.7h1.15M429.3 227.4h1.15M446.7 200.5h1.15M414.2 237.5h1.15M458.3 215.4h1.15M467.4 203.6h1.15M428.2 208.1h1.15M467.1 219.9h1.15M441.3 214.6h1.15M450.7 208.8h1.15M421.8 214.2h1.15M429.9 206.3h1.15M443.7 199.5h1.15M439.7 196.1h1.15M473.1 204.1h1.15M449.9 237.5h1.15M431.6 214.4h1.15M450.0 217.0h1.15M454.7 212.3h1.15M427.1 223.8h1.15M463.4 198.0h1.15M479.6 202.2h1.15M452.8 201.5h1.15M463.7 215.1h1.15M416.0 237.5h1.15M480.2 215.3h1.15M439.9 230.7h1.15M442.1 194.2h1.15M448.5 183.5h1.15M464.1 228.1h1.15M472.3 207.6h1.15M427.4 199.7h1.15M460.1 220.4h1.15M441.3 219.8h1.15M454.9 205.4h1.15M453.9 236.2h1.15M414.5 203.7h1.15M459.3 236.8h1.15M417.2 224.2h1.15M433.9 201.8h1.15M440.0 215.3h1.15M438.9 208.2h1.15M454.0 203.9h1.15M438.2 222.5h1.15M414.2 214.4h1.15M456.8 216.1h1.15M427.0 205.6h1.15M457.6 197.6h1.15M433.4 191.9h1.15M433.1 220.8h1.15M446.2 216.7h1.15M466.2 204.8h1.15M465.8 228.1h1.15M431.3 217.8h1.15M447.5 198.6h1.15M433.7 187.7h1.15M440.0 202.6h1.15" stroke="#000" stroke-width="1.15" stroke-opacity="0.25" fill="none"/>
<line x1="448.5" y1="152.7" x2="448.5" y2="238" stroke="#454545" stroke-width="1.3"/>
<line x1="414.3" y1="201.9" x2="505.7" y2="201.9" stroke="#454545" stroke-width="1.3"/>
<rect x="415.8" y="154.2" width="3" height="2.5" fill="#bbb"/>
<rect x="450" y="154.2" width="3" height="2.5" fill="#bbb"/>
<rect x="415.8" y="203.4" width="3" height="2.5" fill="#bbb"/>
<rect x="450" y="203.4" width="3" height="2.5" fill="#bbb"/>
<text x="430.55" y="148.2" font-size="14.53" font-weight="bold" stroke="#000" stroke-width="0.2" fill="#000" textLength="43.84" lengthAdjust="spacingAndGlyphs">Y570C</text>
<text x="418.35" y="172.6" font-size="10.32" stroke="#111" stroke-width="0.35" fill="#111" textLength="14.92" lengthAdjust="spacingAndGlyphs">7.3</text>
<text x="477.97" y="171.8" font-size="10.32" stroke="#111" stroke-width="0.35" fill="#111" textLength="20.33" lengthAdjust="spacingAndGlyphs">29.4</text>
<text x="472.98" y="223.9" font-size="10.32" stroke="#111" stroke-width="0.35" fill="#111" textLength="21" lengthAdjust="spacingAndGlyphs">15.3</text>
<line x1="44.6" y1="39.2" x2="44.6" y2="237.5" stroke="#111" stroke-width="1.6"/>
<path d="M44.6 30.2 L41.85 40.2 L47.35 40.2 Z" fill="#111" stroke="none" stroke-width="1"/>
<text transform="translate(36.6,157.44) rotate(-90)" x="0" y="0" font-size="15.99" stroke="#000" stroke-width="0.25" fill="#000" textLength="42.43" lengthAdjust="spacingAndGlyphs">7-AAD</text>
<line x1="58.5" y1="252" x2="495" y2="252" stroke="#111" stroke-width="1.6"/>
<path d="M503 252 L494 249.25 L494 254.75 Z" fill="#111" stroke="none" stroke-width="1"/>
<text x="244.37" y="266.3" font-size="14.53" stroke="#000" stroke-width="0.25" fill="#000" textLength="66.49" lengthAdjust="spacingAndGlyphs">Annexin-V</text>
<line x1="54.4" y1="387" x2="54.4" y2="389.5" stroke="#888" stroke-width="0.7"/>
<rect x="52.4" y="391" width="4" height="2.5" fill="#ccc"/>
<line x1="61.71" y1="387" x2="61.71" y2="388.3" stroke="#aaa" stroke-width="0.5"/>
<line x1="65.98" y1="387" x2="65.98" y2="388.3" stroke="#aaa" stroke-width="0.5"/>
<line x1="69.02" y1="387" x2="69.02" y2="388.3" stroke="#aaa" stroke-width="0.5"/>
<line x1="71.37" y1="387" x2="71.37" y2="388.3" stroke="#aaa" stroke-width="0.5"/>
<line x1="73.29" y1="387" x2="73.29" y2="388.3" stroke="#aaa" stroke-width="0.5"/>
<line x1="74.91" y1="387" x2="74.91" y2="388.3" stroke="#aaa" stroke-width="0.5"/>
<line x1="76.32" y1="387" x2="76.32" y2="388.3" stroke="#aaa" stroke-width="0.5"/>
<line x1="77.56" y1="387" x2="77.56" y2="388.3" stroke="#aaa" stroke-width="0.5"/>
<line x1="78.67" y1="387" x2="78.67" y2="389.5" stroke="#888" stroke-width="0.7"/>
<rect x="76.67" y="391" width="4" height="2.5" fill="#ccc"/>
<line x1="85.98" y1="387" x2="85.98" y2="388.3" stroke="#aaa" stroke-width="0.5"/>
<line x1="90.26" y1="387" x2="90.26" y2="388.3" stroke="#aaa" stroke-width="0.5"/>
<line x1="93.29" y1="387" x2="93.29" y2="388.3" stroke="#aaa" stroke-width="0.5"/>
<line x1="95.64" y1="387" x2="95.64" y2="388.3" stroke="#aaa" stroke-width="0.5"/>
<line x1="97.56" y1="387" x2="97.56" y2="388.3" stroke="#aaa" stroke-width="0.5"/>
<line x1="99.19" y1="387" x2="99.19" y2="388.3" stroke="#aaa" stroke-width="0.5"/>
<line x1="100.6" y1="387" x2="100.6" y2="388.3" stroke="#aaa" stroke-width="0.5"/>
<line x1="101.84" y1="387" x2="101.84" y2="388.3" stroke="#aaa" stroke-width="0.5"/>
<line x1="102.95" y1="387" x2="102.95" y2="389.5" stroke="#888" stroke-width="0.7"/>
<rect x="100.95" y="391" width="4" height="2.5" fill="#ccc"/>
<line x1="110.26" y1="387" x2="110.26" y2="388.3" stroke="#aaa" stroke-width="0.5"/>
<line x1="114.53" y1="387" x2="114.53" y2="388.3" stroke="#aaa" stroke-width="0.5"/>
<line x1="117.57" y1="387" x2="117.57" y2="388.3" stroke="#aaa" stroke-width="0.5"/>
<line x1="119.92" y1="387" x2="119.92" y2="388.3" stroke="#aaa" stroke-width="0.5"/>
<line x1="121.84" y1="387" x2="121.84" y2="388.3" stroke="#aaa" stroke-width="0.5"/>
<line x1="123.46" y1="387" x2="123.46" y2="388.3" stroke="#aaa" stroke-width="0.5"/>
<line x1="124.87" y1="387" x2="124.87" y2="388.3" stroke="#aaa" stroke-width="0.5"/>
<line x1="126.11" y1="387" x2="126.11" y2="388.3" stroke="#aaa" stroke-width="0.5"/>
<line x1="127.22" y1="387" x2="127.22" y2="389.5" stroke="#888" stroke-width="0.7"/>
<rect x="125.22" y="391" width="4" height="2.5" fill="#ccc"/>
<line x1="134.53" y1="387" x2="134.53" y2="388.3" stroke="#aaa" stroke-width="0.5"/>
<line x1="138.81" y1="387" x2="138.81" y2="388.3" stroke="#aaa" stroke-width="0.5"/>
<line x1="141.84" y1="387" x2="141.84" y2="388.3" stroke="#aaa" stroke-width="0.5"/>
<line x1="144.19" y1="387" x2="144.19" y2="388.3" stroke="#aaa" stroke-width="0.5"/>
<line x1="146.11" y1="387" x2="146.11" y2="388.3" stroke="#aaa" stroke-width="0.5"/>
<line x1="147.74" y1="387" x2="147.74" y2="388.3" stroke="#aaa" stroke-width="0.5"/>
<line x1="149.15" y1="387" x2="149.15" y2="388.3" stroke="#aaa" stroke-width="0.5"/>
<line x1="150.39" y1="387" x2="150.39" y2="388.3" stroke="#aaa" stroke-width="0.5"/>
<line x1="151.5" y1="387" x2="151.5" y2="389.5" stroke="#888" stroke-width="0.7"/>
<rect x="149.5" y="391" width="4" height="2.5" fill="#ccc"/>
<line x1="52.4" y1="387" x2="54.4" y2="387" stroke="#999" stroke-width="0.6"/>
<line x1="52.4" y1="376.05" x2="54.4" y2="376.05" stroke="#999" stroke-width="0.6"/>
<line x1="52.4" y1="365.1" x2="54.4" y2="365.1" stroke="#999" stroke-width="0.6"/>
<line x1="52.4" y1="354.15" x2="54.4" y2="354.15" stroke="#999" stroke-width="0.6"/>
<line x1="52.4" y1="343.2" x2="54.4" y2="343.2" stroke="#999" stroke-width="0.6"/>
<line x1="52.4" y1="332.25" x2="54.4" y2="332.25" stroke="#999" stroke-width="0.6"/>
<line x1="52.4" y1="321.3" x2="54.4" y2="321.3" stroke="#999" stroke-width="0.6"/>
<line x1="52.4" y1="310.35" x2="54.4" y2="310.35" stroke="#999" stroke-width="0.6"/>
<line x1="52.4" y1="299.4" x2="54.4" y2="299.4" stroke="#999" stroke-width="0.6"/>
<rect x="54.4" y="299.4" width="97.1" height="87.6" fill="none" stroke="#999" stroke-width="0.8"/>
<line x1="91.4" y1="331.8" x2="151.5" y2="331.8" stroke="#888" stroke-width="0.9"/>
<rect x="48.4" y="300.4" width="2" height="3" fill="#888"/>
<path d="M54.4 387 L54.4 383 L54.89 382.8 L55.37 382.6 L55.86 382.4 L56.34 382.2 L56.83 382 L57.31 381.8 L57.8 380.66 L58.28 382.26 L58.77 382.18 L59.25 381.88 L59.73 383.36 L60.22 382.76 L60.7 383.93 L61.17 381.48 L61.63 382.16 L62.1 381.78 L62.57 379.3 L63.03 378.65 L63.5 378.52 L64 379.29 L64.5 380.97 L65 381.03 L65.47 380.74 L65.93 380.74 L66.4 380.64 L66.93 380.74 L67.45 381.3 L67.97 380.46 L68.5 379.15 L68.96 380.41 L69.42 381.57 L69.88 381.84 L70.34 380.37 L70.8 381.91 L71.27 379.87 L71.73 380.83 L72.2 378.95 L72.67 378.9 L73.13 378.79 L73.6 377.07 L74.15 373.16 L74.7 368.97 L75.25 366.67 L75.8 363.05 L76.35 358.02 L76.9 350.05 L77.45 346.43 L78 341.02 L78.53 334.96 L79.05 329.3 L79.57 324.56 L80.1 322.71 L80.6 320.35 L81.1 316.5 L81.6 312.49 L82.07 310.09 L82.53 310.88 L83 304.15 L83.5 300.78 L84 302.19 L84.6 303.11 L85.2 311.64 L85.67 309.87 L86.13 310.71 L86.6 313.88 L87.15 319.09 L87.7 321.25 L88.25 322.03 L88.8 323.75 L89.27 326.12 L89.73 328.45 L90.2 334.65 L90.7 334.96 L91.2 336.72 L91.7 342.77 L92.17 343.05 L92.63 344.19 L93.1 349.19 L93.65 346.52 L94.2 344.29 L94.75 345.77 L95.3 340.51 L95.78 340 L96.27 343.98 L96.75 338.66 L97.23 341.71 L97.72 338.67 L98.2 337.17 L98.68 341.66 L99.17 340.15 L99.65 337.69 L100.13 336.82 L100.62 339.44 L101.1 339.41 L101.58 336.84 L102.07 335.39 L102.55 337.16 L103.03 338.25 L103.52 336.89 L104 339.5 L104.47 337.83 L104.93 336.4 L105.4 338.23 L105.87 335.95 L106.33 339.16 L106.8 340.66 L107.28 336.71 L107.77 336.64 L108.25 339.13 L108.73 337.48 L109.22 336.98 L109.7 339.41 L110.18 338.11 L110.67 341.37 L111.15 340.87 L111.63 339.76 L112.12 344.1 L112.6 342.54 L113.08 344.89 L113.57 345.83 L114.05 343.82 L114.53 344.6 L115.02 345.94 L115.5 348.15 L115.98 350.62 L116.47 348.37 L116.95 350.36 L117.43 350.17 L117.92 355.77 L118.4 356.41 L118.88 356.88 L119.37 358.07 L119.85 358.93 L120.33 359.91 L120.82 361.21 L121.3 361.6 L121.78 363.55 L122.27 365.53 L122.75 366.68 L123.23 368.73 L123.72 369.18 L124.2 371.13 L124.67 373.06 L125.13 372.27 L125.6 374.68 L126.07 373.3 L126.53 376.14 L127 376.89 L127.47 377.71 L127.95 378.83 L128.43 379.72 L128.9 379.63 L129.38 381.25 L129.85 380.81 L130.33 383.13 L130.8 382.67 L131.3 384.74 L131.8 385.13 L132.3 385.53 L132.8 386.31 L133.3 385.92 L133.8 387 L133.8 387 Z" fill="#1e1e1e" stroke="none" stroke-width="1"/>
<path d="M108.67 356.7 L108.68 358.31 L106.91 359.53 L105.56 360.77 L102.93 360.93 L101.17 361.73 L99 362.51 L96.68 362.08 L94.57 361.46 L93.66 360.02 L92.78 358.93 L90.65 358.09 L89.29 356.7 L89.11 355.05 L92.44 354.35 L91.79 352.22 L94.99 352.39 L96.36 350.59 L99 351.47 L101.5 350.92 L103.46 351.91 L105.47 352.69 L105.36 354.42 L106.3 355.49 Z" fill="#000" stroke="#383838" stroke-width="0.9"/>
<text x="94.49" y="291.9" font-size="14.83" font-weight="bold" stroke="#000" stroke-width="0.2" fill="#000" textLength="22.77" lengthAdjust="spacingAndGlyphs">WT</text>
<text x="120.44" y="320.8" font-size="10.47" stroke="#111" stroke-width="0.25" fill="#111" textLength="21.34" lengthAdjust="spacingAndGlyphs">62.3</text>
<line x1="174.3" y1="387" x2="174.3" y2="389.5" stroke="#888" stroke-width="0.7"/>
<rect x="172.3" y="391" width="4" height="2.5" fill="#ccc"/>
<line x1="181.65" y1="387" x2="181.65" y2="388.3" stroke="#aaa" stroke-width="0.5"/>
<line x1="185.95" y1="387" x2="185.95" y2="388.3" stroke="#aaa" stroke-width="0.5"/>
<line x1="189.01" y1="387" x2="189.01" y2="388.3" stroke="#aaa" stroke-width="0.5"/>
<line x1="191.37" y1="387" x2="191.37" y2="388.3" stroke="#aaa" stroke-width="0.5"/>
<line x1="193.31" y1="387" x2="193.31" y2="388.3" stroke="#aaa" stroke-width="0.5"/>
<line x1="194.94" y1="387" x2="194.94" y2="388.3" stroke="#aaa" stroke-width="0.5"/>
<line x1="196.36" y1="387" x2="196.36" y2="388.3" stroke="#aaa" stroke-width="0.5"/>
<line x1="197.61" y1="387" x2="197.61" y2="388.3" stroke="#aaa" stroke-width="0.5"/>
<line x1="198.73" y1="387" x2="198.73" y2="389.5" stroke="#888" stroke-width="0.7"/>
<rect x="196.73" y="391" width="4" height="2.5" fill="#ccc"/>
<line x1="206.08" y1="387" x2="206.08" y2="388.3" stroke="#aaa" stroke-width="0.5"/>
<line x1="210.38" y1="387" x2="210.38" y2="388.3" stroke="#aaa" stroke-width="0.5"/>
<line x1="213.43" y1="387" x2="213.43" y2="388.3" stroke="#aaa" stroke-width="0.5"/>
<line x1="215.8" y1="387" x2="215.8" y2="388.3" stroke="#aaa" stroke-width="0.5"/>
<line x1="217.73" y1="387" x2="217.73" y2="388.3" stroke="#aaa" stroke-width="0.5"/>
<line x1="219.37" y1="387" x2="219.37" y2="388.3" stroke="#aaa" stroke-width="0.5"/>
<line x1="220.78" y1="387" x2="220.78" y2="388.3" stroke="#aaa" stroke-width="0.5"/>
<line x1="222.03" y1="387" x2="222.03" y2="388.3" stroke="#aaa" stroke-width="0.5"/>
<line x1="223.15" y1="387" x2="223.15" y2="389.5" stroke="#888" stroke-width="0.7"/>
<rect x="221.15" y="391" width="4" height="2.5" fill="#ccc"/>
<line x1="230.5" y1="387" x2="230.5" y2="388.3" stroke="#aaa" stroke-width="0.5"/>
<line x1="234.8" y1="387" x2="234.8" y2="388.3" stroke="#aaa" stroke-width="0.5"/>
<line x1="237.86" y1="387" x2="237.86" y2="388.3" stroke="#aaa" stroke-width="0.5"/>
<line x1="240.22" y1="387" x2="240.22" y2="388.3" stroke="#aaa" stroke-width="0.5"/>
<line x1="242.16" y1="387" x2="242.16" y2="388.3" stroke="#aaa" stroke-width="0.5"/>
<line x1="243.79" y1="387" x2="243.79" y2="388.3" stroke="#aaa" stroke-width="0.5"/>
<line x1="245.21" y1="387" x2="245.21" y2="388.3" stroke="#aaa" stroke-width="0.5"/>
<line x1="246.46" y1="387" x2="246.46" y2="388.3" stroke="#aaa" stroke-width="0.5"/>
<line x1="247.57" y1="387" x2="247.57" y2="389.5" stroke="#888" stroke-width="0.7"/>
<rect x="245.57" y="391" width="4" height="2.5" fill="#ccc"/>
<line x1="254.93" y1="387" x2="254.93" y2="388.3" stroke="#aaa" stroke-width="0.5"/>
<line x1="259.23" y1="387" x2="259.23" y2="388.3" stroke="#aaa" stroke-width="0.5"/>
<line x1="262.28" y1="387" x2="262.28" y2="388.3" stroke="#aaa" stroke-width="0.5"/>
<line x1="264.65" y1="387" x2="264.65" y2="388.3" stroke="#aaa" stroke-width="0.5"/>
<line x1="266.58" y1="387" x2="266.58" y2="388.3" stroke="#aaa" stroke-width="0.5"/>
<line x1="268.22" y1="387" x2="268.22" y2="388.3" stroke="#aaa" stroke-width="0.5"/>
<line x1="269.63" y1="387" x2="269.63" y2="388.3" stroke="#aaa" stroke-width="0.5"/>
<line x1="270.88" y1="387" x2="270.88" y2="388.3" stroke="#aaa" stroke-width="0.5"/>
<line x1="272" y1="387" x2="272" y2="389.5" stroke="#888" stroke-width="0.7"/>
<rect x="270" y="391" width="4" height="2.5" fill="#ccc"/>
<line x1="172.3" y1="387" x2="174.3" y2="387" stroke="#999" stroke-width="0.6"/>
<line x1="172.3" y1="376.11" x2="174.3" y2="376.11" stroke="#999" stroke-width="0.6"/>
<line x1="172.3" y1="365.23" x2="174.3" y2="365.23" stroke="#999" stroke-width="0.6"/>
<line x1="172.3" y1="354.34" x2="174.3" y2="354.34" stroke="#999" stroke-width="0.6"/>
<line x1="172.3" y1="343.45" x2="174.3" y2="343.45" stroke="#999" stroke-width="0.6"/>
<line x1="172.3" y1="332.56" x2="174.3" y2="332.56" stroke="#999" stroke-width="0.6"/>
<line x1="172.3" y1="321.67" x2="174.3" y2="321.67" stroke="#999" stroke-width="0.6"/>
<line x1="172.3" y1="310.79" x2="174.3" y2="310.79" stroke="#999" stroke-width="0.6"/>
<line x1="172.3" y1="299.9" x2="174.3" y2="299.9" stroke="#999" stroke-width="0.6"/>
<rect x="174.3" y="299.9" width="97.7" height="87.1" fill="none" stroke="#999" stroke-width="0.8"/>
<line x1="209.6" y1="331.5" x2="272" y2="331.5" stroke="#888" stroke-width="0.9"/>
<rect x="168.3" y="300.9" width="2" height="3" fill="#888"/>
<path d="M174.3 387 L174.3 383 L174.76 382.94 L175.23 382.88 L175.69 382.81 L176.15 382.75 L176.61 382.69 L177.07 382.62 L177.54 382.56 L178 383.26 L178.5 381.19 L179 382.17 L179.5 382.67 L180 381.76 L180.5 381.4 L181 381.46 L181.5 381.4 L182 380.75 L182.5 380.79 L183 381.63 L183.5 382.74 L184 382.27 L184.5 382.47 L185 382.63 L185.5 382.28 L186 382.85 L186.5 383.39 L187 382.43 L187.5 382.92 L188 381.6 L188.48 383.15 L188.97 383.19 L189.45 381.69 L189.93 381.6 L190.42 382.59 L190.9 382.34 L191.37 380.82 L191.83 380.15 L192.3 380.57 L192.8 377.52 L193.3 375.51 L193.8 372.87 L194.33 368.41 L194.85 366.68 L195.38 362.95 L195.9 358.27 L196.45 356.83 L197 351.21 L197.55 345.81 L198.1 340.14 L198.65 339.63 L199.2 328.89 L199.75 325.63 L200.3 319.7 L200.77 317.15 L201.23 310.37 L201.7 303.69 L202.17 303.91 L202.63 300.2 L203.1 301.68 L203.65 304.88 L204.2 304.61 L204.75 307.52 L205.3 306.55 L205.85 309.75 L206.4 313.08 L206.95 313.26 L207.5 318.15 L208.03 321.53 L208.55 324.46 L209.07 329.01 L209.6 330.45 L210.15 330.55 L210.7 336.36 L211.25 336.43 L211.8 335.59 L212.27 338.57 L212.73 337.77 L213.2 338.83 L213.75 341.09 L214.3 343.45 L214.85 343.87 L215.4 346.2 L215.95 343.74 L216.5 340.81 L217.05 343.12 L217.6 344.4 L218.12 340.27 L218.65 342.8 L219.17 336.65 L219.7 338.62 L220.25 335.9 L220.8 337.38 L221.35 334.87 L221.9 335.95 L222.45 334.58 L223 339.27 L223.55 339.8 L224.1 338.06 L224.62 337.56 L225.15 341.11 L225.67 340.6 L226.2 346.07 L226.75 347.06 L227.3 344.47 L227.85 346.05 L228.4 350.28 L228.88 349.57 L229.37 350.26 L229.85 352 L230.33 354.48 L230.82 357.72 L231.3 357.6 L231.78 358.91 L232.27 360.81 L232.75 361.71 L233.23 364.79 L233.72 366.2 L234.2 367.15 L234.67 369.56 L235.13 370.86 L235.6 371.55 L236.07 372.08 L236.53 374.79 L237 374.61 L237.48 377.86 L237.97 378.7 L238.45 379.66 L238.93 379.67 L239.42 382.34 L239.9 383.5 L240.38 384.43 L240.87 383.93 L241.35 384.41 L241.83 386.09 L242.32 385.72 L242.8 386.85 L243.35 387 L243.9 386.04 L244.45 386.92 L245 387 L245 387 Z" fill="#1e1e1e" stroke="none" stroke-width="1"/>
<path d="M225.83 359 L226 361.28 L223.41 362.41 L222.49 363.99 L221.2 365.4 L219.21 365.37 L217.5 365.16 L215.45 366.66 L213.42 366.06 L212.35 364.15 L211.85 362.26 L210.51 360.87 L211.02 359 L209.93 356.97 L212.02 355.84 L212.63 354.13 L214.35 353.55 L215.56 351.75 L217.5 350.37 L219.57 351.28 L220.74 353.39 L222.11 354.39 L224.39 355.02 L223.67 357.35 Z" fill="#000" stroke="#383838" stroke-width="0.9"/>
<text x="198.83" y="291.7" font-size="14.83" font-weight="bold" stroke="#000" stroke-width="0.2" fill="#000" textLength="48.28" lengthAdjust="spacingAndGlyphs">R260W</text>
<text x="242.6" y="321.2" font-size="10.47" stroke="#111" stroke-width="0.25" fill="#111" textLength="19.39" lengthAdjust="spacingAndGlyphs">59.1</text>
<line x1="293.4" y1="387.5" x2="293.4" y2="390" stroke="#888" stroke-width="0.7"/>
<rect x="291.4" y="391.5" width="4" height="2.5" fill="#ccc"/>
<line x1="300.82" y1="387.5" x2="300.82" y2="388.8" stroke="#aaa" stroke-width="0.5"/>
<line x1="305.16" y1="387.5" x2="305.16" y2="388.8" stroke="#aaa" stroke-width="0.5"/>
<line x1="308.24" y1="387.5" x2="308.24" y2="388.8" stroke="#aaa" stroke-width="0.5"/>
<line x1="310.63" y1="387.5" x2="310.63" y2="388.8" stroke="#aaa" stroke-width="0.5"/>
<line x1="312.58" y1="387.5" x2="312.58" y2="388.8" stroke="#aaa" stroke-width="0.5"/>
<line x1="314.23" y1="387.5" x2="314.23" y2="388.8" stroke="#aaa" stroke-width="0.5"/>
<line x1="315.66" y1="387.5" x2="315.66" y2="388.8" stroke="#aaa" stroke-width="0.5"/>
<line x1="316.92" y1="387.5" x2="316.92" y2="388.8" stroke="#aaa" stroke-width="0.5"/>
<line x1="318.05" y1="387.5" x2="318.05" y2="390" stroke="#888" stroke-width="0.7"/>
<rect x="316.05" y="391.5" width="4" height="2.5" fill="#ccc"/>
<line x1="325.47" y1="387.5" x2="325.47" y2="388.8" stroke="#aaa" stroke-width="0.5"/>
<line x1="329.81" y1="387.5" x2="329.81" y2="388.8" stroke="#aaa" stroke-width="0.5"/>
<line x1="332.89" y1="387.5" x2="332.89" y2="388.8" stroke="#aaa" stroke-width="0.5"/>
<line x1="335.28" y1="387.5" x2="335.28" y2="388.8" stroke="#aaa" stroke-width="0.5"/>
<line x1="337.23" y1="387.5" x2="337.23" y2="388.8" stroke="#aaa" stroke-width="0.5"/>
<line x1="338.88" y1="387.5" x2="338.88" y2="388.8" stroke="#aaa" stroke-width="0.5"/>
<line x1="340.31" y1="387.5" x2="340.31" y2="388.8" stroke="#aaa" stroke-width="0.5"/>
<line x1="341.57" y1="387.5" x2="341.57" y2="388.8" stroke="#aaa" stroke-width="0.5"/>
<line x1="342.7" y1="387.5" x2="342.7" y2="390" stroke="#888" stroke-width="0.7"/>
<rect x="340.7" y="391.5" width="4" height="2.5" fill="#ccc"/>
<line x1="350.12" y1="387.5" x2="350.12" y2="388.8" stroke="#aaa" stroke-width="0.5"/>
<line x1="354.46" y1="387.5" x2="354.46" y2="388.8" stroke="#aaa" stroke-width="0.5"/>
<line x1="357.54" y1="387.5" x2="357.54" y2="388.8" stroke="#aaa" stroke-width="0.5"/>
<line x1="359.93" y1="387.5" x2="359.93" y2="388.8" stroke="#aaa" stroke-width="0.5"/>
<line x1="361.88" y1="387.5" x2="361.88" y2="388.8" stroke="#aaa" stroke-width="0.5"/>
<line x1="363.53" y1="387.5" x2="363.53" y2="388.8" stroke="#aaa" stroke-width="0.5"/>
<line x1="364.96" y1="387.5" x2="364.96" y2="388.8" stroke="#aaa" stroke-width="0.5"/>
<line x1="366.22" y1="387.5" x2="366.22" y2="388.8" stroke="#aaa" stroke-width="0.5"/>
<line x1="367.35" y1="387.5" x2="367.35" y2="390" stroke="#888" stroke-width="0.7"/>
<rect x="365.35" y="391.5" width="4" height="2.5" fill="#ccc"/>
<line x1="374.77" y1="387.5" x2="374.77" y2="388.8" stroke="#aaa" stroke-width="0.5"/>
<line x1="379.11" y1="387.5" x2="379.11" y2="388.8" stroke="#aaa" stroke-width="0.5"/>
<line x1="382.19" y1="387.5" x2="382.19" y2="388.8" stroke="#aaa" stroke-width="0.5"/>
<line x1="384.58" y1="387.5" x2="384.58" y2="388.8" stroke="#aaa" stroke-width="0.5"/>
<line x1="386.53" y1="387.5" x2="386.53" y2="388.8" stroke="#aaa" stroke-width="0.5"/>
<line x1="388.18" y1="387.5" x2="388.18" y2="388.8" stroke="#aaa" stroke-width="0.5"/>
<line x1="389.61" y1="387.5" x2="389.61" y2="388.8" stroke="#aaa" stroke-width="0.5"/>
<line x1="390.87" y1="387.5" x2="390.87" y2="388.8" stroke="#aaa" stroke-width="0.5"/>
<line x1="392" y1="387.5" x2="392" y2="390" stroke="#888" stroke-width="0.7"/>
<rect x="390" y="391.5" width="4" height="2.5" fill="#ccc"/>
<line x1="291.4" y1="387.5" x2="293.4" y2="387.5" stroke="#999" stroke-width="0.6"/>
<line x1="291.4" y1="376.56" x2="293.4" y2="376.56" stroke="#999" stroke-width="0.6"/>
<line x1="291.4" y1="365.62" x2="293.4" y2="365.62" stroke="#999" stroke-width="0.6"/>
<line x1="291.4" y1="354.69" x2="293.4" y2="354.69" stroke="#999" stroke-width="0.6"/>
<line x1="291.4" y1="343.75" x2="293.4" y2="343.75" stroke="#999" stroke-width="0.6"/>
<line x1="291.4" y1="332.81" x2="293.4" y2="332.81" stroke="#999" stroke-width="0.6"/>
<line x1="291.4" y1="321.88" x2="293.4" y2="321.88" stroke="#999" stroke-width="0.6"/>
<line x1="291.4" y1="310.94" x2="293.4" y2="310.94" stroke="#999" stroke-width="0.6"/>
<line x1="291.4" y1="300" x2="293.4" y2="300" stroke="#999" stroke-width="0.6"/>
<rect x="293.4" y="300" width="98.6" height="87.5" fill="none" stroke="#999" stroke-width="0.8"/>
<line x1="328.5" y1="331.5" x2="392" y2="331.5" stroke="#888" stroke-width="0.9"/>
<rect x="287.4" y="301" width="2" height="3" fill="#888"/>
<path d="M293.4 387.5 L293.4 384.6 L293.86 384.54 L294.32 384.48 L294.78 384.42 L295.24 384.36 L295.7 384.3 L296.16 384.24 L296.62 384.18 L297.08 384.12 L297.54 384.06 L298 384.08 L298.45 382.7 L298.91 382.65 L299.36 384.16 L299.82 382.94 L300.27 382.58 L300.73 381.82 L301.18 383.11 L301.64 382.54 L302.09 382.71 L302.55 381.19 L303 381.63 L303.5 381.89 L304 381.62 L304.5 382.94 L305 383.54 L305.5 383.88 L306 384.76 L306.46 383.86 L306.92 383.59 L307.38 382.64 L307.83 382.81 L308.29 382.12 L308.75 382.23 L309.25 381.71 L309.75 380.34 L310.25 378.79 L310.75 378.92 L311.25 376.59 L311.75 376.6 L312.25 375.21 L312.75 372.24 L313.25 370.69 L313.75 370.01 L314.21 366.38 L314.68 364.9 L315.14 362.36 L315.6 360.5 L316.08 355.46 L316.55 353.59 L317.02 346.07 L317.5 344.79 L318.12 338 L318.75 331.47 L319.38 324.59 L320 316.27 L320.62 313.34 L321.25 308.14 L321.88 302.15 L322.5 302.27 L323.12 300.36 L323.75 301.17 L324.38 304.85 L325 307.26 L325.62 311.81 L326.25 315.83 L326.88 318.71 L327.5 320.74 L328.12 328.99 L328.75 334.33 L329.38 338.25 L330 339.3 L330.5 337.36 L331 339.26 L331.5 337.15 L332 337.74 L332.5 336.89 L333 340.51 L333.5 341.1 L334 340.22 L334.5 338.78 L335 340.33 L335.5 340.61 L336 337.95 L336.5 337.8 L337 337.45 L337.5 336.96 L338 340.36 L338.5 337.48 L339 337.87 L339.5 340.31 L340 338.71 L340.48 337.85 L340.95 343.36 L341.42 342.67 L341.9 347.18 L342.36 347.63 L342.82 352.5 L343.29 353.19 L343.75 354.78 L344.25 357.44 L344.75 359.75 L345.25 360.7 L345.75 363.31 L346.25 364.13 L346.75 367.35 L347.25 366.97 L347.75 369.71 L348.25 370.64 L348.75 371.51 L349.25 372.58 L349.75 374.16 L350.25 374.62 L350.75 376.43 L351.25 378.45 L351.75 378.95 L352.25 380.2 L352.75 380.28 L353.25 380.69 L353.75 381.39 L354.22 383.02 L354.69 383.18 L355.16 384.27 L355.62 383.97 L356.09 384.41 L356.56 385.68 L357.03 386.76 L357.5 386.5 L357.5 387.5 Z" fill="#1e1e1e" stroke="none" stroke-width="1"/>
<path d="M344.38 364 L344.89 368.26 L342.67 370.22 L342.61 374.64 L341.69 378.73 L339.39 376.01 L338 380.49 L336.36 378.16 L335.23 375.05 L333.17 375.14 L331.4 372.79 L332.01 367.7 L332.36 364 L331.65 360.08 L333.26 357.69 L332.62 351.58 L334.6 350.4 L336.33 349.63 L338 351.3 L339.61 350.18 L340.67 353.35 L341.99 354.79 L343.6 356.54 L343.82 360.4 Z" fill="#000" stroke="#383838" stroke-width="0.9"/>
<text x="326.22" y="291.7" font-size="14.83" font-weight="bold" stroke="#000" stroke-width="0.2" fill="#000" textLength="45.57" lengthAdjust="spacingAndGlyphs">D303N</text>
<text x="356.49" y="321.2" font-size="10.47" stroke="#111" stroke-width="0.25" fill="#111" textLength="19.7" lengthAdjust="spacingAndGlyphs">55.0</text>
<line x1="412.7" y1="386.5" x2="412.7" y2="389" stroke="#888" stroke-width="0.7"/>
<rect x="410.7" y="390.5" width="4" height="2.5" fill="#ccc"/>
<line x1="420.05" y1="386.5" x2="420.05" y2="387.8" stroke="#aaa" stroke-width="0.5"/>
<line x1="424.34" y1="386.5" x2="424.34" y2="387.8" stroke="#aaa" stroke-width="0.5"/>
<line x1="427.39" y1="386.5" x2="427.39" y2="387.8" stroke="#aaa" stroke-width="0.5"/>
<line x1="429.75" y1="386.5" x2="429.75" y2="387.8" stroke="#aaa" stroke-width="0.5"/>
<line x1="431.69" y1="386.5" x2="431.69" y2="387.8" stroke="#aaa" stroke-width="0.5"/>
<line x1="433.32" y1="386.5" x2="433.32" y2="387.8" stroke="#aaa" stroke-width="0.5"/>
<line x1="434.74" y1="386.5" x2="434.74" y2="387.8" stroke="#aaa" stroke-width="0.5"/>
<line x1="435.98" y1="386.5" x2="435.98" y2="387.8" stroke="#aaa" stroke-width="0.5"/>
<line x1="437.1" y1="386.5" x2="437.1" y2="389" stroke="#888" stroke-width="0.7"/>
<rect x="435.1" y="390.5" width="4" height="2.5" fill="#ccc"/>
<line x1="444.45" y1="386.5" x2="444.45" y2="387.8" stroke="#aaa" stroke-width="0.5"/>
<line x1="448.74" y1="386.5" x2="448.74" y2="387.8" stroke="#aaa" stroke-width="0.5"/>
<line x1="451.79" y1="386.5" x2="451.79" y2="387.8" stroke="#aaa" stroke-width="0.5"/>
<line x1="454.15" y1="386.5" x2="454.15" y2="387.8" stroke="#aaa" stroke-width="0.5"/>
<line x1="456.09" y1="386.5" x2="456.09" y2="387.8" stroke="#aaa" stroke-width="0.5"/>
<line x1="457.72" y1="386.5" x2="457.72" y2="387.8" stroke="#aaa" stroke-width="0.5"/>
<line x1="459.14" y1="386.5" x2="459.14" y2="387.8" stroke="#aaa" stroke-width="0.5"/>
<line x1="460.38" y1="386.5" x2="460.38" y2="387.8" stroke="#aaa" stroke-width="0.5"/>
<line x1="461.5" y1="386.5" x2="461.5" y2="389" stroke="#888" stroke-width="0.7"/>
<rect x="459.5" y="390.5" width="4" height="2.5" fill="#ccc"/>
<line x1="468.85" y1="386.5" x2="468.85" y2="387.8" stroke="#aaa" stroke-width="0.5"/>
<line x1="473.14" y1="386.5" x2="473.14" y2="387.8" stroke="#aaa" stroke-width="0.5"/>
<line x1="476.19" y1="386.5" x2="476.19" y2="387.8" stroke="#aaa" stroke-width="0.5"/>
<line x1="478.55" y1="386.5" x2="478.55" y2="387.8" stroke="#aaa" stroke-width="0.5"/>
<line x1="480.49" y1="386.5" x2="480.49" y2="387.8" stroke="#aaa" stroke-width="0.5"/>
<line x1="482.12" y1="386.5" x2="482.12" y2="387.8" stroke="#aaa" stroke-width="0.5"/>
<line x1="483.54" y1="386.5" x2="483.54" y2="387.8" stroke="#aaa" stroke-width="0.5"/>
<line x1="484.78" y1="386.5" x2="484.78" y2="387.8" stroke="#aaa" stroke-width="0.5"/>
<line x1="485.9" y1="386.5" x2="485.9" y2="389" stroke="#888" stroke-width="0.7"/>
<rect x="483.9" y="390.5" width="4" height="2.5" fill="#ccc"/>
<line x1="493.25" y1="386.5" x2="493.25" y2="387.8" stroke="#aaa" stroke-width="0.5"/>
<line x1="497.54" y1="386.5" x2="497.54" y2="387.8" stroke="#aaa" stroke-width="0.5"/>
<line x1="500.59" y1="386.5" x2="500.59" y2="387.8" stroke="#aaa" stroke-width="0.5"/>
<line x1="502.95" y1="386.5" x2="502.95" y2="387.8" stroke="#aaa" stroke-width="0.5"/>
<line x1="504.89" y1="386.5" x2="504.89" y2="387.8" stroke="#aaa" stroke-width="0.5"/>
<line x1="506.52" y1="386.5" x2="506.52" y2="387.8" stroke="#aaa" stroke-width="0.5"/>
<line x1="507.94" y1="386.5" x2="507.94" y2="387.8" stroke="#aaa" stroke-width="0.5"/>
<line x1="509.18" y1="386.5" x2="509.18" y2="387.8" stroke="#aaa" stroke-width="0.5"/>
<line x1="510.3" y1="386.5" x2="510.3" y2="389" stroke="#888" stroke-width="0.7"/>
<rect x="508.3" y="390.5" width="4" height="2.5" fill="#ccc"/>
<line x1="410.7" y1="386.5" x2="412.7" y2="386.5" stroke="#999" stroke-width="0.6"/>
<line x1="410.7" y1="375.5" x2="412.7" y2="375.5" stroke="#999" stroke-width="0.6"/>
<line x1="410.7" y1="364.5" x2="412.7" y2="364.5" stroke="#999" stroke-width="0.6"/>
<line x1="410.7" y1="353.5" x2="412.7" y2="353.5" stroke="#999" stroke-width="0.6"/>
<line x1="410.7" y1="342.5" x2="412.7" y2="342.5" stroke="#999" stroke-width="0.6"/>
<line x1="410.7" y1="331.5" x2="412.7" y2="331.5" stroke="#999" stroke-width="0.6"/>
<line x1="410.7" y1="320.5" x2="412.7" y2="320.5" stroke="#999" stroke-width="0.6"/>
<line x1="410.7" y1="309.5" x2="412.7" y2="309.5" stroke="#999" stroke-width="0.6"/>
<line x1="410.7" y1="298.5" x2="412.7" y2="298.5" stroke="#999" stroke-width="0.6"/>
<rect x="412.7" y="298.5" width="97.6" height="88" fill="none" stroke="#999" stroke-width="0.8"/>
<line x1="453.5" y1="331" x2="510.3" y2="331" stroke="#888" stroke-width="0.9"/>
<rect x="406.7" y="299.5" width="2" height="3" fill="#888"/>
<path d="M412.9 386.5 L412.9 383 L413.38 382.4 L413.87 381.8 L414.35 381.2 L414.83 380.6 L415.32 380 L415.8 379.23 L416.28 379.79 L416.77 378.53 L417.25 380.58 L417.73 380.02 L418.22 379.97 L418.7 378.98 L419.23 380.26 L419.75 378.32 L420.27 377.32 L420.8 377.61 L421.28 377.25 L421.77 376.78 L422.25 376.67 L422.73 378.46 L423.22 378.43 L423.7 378.89 L424.18 377.19 L424.67 375.57 L425.15 375.53 L425.63 372.62 L426.12 372.36 L426.6 372.17 L427.07 370.96 L427.53 371.02 L428 370.48 L428.55 368.73 L429.1 369.47 L429.65 366.77 L430.2 367.65 L430.75 364.57 L431.3 363.35 L431.85 361.73 L432.4 360.61 L432.92 358.16 L433.45 354.12 L433.98 351.72 L434.5 350.35 L435 341.85 L435.5 335.05 L436 334.43 L436.47 330.05 L436.93 325.14 L437.4 319.98 L437.9 315.57 L438.4 310.73 L438.9 312.98 L439.37 310.74 L439.83 305 L440.3 301.58 L440.85 300.5 L441.4 302.1 L441.95 300.75 L442.5 301.02 L442.97 300.28 L443.43 302.11 L443.9 299.19 L444.4 299.99 L444.9 304.56 L445.4 306.11 L445.92 306.32 L446.45 311.06 L446.98 312.59 L447.5 314.91 L448.05 319.97 L448.6 321.99 L449.15 320.58 L449.7 324.29 L450.23 323.45 L450.75 327.73 L451.27 327.54 L451.8 328.2 L452.35 330.05 L452.9 335.14 L453.45 336.75 L454 338.9 L454.55 340.32 L455.1 337.96 L455.65 338.2 L456.2 343.33 L456.73 344.58 L457.25 344.96 L457.77 346.26 L458.3 350.77 L458.85 352.48 L459.4 350.41 L459.95 352.87 L460.5 355.1 L461.05 357.18 L461.6 360.4 L462.15 360.96 L462.7 363.83 L463.23 366.61 L463.75 366.85 L464.27 369.43 L464.8 372.4 L465.28 373.84 L465.77 374.69 L466.25 376.29 L466.73 377.38 L467.22 378.35 L467.7 378.97 L468.18 380.68 L468.67 380.37 L469.15 381.3 L469.63 382.95 L470.12 384.5 L470.6 384.16 L471.08 384.69 L471.57 384.15 L472.05 385.48 L472.53 386.4 L473.02 386.5 L473.5 385.12 L474 385.58 L474.5 386.13 L475 386.2 L475.5 386.5 L476 386.5 L476 386.5 Z" fill="#1e1e1e" stroke="none" stroke-width="1"/>
<path d="M461.56 359.5 L460.99 361.77 L459.35 363.25 L459.26 365.89 L457.5 366.86 L455.93 368.26 L454 366.47 L452.26 367.37 L450.72 366.4 L449.22 365.31 L447.92 363.76 L446.54 361.93 L446.93 359.5 L447.95 357.53 L447.97 355.27 L448.92 353.34 L451.07 353.34 L452.13 351.04 L454 350.81 L455.91 350.87 L457.72 351.68 L459.41 352.93 L459.16 355.88 L460.31 357.45 Z" fill="#000" stroke="#383838" stroke-width="0.9"/>
<text x="432.56" y="291.7" font-size="14.83" font-weight="bold" stroke="#000" stroke-width="0.2" fill="#000" textLength="43.63" lengthAdjust="spacingAndGlyphs">Y570C</text>
<text x="475.46" y="321.2" font-size="10.47" stroke="#111" stroke-width="0.25" fill="#111" textLength="19.99" lengthAdjust="spacingAndGlyphs">47.6</text>
<line x1="42.7" y1="309.4" x2="42.7" y2="387.4" stroke="#111" stroke-width="1.6"/>
<path d="M42.7 300.4 L39.95 310.4 L45.45 310.4 Z" fill="#111" stroke="none" stroke-width="1"/>
<text transform="translate(36.5,370.34) rotate(-90)" x="0" y="0" font-size="15.99" stroke="#000" stroke-width="0.25" fill="#000" textLength="46.27" lengthAdjust="spacingAndGlyphs">Counts</text>
<line x1="54.7" y1="402" x2="500" y2="402" stroke="#111" stroke-width="1.6"/>
<path d="M508 402 L499 399.25 L499 404.75 Z" fill="#111" stroke="none" stroke-width="1"/>
<text x="266.16" y="419.2" font-size="14.53" stroke="#000" stroke-width="0.25" fill="#000" textLength="30.42" lengthAdjust="spacingAndGlyphs">GFP</text>
<text x="2.18" y="448.7" font-size="26.89" font-weight="bold" stroke="#000" stroke-width="0.2" fill="#000" textLength="18.59" lengthAdjust="spacingAndGlyphs">B</text>
<line x1="77.7" y1="613.05" x2="507" y2="613.05" stroke="#8c8c8c" stroke-width="1.25"/>
<line x1="77.7" y1="580.5" x2="507" y2="580.5" stroke="#8c8c8c" stroke-width="1.25"/>
<line x1="77.7" y1="547.95" x2="507" y2="547.95" stroke="#8c8c8c" stroke-width="1.25"/>
<line x1="77.7" y1="515.4" x2="507" y2="515.4" stroke="#8c8c8c" stroke-width="1.25"/>
<line x1="77.7" y1="482.85" x2="130" y2="482.85" stroke="#8c8c8c" stroke-width="1.25"/>
<line x1="224.5" y1="482.85" x2="507" y2="482.85" stroke="#8c8c8c" stroke-width="1.25"/>
<line x1="77.7" y1="450.3" x2="80.7" y2="450.3" stroke="#bbb" stroke-width="0.8"/>
<line x1="77.7" y1="450.3" x2="77.7" y2="645.6" stroke="#8c8c8c" stroke-width="1.1"/>
<line x1="77.7" y1="645.6" x2="507" y2="645.6" stroke="#666" stroke-width="1.2"/>
<text x="64.28" y="650.5" font-size="13.95" stroke="#111" stroke-width="0.25" fill="#111" textLength="7.45" lengthAdjust="spacingAndGlyphs">0</text>
<text x="64.26" y="617.95" font-size="13.95" stroke="#111" stroke-width="0.25" fill="#111" textLength="7.51" lengthAdjust="spacingAndGlyphs">5</text>
<text x="55.7" y="585.4" font-size="13.95" stroke="#111" stroke-width="0.25" fill="#111" textLength="16.06" lengthAdjust="spacingAndGlyphs">10</text>
<text x="55.7" y="552.85" font-size="13.95" stroke="#111" stroke-width="0.25" fill="#111" textLength="16.11" lengthAdjust="spacingAndGlyphs">15</text>
<text x="56.09" y="520.3" font-size="13.95" stroke="#111" stroke-width="0.25" fill="#111" textLength="15.66" lengthAdjust="spacingAndGlyphs">20</text>
<text x="56.09" y="487.75" font-size="13.95" stroke="#111" stroke-width="0.25" fill="#111" textLength="15.7" lengthAdjust="spacingAndGlyphs">25</text>
<text x="56.27" y="455.2" font-size="13.95" stroke="#111" stroke-width="0.25" fill="#111" textLength="15.47" lengthAdjust="spacingAndGlyphs">30</text>
<line x1="107.65" y1="636.9" x2="107.65" y2="638.1" stroke="#222" stroke-width="1"/>
<line x1="103.65" y1="636.9" x2="111.65" y2="636.9" stroke="#222" stroke-width="1"/>
<rect x="95.6" y="638.6" width="24.1" height="7" fill="#fff" stroke="#111" stroke-width="1.1"/>
<line x1="132.45" y1="634" x2="132.45" y2="635.8" stroke="#111" stroke-width="1.2"/>
<line x1="128.15" y1="634.5" x2="136.75" y2="634.5" stroke="#111" stroke-width="1.3"/>
<rect x="120.2" y="635.8" width="24.5" height="9.8" fill="#000"/>
<text x="97.05" y="665.7" font-size="13.08" font-weight="bold" stroke="#000" stroke-width="0.2" fill="#000" textLength="36.44" lengthAdjust="spacingAndGlyphs">Mock</text>
<line x1="184.05" y1="636.9" x2="184.05" y2="638.1" stroke="#222" stroke-width="1"/>
<line x1="180.05" y1="636.9" x2="188.05" y2="636.9" stroke="#222" stroke-width="1"/>
<rect x="172" y="638.6" width="24.1" height="7" fill="#fff" stroke="#111" stroke-width="1.1"/>
<line x1="208.6" y1="624" x2="208.6" y2="626" stroke="#111" stroke-width="1.2"/>
<line x1="204.3" y1="624.5" x2="212.9" y2="624.5" stroke="#111" stroke-width="1.3"/>
<rect x="196.6" y="626" width="24" height="19.6" fill="#000"/>
<text x="187.39" y="665.7" font-size="13.08" font-weight="bold" stroke="#000" stroke-width="0.2" fill="#000" textLength="21.76" lengthAdjust="spacingAndGlyphs">WT</text>
<line x1="267.05" y1="632.9" x2="267.05" y2="634.1" stroke="#222" stroke-width="1"/>
<line x1="263.05" y1="632.9" x2="271.05" y2="632.9" stroke="#222" stroke-width="1"/>
<rect x="255" y="634.6" width="24.1" height="11" fill="#fff" stroke="#111" stroke-width="1.1"/>
<line x1="291.85" y1="605.9" x2="291.85" y2="609.6" stroke="#111" stroke-width="1.2"/>
<line x1="287.55" y1="606.4" x2="296.15" y2="606.4" stroke="#111" stroke-width="1.3"/>
<rect x="279.6" y="609.6" width="24.5" height="36" fill="#000"/>
<text x="255.07" y="665.7" font-size="13.08" font-weight="bold" stroke="#000" stroke-width="0.2" fill="#000" textLength="46.14" lengthAdjust="spacingAndGlyphs">R260W</text>
<line x1="352.9" y1="630.6" x2="352.9" y2="631.8" stroke="#222" stroke-width="1"/>
<line x1="348.9" y1="630.6" x2="356.9" y2="630.6" stroke="#222" stroke-width="1"/>
<rect x="340.7" y="632.3" width="24.4" height="13.3" fill="#fff" stroke="#111" stroke-width="1.1"/>
<line x1="377.9" y1="533.8" x2="377.9" y2="539.1" stroke="#111" stroke-width="1.2"/>
<line x1="373.6" y1="534.3" x2="382.2" y2="534.3" stroke="#111" stroke-width="1.3"/>
<rect x="365.6" y="539.1" width="24.6" height="106.5" fill="#000"/>
<text x="340.03" y="665.7" font-size="13.08" font-weight="bold" stroke="#000" stroke-width="0.2" fill="#000" textLength="44.94" lengthAdjust="spacingAndGlyphs">D303N</text>
<line x1="445" y1="634.6" x2="445" y2="635.8" stroke="#222" stroke-width="1"/>
<line x1="441" y1="634.6" x2="449" y2="634.6" stroke="#222" stroke-width="1"/>
<rect x="433" y="636.3" width="24" height="9.3" fill="#fff" stroke="#111" stroke-width="1.1"/>
<line x1="469.65" y1="462.1" x2="469.65" y2="468.8" stroke="#111" stroke-width="1.2"/>
<line x1="465.35" y1="462.6" x2="473.95" y2="462.6" stroke="#111" stroke-width="1.3"/>
<rect x="457.5" y="468.8" width="24.3" height="176.8" fill="#000"/>
<text x="433.06" y="665.7" font-size="13.08" font-weight="bold" stroke="#000" stroke-width="0.2" fill="#000" textLength="42.92" lengthAdjust="spacingAndGlyphs">Y570C</text>
<rect x="131.6" y="465.3" width="10.8" height="11.7" fill="#fff" stroke="#222" stroke-width="1"/>
<rect x="131.1" y="490.3" width="11.7" height="11.7" fill="#000"/>
<text x="147.37" y="474.8" font-size="13.23" stroke="#111" stroke-width="0.25" fill="#111" textLength="29.47" lengthAdjust="spacingAndGlyphs">ASC</text>
<text x="179.63" y="475.1" font-size="13.23" stroke="#111" stroke-width="0.25" fill="#111" textLength="4.14" lengthAdjust="spacingAndGlyphs">(</text>
<text x="188.48" y="474.8" font-size="13.23" stroke="#111" stroke-width="0.25" fill="#111" textLength="4.64" lengthAdjust="spacingAndGlyphs">-</text>
<text x="199.13" y="475.1" font-size="13.23" stroke="#111" stroke-width="0.25" fill="#111" textLength="4.14" lengthAdjust="spacingAndGlyphs">)</text>
<text x="147.37" y="499.8" font-size="13.23" stroke="#111" stroke-width="0.25" fill="#111" textLength="29.47" lengthAdjust="spacingAndGlyphs">ASC</text>
<text x="179.63" y="500.1" font-size="13.23" stroke="#111" stroke-width="0.25" fill="#111" textLength="4.14" lengthAdjust="spacingAndGlyphs">(</text>
<text x="188.42" y="499.8" font-size="13.23" stroke="#111" stroke-width="0.25" fill="#111" textLength="8.17" lengthAdjust="spacingAndGlyphs">+</text>
<text x="203.23" y="500.1" font-size="13.23" stroke="#111" stroke-width="0.25" fill="#111" textLength="4.14" lengthAdjust="spacingAndGlyphs">)</text>
<text transform="translate(44.2,592.22) rotate(-90)" x="0" y="0" font-size="14.68" stroke="#111" stroke-width="0.25" fill="#111" textLength="42" lengthAdjust="spacingAndGlyphs">NF-κB</text>
<text transform="translate(44.2,541.54) rotate(-90)" x="0" y="0" font-size="14.68" stroke="#111" stroke-width="0.25" fill="#111" textLength="34.37" lengthAdjust="spacingAndGlyphs">(fold)</text>
<text x="6.77" y="711" font-size="26.02" font-weight="bold" stroke="#000" stroke-width="0.2" fill="#000" textLength="18.11" lengthAdjust="spacingAndGlyphs">C</text>
<line x1="60.3" y1="867.38" x2="108" y2="867.38" stroke="#8c8c8c" stroke-width="1"/>
<line x1="174" y1="867.38" x2="174" y2="867.38" stroke="#8c8c8c" stroke-width="1"/>
<line x1="60.3" y1="845.96" x2="174" y2="845.96" stroke="#8c8c8c" stroke-width="1"/>
<line x1="60.3" y1="824.54" x2="174" y2="824.54" stroke="#8c8c8c" stroke-width="1"/>
<line x1="60.3" y1="803.12" x2="174" y2="803.12" stroke="#8c8c8c" stroke-width="1"/>
<line x1="60.3" y1="781.7" x2="174" y2="781.7" stroke="#8c8c8c" stroke-width="1"/>
<line x1="60.3" y1="760.28" x2="174" y2="760.28" stroke="#8c8c8c" stroke-width="1"/>
<line x1="60.3" y1="738.86" x2="174" y2="738.86" stroke="#8c8c8c" stroke-width="1"/>
<line x1="60.3" y1="717.44" x2="62.8" y2="717.44" stroke="#bbb" stroke-width="0.8"/>
<line x1="60.3" y1="717.44" x2="60.3" y2="888.8" stroke="#777" stroke-width="1.1"/>
<line x1="60.3" y1="888.8" x2="174" y2="888.8" stroke="#666" stroke-width="1.2"/>
<line x1="79.5" y1="886.3" x2="79.5" y2="888.8" stroke="#bbb" stroke-width="0.9"/>
<line x1="101.8" y1="886.3" x2="101.8" y2="888.8" stroke="#bbb" stroke-width="0.9"/>
<line x1="124.9" y1="886.3" x2="124.9" y2="888.8" stroke="#bbb" stroke-width="0.9"/>
<line x1="147.5" y1="886.3" x2="147.5" y2="888.8" stroke="#bbb" stroke-width="0.9"/>
<line x1="170" y1="886.3" x2="170" y2="888.8" stroke="#bbb" stroke-width="0.9"/>
<text x="47.86" y="897.2" font-size="14.1" stroke="#111" stroke-width="0.25" fill="#111" textLength="7.68" lengthAdjust="spacingAndGlyphs">0</text>
<text x="38.96" y="875.78" font-size="14.1" stroke="#111" stroke-width="0.25" fill="#111" textLength="16.62" lengthAdjust="spacingAndGlyphs">10</text>
<text x="39.37" y="854.36" font-size="14.1" stroke="#111" stroke-width="0.25" fill="#111" textLength="16.2" lengthAdjust="spacingAndGlyphs">20</text>
<text x="39.55" y="832.94" font-size="14.1" stroke="#111" stroke-width="0.25" fill="#111" textLength="16.01" lengthAdjust="spacingAndGlyphs">30</text>
<text x="39.77" y="811.52" font-size="14.1" stroke="#111" stroke-width="0.25" fill="#111" textLength="15.78" lengthAdjust="spacingAndGlyphs">40</text>
<text x="39.52" y="790.1" font-size="14.1" stroke="#111" stroke-width="0.25" fill="#111" textLength="16.04" lengthAdjust="spacingAndGlyphs">50</text>
<text x="39.36" y="768.68" font-size="14.1" stroke="#111" stroke-width="0.25" fill="#111" textLength="16.21" lengthAdjust="spacingAndGlyphs">60</text>
<text x="39.35" y="747.26" font-size="14.1" stroke="#111" stroke-width="0.25" fill="#111" textLength="16.22" lengthAdjust="spacingAndGlyphs">70</text>
<text x="39.47" y="725.84" font-size="14.1" stroke="#111" stroke-width="0.25" fill="#111" textLength="16.09" lengthAdjust="spacingAndGlyphs">80</text>
<text x="67.27" y="911.5" font-size="13.95" stroke="#111" stroke-width="0.25" fill="#111" textLength="16.49" lengthAdjust="spacingAndGlyphs">1h</text>
<text x="112.67" y="911.5" font-size="13.95" stroke="#111" stroke-width="0.25" fill="#111" textLength="16.06" lengthAdjust="spacingAndGlyphs">2h</text>
<text x="158.66" y="911.5" font-size="13.95" stroke="#111" stroke-width="0.25" fill="#111" textLength="15.87" lengthAdjust="spacingAndGlyphs">3h</text>
<path d="M70.9 837.3 L93.9 758.4 L117 738.5 L139.2 725.8 L162.1 725.8" fill="none" stroke="#a8a8a8" stroke-width="4.6" stroke-linejoin="round"/>
<path d="M70.9 848.8 L93.9 765.3 L117 750.1 L139.2 753.8 L162.1 788" fill="none" stroke="#000" stroke-width="3.2" stroke-linejoin="miter"/>
<rect x="68.6" y="846.5" width="4.6" height="4.6" fill="#000"/>
<rect x="91.6" y="763" width="4.6" height="4.6" fill="#000"/>
<rect x="114.7" y="747.8" width="4.6" height="4.6" fill="#000"/>
<rect x="136.9" y="751.5" width="4.6" height="4.6" fill="#000"/>
<rect x="159.8" y="785.7" width="4.6" height="4.6" fill="#000"/>
<circle cx="70.9" cy="837.3" r="2.75" fill="#fff" stroke="#000" stroke-width="1.4"/>
<circle cx="93.9" cy="758.4" r="2.75" fill="#fff" stroke="#000" stroke-width="1.4"/>
<circle cx="117" cy="738.5" r="2.75" fill="#fff" stroke="#000" stroke-width="1.4"/>
<circle cx="139.2" cy="725.8" r="2.75" fill="#fff" stroke="#000" stroke-width="1.4"/>
<circle cx="162.1" cy="725.8" r="2.75" fill="#fff" stroke="#000" stroke-width="1.4"/>
<line x1="112" y1="853.5" x2="131.5" y2="853.5" stroke="#a8a8a8" stroke-width="4.4"/>
<circle cx="121.5" cy="853.5" r="2.4" fill="#fff" stroke="#000" stroke-width="1.2"/>
<line x1="112" y1="868.3" x2="131.5" y2="868.3" stroke="#000" stroke-width="3.2"/>
<rect x="119.3" y="866.1" width="4.4" height="4.4" fill="#000"/>
<text x="134.54" y="860.8" font-size="13.95" stroke="#111" stroke-width="0.25" fill="#111" textLength="20.46" lengthAdjust="spacingAndGlyphs">WT</text>
<text x="133.48" y="875" font-size="13.95" stroke="#111" stroke-width="0.25" fill="#111" textLength="44.17" lengthAdjust="spacingAndGlyphs">Y570C</text>
<text transform="translate(26.8,826.76) rotate(-90)" x="0" y="0" font-size="14.68" stroke="#111" stroke-width="0.25" fill="#111" textLength="58.49" lengthAdjust="spacingAndGlyphs">GFP (%)</text>
<line x1="230.4" y1="868.81" x2="344" y2="868.81" stroke="#8c8c8c" stroke-width="1"/>
<line x1="230.4" y1="847.32" x2="344" y2="847.32" stroke="#8c8c8c" stroke-width="1"/>
<line x1="230.4" y1="825.83" x2="344" y2="825.83" stroke="#8c8c8c" stroke-width="1"/>
<line x1="230.4" y1="804.34" x2="344" y2="804.34" stroke="#8c8c8c" stroke-width="1"/>
<line x1="230.4" y1="782.85" x2="344" y2="782.85" stroke="#8c8c8c" stroke-width="1"/>
<line x1="230.4" y1="761.36" x2="344" y2="761.36" stroke="#8c8c8c" stroke-width="1"/>
<line x1="230.4" y1="739.87" x2="236.2" y2="739.87" stroke="#8c8c8c" stroke-width="1"/>
<line x1="308" y1="739.87" x2="344" y2="739.87" stroke="#8c8c8c" stroke-width="1"/>
<line x1="230.4" y1="718.38" x2="232.9" y2="718.38" stroke="#bbb" stroke-width="0.8"/>
<line x1="230.4" y1="718.38" x2="230.4" y2="890.3" stroke="#777" stroke-width="1.1"/>
<line x1="230.4" y1="890.3" x2="344" y2="890.3" stroke="#666" stroke-width="1.2"/>
<line x1="245.3" y1="887.8" x2="245.3" y2="890.3" stroke="#bbb" stroke-width="0.9"/>
<line x1="268.3" y1="887.8" x2="268.3" y2="890.3" stroke="#bbb" stroke-width="0.9"/>
<line x1="291" y1="887.8" x2="291" y2="890.3" stroke="#bbb" stroke-width="0.9"/>
<line x1="313.7" y1="887.8" x2="313.7" y2="890.3" stroke="#bbb" stroke-width="0.9"/>
<line x1="336.5" y1="887.8" x2="336.5" y2="890.3" stroke="#bbb" stroke-width="0.9"/>
<text x="217.16" y="897.6" font-size="14.1" stroke="#111" stroke-width="0.25" fill="#111" textLength="7.68" lengthAdjust="spacingAndGlyphs">0</text>
<text x="217.14" y="876.11" font-size="14.1" stroke="#111" stroke-width="0.25" fill="#111" textLength="7.74" lengthAdjust="spacingAndGlyphs">5</text>
<text x="208.26" y="854.62" font-size="14.1" stroke="#111" stroke-width="0.25" fill="#111" textLength="16.62" lengthAdjust="spacingAndGlyphs">10</text>
<text x="208.26" y="833.13" font-size="14.1" stroke="#111" stroke-width="0.25" fill="#111" textLength="16.67" lengthAdjust="spacingAndGlyphs">15</text>
<text x="208.67" y="811.64" font-size="14.1" stroke="#111" stroke-width="0.25" fill="#111" textLength="16.2" lengthAdjust="spacingAndGlyphs">20</text>
<text x="208.67" y="790.15" font-size="14.1" stroke="#111" stroke-width="0.25" fill="#111" textLength="16.25" lengthAdjust="spacingAndGlyphs">25</text>
<text x="208.85" y="768.66" font-size="14.1" stroke="#111" stroke-width="0.25" fill="#111" textLength="16.01" lengthAdjust="spacingAndGlyphs">30</text>
<text x="208.85" y="747.17" font-size="14.1" stroke="#111" stroke-width="0.25" fill="#111" textLength="16.06" lengthAdjust="spacingAndGlyphs">35</text>
<text x="209.07" y="725.68" font-size="14.1" stroke="#111" stroke-width="0.25" fill="#111" textLength="15.78" lengthAdjust="spacingAndGlyphs">40</text>
<text x="237.54" y="911.5" font-size="13.95" stroke="#111" stroke-width="0.25" fill="#111" textLength="16.95" lengthAdjust="spacingAndGlyphs">1h</text>
<text x="282.21" y="911.5" font-size="13.95" stroke="#111" stroke-width="0.25" fill="#111" textLength="17.4" lengthAdjust="spacingAndGlyphs">2h</text>
<text x="328.01" y="911.5" font-size="13.95" stroke="#111" stroke-width="0.25" fill="#111" textLength="17.3" lengthAdjust="spacingAndGlyphs">3h</text>
<path d="M245.3 866.7 L268.3 874.9 L291 874.9 L313.7 874.9 L336.5 872.6" fill="none" stroke="#a8a8a8" stroke-width="4.6" stroke-linejoin="round"/>
<path d="M245.3 861.8 L268.3 863.5 L291 811.1 L313.7 749.4 L336.5 727.2" fill="none" stroke="#000" stroke-width="3.2" stroke-linejoin="miter"/>
<rect x="243" y="859.5" width="4.6" height="4.6" fill="#000"/>
<rect x="266" y="861.2" width="4.6" height="4.6" fill="#000"/>
<rect x="288.7" y="808.8" width="4.6" height="4.6" fill="#000"/>
<rect x="311.4" y="747.1" width="4.6" height="4.6" fill="#000"/>
<rect x="334.2" y="724.9" width="4.6" height="4.6" fill="#000"/>
<circle cx="245.3" cy="866.7" r="2.75" fill="#fff" stroke="#000" stroke-width="1.4"/>
<circle cx="268.3" cy="874.9" r="2.75" fill="#fff" stroke="#000" stroke-width="1.4"/>
<circle cx="291" cy="874.9" r="2.75" fill="#fff" stroke="#000" stroke-width="1.4"/>
<circle cx="313.7" cy="874.9" r="2.75" fill="#fff" stroke="#000" stroke-width="1.4"/>
<circle cx="336.5" cy="872.6" r="2.75" fill="#fff" stroke="#000" stroke-width="1.4"/>
<line x1="240.4" y1="733" x2="260" y2="733" stroke="#a8a8a8" stroke-width="4.4"/>
<circle cx="249.6" cy="733" r="2.4" fill="#fff" stroke="#000" stroke-width="1.2"/>
<line x1="240.4" y1="749" x2="260" y2="749" stroke="#000" stroke-width="3.2"/>
<rect x="247.4" y="746.8" width="4.4" height="4.4" fill="#000"/>
<text x="261.94" y="737.7" font-size="13.95" stroke="#111" stroke-width="0.25" fill="#111" textLength="21.88" lengthAdjust="spacingAndGlyphs">WT</text>
<text x="261.7" y="754" font-size="13.95" stroke="#111" stroke-width="0.25" fill="#111" textLength="42.33" lengthAdjust="spacingAndGlyphs">Y570C</text>
<text transform="translate(203.1,850.43) rotate(-90)" x="0" y="0" font-size="14.68" stroke="#111" stroke-width="0.25" fill="#111" textLength="100.35" lengthAdjust="spacingAndGlyphs">Annexin -V (%)</text>
<line x1="393.9" y1="869.76" x2="506.5" y2="869.76" stroke="#8c8c8c" stroke-width="1"/>
<line x1="393.9" y1="848.22" x2="506.5" y2="848.22" stroke="#8c8c8c" stroke-width="1"/>
<line x1="393.9" y1="826.68" x2="506.5" y2="826.68" stroke="#8c8c8c" stroke-width="1"/>
<line x1="393.9" y1="805.14" x2="506.5" y2="805.14" stroke="#8c8c8c" stroke-width="1"/>
<line x1="393.9" y1="783.6" x2="506.5" y2="783.6" stroke="#8c8c8c" stroke-width="1"/>
<line x1="393.9" y1="762.06" x2="506.5" y2="762.06" stroke="#8c8c8c" stroke-width="1"/>
<line x1="393.9" y1="740.52" x2="398.5" y2="740.52" stroke="#8c8c8c" stroke-width="1"/>
<line x1="464.6" y1="740.52" x2="506.5" y2="740.52" stroke="#8c8c8c" stroke-width="1"/>
<line x1="393.9" y1="718.98" x2="396.4" y2="718.98" stroke="#bbb" stroke-width="0.8"/>
<line x1="393.9" y1="718.98" x2="393.9" y2="891.3" stroke="#777" stroke-width="1.1"/>
<line x1="393.9" y1="891.3" x2="506.5" y2="891.3" stroke="#666" stroke-width="1.2"/>
<line x1="408.2" y1="888.8" x2="408.2" y2="891.3" stroke="#bbb" stroke-width="0.9"/>
<line x1="430.7" y1="888.8" x2="430.7" y2="891.3" stroke="#bbb" stroke-width="0.9"/>
<line x1="453.6" y1="888.8" x2="453.6" y2="891.3" stroke="#bbb" stroke-width="0.9"/>
<line x1="476.1" y1="888.8" x2="476.1" y2="891.3" stroke="#bbb" stroke-width="0.9"/>
<line x1="499.2" y1="888.8" x2="499.2" y2="891.3" stroke="#bbb" stroke-width="0.9"/>
<text x="380.46" y="899.2" font-size="14.1" stroke="#111" stroke-width="0.25" fill="#111" textLength="7.68" lengthAdjust="spacingAndGlyphs">0</text>
<text x="380.44" y="877.66" font-size="14.1" stroke="#111" stroke-width="0.25" fill="#111" textLength="7.74" lengthAdjust="spacingAndGlyphs">5</text>
<text x="371.56" y="856.12" font-size="14.1" stroke="#111" stroke-width="0.25" fill="#111" textLength="16.62" lengthAdjust="spacingAndGlyphs">10</text>
<text x="371.56" y="834.58" font-size="14.1" stroke="#111" stroke-width="0.25" fill="#111" textLength="16.67" lengthAdjust="spacingAndGlyphs">15</text>
<text x="371.97" y="813.04" font-size="14.1" stroke="#111" stroke-width="0.25" fill="#111" textLength="16.2" lengthAdjust="spacingAndGlyphs">20</text>
<text x="371.97" y="791.5" font-size="14.1" stroke="#111" stroke-width="0.25" fill="#111" textLength="16.25" lengthAdjust="spacingAndGlyphs">25</text>
<text x="372.15" y="769.96" font-size="14.1" stroke="#111" stroke-width="0.25" fill="#111" textLength="16.01" lengthAdjust="spacingAndGlyphs">30</text>
<text x="372.15" y="748.42" font-size="14.1" stroke="#111" stroke-width="0.25" fill="#111" textLength="16.06" lengthAdjust="spacingAndGlyphs">35</text>
<text x="372.37" y="726.88" font-size="14.1" stroke="#111" stroke-width="0.25" fill="#111" textLength="15.78" lengthAdjust="spacingAndGlyphs">40</text>
<text x="401.15" y="911.5" font-size="13.95" stroke="#111" stroke-width="0.25" fill="#111" textLength="16.84" lengthAdjust="spacingAndGlyphs">1h</text>
<text x="445.57" y="911.5" font-size="13.95" stroke="#111" stroke-width="0.25" fill="#111" textLength="18.3" lengthAdjust="spacingAndGlyphs">2h</text>
<text x="491.58" y="911.5" font-size="13.95" stroke="#111" stroke-width="0.25" fill="#111" textLength="17.96" lengthAdjust="spacingAndGlyphs">3h</text>
<path d="M408.2 870 L430.7 882 L453.6 880.8 L476.1 879.8 L499.2 874.4" fill="none" stroke="#a8a8a8" stroke-width="4.6" stroke-linejoin="round"/>
<path d="M408.2 864.4 L430.7 866.7 L453.6 818.3 L476.1 770.4 L499.2 745" fill="none" stroke="#000" stroke-width="3.2" stroke-linejoin="miter"/>
<rect x="405.9" y="862.1" width="4.6" height="4.6" fill="#000"/>
<rect x="428.4" y="864.4" width="4.6" height="4.6" fill="#000"/>
<rect x="451.3" y="816" width="4.6" height="4.6" fill="#000"/>
<rect x="473.8" y="768.1" width="4.6" height="4.6" fill="#000"/>
<rect x="496.9" y="742.7" width="4.6" height="4.6" fill="#000"/>
<circle cx="408.2" cy="870" r="2.75" fill="#fff" stroke="#000" stroke-width="1.4"/>
<circle cx="430.7" cy="882" r="2.75" fill="#fff" stroke="#000" stroke-width="1.4"/>
<circle cx="453.6" cy="880.8" r="2.75" fill="#fff" stroke="#000" stroke-width="1.4"/>
<circle cx="476.1" cy="879.8" r="2.75" fill="#fff" stroke="#000" stroke-width="1.4"/>
<circle cx="499.2" cy="874.4" r="2.75" fill="#fff" stroke="#000" stroke-width="1.4"/>
<line x1="402.5" y1="734" x2="422.5" y2="734" stroke="#a8a8a8" stroke-width="4.4"/>
<circle cx="411.5" cy="734" r="2.4" fill="#fff" stroke="#000" stroke-width="1.2"/>
<line x1="402.5" y1="750.2" x2="422.5" y2="750.2" stroke="#000" stroke-width="3.2"/>
<rect x="409.3" y="748" width="4.4" height="4.4" fill="#000"/>
<text x="424.53" y="741" font-size="13.95" stroke="#111" stroke-width="0.25" fill="#111" textLength="23.51" lengthAdjust="spacingAndGlyphs">WT</text>
<text x="424.28" y="755.8" font-size="13.95" stroke="#111" stroke-width="0.25" fill="#111" textLength="44.58" lengthAdjust="spacingAndGlyphs">Y570C</text>
<text transform="translate(365.9,824.16) rotate(-90)" x="0" y="0" font-size="14.68" stroke="#111" stroke-width="0.25" fill="#111" textLength="70.78" lengthAdjust="spacingAndGlyphs">7-AAD (%)</text>
</svg>
</body></html>
